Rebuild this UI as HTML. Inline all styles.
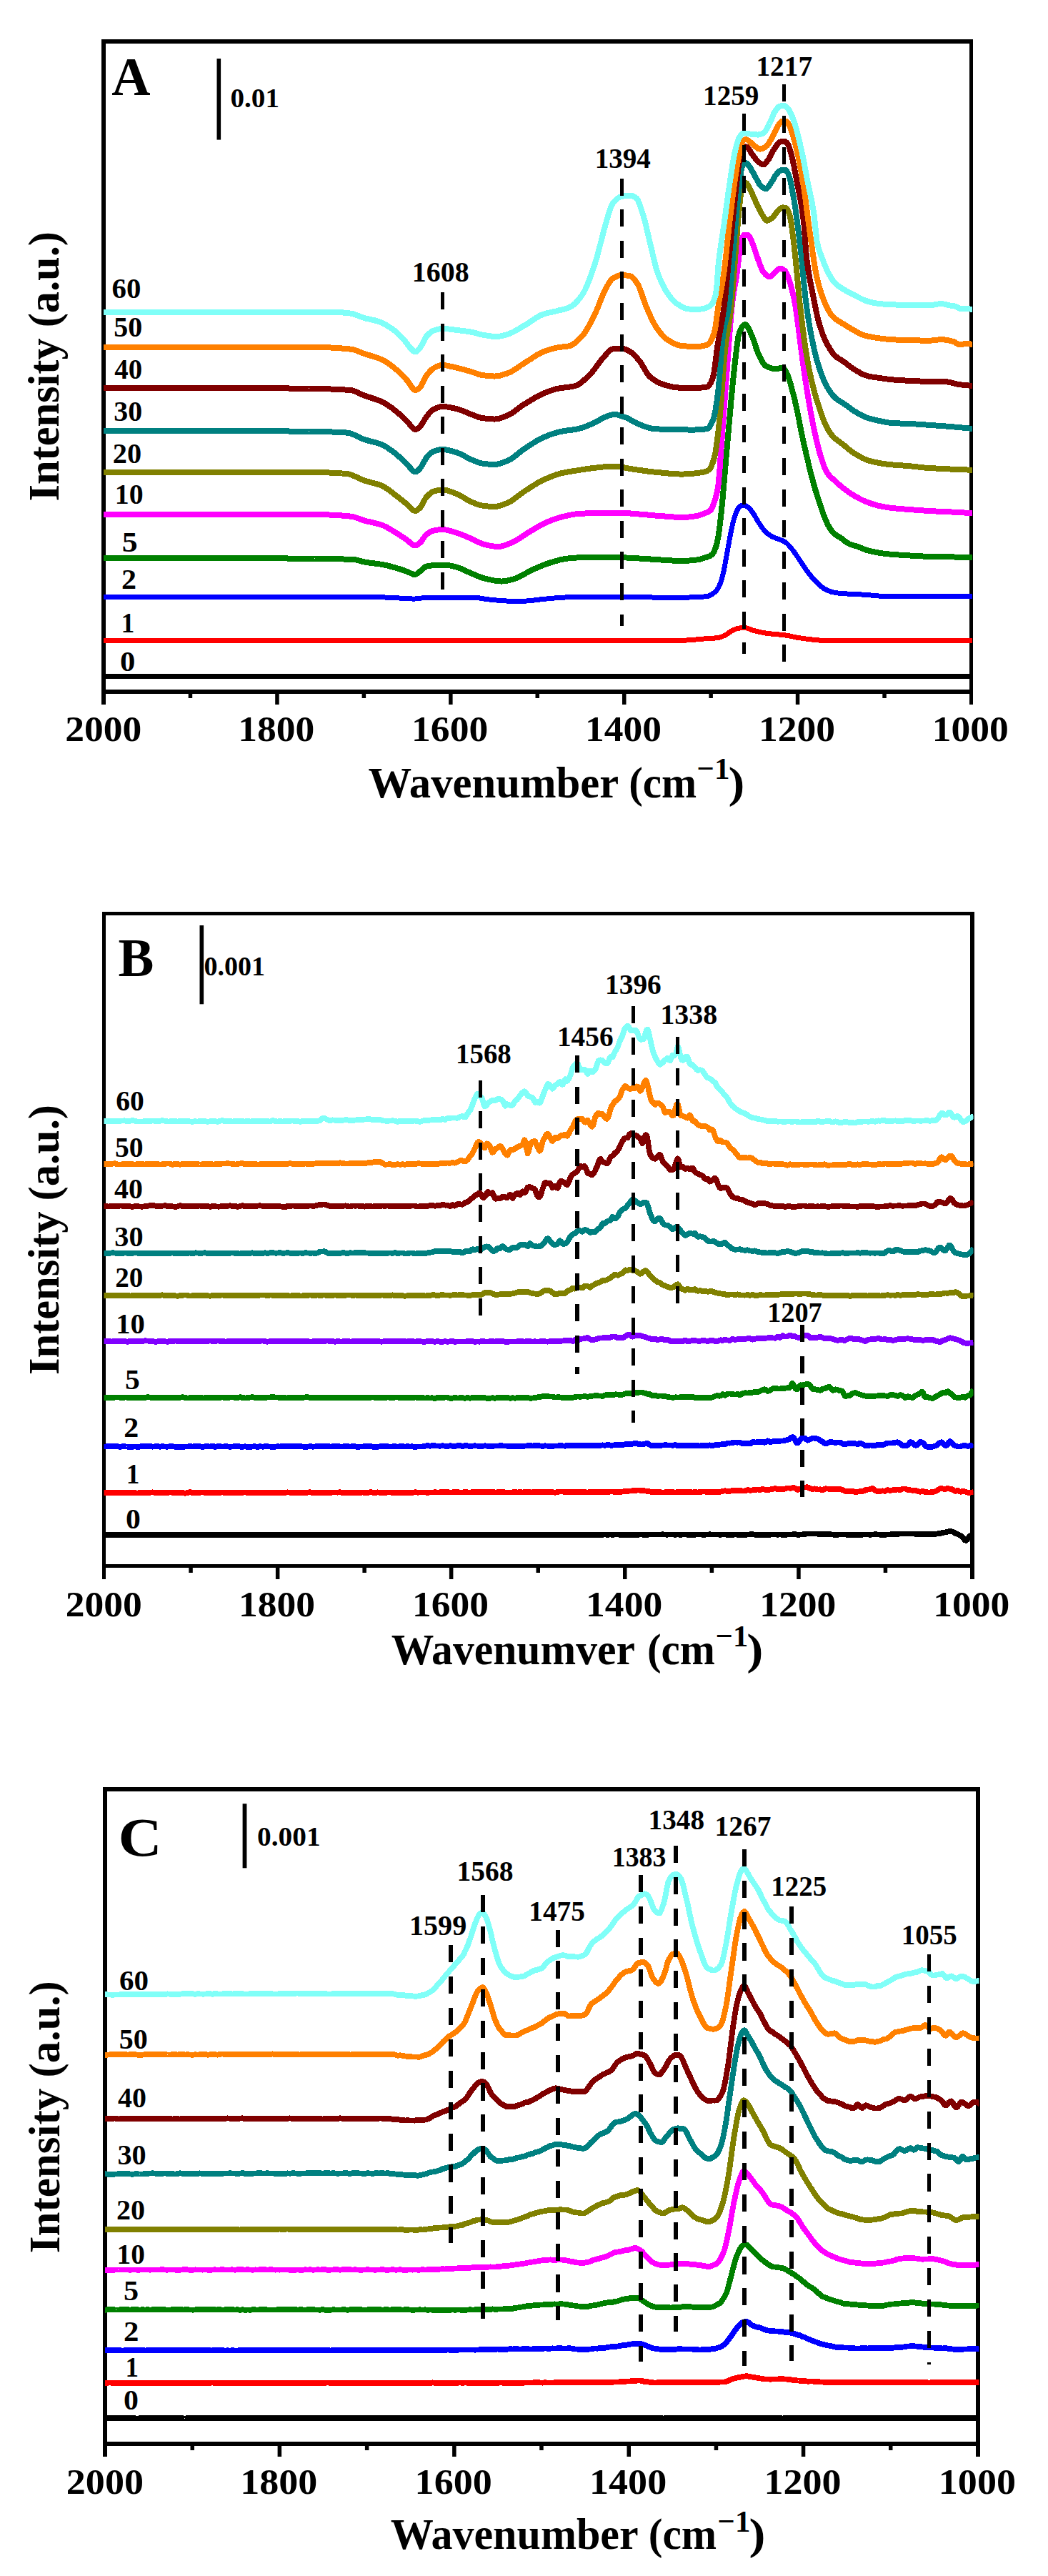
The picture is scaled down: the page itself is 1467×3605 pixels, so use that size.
<!DOCTYPE html>
<html><head><meta charset="utf-8"><title>Spectra</title><style>html,body{margin:0;padding:0;background:#fff}svg{display:block}svg text{font-family:"Liberation Serif",serif;font-weight:bold}</style></head><body>
<svg width="1467" height="3605" viewBox="0 0 1467 3605" fill="#000">
<rect width="1467" height="3605" fill="#fff"/>
<clipPath id="clipA"><rect x="145.0" y="61" width="1216.0" height="910"/></clipPath>
<path d="M142 55H1362V971H142Z M148 61V965H1357V61Z" fill="#000" fill-rule="evenodd"/>
<rect x="142" y="971" width="6" height="15"/>
<text x="91.3" y="1037.2" font-size="51" textLength="107.1" lengthAdjust="spacingAndGlyphs">2000</text>
<rect x="263.7" y="971" width="5.5" height="6"/>
<rect x="385.2" y="971" width="5.5" height="15"/>
<text x="333.2" y="1037.2" font-size="51" textLength="107.1" lengthAdjust="spacingAndGlyphs">1800</text>
<rect x="506.6" y="971" width="5.5" height="6"/>
<rect x="628.1" y="971" width="5.5" height="15"/>
<text x="576.1" y="1037.2" font-size="51" textLength="107.1" lengthAdjust="spacingAndGlyphs">1600</text>
<rect x="749.5" y="971" width="5.5" height="6"/>
<rect x="871.0" y="971" width="5.5" height="15"/>
<text x="819.0" y="1037.2" font-size="51" textLength="107.1" lengthAdjust="spacingAndGlyphs">1400</text>
<rect x="992.4" y="971" width="5.5" height="6"/>
<rect x="1113.8" y="971" width="5.5" height="15"/>
<text x="1061.9" y="1037.2" font-size="51" textLength="107.1" lengthAdjust="spacingAndGlyphs">1200</text>
<rect x="1235.3" y="971" width="5.5" height="6"/>
<rect x="1357" y="971" width="5" height="15"/>
<text x="1304.8" y="1037.2" font-size="51" textLength="107.1" lengthAdjust="spacingAndGlyphs">1000</text>
<g clip-path="url(#clipA)" fill="none" shape-rendering="crispEdges" stroke-linejoin="round" stroke-width="8">
<path d="M140.0 946.4L142.0 946.4L144.0 946.4L146.0 946.4L148.0 946.4L150.0 946.4L152.0 946.4L154.0 946.4L156.0 946.4L158.0 946.4L160.0 946.4L162.0 946.4L164.0 946.4L166.0 946.4L168.0 946.4L170.0 946.4L172.0 946.4L174.0 946.4L176.0 946.4L178.0 946.4L180.0 946.4L182.0 946.4L184.0 946.4L186.0 946.4L188.0 946.4L190.0 946.4L192.0 946.4L194.0 946.4L196.0 946.4L198.0 946.4L200.0 946.4L202.0 946.4L204.0 946.4L206.0 946.4L208.0 946.4L210.0 946.4L212.0 946.4L214.0 946.4L216.0 946.4L218.0 946.4L220.0 946.4L222.0 946.4L224.0 946.4L226.0 946.4L228.0 946.4L230.0 946.4L232.0 946.4L234.0 946.4L236.0 946.4L238.0 946.4L240.0 946.4L242.0 946.4L244.0 946.4L246.0 946.4L248.0 946.4L250.0 946.4L252.0 946.4L254.0 946.4L256.0 946.4L258.0 946.4L260.0 946.4L262.0 946.4L264.0 946.4L266.0 946.4L268.0 946.4L270.0 946.4L272.0 946.4L274.0 946.4L276.0 946.4L278.0 946.4L280.0 946.4L282.0 946.4L284.0 946.4L286.0 946.4L288.0 946.4L290.0 946.4L292.0 946.4L294.0 946.4L296.0 946.4L298.0 946.4L300.0 946.4L302.0 946.4L304.0 946.4L306.0 946.4L308.0 946.4L310.0 946.4L312.0 946.4L314.0 946.4L316.0 946.4L318.0 946.4L320.0 946.4L322.0 946.4L324.0 946.4L326.0 946.4L328.0 946.4L330.0 946.4L332.0 946.4L334.0 946.4L336.0 946.4L338.0 946.4L340.0 946.4L342.0 946.4L344.0 946.4L346.0 946.4L348.0 946.4L350.0 946.4L352.0 946.4L354.0 946.4L356.0 946.4L358.0 946.4L360.0 946.4L362.0 946.4L364.0 946.4L366.0 946.4L368.0 946.4L370.0 946.4L372.0 946.4L374.0 946.4L376.0 946.4L378.0 946.4L380.0 946.4L382.0 946.4L384.0 946.4L386.0 946.4L388.0 946.4L390.0 946.4L392.0 946.4L394.0 946.4L396.0 946.4L398.0 946.4L400.0 946.4L402.0 946.4L404.0 946.4L406.0 946.4L408.0 946.4L410.0 946.4L412.0 946.4L414.0 946.4L416.0 946.4L418.0 946.4L420.0 946.4L422.0 946.4L424.0 946.4L426.0 946.4L428.0 946.4L430.0 946.4L432.0 946.4L434.0 946.4L436.0 946.4L438.0 946.4L440.0 946.4L442.0 946.4L444.0 946.4L446.0 946.4L448.0 946.4L450.0 946.4L452.0 946.4L454.0 946.4L456.0 946.4L458.0 946.4L460.0 946.4L462.0 946.4L464.0 946.4L466.0 946.4L468.0 946.4L470.0 946.4L472.0 946.4L474.0 946.4L476.0 946.4L478.0 946.4L480.0 946.4L482.0 946.4L484.0 946.4L486.0 946.4L488.0 946.4L490.0 946.4L492.0 946.4L494.0 946.4L496.0 946.4L498.0 946.4L500.0 946.4L502.0 946.4L504.0 946.4L506.0 946.4L508.0 946.4L510.0 946.4L512.0 946.4L514.0 946.4L516.0 946.4L518.0 946.4L520.0 946.4L522.0 946.4L524.0 946.4L526.0 946.4L528.0 946.4L530.0 946.4L532.0 946.4L534.0 946.4L536.0 946.4L538.0 946.4L540.0 946.4L542.0 946.4L544.0 946.4L546.0 946.4L548.0 946.4L550.0 946.4L552.0 946.4L554.0 946.4L556.0 946.4L558.0 946.4L560.0 946.4L562.0 946.4L564.0 946.4L566.0 946.4L568.0 946.4L570.0 946.4L572.0 946.4L574.0 946.4L576.0 946.4L578.0 946.4L580.0 946.4L582.0 946.4L584.0 946.4L586.0 946.4L588.0 946.4L590.0 946.4L592.0 946.4L594.0 946.4L596.0 946.4L598.0 946.4L600.0 946.4L602.0 946.4L604.0 946.4L606.0 946.4L608.0 946.4L610.0 946.4L612.0 946.4L614.0 946.4L616.0 946.4L618.0 946.4L620.0 946.4L622.0 946.4L624.0 946.4L626.0 946.4L628.0 946.4L630.0 946.4L632.0 946.4L634.0 946.4L636.0 946.4L638.0 946.4L640.0 946.4L642.0 946.4L644.0 946.4L646.0 946.4L648.0 946.4L650.0 946.4L652.0 946.4L654.0 946.4L656.0 946.4L658.0 946.4L660.0 946.4L662.0 946.4L664.0 946.4L666.0 946.4L668.0 946.4L670.0 946.4L672.0 946.4L674.0 946.4L676.0 946.4L678.0 946.4L680.0 946.4L682.0 946.4L684.0 946.4L686.0 946.4L688.0 946.4L690.0 946.4L692.0 946.4L694.0 946.4L696.0 946.4L698.0 946.4L700.0 946.4L702.0 946.4L704.0 946.4L706.0 946.4L708.0 946.4L710.0 946.4L712.0 946.4L714.0 946.4L716.0 946.4L718.0 946.4L720.0 946.4L722.0 946.4L724.0 946.4L726.0 946.4L728.0 946.4L730.0 946.4L732.0 946.4L734.0 946.4L736.0 946.4L738.0 946.4L740.0 946.4L742.0 946.4L744.0 946.4L746.0 946.4L748.0 946.4L750.0 946.4L752.0 946.4L754.0 946.4L756.0 946.4L758.0 946.4L760.0 946.4L762.0 946.4L764.0 946.4L766.0 946.4L768.0 946.4L770.0 946.4L772.0 946.4L774.0 946.4L776.0 946.4L778.0 946.4L780.0 946.4L782.0 946.4L784.0 946.4L786.0 946.4L788.0 946.4L790.0 946.4L792.0 946.4L794.0 946.4L796.0 946.4L798.0 946.4L800.0 946.4L802.0 946.4L804.0 946.4L806.0 946.4L808.0 946.4L810.0 946.4L812.0 946.4L814.0 946.4L816.0 946.4L818.0 946.4L820.0 946.4L822.0 946.4L824.0 946.4L826.0 946.4L828.0 946.4L830.0 946.4L832.0 946.4L834.0 946.4L836.0 946.4L838.0 946.4L840.0 946.4L842.0 946.4L844.0 946.4L846.0 946.4L848.0 946.4L850.0 946.4L852.0 946.4L854.0 946.4L856.0 946.4L858.0 946.4L860.0 946.4L862.0 946.4L864.0 946.4L866.0 946.4L868.0 946.4L870.0 946.4L872.0 946.4L874.0 946.4L876.0 946.4L878.0 946.4L880.0 946.4L882.0 946.4L884.0 946.4L886.0 946.4L888.0 946.4L890.0 946.4L892.0 946.4L894.0 946.4L896.0 946.4L898.0 946.4L900.0 946.4L902.0 946.4L904.0 946.4L906.0 946.4L908.0 946.4L910.0 946.4L912.0 946.4L914.0 946.4L916.0 946.4L918.0 946.4L920.0 946.4L922.0 946.4L924.0 946.4L926.0 946.4L928.0 946.4L930.0 946.4L932.0 946.4L934.0 946.4L936.0 946.4L938.0 946.4L940.0 946.4L942.0 946.4L944.0 946.4L946.0 946.4L948.0 946.4L950.0 946.4L952.0 946.4L954.0 946.4L956.0 946.4L958.0 946.4L960.0 946.4L962.0 946.4L964.0 946.4L966.0 946.4L968.0 946.4L970.0 946.4L972.0 946.4L974.0 946.4L976.0 946.4L978.0 946.4L980.0 946.4L982.0 946.4L984.0 946.4L986.0 946.4L988.0 946.4L990.0 946.4L992.0 946.4L994.0 946.4L996.0 946.4L998.0 946.4L1000.0 946.4L1002.0 946.4L1004.0 946.4L1006.0 946.4L1008.0 946.4L1010.0 946.4L1012.0 946.4L1014.0 946.4L1016.0 946.4L1018.0 946.4L1020.0 946.4L1022.0 946.4L1024.0 946.4L1026.0 946.4L1028.0 946.4L1030.0 946.4L1032.0 946.4L1034.0 946.4L1036.0 946.4L1038.0 946.4L1040.0 946.4L1042.0 946.4L1044.0 946.4L1046.0 946.4L1048.0 946.4L1050.0 946.4L1052.0 946.4L1054.0 946.4L1056.0 946.4L1058.0 946.4L1060.0 946.4L1062.0 946.4L1064.0 946.4L1066.0 946.4L1068.0 946.4L1070.0 946.4L1072.0 946.4L1074.0 946.4L1076.0 946.4L1078.0 946.4L1080.0 946.4L1082.0 946.4L1084.0 946.4L1086.0 946.4L1088.0 946.4L1090.0 946.4L1092.0 946.4L1094.0 946.4L1096.0 946.4L1098.0 946.4L1100.0 946.4L1102.0 946.4L1104.0 946.4L1106.0 946.4L1108.0 946.4L1110.0 946.4L1112.0 946.4L1114.0 946.4L1116.0 946.4L1118.0 946.4L1120.0 946.4L1122.0 946.4L1124.0 946.4L1126.0 946.4L1128.0 946.4L1130.0 946.4L1132.0 946.4L1134.0 946.4L1136.0 946.4L1138.0 946.4L1140.0 946.4L1142.0 946.4L1144.0 946.4L1146.0 946.4L1148.0 946.4L1150.0 946.4L1152.0 946.4L1154.0 946.4L1156.0 946.4L1158.0 946.4L1160.0 946.4L1162.0 946.4L1164.0 946.4L1166.0 946.4L1168.0 946.4L1170.0 946.4L1172.0 946.4L1174.0 946.4L1176.0 946.4L1178.0 946.4L1180.0 946.4L1182.0 946.4L1184.0 946.4L1186.0 946.4L1188.0 946.4L1190.0 946.4L1192.0 946.4L1194.0 946.4L1196.0 946.4L1198.0 946.4L1200.0 946.4L1202.0 946.4L1204.0 946.4L1206.0 946.4L1208.0 946.4L1210.0 946.4L1212.0 946.4L1214.0 946.4L1216.0 946.4L1218.0 946.4L1220.0 946.4L1222.0 946.4L1224.0 946.4L1226.0 946.4L1228.0 946.4L1230.0 946.4L1232.0 946.4L1234.0 946.4L1236.0 946.4L1238.0 946.4L1240.0 946.4L1242.0 946.4L1244.0 946.4L1246.0 946.4L1248.0 946.4L1250.0 946.4L1252.0 946.4L1254.0 946.4L1256.0 946.4L1258.0 946.4L1260.0 946.4L1262.0 946.4L1264.0 946.4L1266.0 946.4L1268.0 946.4L1270.0 946.4L1272.0 946.4L1274.0 946.4L1276.0 946.4L1278.0 946.4L1280.0 946.4L1282.0 946.4L1284.0 946.4L1286.0 946.4L1288.0 946.4L1290.0 946.4L1292.0 946.4L1294.0 946.4L1296.0 946.4L1298.0 946.4L1300.0 946.4L1302.0 946.4L1304.0 946.4L1306.0 946.4L1308.0 946.4L1310.0 946.4L1312.0 946.4L1314.0 946.4L1316.0 946.4L1318.0 946.4L1320.0 946.4L1322.0 946.4L1324.0 946.4L1326.0 946.4L1328.0 946.4L1330.0 946.4L1332.0 946.4L1334.0 946.4L1336.0 946.4L1338.0 946.4L1340.0 946.4L1342.0 946.4L1344.0 946.4L1346.0 946.4L1348.0 946.4L1350.0 946.4L1352.0 946.4L1354.0 946.4L1356.0 946.4L1358.0 946.4L1360.0 946.4L1362.0 946.4" stroke="#000000" stroke-width="7"/>
<path d="M140.0 896.2L142.0 896.2L144.0 896.2L146.0 896.2L148.0 896.2L150.0 896.2L152.0 896.2L154.0 896.2L156.0 896.2L158.0 896.2L160.0 896.2L162.0 896.2L164.0 896.2L166.0 896.2L168.0 896.2L170.0 896.2L172.1 896.3L174.1 896.3L176.1 896.3L178.1 896.3L180.1 896.3L182.1 896.3L184.1 896.3L186.1 896.3L188.1 896.3L190.1 896.3L192.1 896.3L194.1 896.3L196.1 896.3L198.1 896.3L200.1 896.3L202.1 896.3L204.1 896.3L206.1 896.3L208.1 896.3L210.1 896.3L212.1 896.3L214.1 896.3L216.1 896.3L218.1 896.3L220.1 896.3L222.1 896.3L224.1 896.3L226.1 896.3L228.1 896.3L230.1 896.3L232.1 896.3L234.2 896.3L236.2 896.3L238.2 896.3L240.2 896.3L242.2 896.3L244.2 896.3L246.2 896.3L248.2 896.4L250.2 896.4L252.2 896.4L254.2 896.4L256.2 896.4L258.2 896.4L260.2 896.4L262.2 896.4L264.2 896.4L266.2 896.4L268.2 896.4L270.2 896.4L272.2 896.4L274.2 896.4L276.2 896.4L278.2 896.4L280.2 896.4L282.2 896.4L284.2 896.4L286.2 896.4L288.2 896.4L290.2 896.4L292.2 896.4L294.2 896.4L296.2 896.4L298.3 896.4L300.3 896.4L302.3 896.4L304.3 896.4L306.3 896.4L308.3 896.4L310.3 896.4L312.3 896.4L314.3 896.4L316.3 896.4L318.3 896.4L320.3 896.4L322.3 896.4L324.3 896.4L326.3 896.4L328.3 896.4L330.3 896.4L332.3 896.4L334.3 896.4L336.3 896.4L338.3 896.4L340.3 896.4L342.3 896.4L344.3 896.4L346.3 896.4L348.3 896.4L350.3 896.4L352.3 896.4L354.3 896.4L356.3 896.4L358.3 896.4L360.4 896.4L362.4 896.4L364.4 896.4L366.4 896.4L368.4 896.4L370.4 896.4L372.4 896.4L374.4 896.5L376.4 896.5L378.4 896.5L380.4 896.5L382.4 896.5L384.4 896.5L386.4 896.5L388.4 896.5L390.4 896.5L392.4 896.5L394.4 896.5L396.4 896.5L398.4 896.5L400.4 896.5L402.4 896.5L404.4 896.5L406.4 896.5L408.4 896.5L410.4 896.5L412.4 896.5L414.4 896.5L416.4 896.5L418.4 896.5L420.4 896.5L422.5 896.5L424.5 896.5L426.5 896.5L428.5 896.5L430.5 896.5L432.5 896.5L434.5 896.5L436.5 896.5L438.5 896.5L440.5 896.5L442.5 896.5L444.5 896.5L446.5 896.5L448.5 896.5L450.5 896.5L452.5 896.5L454.5 896.5L456.5 896.5L458.5 896.5L460.5 896.5L462.5 896.5L464.5 896.5L466.5 896.5L468.5 896.5L470.5 896.5L472.5 896.5L474.5 896.5L476.5 896.5L478.5 896.5L480.5 896.5L482.5 896.5L484.6 896.5L486.6 896.5L488.6 896.5L490.6 896.5L492.6 896.5L494.6 896.5L496.6 896.5L498.6 896.5L500.6 896.5L502.6 896.5L504.6 896.5L506.6 896.5L508.6 896.5L510.6 896.5L512.6 896.5L514.6 896.5L516.6 896.5L518.6 896.5L520.6 896.5L522.6 896.5L524.6 896.5L526.6 896.5L528.6 896.5L530.6 896.5L532.6 896.5L534.6 896.5L536.6 896.5L538.6 896.5L540.6 896.5L542.6 896.5L544.6 896.5L546.6 896.5L548.7 896.5L550.7 896.5L552.7 896.5L554.7 896.5L556.7 896.5L558.7 896.5L560.7 896.5L562.7 896.5L564.7 896.5L566.7 896.5L568.7 896.5L570.7 896.5L572.7 896.5L574.7 896.5L576.7 896.5L578.7 896.5L580.7 896.5L582.7 896.5L584.7 896.5L586.7 896.5L588.7 896.5L590.7 896.5L592.7 896.5L594.7 896.5L596.7 896.5L598.7 896.5L600.7 896.5L602.7 896.5L604.7 896.5L606.7 896.5L608.7 896.5L610.8 896.5L612.8 896.5L614.8 896.5L616.8 896.5L618.8 896.5L620.8 896.5L622.8 896.5L624.8 896.5L626.8 896.5L628.8 896.5L630.8 896.5L632.8 896.5L634.8 896.5L636.8 896.5L638.8 896.5L640.8 896.5L642.8 896.5L644.8 896.5L646.8 896.5L648.8 896.5L650.8 896.5L652.8 896.5L654.8 896.5L656.8 896.5L658.8 896.5L660.8 896.5L662.8 896.5L664.8 896.5L666.8 896.5L668.8 896.5L670.8 896.5L672.9 896.5L674.9 896.5L676.9 896.5L678.9 896.5L680.9 896.5L682.9 896.5L684.9 896.5L686.9 896.5L688.9 896.5L690.9 896.5L692.9 896.5L694.9 896.5L696.9 896.5L698.9 896.5L700.9 896.5L702.9 896.5L704.9 896.5L706.9 896.5L708.9 896.5L710.9 896.5L712.9 896.5L714.9 896.5L716.9 896.5L718.9 896.5L720.9 896.5L722.9 896.5L724.9 896.5L726.9 896.5L728.9 896.5L730.9 896.5L732.9 896.5L735.0 896.5L737.0 896.5L739.0 896.5L741.0 896.5L743.0 896.5L745.0 896.5L747.0 896.5L749.0 896.5L751.0 896.5L753.0 896.5L755.0 896.5L757.0 896.5L759.0 896.5L761.0 896.5L763.0 896.5L765.0 896.5L767.0 896.5L769.0 896.5L771.0 896.5L773.0 896.5L775.0 896.5L777.0 896.5L779.0 896.5L781.0 896.5L783.0 896.4L785.0 896.4L787.0 896.4L789.0 896.4L791.0 896.4L793.0 896.4L795.0 896.4L797.0 896.4L799.1 896.4L801.1 896.4L803.1 896.4L805.1 896.4L807.1 896.4L809.1 896.4L811.1 896.4L813.1 896.4L815.1 896.4L817.1 896.4L819.1 896.4L821.1 896.4L823.1 896.4L825.1 896.4L827.1 896.4L829.1 896.4L831.1 896.4L833.1 896.4L835.1 896.4L837.1 896.4L839.1 896.4L841.1 896.4L843.1 896.4L845.1 896.4L847.1 896.4L849.1 896.4L851.1 896.3L853.1 896.3L855.1 896.3L857.1 896.3L859.1 896.3L861.2 896.3L863.2 896.3L865.2 896.3L867.2 896.3L869.2 896.3L871.2 896.3L873.2 896.3L875.2 896.3L877.2 896.3L879.2 896.3L881.2 896.3L883.2 896.3L885.2 896.3L887.2 896.3L889.2 896.3L891.2 896.2L893.2 896.2L895.2 896.2L897.2 896.2L899.2 896.2L901.2 896.2L903.2 896.2L905.2 896.2L907.2 896.2L909.2 896.2L911.2 896.2L913.2 896.2L915.2 896.2L917.2 896.2L919.2 896.2L921.2 896.2L923.3 896.1L925.3 896.1L927.3 896.1L929.3 896.1L931.3 896.1L933.3 896.1L935.3 896.1L937.3 896.1L939.3 896.1L941.3 896.1L943.3 896.1L945.3 896.1L947.3 896.1L949.3 896.0L951.3 896.0L953.3 896.0L955.3 896.0L957.3 896.0L959.3 896.0L961.3 896.0L963.3 895.9L965.3 895.8L967.3 895.7L969.3 895.5L971.3 895.3L973.3 895.1L975.3 894.9L977.3 894.7L979.3 894.5L981.3 894.3L983.3 894.1L985.4 894.0L987.4 893.8L989.4 893.7L991.4 893.6L993.4 893.5L995.4 893.4L997.4 893.2L999.4 893.1L1001.4 892.9L1003.4 892.7L1005.4 892.4L1007.4 892.0L1009.4 891.4L1011.4 890.6L1013.4 889.7L1015.4 888.8L1017.4 887.6L1019.4 886.2L1021.4 884.7L1023.4 883.4L1025.4 882.3L1027.4 881.4L1029.4 880.5L1031.4 879.8L1033.4 879.3L1035.4 879.0L1037.4 878.8L1039.4 878.6L1041.4 878.5L1043.4 878.5L1045.4 878.9L1047.4 879.6L1049.5 880.4L1051.5 881.3L1053.5 882.0L1055.5 882.6L1057.5 883.1L1059.5 883.6L1061.5 884.0L1063.5 884.5L1065.5 884.9L1067.5 885.3L1069.5 885.6L1071.5 886.0L1073.5 886.3L1075.5 886.6L1077.5 886.8L1079.5 887.0L1081.5 887.2L1083.5 887.4L1085.5 887.6L1087.5 887.8L1089.5 887.9L1091.5 888.1L1093.5 888.3L1095.5 888.5L1097.5 888.7L1099.5 889.0L1101.5 889.2L1103.5 889.6L1105.5 890.0L1107.5 890.5L1109.5 890.9L1111.6 891.4L1113.6 891.8L1115.6 892.2L1117.6 892.5L1119.6 892.8L1121.6 893.1L1123.6 893.4L1125.6 893.7L1127.6 894.0L1129.6 894.2L1131.6 894.5L1133.6 894.7L1135.6 894.9L1137.6 895.1L1139.6 895.3L1141.6 895.6L1143.6 895.8L1145.6 895.9L1147.6 896.1L1149.6 896.2L1151.6 896.2L1153.6 896.2L1155.6 896.2L1157.6 896.2L1159.6 896.2L1161.6 896.2L1163.6 896.2L1165.6 896.2L1167.6 896.2L1169.6 896.2L1171.6 896.2L1173.7 896.2L1175.7 896.2L1177.7 896.2L1179.7 896.2L1181.7 896.2L1183.7 896.2L1185.7 896.2L1187.7 896.2L1189.7 896.2L1191.7 896.2L1193.7 896.2L1195.7 896.2L1197.7 896.2L1199.7 896.2L1201.7 896.2L1203.7 896.2L1205.7 896.2L1207.7 896.2L1209.7 896.2L1211.7 896.2L1213.7 896.2L1215.7 896.2L1217.7 896.2L1219.7 896.2L1221.7 896.2L1223.7 896.2L1225.7 896.2L1227.7 896.2L1229.7 896.2L1231.7 896.2L1233.7 896.2L1235.8 896.2L1237.8 896.2L1239.8 896.2L1241.8 896.2L1243.8 896.2L1245.8 896.2L1247.8 896.2L1249.8 896.2L1251.8 896.2L1253.8 896.2L1255.8 896.2L1257.8 896.2L1259.8 896.2L1261.8 896.2L1263.8 896.2L1265.8 896.2L1267.8 896.2L1269.8 896.2L1271.8 896.2L1273.8 896.2L1275.8 896.2L1277.8 896.2L1279.8 896.2L1281.8 896.2L1283.8 896.2L1285.8 896.2L1287.8 896.2L1289.8 896.2L1291.8 896.2L1293.8 896.2L1295.8 896.2L1297.9 896.2L1299.9 896.2L1301.9 896.2L1303.9 896.2L1305.9 896.2L1307.9 896.2L1309.9 896.2L1311.9 896.2L1313.9 896.2L1315.9 896.2L1317.9 896.2L1319.9 896.2L1321.9 896.2L1323.9 896.2L1325.9 896.2L1327.9 896.2L1329.9 896.2L1331.9 896.2L1333.9 896.2L1335.9 896.2L1337.9 896.2L1339.9 896.2L1341.9 896.2L1343.9 896.2L1345.9 896.2L1347.9 896.2L1349.9 896.2L1351.9 896.2L1353.9 896.2L1355.9 896.2L1357.9 896.2L1359.9 896.2L1362.0 896.2" stroke="#FF0000" stroke-width="7"/>
<path d="M140.0 835.5L142.0 835.5L144.0 835.5L146.0 835.5L148.0 835.5L150.0 835.5L152.0 835.4L154.0 835.4L156.0 835.4L158.0 835.4L160.0 835.4L162.0 835.4L164.0 835.4L166.0 835.4L168.0 835.4L170.0 835.4L172.1 835.4L174.1 835.4L176.1 835.4L178.1 835.4L180.1 835.3L182.1 835.3L184.1 835.3L186.1 835.3L188.1 835.3L190.1 835.3L192.1 835.3L194.1 835.3L196.1 835.3L198.1 835.3L200.1 835.3L202.1 835.3L204.1 835.3L206.1 835.3L208.1 835.3L210.1 835.3L212.1 835.2L214.1 835.2L216.1 835.2L218.1 835.2L220.1 835.2L222.1 835.2L224.1 835.2L226.1 835.2L228.1 835.2L230.1 835.2L232.1 835.2L234.2 835.2L236.2 835.2L238.2 835.2L240.2 835.2L242.2 835.2L244.2 835.2L246.2 835.2L248.2 835.2L250.2 835.2L252.2 835.2L254.2 835.1L256.2 835.1L258.2 835.1L260.2 835.1L262.2 835.1L264.2 835.1L266.2 835.1L268.2 835.1L270.2 835.1L272.2 835.1L274.2 835.1L276.2 835.1L278.2 835.1L280.2 835.1L282.2 835.1L284.2 835.1L286.2 835.1L288.2 835.1L290.2 835.1L292.2 835.1L294.2 835.1L296.2 835.1L298.3 835.1L300.3 835.1L302.3 835.1L304.3 835.1L306.3 835.1L308.3 835.1L310.3 835.1L312.3 835.1L314.3 835.1L316.3 835.1L318.3 835.1L320.3 835.1L322.3 835.0L324.3 835.0L326.3 835.0L328.3 835.0L330.3 835.0L332.3 835.0L334.3 835.0L336.3 835.0L338.3 835.0L340.3 835.0L342.3 835.0L344.3 835.0L346.3 835.0L348.3 835.0L350.3 835.0L352.3 835.0L354.3 835.0L356.3 835.0L358.3 835.0L360.4 835.0L362.4 835.0L364.4 835.0L366.4 835.0L368.4 835.0L370.4 835.0L372.4 835.0L374.4 835.0L376.4 835.0L378.4 835.0L380.4 835.0L382.4 835.0L384.4 835.0L386.4 835.0L388.4 835.0L390.4 835.0L392.4 835.0L394.4 835.0L396.4 835.0L398.4 835.0L400.4 835.0L402.4 835.0L404.4 835.0L406.4 835.0L408.4 835.0L410.4 835.0L412.4 835.0L414.4 835.0L416.4 835.0L418.4 835.0L420.4 835.0L422.5 835.0L424.5 835.0L426.5 835.0L428.5 835.0L430.5 835.0L432.5 835.0L434.5 835.0L436.5 835.0L438.5 835.0L440.5 835.0L442.5 835.0L444.5 835.0L446.5 835.0L448.5 835.0L450.5 835.0L452.5 835.0L454.5 835.0L456.5 835.0L458.5 835.0L460.5 835.0L462.5 835.0L464.5 835.0L466.5 835.0L468.5 835.0L470.5 835.0L472.5 835.0L474.5 835.0L476.5 835.0L478.5 835.0L480.5 835.0L482.5 835.0L484.6 835.0L486.6 835.0L488.6 835.0L490.6 835.0L492.6 835.1L494.6 835.1L496.6 835.1L498.6 835.1L500.6 835.2L502.6 835.2L504.6 835.2L506.6 835.2L508.6 835.3L510.6 835.3L512.6 835.4L514.6 835.4L516.6 835.4L518.6 835.5L520.6 835.5L522.6 835.6L524.6 835.6L526.6 835.7L528.6 835.7L530.6 835.8L532.6 835.8L534.6 835.9L536.6 835.9L538.6 836.0L540.6 836.0L542.6 836.1L544.6 836.2L546.6 836.3L548.7 836.4L550.7 836.5L552.7 836.6L554.7 836.8L556.7 836.9L558.7 837.0L560.7 837.2L562.7 837.3L564.7 837.4L566.7 837.6L568.7 837.7L570.7 837.8L572.7 837.9L574.7 837.9L576.7 838.0L578.7 838.0L580.7 838.0L582.7 837.9L584.7 837.7L586.7 837.5L588.7 837.2L590.7 836.9L592.7 836.6L594.7 836.3L596.7 836.1L598.7 836.0L600.7 836.0L602.7 836.0L604.7 836.0L606.7 836.0L608.7 836.0L610.8 836.0L612.8 836.0L614.8 836.0L616.8 836.0L618.8 836.0L620.8 836.0L622.8 836.0L624.8 836.0L626.8 836.0L628.8 836.0L630.8 836.0L632.8 836.0L634.8 836.0L636.8 836.0L638.8 836.0L640.8 836.0L642.8 836.0L644.8 836.0L646.8 836.0L648.8 836.0L650.8 836.0L652.8 836.0L654.8 836.0L656.8 836.0L658.8 836.0L660.8 836.0L662.8 836.1L664.8 836.2L666.8 836.4L668.8 836.7L670.8 836.9L672.9 837.3L674.9 837.6L676.9 837.9L678.9 838.2L680.9 838.5L682.9 838.8L684.9 839.0L686.9 839.2L688.9 839.4L690.9 839.6L692.9 839.8L694.9 840.0L696.9 840.2L698.9 840.4L700.9 840.6L702.9 840.7L704.9 840.9L706.9 840.9L708.9 841.0L710.9 841.0L712.9 841.0L714.9 841.0L716.9 841.0L718.9 841.0L720.9 841.0L722.9 841.0L724.9 841.0L726.9 841.0L728.9 841.0L730.9 841.0L732.9 841.0L735.0 841.0L737.0 841.0L739.0 840.9L741.0 840.7L743.0 840.6L745.0 840.3L747.0 840.1L749.0 839.8L751.0 839.6L753.0 839.3L755.0 839.1L757.0 838.8L759.0 838.6L761.0 838.4L763.0 838.2L765.0 838.0L767.0 837.8L769.0 837.6L771.0 837.4L773.0 837.3L775.0 837.1L777.0 836.9L779.0 836.7L781.0 836.6L783.0 836.4L785.0 836.3L787.0 836.1L789.0 836.0L791.0 836.0L793.0 835.9L795.0 835.8L797.0 835.7L799.1 835.6L801.1 835.5L803.1 835.5L805.1 835.4L807.1 835.3L809.1 835.3L811.1 835.2L813.1 835.2L815.1 835.1L817.1 835.1L819.1 835.0L821.1 835.0L823.1 835.0L825.1 835.0L827.1 835.0L829.1 835.0L831.1 835.0L833.1 835.0L835.1 835.0L837.1 835.0L839.1 835.0L841.1 835.0L843.1 835.0L845.1 835.0L847.1 835.0L849.1 835.0L851.1 835.0L853.1 835.0L855.1 835.0L857.1 835.0L859.1 835.0L861.2 835.0L863.2 835.0L865.2 835.0L867.2 835.0L869.2 835.0L871.2 835.0L873.2 835.0L875.2 835.0L877.2 835.1L879.2 835.1L881.2 835.1L883.2 835.2L885.2 835.2L887.2 835.3L889.2 835.3L891.2 835.4L893.2 835.4L895.2 835.5L897.2 835.6L899.2 835.6L901.2 835.7L903.2 835.7L905.2 835.8L907.2 835.8L909.2 835.9L911.2 835.9L913.2 836.0L915.2 836.0L917.2 836.0L919.2 836.0L921.2 836.0L923.3 836.0L925.3 836.0L927.3 836.0L929.3 836.0L931.3 836.0L933.3 836.0L935.3 836.0L937.3 836.0L939.3 836.0L941.3 836.0L943.3 836.0L945.3 836.0L947.3 836.0L949.3 836.0L951.3 836.0L953.3 836.0L955.3 836.0L957.3 836.0L959.3 836.0L961.3 836.0L963.3 836.0L965.3 836.0L967.3 835.9L969.3 835.9L971.3 835.8L973.3 835.7L975.3 835.6L977.3 835.5L979.3 835.4L981.3 835.3L983.3 835.1L985.4 835.0L987.4 834.8L989.4 834.6L991.4 834.3L993.4 833.5L995.4 832.4L997.4 831.1L999.4 829.7L1001.4 827.9L1003.4 825.6L1005.4 822.7L1007.4 818.7L1009.4 813.2L1011.4 806.4L1013.4 797.6L1015.4 786.8L1017.4 776.0L1019.4 764.8L1021.4 754.0L1023.4 743.5L1025.4 734.3L1027.4 726.5L1029.4 720.0L1031.4 715.2L1033.4 711.1L1035.4 708.7L1037.4 707.8L1039.4 707.2L1041.4 707.0L1043.4 707.6L1045.4 708.7L1047.4 710.1L1049.5 712.0L1051.5 714.5L1053.5 717.2L1055.5 720.2L1057.5 723.6L1059.5 727.1L1061.5 730.4L1063.5 733.6L1065.5 736.6L1067.5 739.4L1069.5 741.8L1071.5 744.1L1073.5 746.0L1075.5 747.6L1077.5 748.9L1079.5 750.1L1081.5 751.1L1083.5 752.1L1085.5 752.9L1087.5 753.6L1089.5 754.3L1091.5 755.0L1093.5 755.9L1095.5 756.7L1097.5 757.7L1099.5 758.9L1101.5 760.5L1103.5 762.5L1105.5 764.7L1107.5 767.1L1109.5 769.6L1111.6 772.4L1113.6 775.3L1115.6 778.2L1117.6 781.2L1119.6 784.2L1121.6 787.3L1123.6 790.3L1125.6 793.2L1127.6 796.1L1129.6 798.9L1131.6 801.6L1133.6 804.2L1135.6 806.7L1137.6 809.1L1139.6 811.4L1141.6 813.5L1143.6 815.5L1145.6 817.4L1147.6 819.2L1149.6 820.8L1151.6 822.4L1153.6 823.7L1155.6 824.8L1157.6 825.8L1159.6 826.7L1161.6 827.5L1163.6 828.2L1165.6 828.7L1167.6 829.1L1169.6 829.5L1171.6 829.8L1173.7 830.1L1175.7 830.3L1177.7 830.5L1179.7 830.7L1181.7 830.8L1183.7 830.9L1185.7 831.0L1187.7 831.1L1189.7 831.2L1191.7 831.2L1193.7 831.3L1195.7 831.4L1197.7 831.5L1199.7 831.6L1201.7 831.7L1203.7 831.8L1205.7 832.0L1207.7 832.1L1209.7 832.3L1211.7 832.4L1213.7 832.6L1215.7 832.7L1217.7 832.9L1219.7 833.1L1221.7 833.2L1223.7 833.4L1225.7 833.6L1227.7 833.8L1229.7 834.0L1231.7 834.1L1233.7 834.3L1235.8 834.4L1237.8 834.5L1239.8 834.6L1241.8 834.6L1243.8 834.6L1245.8 834.6L1247.8 834.6L1249.8 834.6L1251.8 834.6L1253.8 834.6L1255.8 834.6L1257.8 834.6L1259.8 834.6L1261.8 834.6L1263.8 834.6L1265.8 834.6L1267.8 834.6L1269.8 834.6L1271.8 834.6L1273.8 834.6L1275.8 834.6L1277.8 834.6L1279.8 834.6L1281.8 834.6L1283.8 834.6L1285.8 834.6L1287.8 834.6L1289.8 834.6L1291.8 834.6L1293.8 834.6L1295.8 834.6L1297.9 834.6L1299.9 834.6L1301.9 834.6L1303.9 834.6L1305.9 834.6L1307.9 834.6L1309.9 834.6L1311.9 834.6L1313.9 834.6L1315.9 834.6L1317.9 834.6L1319.9 834.6L1321.9 834.6L1323.9 834.6L1325.9 834.6L1327.9 834.6L1329.9 834.6L1331.9 834.6L1333.9 834.6L1335.9 834.6L1337.9 834.6L1339.9 834.6L1341.9 834.6L1343.9 834.6L1345.9 834.6L1347.9 834.6L1349.9 834.6L1351.9 834.6L1353.9 834.6L1355.9 834.6L1357.9 834.6L1359.9 834.6L1362.0 834.6" stroke="#0000FF" stroke-width="7"/>
<path d="M140.0 781.0L142.0 781.0L144.0 781.0L146.0 781.0L148.0 781.0L150.0 781.0L152.0 781.0L154.0 781.0L156.0 781.0L158.0 781.0L160.0 781.0L162.0 781.0L164.0 781.0L166.0 781.0L168.0 781.0L170.0 781.0L172.1 781.0L174.1 781.0L176.1 781.0L178.1 781.0L180.1 781.0L182.1 781.0L184.1 781.0L186.1 781.0L188.1 781.0L190.1 781.0L192.1 781.0L194.1 781.0L196.1 781.0L198.1 781.0L200.1 781.0L202.1 781.0L204.1 781.0L206.1 781.0L208.1 781.0L210.1 781.0L212.1 781.0L214.1 781.0L216.1 781.0L218.1 781.0L220.1 781.0L222.1 781.0L224.1 781.0L226.1 781.0L228.1 781.0L230.1 781.0L232.1 781.1L234.2 781.1L236.2 781.1L238.2 781.1L240.2 781.1L242.2 781.1L244.2 781.1L246.2 781.1L248.2 781.1L250.2 781.1L252.2 781.1L254.2 781.1L256.2 781.1L258.2 781.1L260.2 781.1L262.2 781.1L264.2 781.1L266.2 781.1L268.2 781.1L270.2 781.1L272.2 781.1L274.2 781.1L276.2 781.1L278.2 781.1L280.2 781.1L282.2 781.1L284.2 781.1L286.2 781.1L288.2 781.1L290.2 781.1L292.2 781.1L294.2 781.1L296.2 781.2L298.3 781.2L300.3 781.2L302.3 781.2L304.3 781.2L306.3 781.2L308.3 781.2L310.3 781.2L312.3 781.2L314.3 781.2L316.3 781.2L318.3 781.2L320.3 781.2L322.3 781.2L324.3 781.2L326.3 781.2L328.3 781.2L330.3 781.2L332.3 781.2L334.3 781.2L336.3 781.2L338.3 781.2L340.3 781.3L342.3 781.3L344.3 781.3L346.3 781.3L348.3 781.3L350.3 781.3L352.3 781.3L354.3 781.3L356.3 781.3L358.3 781.3L360.4 781.3L362.4 781.3L364.4 781.3L366.4 781.3L368.4 781.3L370.4 781.3L372.4 781.3L374.4 781.4L376.4 781.4L378.4 781.4L380.4 781.4L382.4 781.4L384.4 781.4L386.4 781.4L388.4 781.4L390.4 781.4L392.4 781.4L394.4 781.4L396.4 781.4L398.4 781.4L400.4 781.4L402.4 781.5L404.4 781.5L406.4 781.5L408.4 781.5L410.4 781.5L412.4 781.5L414.4 781.5L416.4 781.5L418.4 781.5L420.4 781.5L422.5 781.5L424.5 781.5L426.5 781.6L428.5 781.6L430.5 781.6L432.5 781.6L434.5 781.6L436.5 781.6L438.5 781.6L440.5 781.7L442.5 781.7L444.5 781.7L446.5 781.7L448.5 781.8L450.5 781.8L452.5 781.8L454.5 781.9L456.5 781.9L458.5 781.9L460.5 782.0L462.5 782.0L464.5 782.0L466.5 782.1L468.5 782.1L470.5 782.2L472.5 782.2L474.5 782.3L476.5 782.3L478.5 782.4L480.5 782.5L482.5 782.5L484.6 782.6L486.6 782.7L488.6 782.7L490.6 782.8L492.6 782.9L494.6 783.0L496.6 783.1L498.6 783.5L500.6 784.0L502.6 784.5L504.6 785.1L506.6 785.7L508.6 786.2L510.6 786.6L512.6 786.9L514.6 787.2L516.6 787.5L518.6 787.8L520.6 788.0L522.6 788.3L524.6 788.5L526.6 788.7L528.6 789.0L530.6 789.3L532.6 789.6L534.6 789.9L536.6 790.3L538.6 790.7L540.6 791.2L542.6 791.6L544.6 792.1L546.6 792.7L548.7 793.2L550.7 793.8L552.7 794.3L554.7 794.9L556.7 795.5L558.7 796.1L560.7 796.8L562.7 797.4L564.7 798.1L566.7 798.8L568.7 799.5L570.7 800.3L572.7 801.1L574.7 802.1L576.7 803.0L578.7 803.7L580.7 804.0L582.7 803.5L584.7 802.2L586.7 800.6L588.7 799.1L590.7 797.3L592.7 795.5L594.7 793.8L596.7 792.7L598.7 792.2L600.7 791.9L602.7 791.6L604.7 791.3L606.7 791.1L608.7 791.0L610.8 791.0L612.8 791.0L614.8 791.0L616.8 791.0L618.8 791.0L620.8 791.0L622.8 791.0L624.8 791.0L626.8 791.1L628.8 791.3L630.8 791.6L632.8 792.1L634.8 792.6L636.8 793.1L638.8 793.7L640.8 794.2L642.8 794.9L644.8 795.6L646.8 796.5L648.8 797.4L650.8 798.3L652.8 799.3L654.8 800.2L656.8 801.1L658.8 802.0L660.8 802.8L662.8 803.7L664.8 804.5L666.8 805.4L668.8 806.2L670.8 807.0L672.9 807.8L674.9 808.5L676.9 809.2L678.9 809.7L680.9 810.2L682.9 810.6L684.9 811.1L686.9 811.5L688.9 811.9L690.9 812.3L692.9 812.7L694.9 812.9L696.9 813.2L698.9 813.4L700.9 813.5L702.9 813.5L704.9 813.4L706.9 813.2L708.9 812.9L710.9 812.4L712.9 812.0L714.9 811.4L716.9 810.9L718.9 810.3L720.9 809.7L722.9 809.0L724.9 808.2L726.9 807.3L728.9 806.2L730.9 805.1L732.9 804.0L735.0 802.9L737.0 801.7L739.0 800.6L741.0 799.5L743.0 798.5L745.0 797.5L747.0 796.6L749.0 795.7L751.0 794.8L753.0 794.0L755.0 793.1L757.0 792.3L759.0 791.4L761.0 790.6L763.0 789.9L765.0 789.1L767.0 788.5L769.0 787.8L771.0 787.2L773.0 786.6L775.0 786.0L777.0 785.4L779.0 784.8L781.0 784.3L783.0 783.7L785.0 783.2L787.0 782.8L789.0 782.4L791.0 782.0L793.0 781.7L795.0 781.5L797.0 781.3L799.1 781.1L801.1 780.9L803.1 780.8L805.1 780.6L807.1 780.5L809.1 780.4L811.1 780.2L813.1 780.1L815.1 780.1L817.1 780.0L819.1 780.0L821.1 780.0L823.1 780.0L825.1 780.0L827.1 780.0L829.1 780.0L831.1 780.0L833.1 780.0L835.1 780.0L837.1 780.0L839.1 780.0L841.1 780.0L843.1 780.0L845.1 780.0L847.1 780.0L849.1 780.0L851.1 780.0L853.1 780.0L855.1 780.0L857.1 780.0L859.1 780.0L861.2 780.0L863.2 780.0L865.2 780.1L867.2 780.1L869.2 780.2L871.2 780.2L873.2 780.3L875.2 780.4L877.2 780.5L879.2 780.6L881.2 780.7L883.2 780.8L885.2 780.9L887.2 781.1L889.2 781.2L891.2 781.3L893.2 781.4L895.2 781.5L897.2 781.6L899.2 781.7L901.2 781.9L903.2 782.0L905.2 782.1L907.2 782.3L909.2 782.4L911.2 782.6L913.2 782.7L915.2 782.9L917.2 783.0L919.2 783.1L921.2 783.3L923.3 783.4L925.3 783.5L927.3 783.6L929.3 783.8L931.3 783.9L933.3 784.0L935.3 784.2L937.3 784.3L939.3 784.4L941.3 784.5L943.3 784.7L945.3 784.8L947.3 784.8L949.3 784.9L951.3 785.0L953.3 785.0L955.3 785.0L957.3 785.0L959.3 784.9L961.3 784.8L963.3 784.7L965.3 784.5L967.3 784.3L969.3 784.1L971.3 783.9L973.3 783.7L975.3 783.5L977.3 783.1L979.3 782.7L981.3 782.2L983.3 781.6L985.4 781.0L987.4 780.3L989.4 779.7L991.4 779.0L993.4 778.2L995.4 777.1L997.4 775.5L999.4 772.2L1001.4 767.5L1003.4 761.1L1005.4 751.1L1007.4 737.3L1009.4 719.8L1011.4 699.7L1013.4 676.9L1015.4 653.4L1017.4 629.8L1019.4 606.7L1021.4 584.1L1023.4 561.5L1025.4 539.9L1027.4 520.7L1029.4 502.6L1031.4 485.1L1033.4 471.3L1035.4 464.0L1037.4 459.8L1039.4 456.5L1041.4 454.5L1043.4 454.1L1045.4 455.7L1047.4 458.9L1049.5 463.2L1051.5 467.7L1053.5 472.2L1055.5 477.7L1057.5 483.8L1059.5 489.9L1061.5 495.3L1063.5 499.4L1065.5 503.2L1067.5 506.8L1069.5 509.8L1071.5 511.9L1073.5 513.0L1075.5 513.8L1077.5 514.6L1079.5 515.2L1081.5 515.7L1083.5 515.9L1085.5 516.0L1087.5 515.9L1089.5 515.6L1091.5 515.4L1093.5 515.1L1095.5 515.0L1097.5 515.8L1099.5 518.8L1101.5 523.0L1103.5 527.4L1105.5 533.2L1107.5 540.2L1109.5 548.0L1111.6 556.2L1113.6 564.4L1115.6 573.5L1117.6 583.4L1119.6 593.6L1121.6 603.7L1123.6 613.5L1125.6 622.5L1127.6 631.3L1129.6 639.9L1131.6 648.4L1133.6 656.6L1135.6 664.5L1137.6 672.2L1139.6 679.4L1141.6 686.2L1143.6 692.5L1145.6 698.7L1147.6 705.0L1149.6 711.1L1151.6 716.9L1153.6 722.2L1155.6 727.2L1157.6 731.8L1159.6 735.7L1161.6 739.2L1163.6 742.3L1165.6 744.8L1167.6 746.7L1169.6 748.2L1171.6 749.6L1173.7 750.8L1175.7 752.0L1177.7 753.4L1179.7 754.8L1181.7 756.4L1183.7 758.0L1185.7 759.4L1187.7 760.6L1189.7 761.6L1191.7 762.3L1193.7 762.9L1195.7 763.5L1197.7 764.0L1199.7 764.6L1201.7 765.3L1203.7 766.1L1205.7 767.0L1207.7 767.8L1209.7 768.6L1211.7 769.4L1213.7 770.0L1215.7 770.5L1217.7 771.0L1219.7 771.5L1221.7 771.9L1223.7 772.4L1225.7 772.8L1227.7 773.1L1229.7 773.5L1231.7 773.9L1233.7 774.2L1235.8 774.5L1237.8 774.7L1239.8 775.0L1241.8 775.2L1243.8 775.4L1245.8 775.6L1247.8 775.8L1249.8 776.0L1251.8 776.1L1253.8 776.3L1255.8 776.4L1257.8 776.5L1259.8 776.7L1261.8 776.8L1263.8 776.9L1265.8 777.0L1267.8 777.1L1269.8 777.3L1271.8 777.4L1273.8 777.5L1275.8 777.6L1277.8 777.7L1279.8 777.8L1281.8 778.0L1283.8 778.1L1285.8 778.2L1287.8 778.3L1289.8 778.4L1291.8 778.5L1293.8 778.6L1295.8 778.7L1297.9 778.7L1299.9 778.8L1301.9 778.8L1303.9 778.9L1305.9 779.0L1307.9 779.0L1309.9 779.1L1311.9 779.1L1313.9 779.1L1315.9 779.2L1317.9 779.2L1319.9 779.2L1321.9 779.3L1323.9 779.3L1325.9 779.3L1327.9 779.4L1329.9 779.4L1331.9 779.4L1333.9 779.4L1335.9 779.5L1337.9 779.5L1339.9 779.5L1341.9 779.5L1343.9 779.5L1345.9 779.6L1347.9 779.6L1349.9 779.6L1351.9 779.6L1353.9 779.6L1355.9 779.6L1357.9 779.7L1359.9 779.7L1362.0 779.7" stroke="#008000"/>
<path d="M140.0 719.5L142.0 719.5L144.0 719.5L146.0 719.5L148.0 719.5L150.0 719.5L152.0 719.5L154.0 719.5L156.0 719.5L158.0 719.5L160.0 719.5L162.0 719.5L164.0 719.5L166.0 719.5L168.0 719.5L170.0 719.5L172.1 719.5L174.1 719.5L176.1 719.5L178.1 719.5L180.1 719.5L182.1 719.5L184.1 719.5L186.1 719.5L188.1 719.5L190.1 719.5L192.1 719.5L194.1 719.5L196.1 719.5L198.1 719.5L200.1 719.5L202.1 719.5L204.1 719.5L206.1 719.5L208.1 719.5L210.1 719.5L212.1 719.5L214.1 719.5L216.1 719.5L218.1 719.5L220.1 719.5L222.1 719.5L224.1 719.5L226.1 719.5L228.1 719.5L230.1 719.5L232.1 719.5L234.2 719.5L236.2 719.5L238.2 719.5L240.2 719.5L242.2 719.5L244.2 719.5L246.2 719.5L248.2 719.5L250.2 719.5L252.2 719.5L254.2 719.6L256.2 719.6L258.2 719.6L260.2 719.6L262.2 719.6L264.2 719.6L266.2 719.6L268.2 719.6L270.2 719.6L272.2 719.6L274.2 719.6L276.2 719.6L278.2 719.6L280.2 719.6L282.2 719.6L284.2 719.6L286.2 719.6L288.2 719.6L290.2 719.6L292.2 719.6L294.2 719.6L296.2 719.6L298.3 719.6L300.3 719.6L302.3 719.6L304.3 719.6L306.3 719.6L308.3 719.6L310.3 719.6L312.3 719.6L314.3 719.6L316.3 719.6L318.3 719.6L320.3 719.6L322.3 719.6L324.3 719.7L326.3 719.7L328.3 719.7L330.3 719.7L332.3 719.7L334.3 719.7L336.3 719.7L338.3 719.7L340.3 719.7L342.3 719.7L344.3 719.7L346.3 719.7L348.3 719.7L350.3 719.7L352.3 719.7L354.3 719.7L356.3 719.7L358.3 719.7L360.4 719.7L362.4 719.7L364.4 719.7L366.4 719.8L368.4 719.8L370.4 719.8L372.4 719.8L374.4 719.8L376.4 719.8L378.4 719.8L380.4 719.8L382.4 719.8L384.4 719.8L386.4 719.8L388.4 719.8L390.4 719.8L392.4 719.8L394.4 719.8L396.4 719.8L398.4 719.8L400.4 719.9L402.4 719.9L404.4 719.9L406.4 719.9L408.4 719.9L410.4 719.9L412.4 719.9L414.4 719.9L416.4 719.9L418.4 719.9L420.4 719.9L422.5 719.9L424.5 719.9L426.5 719.9L428.5 720.0L430.5 720.0L432.5 720.0L434.5 720.0L436.5 720.0L438.5 720.0L440.5 720.0L442.5 720.0L444.5 720.0L446.5 720.1L448.5 720.1L450.5 720.1L452.5 720.2L454.5 720.3L456.5 720.3L458.5 720.4L460.5 720.5L462.5 720.6L464.5 720.7L466.5 720.8L468.5 720.9L470.5 721.0L472.5 721.1L474.5 721.2L476.5 721.4L478.5 721.5L480.5 721.7L482.5 721.8L484.6 722.0L486.6 722.2L488.6 722.4L490.6 722.6L492.6 722.9L494.6 723.3L496.6 723.9L498.6 724.5L500.6 725.2L502.6 726.0L504.6 726.7L506.6 727.4L508.6 728.1L510.6 728.7L512.6 729.2L514.6 729.7L516.6 730.2L518.6 730.6L520.6 731.1L522.6 731.5L524.6 732.0L526.6 732.5L528.6 733.0L530.6 733.6L532.6 734.2L534.6 734.9L536.6 735.6L538.6 736.5L540.6 737.5L542.6 738.5L544.6 739.7L546.6 740.9L548.7 742.1L550.7 743.3L552.7 744.6L554.7 745.8L556.7 747.0L558.7 748.3L560.7 749.6L562.7 751.0L564.7 752.4L566.7 753.7L568.7 755.1L570.7 756.5L572.7 758.2L574.7 760.0L576.7 761.6L578.7 762.9L580.7 763.5L582.7 763.1L584.7 762.0L586.7 760.6L588.7 758.9L590.7 756.4L592.7 753.4L594.7 750.5L596.7 748.1L598.7 746.6L600.7 745.4L602.7 744.2L604.7 743.3L606.7 742.7L608.7 742.2L610.8 741.9L612.8 741.5L614.8 741.3L616.8 741.1L618.8 741.0L620.8 741.1L622.8 741.3L624.8 741.6L626.8 742.0L628.8 742.5L630.8 743.1L632.8 743.7L634.8 744.3L636.8 745.0L638.8 745.6L640.8 746.2L642.8 746.9L644.8 747.6L646.8 748.4L648.8 749.2L650.8 750.1L652.8 750.9L654.8 751.8L656.8 752.7L658.8 753.5L660.8 754.4L662.8 755.3L664.8 756.2L666.8 757.2L668.8 758.2L670.8 759.2L672.9 760.1L674.9 760.9L676.9 761.6L678.9 762.2L680.9 762.7L682.9 763.1L684.9 763.5L686.9 763.9L688.9 764.2L690.9 764.5L692.9 764.8L694.9 764.9L696.9 765.0L698.9 764.9L700.9 764.7L702.9 764.3L704.9 763.8L706.9 763.1L708.9 762.4L710.9 761.6L712.9 760.8L714.9 760.0L716.9 759.2L718.9 758.3L720.9 757.2L722.9 756.0L724.9 754.8L726.9 753.5L728.9 752.2L730.9 750.8L732.9 749.5L735.0 748.1L737.0 746.9L739.0 745.6L741.0 744.4L743.0 743.3L745.0 742.0L747.0 740.8L749.0 739.6L751.0 738.4L753.0 737.2L755.0 736.1L757.0 734.9L759.0 733.9L761.0 732.8L763.0 731.9L765.0 731.0L767.0 730.2L769.0 729.3L771.0 728.5L773.0 727.8L775.0 727.0L777.0 726.3L779.0 725.6L781.0 725.0L783.0 724.3L785.0 723.8L787.0 723.2L789.0 722.7L791.0 722.3L793.0 721.8L795.0 721.4L797.0 720.9L799.1 720.5L801.1 720.2L803.1 719.8L805.1 719.5L807.1 719.3L809.1 719.1L811.1 718.9L813.1 718.8L815.1 718.7L817.1 718.6L819.1 718.5L821.1 718.4L823.1 718.3L825.1 718.2L827.1 718.1L829.1 718.1L831.1 718.0L833.1 718.0L835.1 718.0L837.1 718.0L839.1 718.0L841.1 718.0L843.1 718.0L845.1 718.0L847.1 718.0L849.1 718.0L851.1 718.0L853.1 718.0L855.1 718.0L857.1 718.0L859.1 718.0L861.2 718.0L863.2 718.0L865.2 718.0L867.2 718.0L869.2 718.0L871.2 718.0L873.2 718.0L875.2 718.1L877.2 718.2L879.2 718.3L881.2 718.4L883.2 718.6L885.2 718.7L887.2 718.9L889.2 719.1L891.2 719.3L893.2 719.4L895.2 719.6L897.2 719.8L899.2 719.9L901.2 720.1L903.2 720.2L905.2 720.4L907.2 720.6L909.2 720.8L911.2 720.9L913.2 721.1L915.2 721.3L917.2 721.5L919.2 721.6L921.2 721.8L923.3 722.0L925.3 722.1L927.3 722.3L929.3 722.4L931.3 722.6L933.3 722.7L935.3 722.9L937.3 723.1L939.3 723.2L941.3 723.4L943.3 723.5L945.3 723.7L947.3 723.8L949.3 723.9L951.3 723.9L953.3 724.0L955.3 724.0L957.3 724.0L959.3 723.9L961.3 723.7L963.3 723.6L965.3 723.4L967.3 723.1L969.3 722.9L971.3 722.6L973.3 722.3L975.3 721.9L977.3 721.5L979.3 720.9L981.3 720.2L983.3 719.5L985.4 718.7L987.4 717.8L989.4 717.1L991.4 716.2L993.4 715.1L995.4 713.1L997.4 709.1L999.4 704.0L1001.4 697.5L1003.4 689.8L1005.4 679.7L1007.4 657.8L1009.4 628.4L1011.4 601.6L1013.4 574.7L1015.4 547.8L1017.4 521.3L1019.4 494.0L1021.4 466.1L1023.4 440.9L1025.4 421.6L1027.4 407.7L1029.4 396.1L1031.4 383.8L1033.4 367.5L1035.4 349.3L1037.4 338.6L1039.4 332.3L1041.4 329.0L1043.4 328.8L1045.4 328.8L1047.4 329.0L1049.5 331.8L1051.5 336.2L1053.5 340.7L1055.5 346.4L1057.5 352.5L1059.5 358.4L1061.5 363.8L1063.5 369.4L1065.5 374.6L1067.5 378.9L1069.5 381.6L1071.5 383.9L1073.5 385.8L1075.5 387.0L1077.5 387.2L1079.5 386.2L1081.5 384.4L1083.5 382.3L1085.5 380.5L1087.5 378.6L1089.5 376.7L1091.5 375.6L1093.5 375.8L1095.5 376.7L1097.5 378.0L1099.5 379.8L1101.5 383.6L1103.5 388.7L1105.5 394.5L1107.5 401.1L1109.5 409.0L1111.6 418.2L1113.6 429.5L1115.6 443.3L1117.6 458.6L1119.6 474.7L1121.6 490.5L1123.6 505.2L1125.6 519.2L1127.6 532.9L1129.6 545.9L1131.6 558.2L1133.6 569.8L1135.6 581.0L1137.6 591.5L1139.6 601.2L1141.6 610.3L1143.6 618.9L1145.6 627.0L1147.6 634.3L1149.6 640.8L1151.6 647.1L1153.6 652.8L1155.6 657.7L1157.6 661.3L1159.6 664.0L1161.6 666.3L1163.6 668.3L1165.6 670.1L1167.6 671.9L1169.6 673.8L1171.6 675.6L1173.7 677.5L1175.7 679.2L1177.7 680.9L1179.7 682.5L1181.7 684.1L1183.7 685.6L1185.7 687.1L1187.7 688.5L1189.7 689.9L1191.7 691.2L1193.7 692.5L1195.7 693.6L1197.7 694.8L1199.7 695.9L1201.7 697.0L1203.7 698.1L1205.7 699.1L1207.7 700.1L1209.7 701.0L1211.7 701.8L1213.7 702.6L1215.7 703.4L1217.7 704.1L1219.7 704.8L1221.7 705.4L1223.7 706.0L1225.7 706.6L1227.7 707.2L1229.7 707.7L1231.7 708.1L1233.7 708.5L1235.8 708.9L1237.8 709.3L1239.8 709.6L1241.8 710.0L1243.8 710.3L1245.8 710.6L1247.8 710.8L1249.8 711.1L1251.8 711.3L1253.8 711.5L1255.8 711.7L1257.8 711.9L1259.8 712.0L1261.8 712.2L1263.8 712.3L1265.8 712.5L1267.8 712.7L1269.8 712.8L1271.8 713.0L1273.8 713.1L1275.8 713.3L1277.8 713.4L1279.8 713.6L1281.8 713.7L1283.8 713.9L1285.8 714.0L1287.8 714.2L1289.8 714.3L1291.8 714.4L1293.8 714.6L1295.8 714.7L1297.9 714.8L1299.9 714.9L1301.9 715.1L1303.9 715.2L1305.9 715.3L1307.9 715.4L1309.9 715.5L1311.9 715.6L1313.9 715.7L1315.9 715.8L1317.9 715.9L1319.9 716.0L1321.9 716.0L1323.9 716.1L1325.9 716.2L1327.9 716.3L1329.9 716.4L1331.9 716.5L1333.9 716.6L1335.9 716.8L1337.9 716.9L1339.9 717.0L1341.9 717.1L1343.9 717.2L1345.9 717.3L1347.9 717.4L1349.9 717.5L1351.9 717.6L1353.9 717.7L1355.9 717.8L1357.9 717.9L1359.9 718.0L1362.0 718.1" stroke="#FF00FF"/>
<path d="M140.0 660.5L142.0 660.5L144.0 660.5L146.0 660.5L148.0 660.5L150.0 660.5L152.0 660.5L154.0 660.5L156.0 660.5L158.0 660.5L160.0 660.5L162.0 660.5L164.0 660.5L166.0 660.5L168.0 660.5L170.0 660.5L172.1 660.5L174.1 660.5L176.1 660.5L178.1 660.5L180.1 660.5L182.1 660.5L184.1 660.5L186.1 660.5L188.1 660.5L190.1 660.5L192.1 660.5L194.1 660.5L196.1 660.5L198.1 660.5L200.1 660.5L202.1 660.5L204.1 660.5L206.1 660.5L208.1 660.5L210.1 660.5L212.1 660.5L214.1 660.5L216.1 660.5L218.1 660.5L220.1 660.5L222.1 660.5L224.1 660.5L226.1 660.5L228.1 660.5L230.1 660.5L232.1 660.5L234.2 660.5L236.2 660.5L238.2 660.5L240.2 660.5L242.2 660.5L244.2 660.5L246.2 660.5L248.2 660.5L250.2 660.5L252.2 660.5L254.2 660.6L256.2 660.6L258.2 660.6L260.2 660.6L262.2 660.6L264.2 660.6L266.2 660.6L268.2 660.6L270.2 660.6L272.2 660.6L274.2 660.6L276.2 660.6L278.2 660.6L280.2 660.6L282.2 660.6L284.2 660.6L286.2 660.6L288.2 660.6L290.2 660.6L292.2 660.6L294.2 660.6L296.2 660.6L298.3 660.6L300.3 660.6L302.3 660.6L304.3 660.6L306.3 660.6L308.3 660.6L310.3 660.6L312.3 660.6L314.3 660.6L316.3 660.6L318.3 660.6L320.3 660.6L322.3 660.6L324.3 660.7L326.3 660.7L328.3 660.7L330.3 660.7L332.3 660.7L334.3 660.7L336.3 660.7L338.3 660.7L340.3 660.7L342.3 660.7L344.3 660.7L346.3 660.7L348.3 660.7L350.3 660.7L352.3 660.7L354.3 660.7L356.3 660.7L358.3 660.7L360.4 660.7L362.4 660.7L364.4 660.7L366.4 660.7L368.4 660.8L370.4 660.8L372.4 660.8L374.4 660.8L376.4 660.8L378.4 660.8L380.4 660.8L382.4 660.8L384.4 660.8L386.4 660.8L388.4 660.8L390.4 660.8L392.4 660.8L394.4 660.8L396.4 660.8L398.4 660.8L400.4 660.9L402.4 660.9L404.4 660.9L406.4 660.9L408.4 660.9L410.4 660.9L412.4 660.9L414.4 660.9L416.4 660.9L418.4 660.9L420.4 660.9L422.5 660.9L424.5 660.9L426.5 660.9L428.5 661.0L430.5 661.0L432.5 661.0L434.5 661.0L436.5 661.0L438.5 661.0L440.5 661.0L442.5 661.0L444.5 661.0L446.5 661.1L448.5 661.1L450.5 661.1L452.5 661.2L454.5 661.2L456.5 661.3L458.5 661.4L460.5 661.5L462.5 661.5L464.5 661.6L466.5 661.7L468.5 661.8L470.5 662.0L472.5 662.1L474.5 662.2L476.5 662.3L478.5 662.5L480.5 662.6L482.5 662.8L484.6 663.0L486.6 663.2L488.6 663.6L490.6 664.2L492.6 664.9L494.6 665.7L496.6 666.5L498.6 667.5L500.6 668.4L502.6 669.4L504.6 670.3L506.6 671.2L508.6 672.0L510.6 672.7L512.6 673.3L514.6 673.9L516.6 674.4L518.6 675.0L520.6 675.5L522.6 676.0L524.6 676.5L526.6 677.1L528.6 677.7L530.6 678.3L532.6 679.0L534.6 679.8L536.6 680.8L538.6 681.9L540.6 683.1L542.6 684.5L544.6 685.9L546.6 687.5L548.7 689.0L550.7 690.6L552.7 692.2L554.7 693.7L556.7 695.3L558.7 696.8L560.7 698.4L562.7 700.0L564.7 701.7L566.7 703.3L568.7 704.9L570.7 706.6L572.7 708.6L574.7 710.8L576.7 712.8L578.7 714.3L580.7 715.0L582.7 714.6L584.7 713.4L586.7 711.7L588.7 709.7L590.7 706.5L592.7 702.8L594.7 699.0L596.7 695.9L598.7 693.8L600.7 691.8L602.7 690.1L604.7 688.7L606.7 687.8L608.7 687.2L610.8 686.6L612.8 686.2L614.8 685.8L616.8 685.6L618.8 685.5L620.8 685.6L622.8 685.8L624.8 686.2L626.8 686.7L628.8 687.3L630.8 688.0L632.8 688.7L634.8 689.5L636.8 690.3L638.8 691.0L640.8 691.8L642.8 692.7L644.8 693.8L646.8 694.9L648.8 696.2L650.8 697.4L652.8 698.7L654.8 699.9L656.8 701.0L658.8 702.0L660.8 702.8L662.8 703.7L664.8 704.5L666.8 705.3L668.8 706.0L670.8 706.6L672.9 707.1L674.9 707.5L676.9 707.8L678.9 708.0L680.9 708.3L682.9 708.5L684.9 708.7L686.9 708.8L688.9 708.9L690.9 709.0L692.9 709.0L694.9 708.9L696.9 708.5L698.9 708.1L700.9 707.5L702.9 706.8L704.9 706.0L706.9 705.2L708.9 704.4L710.9 703.6L712.9 702.7L714.9 701.5L716.9 700.3L718.9 698.9L720.9 697.4L722.9 695.9L724.9 694.4L726.9 692.8L728.9 691.3L730.9 689.8L732.9 688.4L735.0 687.0L737.0 685.7L739.0 684.4L741.0 683.1L743.0 681.9L745.0 680.6L747.0 679.3L749.0 678.1L751.0 676.8L753.0 675.7L755.0 674.5L757.0 673.5L759.0 672.5L761.0 671.5L763.0 670.6L765.0 669.7L767.0 668.8L769.0 668.0L771.0 667.2L773.0 666.4L775.0 665.6L777.0 664.9L779.0 664.2L781.0 663.6L783.0 663.0L785.0 662.5L787.0 662.0L789.0 661.6L791.0 661.2L793.0 660.8L795.0 660.4L797.0 660.1L799.1 659.7L801.1 659.4L803.1 659.1L805.1 658.8L807.1 658.5L809.1 658.1L811.1 657.8L813.1 657.5L815.1 657.2L817.1 656.9L819.1 656.6L821.1 656.3L823.1 656.0L825.1 655.7L827.1 655.4L829.1 655.2L831.1 654.9L833.1 654.7L835.1 654.5L837.1 654.3L839.1 654.1L841.1 653.8L843.1 653.6L845.1 653.4L847.1 653.2L849.1 653.0L851.1 652.9L853.1 652.7L855.1 652.6L857.1 652.5L859.1 652.5L861.2 652.5L863.2 652.6L865.2 652.8L867.2 653.1L869.2 653.4L871.2 653.8L873.2 654.2L875.2 654.6L877.2 655.0L879.2 655.5L881.2 655.9L883.2 656.2L885.2 656.5L887.2 656.8L889.2 657.1L891.2 657.4L893.2 657.7L895.2 658.0L897.2 658.2L899.2 658.5L901.2 658.8L903.2 659.1L905.2 659.3L907.2 659.6L909.2 659.8L911.2 660.1L913.2 660.3L915.2 660.5L917.2 660.7L919.2 660.9L921.2 661.1L923.3 661.3L925.3 661.5L927.3 661.7L929.3 661.9L931.3 662.1L933.3 662.3L935.3 662.5L937.3 662.6L939.3 662.8L941.3 662.9L943.3 663.1L945.3 663.2L947.3 663.3L949.3 663.4L951.3 663.5L953.3 663.5L955.3 663.5L957.3 663.5L959.3 663.4L961.3 663.3L963.3 663.2L965.3 663.1L967.3 662.9L969.3 662.8L971.3 662.6L973.3 662.3L975.3 662.1L977.3 661.9L979.3 661.6L981.3 661.3L983.3 660.9L985.4 660.5L987.4 659.9L989.4 659.1L991.4 658.1L993.4 656.8L995.4 653.5L997.4 648.5L999.4 642.2L1001.4 633.8L1003.4 620.7L1005.4 604.3L1007.4 586.1L1009.4 563.4L1011.4 535.3L1013.4 507.7L1015.4 486.5L1017.4 471.6L1019.4 459.2L1021.4 446.6L1023.4 431.2L1025.4 409.9L1027.4 384.0L1029.4 357.3L1031.4 331.8L1033.4 306.0L1035.4 285.4L1037.4 268.9L1039.4 258.9L1041.4 256.4L1043.4 255.4L1045.4 256.7L1047.4 260.0L1049.5 263.5L1051.5 267.7L1053.5 272.4L1055.5 277.1L1057.5 281.5L1059.5 285.8L1061.5 290.1L1063.5 294.3L1065.5 298.0L1067.5 301.3L1069.5 304.6L1071.5 307.5L1073.5 308.8L1075.5 308.4L1077.5 307.4L1079.5 306.0L1081.5 304.4L1083.5 302.0L1085.5 299.3L1087.5 296.6L1089.5 294.6L1091.5 292.6L1093.5 291.0L1095.5 290.4L1097.5 290.6L1099.5 290.9L1101.5 292.0L1103.5 295.6L1105.5 301.0L1107.5 311.3L1109.5 326.8L1111.6 343.9L1113.6 362.1L1115.6 383.1L1117.6 404.6L1119.6 424.6L1121.6 442.0L1123.6 458.6L1125.6 474.0L1127.6 488.0L1129.6 500.3L1131.6 511.4L1133.6 521.5L1135.6 530.7L1137.6 539.1L1139.6 546.9L1141.6 554.1L1143.6 560.8L1145.6 567.1L1147.6 573.1L1149.6 578.9L1151.6 584.5L1153.6 589.7L1155.6 594.4L1157.6 598.4L1159.6 602.0L1161.6 605.2L1163.6 608.0L1165.6 610.4L1167.6 612.4L1169.6 614.2L1171.6 615.8L1173.7 617.3L1175.7 618.7L1177.7 620.2L1179.7 621.7L1181.7 623.3L1183.7 625.0L1185.7 626.7L1187.7 628.4L1189.7 630.1L1191.7 631.6L1193.7 633.0L1195.7 634.3L1197.7 635.5L1199.7 636.7L1201.7 637.9L1203.7 639.0L1205.7 640.1L1207.7 641.2L1209.7 642.1L1211.7 643.0L1213.7 643.8L1215.7 644.5L1217.7 645.1L1219.7 645.6L1221.7 646.1L1223.7 646.6L1225.7 647.0L1227.7 647.4L1229.7 647.8L1231.7 648.2L1233.7 648.5L1235.8 648.9L1237.8 649.2L1239.8 649.4L1241.8 649.7L1243.8 649.9L1245.8 650.1L1247.8 650.3L1249.8 650.5L1251.8 650.7L1253.8 650.8L1255.8 651.0L1257.8 651.1L1259.8 651.2L1261.8 651.4L1263.8 651.5L1265.8 651.7L1267.8 651.8L1269.8 652.0L1271.8 652.1L1273.8 652.3L1275.8 652.5L1277.8 652.7L1279.8 652.9L1281.8 653.2L1283.8 653.4L1285.8 653.6L1287.8 653.8L1289.8 654.1L1291.8 654.3L1293.8 654.5L1295.8 654.6L1297.9 654.8L1299.9 655.0L1301.9 655.1L1303.9 655.2L1305.9 655.3L1307.9 655.4L1309.9 655.5L1311.9 655.6L1313.9 655.7L1315.9 655.8L1317.9 655.9L1319.9 656.0L1321.9 656.1L1323.9 656.2L1325.9 656.3L1327.9 656.4L1329.9 656.5L1331.9 656.6L1333.9 656.7L1335.9 656.7L1337.9 656.8L1339.9 656.9L1341.9 657.0L1343.9 657.1L1345.9 657.2L1347.9 657.3L1349.9 657.4L1351.9 657.4L1353.9 657.5L1355.9 657.6L1357.9 657.7L1359.9 657.8L1362.0 657.9" stroke="#808000"/>
<path d="M140.0 603.0L142.0 603.0L144.0 603.0L146.0 603.0L148.0 603.0L150.0 603.0L152.0 603.0L154.0 603.0L156.0 603.0L158.0 603.0L160.0 603.0L162.0 603.0L164.0 603.0L166.0 603.0L168.0 603.0L170.0 603.0L172.1 603.0L174.1 603.0L176.1 603.0L178.1 603.0L180.1 603.0L182.1 603.0L184.1 603.0L186.1 603.0L188.1 603.0L190.1 603.0L192.1 603.0L194.1 603.0L196.1 603.0L198.1 603.0L200.1 603.0L202.1 603.0L204.1 603.0L206.1 603.0L208.1 603.0L210.1 603.0L212.1 603.0L214.1 603.0L216.1 603.0L218.1 603.0L220.1 603.0L222.1 603.0L224.1 603.0L226.1 603.0L228.1 603.0L230.1 603.0L232.1 603.0L234.2 603.0L236.2 603.1L238.2 603.1L240.2 603.1L242.2 603.1L244.2 603.1L246.2 603.1L248.2 603.1L250.2 603.1L252.2 603.1L254.2 603.1L256.2 603.1L258.2 603.1L260.2 603.1L262.2 603.1L264.2 603.1L266.2 603.1L268.2 603.1L270.2 603.1L272.2 603.1L274.2 603.1L276.2 603.1L278.2 603.1L280.2 603.1L282.2 603.1L284.2 603.1L286.2 603.1L288.2 603.1L290.2 603.1L292.2 603.1L294.2 603.1L296.2 603.1L298.3 603.1L300.3 603.2L302.3 603.2L304.3 603.2L306.3 603.2L308.3 603.2L310.3 603.2L312.3 603.2L314.3 603.2L316.3 603.2L318.3 603.2L320.3 603.2L322.3 603.2L324.3 603.2L326.3 603.2L328.3 603.2L330.3 603.2L332.3 603.2L334.3 603.2L336.3 603.2L338.3 603.2L340.3 603.2L342.3 603.3L344.3 603.3L346.3 603.3L348.3 603.3L350.3 603.3L352.3 603.3L354.3 603.3L356.3 603.3L358.3 603.3L360.4 603.3L362.4 603.3L364.4 603.3L366.4 603.3L368.4 603.3L370.4 603.3L372.4 603.3L374.4 603.3L376.4 603.4L378.4 603.4L380.4 603.4L382.4 603.4L384.4 603.4L386.4 603.4L388.4 603.4L390.4 603.4L392.4 603.4L394.4 603.4L396.4 603.4L398.4 603.4L400.4 603.4L402.4 603.4L404.4 603.5L406.4 603.5L408.4 603.5L410.4 603.5L412.4 603.5L414.4 603.5L416.4 603.5L418.4 603.5L420.4 603.5L422.5 603.5L424.5 603.6L426.5 603.6L428.5 603.6L430.5 603.6L432.5 603.7L434.5 603.7L436.5 603.7L438.5 603.7L440.5 603.8L442.5 603.8L444.5 603.9L446.5 603.9L448.5 604.0L450.5 604.0L452.5 604.1L454.5 604.1L456.5 604.2L458.5 604.3L460.5 604.3L462.5 604.4L464.5 604.5L466.5 604.6L468.5 604.6L470.5 604.7L472.5 604.8L474.5 604.9L476.5 605.0L478.5 605.1L480.5 605.2L482.5 605.4L484.6 605.5L486.6 605.7L488.6 606.0L490.6 606.6L492.6 607.3L494.6 608.1L496.6 609.0L498.6 609.9L500.6 610.9L502.6 611.9L504.6 612.8L506.6 613.7L508.6 614.5L510.6 615.2L512.6 615.8L514.6 616.4L516.6 617.0L518.6 617.5L520.6 618.0L522.6 618.5L524.6 619.0L526.6 619.6L528.6 620.2L530.6 620.8L532.6 621.6L534.6 622.3L536.6 623.2L538.6 624.3L540.6 625.4L542.6 626.7L544.6 628.1L546.6 629.5L548.7 631.0L550.7 632.6L552.7 634.1L554.7 635.7L556.7 637.4L558.7 639.1L560.7 641.0L562.7 642.9L564.7 644.9L566.7 646.8L568.7 648.8L570.7 650.7L572.7 652.9L574.7 655.3L576.7 657.6L578.7 659.4L580.7 660.4L582.7 660.2L584.7 658.8L586.7 656.8L588.7 654.6L590.7 651.4L592.7 647.7L594.7 644.1L596.7 640.9L598.7 638.6L600.7 636.5L602.7 634.6L604.7 633.0L606.7 631.8L608.7 631.1L610.8 630.4L612.8 629.9L614.8 629.4L616.8 629.1L618.8 629.0L620.8 629.0L622.8 629.2L624.8 629.5L626.8 629.9L628.8 630.3L630.8 630.8L632.8 631.3L634.8 631.9L636.8 632.5L638.8 633.1L640.8 633.8L642.8 634.5L644.8 635.4L646.8 636.4L648.8 637.5L650.8 638.6L652.8 639.7L654.8 640.8L656.8 641.8L658.8 642.8L660.8 643.6L662.8 644.4L664.8 645.3L666.8 646.1L668.8 646.9L670.8 647.5L672.9 648.1L674.9 648.5L676.9 648.8L678.9 649.0L680.9 649.3L682.9 649.5L684.9 649.7L686.9 649.8L688.9 649.9L690.9 650.0L692.9 650.0L694.9 649.9L696.9 649.5L698.9 649.1L700.9 648.5L702.9 647.8L704.9 647.0L706.9 646.2L708.9 645.4L710.9 644.6L712.9 643.6L714.9 642.5L716.9 641.2L718.9 639.8L720.9 638.3L722.9 636.7L724.9 635.1L726.9 633.5L728.9 631.9L730.9 630.4L732.9 628.9L735.0 627.5L737.0 626.2L739.0 624.9L741.0 623.6L743.0 622.3L745.0 621.0L747.0 619.7L749.0 618.4L751.0 617.2L753.0 616.0L755.0 614.9L757.0 613.9L759.0 613.0L761.0 612.1L763.0 611.2L765.0 610.4L767.0 609.6L769.0 608.8L771.0 608.1L773.0 607.4L775.0 606.7L777.0 606.1L779.0 605.5L781.0 605.0L783.0 604.5L785.0 604.0L787.0 603.6L789.0 603.2L791.0 602.9L793.0 602.6L795.0 602.3L797.0 602.1L799.1 601.8L801.1 601.6L803.1 601.3L805.1 601.0L807.1 600.6L809.1 600.2L811.1 599.7L813.1 599.2L815.1 598.6L817.1 597.9L819.1 597.1L821.1 596.3L823.1 595.5L825.1 594.6L827.1 593.8L829.1 592.9L831.1 592.0L833.1 591.0L835.1 590.0L837.1 588.9L839.1 587.7L841.1 586.6L843.1 585.5L845.1 584.5L847.1 583.6L849.1 582.8L851.1 582.1L853.1 581.4L855.1 580.8L857.1 580.3L859.1 580.0L861.2 580.0L863.2 580.3L865.2 580.7L867.2 581.3L869.2 581.9L871.2 582.6L873.2 583.4L875.2 584.1L877.2 584.8L879.2 585.8L881.2 586.8L883.2 587.9L885.2 589.0L887.2 590.2L889.2 591.3L891.2 592.3L893.2 593.3L895.2 594.1L897.2 594.8L899.2 595.6L901.2 596.4L903.2 597.1L905.2 597.8L907.2 598.5L909.2 599.0L911.2 599.5L913.2 599.8L915.2 600.0L917.2 600.2L919.2 600.3L921.2 600.4L923.3 600.5L925.3 600.6L927.3 600.6L929.3 600.7L931.3 600.8L933.3 600.8L935.3 600.9L937.3 600.9L939.3 601.0L941.3 601.0L943.3 601.1L945.3 601.1L947.3 601.2L949.3 601.2L951.3 601.3L953.3 601.3L955.3 601.3L957.3 601.4L959.3 601.4L961.3 601.4L963.3 601.5L965.3 601.5L967.3 601.5L969.3 601.5L971.3 601.5L973.3 601.5L975.3 601.4L977.3 601.3L979.3 601.2L981.3 601.1L983.3 600.9L985.4 600.7L987.4 600.4L989.4 600.1L991.4 599.4L993.4 597.2L995.4 593.7L997.4 589.2L999.4 583.9L1001.4 574.9L1003.4 562.0L1005.4 546.9L1007.4 524.6L1009.4 497.9L1011.4 474.2L1013.4 459.8L1015.4 451.1L1017.4 443.9L1019.4 434.9L1021.4 419.5L1023.4 394.5L1025.4 366.1L1027.4 340.9L1029.4 317.5L1031.4 295.1L1033.4 275.0L1035.4 255.7L1037.4 239.2L1039.4 231.1L1041.4 227.1L1043.4 227.4L1045.4 228.9L1047.4 230.8L1049.5 233.5L1051.5 236.9L1053.5 240.5L1055.5 244.0L1057.5 247.6L1059.5 251.4L1061.5 255.2L1063.5 258.3L1065.5 260.5L1067.5 262.2L1069.5 263.6L1071.5 264.3L1073.5 263.7L1075.5 261.5L1077.5 258.6L1079.5 255.8L1081.5 252.5L1083.5 248.9L1085.5 245.6L1087.5 243.1L1089.5 240.8L1091.5 239.0L1093.5 238.0L1095.5 237.8L1097.5 237.7L1099.5 237.9L1101.5 240.0L1103.5 243.4L1105.5 249.0L1107.5 258.2L1109.5 269.1L1111.6 280.5L1113.6 293.6L1115.6 308.1L1117.6 323.8L1119.6 340.1L1121.6 357.6L1123.6 377.8L1125.6 398.6L1127.6 417.5L1129.6 432.8L1131.6 446.3L1133.6 458.4L1135.6 469.4L1137.6 479.3L1139.6 488.4L1141.6 496.8L1143.6 504.5L1145.6 511.2L1147.6 517.3L1149.6 523.0L1151.6 528.3L1153.6 533.1L1155.6 537.4L1157.6 541.1L1159.6 544.5L1161.6 547.6L1163.6 550.4L1165.6 553.0L1167.6 555.2L1169.6 557.1L1171.6 558.7L1173.7 560.2L1175.7 561.5L1177.7 562.8L1179.7 564.0L1181.7 565.3L1183.7 566.7L1185.7 568.1L1187.7 569.6L1189.7 571.1L1191.7 572.5L1193.7 573.9L1195.7 575.3L1197.7 576.5L1199.7 577.6L1201.7 578.8L1203.7 579.9L1205.7 581.0L1207.7 582.0L1209.7 583.0L1211.7 583.8L1213.7 584.6L1215.7 585.2L1217.7 585.9L1219.7 586.4L1221.7 586.9L1223.7 587.4L1225.7 587.9L1227.7 588.3L1229.7 588.8L1231.7 589.2L1233.7 589.6L1235.8 590.0L1237.8 590.4L1239.8 590.8L1241.8 591.1L1243.8 591.5L1245.8 591.7L1247.8 591.9L1249.8 592.1L1251.8 592.2L1253.8 592.3L1255.8 592.3L1257.8 592.4L1259.8 592.5L1261.8 592.5L1263.8 592.6L1265.8 592.6L1267.8 592.7L1269.8 592.8L1271.8 592.9L1273.8 593.0L1275.8 593.1L1277.8 593.2L1279.8 593.3L1281.8 593.5L1283.8 593.6L1285.8 593.8L1287.8 593.9L1289.8 594.1L1291.8 594.2L1293.8 594.4L1295.8 594.5L1297.9 594.7L1299.9 594.8L1301.9 595.0L1303.9 595.1L1305.9 595.2L1307.9 595.4L1309.9 595.5L1311.9 595.6L1313.9 595.8L1315.9 595.9L1317.9 596.1L1319.9 596.2L1321.9 596.3L1323.9 596.5L1325.9 596.6L1327.9 596.8L1329.9 597.0L1331.9 597.1L1333.9 597.3L1335.9 597.5L1337.9 597.6L1339.9 597.8L1341.9 598.0L1343.9 598.2L1345.9 598.4L1347.9 598.6L1349.9 598.8L1351.9 599.0L1353.9 599.2L1355.9 599.4L1357.9 599.6L1359.9 599.8L1362.0 600.0" stroke="#008080"/>
<path d="M140.0 543.0L142.0 543.0L144.0 543.0L146.0 543.0L148.0 543.0L150.0 543.0L152.0 543.0L154.0 543.0L156.0 543.0L158.0 543.0L160.0 543.0L162.0 543.0L164.0 543.0L166.0 543.0L168.0 543.0L170.0 543.0L172.1 543.0L174.1 543.0L176.1 543.0L178.1 543.0L180.1 543.0L182.1 543.0L184.1 543.0L186.1 543.0L188.1 543.0L190.1 543.0L192.1 543.0L194.1 543.0L196.1 543.0L198.1 543.0L200.1 543.0L202.1 543.0L204.1 543.0L206.1 543.0L208.1 543.0L210.1 543.0L212.1 543.0L214.1 543.0L216.1 543.0L218.1 543.0L220.1 543.0L222.1 543.0L224.1 543.0L226.1 543.0L228.1 543.0L230.1 543.0L232.1 543.0L234.2 543.0L236.2 543.0L238.2 543.1L240.2 543.1L242.2 543.1L244.2 543.1L246.2 543.1L248.2 543.1L250.2 543.1L252.2 543.1L254.2 543.1L256.2 543.1L258.2 543.1L260.2 543.1L262.2 543.1L264.2 543.1L266.2 543.1L268.2 543.1L270.2 543.1L272.2 543.1L274.2 543.1L276.2 543.1L278.2 543.1L280.2 543.1L282.2 543.1L284.2 543.1L286.2 543.1L288.2 543.1L290.2 543.1L292.2 543.1L294.2 543.1L296.2 543.1L298.3 543.1L300.3 543.1L302.3 543.2L304.3 543.2L306.3 543.2L308.3 543.2L310.3 543.2L312.3 543.2L314.3 543.2L316.3 543.2L318.3 543.2L320.3 543.2L322.3 543.2L324.3 543.2L326.3 543.2L328.3 543.2L330.3 543.2L332.3 543.2L334.3 543.2L336.3 543.2L338.3 543.2L340.3 543.2L342.3 543.3L344.3 543.3L346.3 543.3L348.3 543.3L350.3 543.3L352.3 543.3L354.3 543.3L356.3 543.3L358.3 543.3L360.4 543.3L362.4 543.3L364.4 543.3L366.4 543.3L368.4 543.3L370.4 543.3L372.4 543.3L374.4 543.3L376.4 543.4L378.4 543.4L380.4 543.4L382.4 543.4L384.4 543.4L386.4 543.4L388.4 543.4L390.4 543.4L392.4 543.4L394.4 543.4L396.4 543.4L398.4 543.4L400.4 543.4L402.4 543.4L404.4 543.5L406.4 543.5L408.4 543.5L410.4 543.5L412.4 543.5L414.4 543.5L416.4 543.5L418.4 543.5L420.4 543.5L422.5 543.5L424.5 543.6L426.5 543.6L428.5 543.6L430.5 543.6L432.5 543.7L434.5 543.7L436.5 543.7L438.5 543.8L440.5 543.8L442.5 543.8L444.5 543.9L446.5 543.9L448.5 544.0L450.5 544.0L452.5 544.1L454.5 544.2L456.5 544.2L458.5 544.3L460.5 544.4L462.5 544.5L464.5 544.5L466.5 544.6L468.5 544.7L470.5 544.8L472.5 544.9L474.5 545.0L476.5 545.1L478.5 545.2L480.5 545.4L482.5 545.5L484.6 545.6L486.6 545.8L488.6 545.9L490.6 546.1L492.6 546.4L494.6 546.9L496.6 547.6L498.6 548.4L500.6 549.3L502.6 550.2L504.6 551.2L506.6 552.1L508.6 553.0L510.6 553.7L512.6 554.4L514.6 555.1L516.6 555.8L518.6 556.4L520.6 557.0L522.6 557.7L524.6 558.4L526.6 559.1L528.6 559.8L530.6 560.6L532.6 561.4L534.6 562.3L536.6 563.3L538.6 564.4L540.6 565.6L542.6 566.9L544.6 568.2L546.6 569.6L548.7 571.1L550.7 572.6L552.7 574.2L554.7 575.7L556.7 577.4L558.7 579.1L560.7 581.0L562.7 582.9L564.7 584.8L566.7 586.8L568.7 588.7L570.7 590.7L572.7 593.0L574.7 595.6L576.7 598.0L578.7 599.8L580.7 600.9L582.7 600.8L584.7 599.7L586.7 598.1L588.7 596.3L590.7 593.5L592.7 590.1L594.7 586.6L596.7 583.5L598.7 581.0L600.7 578.6L602.7 576.3L604.7 574.3L606.7 572.9L608.7 572.0L610.8 571.1L612.8 570.4L614.8 569.8L616.8 569.3L618.8 569.0L620.8 569.0L622.8 569.1L624.8 569.3L626.8 569.6L628.8 569.9L630.8 570.3L632.8 570.8L634.8 571.2L636.8 571.7L638.8 572.2L640.8 572.7L642.8 573.3L644.8 573.9L646.8 574.7L648.8 575.5L650.8 576.3L652.8 577.1L654.8 578.0L656.8 578.8L658.8 579.6L660.8 580.3L662.8 581.1L664.8 581.9L666.8 582.6L668.8 583.4L670.8 584.1L672.9 584.6L674.9 585.0L676.9 585.3L678.9 585.5L680.9 585.8L682.9 586.0L684.9 586.2L686.9 586.3L688.9 586.4L690.9 586.5L692.9 586.5L694.9 586.4L696.9 586.0L698.9 585.6L700.9 585.0L702.9 584.3L704.9 583.5L706.9 582.7L708.9 581.9L710.9 581.1L712.9 580.2L714.9 579.1L716.9 577.8L718.9 576.5L720.9 575.1L722.9 573.6L724.9 572.1L726.9 570.6L728.9 569.1L730.9 567.7L732.9 566.3L735.0 565.0L737.0 563.8L739.0 562.6L741.0 561.4L743.0 560.1L745.0 558.9L747.0 557.8L749.0 556.6L751.0 555.5L753.0 554.4L755.0 553.3L757.0 552.4L759.0 551.4L761.0 550.6L763.0 549.7L765.0 548.9L767.0 548.1L769.0 547.4L771.0 546.6L773.0 545.9L775.0 545.3L777.0 544.7L779.0 544.2L781.0 543.8L783.0 543.4L785.0 543.1L787.0 542.8L789.0 542.6L791.0 542.3L793.0 542.1L795.0 541.8L797.0 541.6L799.1 541.3L801.1 540.9L803.1 540.5L805.1 540.0L807.1 539.3L809.1 538.3L811.1 537.1L813.1 535.7L815.1 534.1L817.1 532.4L819.1 530.6L821.1 528.7L823.1 526.8L825.1 524.9L827.1 522.9L829.1 520.5L831.1 518.0L833.1 515.4L835.1 512.6L837.1 509.9L839.1 507.1L841.1 504.5L843.1 502.1L845.1 499.9L847.1 497.6L849.1 495.3L851.1 493.0L853.1 491.0L855.1 489.4L857.1 488.6L859.1 488.3L861.2 488.0L863.2 487.8L865.2 487.7L867.2 487.6L869.2 487.5L871.2 487.6L873.2 488.0L875.2 488.6L877.2 489.5L879.2 490.6L881.2 491.7L883.2 492.9L885.2 494.4L887.2 496.2L889.2 498.3L891.2 500.5L893.2 502.9L895.2 505.3L897.2 508.0L899.2 511.2L901.2 514.7L903.2 518.2L905.2 521.5L907.2 524.5L909.2 526.8L911.2 528.5L913.2 530.0L915.2 531.4L917.2 532.7L919.2 533.9L921.2 535.0L923.3 536.0L925.3 536.8L927.3 537.6L929.3 538.3L931.3 538.9L933.3 539.4L935.3 540.0L937.3 540.5L939.3 541.0L941.3 541.4L943.3 541.8L945.3 542.1L947.3 542.3L949.3 542.5L951.3 542.6L953.3 542.6L955.3 542.7L957.3 542.8L959.3 542.8L961.3 542.9L963.3 542.9L965.3 543.0L967.3 543.0L969.3 543.0L971.3 543.0L973.3 543.0L975.3 542.9L977.3 542.8L979.3 542.7L981.3 542.6L983.3 542.4L985.4 542.2L987.4 541.9L989.4 541.6L991.4 540.9L993.4 538.5L995.4 534.9L997.4 530.3L999.4 521.8L1001.4 507.5L1003.4 491.5L1005.4 477.6L1007.4 466.3L1009.4 455.6L1011.4 444.3L1013.4 431.0L1015.4 413.8L1017.4 393.3L1019.4 372.0L1021.4 351.7L1023.4 331.2L1025.4 310.8L1027.4 291.0L1029.4 272.3L1031.4 253.3L1033.4 235.8L1035.4 222.5L1037.4 211.3L1039.4 205.3L1041.4 205.3L1043.4 205.3L1045.4 205.6L1047.4 207.5L1049.5 210.5L1051.5 213.8L1053.5 216.8L1055.5 219.4L1057.5 222.1L1059.5 224.6L1061.5 226.6L1063.5 228.0L1065.5 229.3L1067.5 230.2L1069.5 230.1L1071.5 228.6L1073.5 226.1L1075.5 223.4L1077.5 220.2L1079.5 216.2L1081.5 212.3L1083.5 208.8L1085.5 205.8L1087.5 202.9L1089.5 200.4L1091.5 198.8L1093.5 198.1L1095.5 197.7L1097.5 197.6L1099.5 198.4L1101.5 199.8L1103.5 202.7L1105.5 208.5L1107.5 215.4L1109.5 223.6L1111.6 233.3L1113.6 243.8L1115.6 254.6L1117.6 264.7L1119.6 274.8L1121.6 285.9L1123.6 299.0L1125.6 315.4L1127.6 344.2L1129.6 365.2L1131.6 379.1L1133.6 390.5L1135.6 400.6L1137.6 410.8L1139.6 421.1L1141.6 431.1L1143.6 440.4L1145.6 448.7L1147.6 455.8L1149.6 462.0L1151.6 467.6L1153.6 472.6L1155.6 477.1L1157.6 481.1L1159.6 484.7L1161.6 488.2L1163.6 491.3L1165.6 494.1L1167.6 496.4L1169.6 498.4L1171.6 500.1L1173.7 501.5L1175.7 502.8L1177.7 504.1L1179.7 505.3L1181.7 506.6L1183.7 508.0L1185.7 509.6L1187.7 511.2L1189.7 512.7L1191.7 514.3L1193.7 515.6L1195.7 516.9L1197.7 518.1L1199.7 519.3L1201.7 520.5L1203.7 521.6L1205.7 522.7L1207.7 523.7L1209.7 524.6L1211.7 525.3L1213.7 526.0L1215.7 526.5L1217.7 526.9L1219.7 527.3L1221.7 527.6L1223.7 527.9L1225.7 528.2L1227.7 528.5L1229.7 528.7L1231.7 529.0L1233.7 529.3L1235.8 529.6L1237.8 529.9L1239.8 530.2L1241.8 530.5L1243.8 530.8L1245.8 531.0L1247.8 531.2L1249.8 531.4L1251.8 531.6L1253.8 531.7L1255.8 531.9L1257.8 532.0L1259.8 532.1L1261.8 532.2L1263.8 532.3L1265.8 532.4L1267.8 532.6L1269.8 532.7L1271.8 532.8L1273.8 532.9L1275.8 533.0L1277.8 533.0L1279.8 533.1L1281.8 533.2L1283.8 533.3L1285.8 533.4L1287.8 533.5L1289.8 533.6L1291.8 533.7L1293.8 533.7L1295.8 533.8L1297.9 533.8L1299.9 533.9L1301.9 533.9L1303.9 533.9L1305.9 534.0L1307.9 534.0L1309.9 534.0L1311.9 534.0L1313.9 534.0L1315.9 534.1L1317.9 534.1L1319.9 534.1L1321.9 534.2L1323.9 534.2L1325.9 534.4L1327.9 534.7L1329.9 535.1L1331.9 535.6L1333.9 536.1L1335.9 536.6L1337.9 537.1L1339.9 537.6L1341.9 538.0L1343.9 538.3L1345.9 538.5L1347.9 538.7L1349.9 539.0L1351.9 539.2L1353.9 539.4L1355.9 539.5L1357.9 539.7L1359.9 539.8L1362.0 539.9" stroke="#800000"/>
<path d="M140.0 486.0L142.0 486.0L144.0 486.0L146.0 486.0L148.0 486.0L150.0 486.0L152.0 486.0L154.0 486.0L156.0 486.0L158.0 486.0L160.0 486.0L162.0 486.0L164.0 486.0L166.0 486.0L168.0 486.0L170.0 486.0L172.1 486.0L174.1 486.0L176.1 486.0L178.1 486.0L180.1 486.0L182.1 486.0L184.1 486.0L186.1 486.0L188.1 486.0L190.1 486.0L192.1 486.0L194.1 486.0L196.1 486.0L198.1 486.0L200.1 486.0L202.1 486.0L204.1 486.0L206.1 486.0L208.1 486.0L210.1 486.0L212.1 486.0L214.1 486.0L216.1 486.0L218.1 486.0L220.1 486.0L222.1 486.0L224.1 486.0L226.1 486.0L228.1 486.0L230.1 486.0L232.1 486.0L234.2 486.0L236.2 486.0L238.2 486.0L240.2 486.0L242.2 486.0L244.2 486.0L246.2 486.0L248.2 486.0L250.2 486.0L252.2 486.0L254.2 486.0L256.2 486.0L258.2 486.0L260.2 486.0L262.2 486.0L264.2 486.0L266.2 486.0L268.2 486.0L270.2 486.0L272.2 486.0L274.2 486.0L276.2 486.0L278.2 486.0L280.2 486.0L282.2 486.0L284.2 486.0L286.2 486.0L288.2 486.0L290.2 486.0L292.2 486.0L294.2 486.0L296.2 486.0L298.3 486.0L300.3 486.0L302.3 486.0L304.3 486.0L306.3 486.0L308.3 486.0L310.3 486.0L312.3 486.0L314.3 486.0L316.3 486.0L318.3 486.0L320.3 486.0L322.3 486.0L324.3 486.0L326.3 486.0L328.3 486.0L330.3 486.0L332.3 486.0L334.3 486.0L336.3 486.0L338.3 486.0L340.3 486.0L342.3 486.0L344.3 486.0L346.3 486.0L348.3 486.0L350.3 486.0L352.3 486.0L354.3 486.0L356.3 486.0L358.3 486.0L360.4 486.0L362.4 486.0L364.4 486.0L366.4 486.0L368.4 486.0L370.4 486.0L372.4 486.0L374.4 486.0L376.4 486.0L378.4 486.0L380.4 486.0L382.4 486.0L384.4 486.0L386.4 486.0L388.4 486.0L390.4 486.0L392.4 486.0L394.4 486.0L396.4 486.0L398.4 486.0L400.4 486.0L402.4 486.0L404.4 486.0L406.4 486.0L408.4 486.0L410.4 486.0L412.4 486.0L414.4 486.0L416.4 486.0L418.4 486.0L420.4 486.0L422.5 486.0L424.5 486.0L426.5 486.0L428.5 486.0L430.5 486.0L432.5 486.0L434.5 486.0L436.5 486.0L438.5 486.0L440.5 486.0L442.5 486.0L444.5 486.0L446.5 486.0L448.5 486.1L450.5 486.1L452.5 486.2L454.5 486.2L456.5 486.3L458.5 486.4L460.5 486.4L462.5 486.5L464.5 486.6L466.5 486.7L468.5 486.8L470.5 487.0L472.5 487.1L474.5 487.2L476.5 487.4L478.5 487.5L480.5 487.7L482.5 487.8L484.6 488.0L486.6 488.2L488.6 488.4L490.6 488.6L492.6 488.9L494.6 489.4L496.6 489.9L498.6 490.6L500.6 491.4L502.6 492.2L504.6 493.0L506.6 493.8L508.6 494.5L510.6 495.2L512.6 495.8L514.6 496.5L516.6 497.1L518.6 497.7L520.6 498.3L522.6 498.9L524.6 499.5L526.6 500.2L528.6 500.9L530.6 501.6L532.6 502.5L534.6 503.3L536.6 504.3L538.6 505.4L540.6 506.6L542.6 507.9L544.6 509.3L546.6 510.8L548.7 512.3L550.7 513.9L552.7 515.6L554.7 517.2L556.7 518.9L558.7 520.8L560.7 522.7L562.7 524.7L564.7 526.8L566.7 528.9L568.7 531.1L570.7 533.3L572.7 536.1L574.7 539.2L576.7 542.2L578.7 544.5L580.7 545.9L582.7 545.8L584.7 544.7L586.7 543.2L588.7 541.2L590.7 537.9L592.7 533.8L594.7 529.7L596.7 526.1L598.7 523.4L600.7 521.0L602.7 518.8L604.7 516.9L606.7 515.4L608.7 514.4L610.8 513.3L612.8 512.4L614.8 511.7L616.8 511.2L618.8 511.0L620.8 511.1L622.8 511.2L624.8 511.5L626.8 511.8L628.8 512.3L630.8 512.7L632.8 513.2L634.8 513.7L636.8 514.2L638.8 514.7L640.8 515.2L642.8 515.6L644.8 516.1L646.8 516.6L648.8 517.1L650.8 517.7L652.8 518.2L654.8 518.8L656.8 519.3L658.8 519.9L660.8 520.5L662.8 521.2L664.8 521.9L666.8 522.7L668.8 523.4L670.8 524.1L672.9 524.6L674.9 525.0L676.9 525.3L678.9 525.5L680.9 525.7L682.9 526.0L684.9 526.2L686.9 526.3L688.9 526.4L690.9 526.5L692.9 526.5L694.9 526.4L696.9 526.1L698.9 525.8L700.9 525.3L702.9 524.7L704.9 524.1L706.9 523.5L708.9 522.9L710.9 522.2L712.9 521.4L714.9 520.4L716.9 519.4L718.9 518.2L720.9 516.9L722.9 515.6L724.9 514.2L726.9 512.8L728.9 511.4L730.9 510.1L732.9 508.8L735.0 507.5L737.0 506.3L739.0 505.0L741.0 503.7L743.0 502.4L745.0 501.0L747.0 499.7L749.0 498.4L751.0 497.2L753.0 496.0L755.0 494.9L757.0 493.8L759.0 492.9L761.0 492.1L763.0 491.4L765.0 490.6L767.0 489.9L769.0 489.3L771.0 488.7L773.0 488.1L775.0 487.6L777.0 487.1L779.0 486.7L781.0 486.3L783.0 486.0L785.0 485.8L787.0 485.5L789.0 485.3L791.0 485.1L793.0 484.8L795.0 484.5L797.0 484.1L799.1 483.5L801.1 482.6L803.1 481.3L805.1 479.8L807.1 478.1L809.1 476.2L811.1 474.2L813.1 472.1L815.1 469.9L817.1 467.5L819.1 464.7L821.1 461.5L823.1 458.1L825.1 454.5L827.1 450.7L829.1 446.8L831.1 442.8L833.1 438.8L835.1 434.3L837.1 429.5L839.1 424.4L841.1 419.3L843.1 414.4L845.1 409.8L847.1 405.7L849.1 402.0L851.1 398.4L853.1 395.0L855.1 392.2L857.1 390.2L859.1 389.0L861.2 387.8L863.2 386.8L865.2 385.9L867.2 385.3L869.2 385.0L871.2 385.0L873.2 385.1L875.2 385.3L877.2 385.5L879.2 385.8L881.2 386.2L883.2 386.7L885.2 388.0L887.2 390.0L889.2 392.6L891.2 395.5L893.2 398.7L895.2 402.9L897.2 408.1L899.2 414.0L901.2 419.9L903.2 425.6L905.2 430.5L907.2 435.1L909.2 439.6L911.2 444.0L913.2 448.2L915.2 452.1L917.2 455.7L919.2 458.9L921.2 461.7L923.3 464.4L925.3 466.9L927.3 469.2L929.3 471.4L931.3 473.2L933.3 474.8L935.3 476.2L937.3 477.3L939.3 478.4L941.3 479.5L943.3 480.5L945.3 481.4L947.3 482.2L949.3 482.9L951.3 483.4L953.3 483.8L955.3 484.0L957.3 484.2L959.3 484.4L961.3 484.5L963.3 484.6L965.3 484.7L967.3 484.8L969.3 484.9L971.3 485.0L973.3 485.0L975.3 485.0L977.3 484.9L979.3 484.8L981.3 484.5L983.3 484.2L985.4 483.8L987.4 483.3L989.4 482.7L991.4 481.8L993.4 479.6L995.4 476.4L997.4 472.1L999.4 466.8L1001.4 458.4L1003.4 443.4L1005.4 428.7L1007.4 417.0L1009.4 406.0L1011.4 394.5L1013.4 381.5L1015.4 365.3L1017.4 346.4L1019.4 327.5L1021.4 310.2L1023.4 293.3L1025.4 277.0L1027.4 261.7L1029.4 247.8L1031.4 234.7L1033.4 222.8L1035.4 212.7L1037.4 203.0L1039.4 197.0L1041.4 195.9L1043.4 195.3L1045.4 195.4L1047.4 196.5L1049.5 198.2L1051.5 200.1L1053.5 201.8L1055.5 203.4L1057.5 205.1L1059.5 206.8L1061.5 208.1L1063.5 208.6L1065.5 208.4L1067.5 207.7L1069.5 206.7L1071.5 205.5L1073.5 204.0L1075.5 201.4L1077.5 198.3L1079.5 194.9L1081.5 191.4L1083.5 187.2L1085.5 182.7L1087.5 178.7L1089.5 175.6L1091.5 172.7L1093.5 170.4L1095.5 169.5L1097.5 169.5L1099.5 169.5L1101.5 170.1L1103.5 173.2L1105.5 177.2L1107.5 182.1L1109.5 188.2L1111.6 195.3L1113.6 202.9L1115.6 211.1L1117.6 220.3L1119.6 230.4L1121.6 241.2L1123.6 252.7L1125.6 265.4L1127.6 279.8L1129.6 295.1L1131.6 310.5L1133.6 325.1L1135.6 339.1L1137.6 353.5L1139.6 367.2L1141.6 379.3L1143.6 388.7L1145.6 396.8L1147.6 404.0L1149.6 410.5L1151.6 416.2L1153.6 421.3L1155.6 425.9L1157.6 430.1L1159.6 434.0L1161.6 437.5L1163.6 440.5L1165.6 442.9L1167.6 444.8L1169.6 446.5L1171.6 447.9L1173.7 449.2L1175.7 450.4L1177.7 451.6L1179.7 452.8L1181.7 454.1L1183.7 455.4L1185.7 456.6L1187.7 457.9L1189.7 459.0L1191.7 460.2L1193.7 461.3L1195.7 462.4L1197.7 463.6L1199.7 464.7L1201.7 465.8L1203.7 466.8L1205.7 467.8L1207.7 468.6L1209.7 469.2L1211.7 469.7L1213.7 470.3L1215.7 470.7L1217.7 471.2L1219.7 471.6L1221.7 471.9L1223.7 472.3L1225.7 472.6L1227.7 472.9L1229.7 473.2L1231.7 473.5L1233.7 473.7L1235.8 474.0L1237.8 474.2L1239.8 474.5L1241.8 474.7L1243.8 474.8L1245.8 475.0L1247.8 475.1L1249.8 475.3L1251.8 475.4L1253.8 475.5L1255.8 475.5L1257.8 475.6L1259.8 475.7L1261.8 475.8L1263.8 475.8L1265.8 475.9L1267.8 476.0L1269.8 476.0L1271.8 476.1L1273.8 476.1L1275.8 476.2L1277.8 476.2L1279.8 476.3L1281.8 476.3L1283.8 476.4L1285.8 476.4L1287.8 476.5L1289.8 476.5L1291.8 476.6L1293.8 476.6L1295.8 476.6L1297.9 476.6L1299.9 476.6L1301.9 476.6L1303.9 476.5L1305.9 476.3L1307.9 476.1L1309.9 475.8L1311.9 475.6L1313.9 475.4L1315.9 475.2L1317.9 475.2L1319.9 475.3L1321.9 475.4L1323.9 475.7L1325.9 476.0L1327.9 476.4L1329.9 476.9L1331.9 477.3L1333.9 477.8L1335.9 478.5L1337.9 479.7L1339.9 481.1L1341.9 482.1L1343.9 482.3L1345.9 482.1L1347.9 481.6L1349.9 481.1L1351.9 480.9L1353.9 481.0L1355.9 481.1L1357.9 481.4L1359.9 481.8L1362.0 482.4" stroke="#FF8000"/>
<path d="M140.0 436.5L142.0 436.5L144.0 436.5L146.0 436.5L148.0 436.5L150.0 436.5L152.0 436.5L154.0 436.5L156.0 436.5L158.0 436.5L160.0 436.5L162.0 436.5L164.0 436.5L166.0 436.5L168.0 436.5L170.0 436.5L172.1 436.5L174.1 436.5L176.1 436.5L178.1 436.5L180.1 436.5L182.1 436.5L184.1 436.5L186.1 436.5L188.1 436.5L190.1 436.5L192.1 436.5L194.1 436.5L196.1 436.5L198.1 436.5L200.1 436.5L202.1 436.5L204.1 436.5L206.1 436.5L208.1 436.5L210.1 436.5L212.1 436.5L214.1 436.5L216.1 436.5L218.1 436.5L220.1 436.5L222.1 436.5L224.1 436.5L226.1 436.5L228.1 436.5L230.1 436.5L232.1 436.5L234.2 436.5L236.2 436.5L238.2 436.5L240.2 436.5L242.2 436.5L244.2 436.5L246.2 436.5L248.2 436.5L250.2 436.5L252.2 436.5L254.2 436.5L256.2 436.5L258.2 436.5L260.2 436.5L262.2 436.5L264.2 436.5L266.2 436.5L268.2 436.5L270.2 436.5L272.2 436.5L274.2 436.5L276.2 436.5L278.2 436.5L280.2 436.5L282.2 436.5L284.2 436.5L286.2 436.5L288.2 436.5L290.2 436.5L292.2 436.5L294.2 436.5L296.2 436.5L298.3 436.5L300.3 436.5L302.3 436.5L304.3 436.5L306.3 436.5L308.3 436.5L310.3 436.5L312.3 436.5L314.3 436.5L316.3 436.5L318.3 436.5L320.3 436.5L322.3 436.5L324.3 436.5L326.3 436.5L328.3 436.5L330.3 436.5L332.3 436.5L334.3 436.5L336.3 436.5L338.3 436.5L340.3 436.5L342.3 436.5L344.3 436.5L346.3 436.5L348.3 436.5L350.3 436.5L352.3 436.5L354.3 436.5L356.3 436.5L358.3 436.5L360.4 436.5L362.4 436.5L364.4 436.5L366.4 436.5L368.4 436.5L370.4 436.5L372.4 436.5L374.4 436.5L376.4 436.5L378.4 436.5L380.4 436.5L382.4 436.5L384.4 436.5L386.4 436.5L388.4 436.5L390.4 436.5L392.4 436.5L394.4 436.5L396.4 436.5L398.4 436.5L400.4 436.5L402.4 436.5L404.4 436.5L406.4 436.5L408.4 436.5L410.4 436.5L412.4 436.5L414.4 436.5L416.4 436.5L418.4 436.5L420.4 436.5L422.5 436.5L424.5 436.5L426.5 436.5L428.5 436.5L430.5 436.5L432.5 436.5L434.5 436.5L436.5 436.5L438.5 436.5L440.5 436.5L442.5 436.5L444.5 436.5L446.5 436.5L448.5 436.5L450.5 436.5L452.5 436.5L454.5 436.5L456.5 436.5L458.5 436.5L460.5 436.5L462.5 436.5L464.5 436.6L466.5 436.6L468.5 436.7L470.5 436.8L472.5 436.9L474.5 437.0L476.5 437.2L478.5 437.3L480.5 437.5L482.5 437.7L484.6 437.9L486.6 438.1L488.6 438.3L490.6 438.6L492.6 438.9L494.6 439.4L496.6 440.1L498.6 440.8L500.6 441.6L502.6 442.4L504.6 443.1L506.6 443.9L508.6 444.6L510.6 445.2L512.6 445.7L514.6 446.2L516.6 446.6L518.6 447.0L520.6 447.5L522.6 447.9L524.6 448.4L526.6 449.0L528.6 449.5L530.6 450.2L532.6 451.0L534.6 451.9L536.6 452.8L538.6 453.9L540.6 455.0L542.6 456.2L544.6 457.4L546.6 458.7L548.7 460.1L550.7 461.5L552.7 463.0L554.7 464.7L556.7 466.5L558.7 468.4L560.7 470.4L562.7 472.5L564.7 474.7L566.7 477.0L568.7 479.6L570.7 482.4L572.7 485.0L574.7 487.2L576.7 489.2L578.7 491.2L580.7 492.4L582.7 492.2L584.7 490.6L586.7 488.4L588.7 485.9L590.7 482.3L592.7 478.2L594.7 474.2L596.7 470.9L598.7 468.7L600.7 466.8L602.7 465.2L604.7 463.8L606.7 462.8L608.7 462.1L610.8 461.4L612.8 460.9L614.8 460.4L616.8 460.1L618.8 460.0L620.8 460.0L622.8 460.1L624.8 460.2L626.8 460.4L628.8 460.6L630.8 460.9L632.8 461.1L634.8 461.4L636.8 461.6L638.8 461.9L640.8 462.1L642.8 462.3L644.8 462.6L646.8 462.8L648.8 463.1L650.8 463.3L652.8 463.6L654.8 463.9L656.8 464.2L658.8 464.5L660.8 464.9L662.8 465.3L664.8 465.8L666.8 466.4L668.8 466.9L670.8 467.5L672.9 468.0L674.9 468.5L676.9 468.9L678.9 469.2L680.9 469.5L682.9 469.8L684.9 470.1L686.9 470.4L688.9 470.7L690.9 470.8L692.9 471.0L694.9 471.0L696.9 470.9L698.9 470.7L700.9 470.4L702.9 469.9L704.9 469.4L706.9 468.9L708.9 468.3L710.9 467.7L712.9 467.0L714.9 466.2L716.9 465.3L718.9 464.3L720.9 463.3L722.9 462.1L724.9 461.0L726.9 459.8L728.9 458.5L730.9 457.3L732.9 456.2L735.0 455.0L737.0 453.9L739.0 452.6L741.0 451.3L743.0 449.9L745.0 448.6L747.0 447.2L749.0 445.9L751.0 444.6L753.0 443.4L755.0 442.2L757.0 441.2L759.0 440.4L761.0 439.7L763.0 439.0L765.0 438.5L767.0 438.0L769.0 437.5L771.0 437.1L773.0 436.6L775.0 436.2L777.0 435.7L779.0 435.3L781.0 434.7L783.0 434.2L785.0 433.8L787.0 433.3L789.0 432.8L791.0 432.3L793.0 431.7L795.0 431.0L797.0 430.2L799.1 429.2L801.1 427.9L803.1 426.4L805.1 424.6L807.1 422.5L809.1 420.2L811.1 417.8L813.1 415.2L815.1 412.4L817.1 409.2L819.1 405.4L821.1 401.0L823.1 396.2L825.1 391.1L827.1 385.6L829.1 379.9L831.1 374.1L833.1 368.2L835.1 361.6L837.1 354.3L839.1 346.6L841.1 338.7L843.1 330.9L845.1 323.3L847.1 316.2L849.1 309.4L851.1 302.2L853.1 295.4L855.1 289.6L857.1 285.5L859.1 283.0L861.2 280.7L863.2 278.8L865.2 277.2L867.2 276.0L869.2 275.2L871.2 274.8L873.2 274.4L875.2 274.1L877.2 273.8L879.2 273.6L881.2 273.5L883.2 273.5L885.2 274.0L887.2 274.9L889.2 276.2L891.2 277.7L893.2 280.6L895.2 285.4L897.2 291.3L899.2 297.6L901.2 304.0L903.2 311.5L905.2 319.8L907.2 328.4L909.2 336.9L911.2 345.1L913.2 353.7L915.2 362.4L917.2 370.6L919.2 377.7L921.2 383.5L923.3 388.8L925.3 393.6L927.3 398.0L929.3 402.0L931.3 405.5L933.3 408.7L935.3 411.6L937.3 414.4L939.3 417.1L941.3 419.4L943.3 421.6L945.3 423.4L947.3 424.9L949.3 426.1L951.3 427.4L953.3 428.6L955.3 429.7L957.3 430.6L959.3 431.4L961.3 432.0L963.3 432.4L965.3 432.5L967.3 432.5L969.3 432.5L971.3 432.5L973.3 432.5L975.3 432.5L977.3 432.5L979.3 432.5L981.3 432.5L983.3 432.2L985.4 431.8L987.4 431.2L989.4 430.4L991.4 429.6L993.4 428.5L995.4 426.8L997.4 424.0L999.4 419.8L1001.4 414.1L1003.4 401.2L1005.4 371.8L1007.4 354.7L1009.4 340.7L1011.4 328.0L1013.4 314.7L1015.4 300.1L1017.4 285.2L1019.4 270.6L1021.4 256.7L1023.4 243.5L1025.4 230.4L1027.4 218.9L1029.4 210.0L1031.4 202.1L1033.4 195.7L1035.4 191.6L1037.4 188.7L1039.4 186.7L1041.4 186.2L1043.4 186.4L1045.4 186.7L1047.4 187.1L1049.5 187.4L1051.5 187.7L1053.5 188.0L1055.5 188.2L1057.5 188.4L1059.5 188.5L1061.5 188.5L1063.5 188.1L1065.5 187.5L1067.5 186.7L1069.5 185.7L1071.5 183.3L1073.5 180.0L1075.5 176.3L1077.5 172.5L1079.5 168.0L1081.5 163.0L1083.5 158.3L1085.5 154.9L1087.5 152.2L1089.5 150.0L1091.5 148.6L1093.5 148.2L1095.5 147.9L1097.5 147.8L1099.5 148.7L1101.5 150.4L1103.5 152.4L1105.5 155.5L1107.5 159.8L1109.5 164.7L1111.6 170.1L1113.6 176.5L1115.6 183.8L1117.6 191.7L1119.6 200.1L1121.6 208.7L1123.6 218.2L1125.6 228.3L1127.6 238.8L1129.6 249.3L1131.6 259.4L1133.6 268.7L1135.6 278.0L1137.6 288.4L1139.6 300.9L1141.6 320.2L1143.6 337.9L1145.6 346.5L1147.6 352.8L1149.6 358.0L1151.6 363.2L1153.6 368.5L1155.6 373.5L1157.6 378.1L1159.6 382.1L1161.6 385.7L1163.6 389.1L1165.6 392.1L1167.6 394.7L1169.6 396.8L1171.6 398.6L1173.7 400.2L1175.7 401.6L1177.7 402.9L1179.7 404.2L1181.7 405.4L1183.7 406.6L1185.7 407.7L1187.7 408.8L1189.7 409.8L1191.7 410.8L1193.7 411.8L1195.7 412.8L1197.7 413.9L1199.7 415.0L1201.7 416.1L1203.7 417.1L1205.7 418.1L1207.7 419.1L1209.7 420.0L1211.7 420.8L1213.7 421.4L1215.7 422.0L1217.7 422.5L1219.7 423.0L1221.7 423.5L1223.7 423.9L1225.7 424.3L1227.7 424.6L1229.7 424.9L1231.7 425.1L1233.7 425.3L1235.8 425.5L1237.8 425.6L1239.8 425.8L1241.8 425.9L1243.8 426.0L1245.8 426.1L1247.8 426.2L1249.8 426.3L1251.8 426.4L1253.8 426.5L1255.8 426.6L1257.8 426.7L1259.8 426.8L1261.8 426.9L1263.8 427.0L1265.8 427.1L1267.8 427.2L1269.8 427.3L1271.8 427.3L1273.8 427.4L1275.8 427.4L1277.8 427.4L1279.8 427.4L1281.8 427.4L1283.8 427.4L1285.8 427.4L1287.8 427.4L1289.8 427.4L1291.8 427.4L1293.8 427.4L1295.8 427.4L1297.9 427.4L1299.9 427.4L1301.9 427.4L1303.9 427.2L1305.9 426.9L1307.9 426.5L1309.9 426.1L1311.9 425.7L1313.9 425.4L1315.9 425.2L1317.9 425.1L1319.9 425.3L1321.9 425.7L1323.9 426.1L1325.9 426.7L1327.9 427.2L1329.9 427.5L1331.9 427.8L1333.9 428.1L1335.9 428.4L1337.9 428.9L1339.9 430.0L1341.9 431.2L1343.9 431.8L1345.9 432.0L1347.9 432.1L1349.9 432.2L1351.9 432.3L1353.9 432.3L1355.9 432.4L1357.9 432.5L1359.9 432.5L1362.0 432.6" stroke="#80FFF8"/>
</g>
<line x1="619.5" y1="409.0" x2="619.5" y2="825.0" stroke="#000" shape-rendering="crispEdges" stroke-width="5.4" stroke-dasharray="24 19.55"/>
<line x1="870.2" y1="249.8" x2="870.2" y2="876.3" stroke="#000" shape-rendering="crispEdges" stroke-width="5.4" stroke-dasharray="24 19.55"/>
<line x1="1041.3" y1="159.0" x2="1041.3" y2="914.8" stroke="#000" shape-rendering="crispEdges" stroke-width="5.4" stroke-dasharray="24 19.55"/>
<line x1="1097.5" y1="118.4" x2="1097.5" y2="925.7" stroke="#000" shape-rendering="crispEdges" stroke-width="5.4" stroke-dasharray="24 19.55"/>
<text x="156.2" y="132.6" font-size="76" textLength="54.3" lengthAdjust="spacingAndGlyphs">A</text>
<line x1="306.3" y1="82" x2="306.3" y2="195.6" stroke="#000" stroke-width="5.6"/>
<text x="322.5" y="150.0" font-size="38" textLength="68.5" lengthAdjust="spacingAndGlyphs">0.01</text>
<text x="576.8" y="393.7" font-size="39.5" textLength="79.8" lengthAdjust="spacingAndGlyphs">1608</text>
<text x="832.7" y="235.3" font-size="39.5" textLength="78.2" lengthAdjust="spacingAndGlyphs">1394</text>
<text x="984.1" y="147.2" font-size="39.5" textLength="78.3" lengthAdjust="spacingAndGlyphs">1259</text>
<text x="1058.4" y="106.2" font-size="39.5" textLength="78.7" lengthAdjust="spacingAndGlyphs">1217</text>
<text x="156.5" y="416.7" font-size="39.5" textLength="40.8" lengthAdjust="spacingAndGlyphs">60</text>
<text x="159.2" y="471.0" font-size="39.5" textLength="40.0" lengthAdjust="spacingAndGlyphs">50</text>
<text x="160.3" y="529.5" font-size="39.5" textLength="38.8" lengthAdjust="spacingAndGlyphs">40</text>
<text x="159.3" y="588.5" font-size="39.5" textLength="39.9" lengthAdjust="spacingAndGlyphs">30</text>
<text x="157.8" y="647.5" font-size="39.5" textLength="40.3" lengthAdjust="spacingAndGlyphs">20</text>
<text x="160.8" y="705.3" font-size="39.5" textLength="39.8" lengthAdjust="spacingAndGlyphs">10</text>
<text x="170.7" y="771.5" font-size="39.5" textLength="21.9" lengthAdjust="spacingAndGlyphs">5</text>
<text x="170.0" y="824.0" font-size="39.5" textLength="21.0" lengthAdjust="spacingAndGlyphs">2</text>
<text x="169.5" y="885.0" font-size="39.5" textLength="18.8" lengthAdjust="spacingAndGlyphs">1</text>
<text x="167.9" y="938.8" font-size="39.5" textLength="21.3" lengthAdjust="spacingAndGlyphs">0</text>
<text x="515.4" y="1115.6" font-size="61" textLength="350.9" lengthAdjust="spacingAndGlyphs">Wavenumber</text>
<text x="880.2" y="1115.6" font-size="61" textLength="94.9" lengthAdjust="spacingAndGlyphs">(cm</text>
<text x="975.6" y="1090.3" font-size="43" textLength="46.0" lengthAdjust="spacingAndGlyphs">−1</text>
<text x="1019.6" y="1115.6" font-size="61" textLength="22.8" lengthAdjust="spacingAndGlyphs">)</text>
<text transform="translate(81.6 701.5) rotate(-90)" font-size="61" textLength="377.4" lengthAdjust="spacingAndGlyphs">Intensity (a.u.)</text>
<clipPath id="clipB"><rect x="145.5" y="1281" width="1217.0" height="913"/></clipPath>
<path d="M143 1276H1364V2194H143Z M148 1281V2189H1358V1281Z" fill="#000" fill-rule="evenodd"/>
<rect x="143" y="2194" width="5" height="16"/>
<text x="91.8" y="2262.0" font-size="51" textLength="107.1" lengthAdjust="spacingAndGlyphs">2000</text>
<rect x="264.3" y="2194" width="5.5" height="7"/>
<rect x="385.9" y="2194" width="5.5" height="16"/>
<text x="333.9" y="2262.0" font-size="51" textLength="107.1" lengthAdjust="spacingAndGlyphs">1800</text>
<rect x="507.4" y="2194" width="5.5" height="7"/>
<rect x="628.9" y="2194" width="5.5" height="16"/>
<text x="577.0" y="2262.0" font-size="51" textLength="107.1" lengthAdjust="spacingAndGlyphs">1600</text>
<rect x="750.5" y="2194" width="5.5" height="7"/>
<rect x="872.0" y="2194" width="5.5" height="16"/>
<text x="820.1" y="2262.0" font-size="51" textLength="107.1" lengthAdjust="spacingAndGlyphs">1400</text>
<rect x="993.6" y="2194" width="5.5" height="7"/>
<rect x="1115.2" y="2194" width="5.5" height="16"/>
<text x="1063.2" y="2262.0" font-size="51" textLength="107.1" lengthAdjust="spacingAndGlyphs">1200</text>
<rect x="1236.7" y="2194" width="5.5" height="7"/>
<rect x="1358" y="2194" width="6" height="16"/>
<text x="1306.3" y="2262.0" font-size="51" textLength="107.1" lengthAdjust="spacingAndGlyphs">1000</text>
<g clip-path="url(#clipB)" fill="none" shape-rendering="crispEdges" stroke-linejoin="round" stroke-width="7.8">
<path d="M140.0 2147.9L141.5 2147.9L143.0 2147.9L144.5 2148.0L146.0 2148.0L147.5 2148.1L149.0 2148.0L150.5 2148.0L152.0 2147.9L153.5 2147.8L155.0 2147.9L156.5 2148.0L158.0 2148.2L159.5 2148.2L161.0 2148.3L162.5 2148.2L164.0 2148.1L165.5 2148.0L167.0 2147.9L168.5 2147.9L170.0 2147.8L171.5 2147.8L173.0 2147.8L174.5 2147.8L176.0 2147.9L177.5 2148.0L179.0 2148.1L180.5 2148.1L182.0 2148.0L183.5 2148.0L185.0 2147.9L186.5 2147.9L188.0 2147.8L189.5 2147.8L191.0 2147.8L192.5 2147.8L194.0 2147.9L195.5 2148.0L197.0 2148.1L198.5 2148.0L200.0 2148.0L201.5 2147.9L203.0 2147.9L204.5 2148.0L206.0 2148.1L207.5 2148.1L209.0 2148.1L210.5 2148.1L212.0 2148.2L213.5 2148.3L215.0 2148.2L216.5 2148.1L218.0 2148.0L219.5 2147.9L221.0 2147.9L222.5 2148.1L224.0 2148.3L225.5 2148.2L227.0 2148.1L228.5 2148.0L230.0 2147.9L231.5 2148.0L233.0 2148.1L234.5 2148.3L236.0 2148.1L237.5 2148.0L239.0 2148.0L240.5 2148.2L242.0 2148.2L243.5 2148.1L245.0 2148.0L246.5 2147.9L248.0 2147.8L249.5 2147.9L251.0 2148.0L252.5 2148.1L254.0 2148.1L255.5 2148.1L257.0 2148.0L258.5 2147.8L260.0 2147.9L261.5 2148.1L263.0 2148.1L264.5 2148.0L266.0 2148.0L267.5 2147.9L269.0 2147.8L270.5 2147.8L272.0 2147.8L273.5 2147.9L275.0 2148.0L276.5 2148.0L278.0 2148.1L279.5 2148.1L281.0 2148.2L282.5 2148.3L284.0 2148.3L285.5 2148.1L287.0 2148.0L288.5 2148.1L290.0 2148.3L291.5 2148.2L293.0 2148.0L294.5 2147.9L296.0 2148.0L297.5 2148.0L299.0 2148.0L300.5 2148.0L302.0 2148.1L303.5 2148.1L305.0 2148.1L306.5 2147.9L308.0 2147.7L309.5 2147.8L311.0 2147.9L312.5 2147.9L314.0 2148.0L315.5 2148.0L317.0 2147.9L318.5 2147.9L320.0 2148.0L321.5 2148.1L323.0 2148.1L324.5 2148.0L326.0 2148.0L327.5 2148.0L329.1 2148.0L330.6 2148.0L332.1 2148.1L333.6 2148.0L335.1 2148.0L336.6 2147.9L338.1 2147.9L339.6 2148.0L341.1 2147.9L342.6 2147.9L344.1 2147.9L345.6 2147.9L347.1 2148.0L348.6 2148.1L350.1 2148.3L351.6 2148.2L353.1 2148.1L354.6 2148.0L356.1 2148.0L357.6 2147.9L359.1 2148.0L360.6 2148.0L362.1 2148.1L363.6 2148.2L365.1 2148.1L366.6 2147.9L368.1 2147.9L369.6 2148.0L371.1 2148.2L372.6 2148.2L374.1 2148.2L375.6 2148.1L377.1 2147.9L378.6 2147.8L380.1 2148.0L381.6 2148.2L383.1 2148.1L384.6 2148.1L386.1 2148.0L387.6 2148.0L389.1 2148.0L390.6 2148.0L392.1 2147.9L393.6 2147.8L395.1 2147.7L396.6 2147.8L398.1 2148.0L399.6 2148.1L401.1 2147.9L402.6 2147.8L404.1 2148.0L405.6 2148.1L407.1 2148.1L408.6 2148.1L410.1 2148.1L411.6 2147.9L413.1 2147.8L414.6 2148.0L416.1 2148.2L417.6 2148.2L419.1 2148.2L420.6 2148.1L422.1 2147.8L423.6 2147.6L425.1 2147.9L426.6 2148.2L428.1 2148.2L429.6 2148.0L431.1 2148.0L432.6 2148.1L434.1 2148.3L435.6 2148.1L437.1 2147.9L438.6 2147.9L440.1 2148.1L441.6 2148.1L443.1 2148.0L444.6 2147.8L446.1 2147.8L447.6 2147.8L449.1 2147.9L450.6 2148.1L452.1 2148.2L453.6 2148.0L455.1 2147.9L456.6 2147.9L458.1 2147.9L459.6 2148.0L461.1 2148.1L462.6 2148.1L464.1 2148.0L465.6 2147.9L467.1 2147.9L468.6 2147.8L470.1 2147.8L471.6 2148.0L473.1 2148.1L474.6 2148.0L476.1 2147.9L477.6 2148.0L479.1 2148.1L480.6 2148.2L482.1 2148.2L483.6 2148.2L485.1 2148.2L486.6 2148.2L488.1 2148.0L489.6 2147.8L491.1 2147.8L492.6 2147.9L494.1 2148.0L495.6 2148.0L497.1 2148.0L498.6 2148.1L500.1 2148.1L501.6 2148.1L503.1 2148.1L504.6 2148.1L506.1 2147.9L507.6 2147.8L509.1 2147.8L510.6 2147.8L512.1 2147.9L513.6 2148.0L515.1 2148.0L516.6 2147.9L518.1 2147.9L519.6 2147.9L521.1 2147.9L522.6 2148.0L524.1 2148.0L525.6 2148.0L527.1 2148.0L528.6 2148.0L530.1 2147.8L531.6 2147.7L533.1 2147.8L534.6 2147.8L536.1 2147.9L537.6 2148.0L539.1 2148.2L540.6 2148.2L542.1 2148.1L543.6 2148.1L545.1 2148.0L546.6 2148.0L548.1 2148.0L549.6 2148.0L551.1 2147.9L552.6 2147.8L554.1 2147.8L555.6 2147.8L557.1 2148.0L558.6 2148.2L560.1 2148.4L561.6 2148.3L563.1 2148.2L564.6 2148.1L566.1 2148.1L567.6 2148.0L569.1 2148.0L570.6 2147.9L572.1 2147.8L573.6 2147.8L575.1 2147.9L576.6 2148.0L578.1 2148.1L579.6 2147.9L581.1 2147.8L582.6 2147.8L584.1 2147.9L585.6 2147.9L587.1 2147.9L588.6 2147.9L590.1 2148.0L591.6 2148.1L593.1 2148.1L594.6 2148.0L596.1 2148.1L597.6 2148.1L599.1 2148.1L600.6 2148.0L602.1 2148.0L603.6 2148.0L605.1 2148.0L606.6 2148.0L608.1 2148.0L609.6 2148.0L611.1 2147.9L612.6 2147.8L614.1 2147.8L615.6 2147.9L617.1 2147.9L618.6 2147.9L620.1 2147.9L621.6 2148.0L623.1 2148.1L624.6 2148.1L626.1 2148.1L627.6 2148.0L629.1 2147.9L630.6 2147.8L632.1 2147.9L633.6 2147.9L635.1 2147.9L636.6 2147.9L638.1 2147.9L639.6 2147.8L641.1 2147.8L642.6 2148.0L644.1 2148.1L645.6 2148.2L647.1 2148.2L648.6 2148.1L650.1 2148.0L651.6 2148.0L653.1 2148.1L654.6 2148.1L656.1 2148.1L657.6 2148.0L659.1 2147.9L660.6 2147.8L662.1 2147.8L663.6 2147.8L665.1 2147.9L666.6 2147.9L668.1 2147.8L669.6 2147.9L671.1 2148.1L672.6 2148.1L674.1 2148.1L675.6 2148.1L677.1 2148.1L678.6 2148.2L680.1 2148.3L681.6 2148.3L683.1 2148.3L684.6 2148.1L686.1 2148.0L687.6 2148.1L689.1 2148.2L690.6 2148.2L692.1 2148.1L693.6 2148.0L695.1 2147.9L696.6 2147.9L698.1 2147.9L699.6 2148.0L701.1 2148.1L702.6 2148.1L704.1 2148.1L705.7 2148.1L707.2 2148.1L708.7 2147.9L710.2 2147.8L711.7 2147.8L713.2 2147.9L714.7 2148.0L716.2 2147.9L717.7 2147.8L719.2 2147.7L720.7 2147.6L722.2 2147.6L723.7 2147.7L725.2 2147.7L726.7 2147.7L728.2 2147.7L729.7 2147.8L731.2 2147.9L732.7 2147.8L734.2 2147.7L735.7 2147.7L737.2 2147.8L738.7 2147.9L740.2 2147.9L741.7 2147.9L743.2 2147.9L744.7 2147.9L746.2 2147.9L747.7 2147.9L749.2 2147.8L750.7 2147.9L752.2 2148.0L753.7 2147.9L755.2 2147.9L756.7 2147.8L758.2 2147.7L759.7 2147.7L761.2 2147.7L762.7 2147.8L764.2 2147.8L765.7 2147.9L767.2 2147.9L768.7 2147.9L770.2 2147.8L771.7 2147.8L773.2 2147.8L774.7 2147.8L776.2 2147.8L777.7 2147.8L779.2 2147.9L780.7 2147.9L782.2 2147.8L783.7 2147.8L785.2 2147.7L786.7 2147.6L788.2 2147.6L789.7 2147.7L791.2 2147.8L792.7 2147.9L794.2 2148.0L795.7 2147.8L797.2 2147.7L798.7 2147.6L800.2 2147.6L801.7 2147.6L803.2 2147.8L804.7 2148.0L806.2 2147.9L807.7 2147.8L809.2 2147.7L810.7 2147.6L812.2 2147.6L813.7 2147.7L815.2 2147.7L816.7 2147.7L818.2 2147.8L819.7 2147.7L821.2 2147.6L822.7 2147.6L824.2 2147.6L825.7 2147.6L827.2 2147.7L828.7 2147.8L830.2 2147.8L831.7 2147.8L833.2 2147.7L834.7 2147.7L836.2 2147.7L837.7 2147.7L839.2 2147.6L840.7 2147.6L842.2 2147.7L843.7 2147.7L845.2 2147.6L846.7 2147.5L848.2 2147.6L849.7 2147.7L851.2 2147.7L852.7 2147.6L854.2 2147.5L855.7 2147.7L857.2 2148.0L858.7 2147.8L860.2 2147.6L861.7 2147.5L863.2 2147.5L864.7 2147.5L866.2 2147.6L867.7 2147.6L869.2 2147.7L870.7 2147.7L872.2 2147.8L873.7 2147.8L875.2 2147.8L876.7 2147.7L878.2 2147.6L879.7 2147.6L881.2 2147.6L882.7 2147.7L884.2 2147.7L885.7 2147.7L887.2 2147.6L888.7 2147.6L890.2 2147.6L891.7 2147.6L893.2 2147.6L894.7 2147.6L896.2 2147.5L897.7 2147.5L899.2 2147.6L900.7 2147.7L902.2 2147.8L903.7 2147.8L905.2 2147.8L906.7 2147.7L908.2 2147.6L909.7 2147.5L911.2 2147.4L912.7 2147.5L914.2 2147.5L915.7 2147.5L917.2 2147.5L918.7 2147.5L920.2 2147.6L921.7 2147.5L923.2 2147.5L924.7 2147.4L926.2 2147.4L927.7 2147.3L929.2 2147.4L930.7 2147.5L932.2 2147.6L933.7 2147.6L935.2 2147.6L936.7 2147.5L938.2 2147.4L939.7 2147.5L941.2 2147.5L942.7 2147.6L944.2 2147.7L945.7 2147.7L947.2 2147.6L948.7 2147.5L950.2 2147.6L951.7 2147.6L953.2 2147.6L954.7 2147.6L956.2 2147.5L957.7 2147.5L959.2 2147.5L960.7 2147.6L962.2 2147.7L963.7 2147.6L965.2 2147.6L966.7 2147.6L968.2 2147.6L969.7 2147.6L971.2 2147.6L972.7 2147.7L974.2 2147.6L975.7 2147.5L977.2 2147.5L978.7 2147.5L980.2 2147.5L981.7 2147.6L983.2 2147.7L984.7 2147.7L986.2 2147.6L987.7 2147.6L989.2 2147.5L990.7 2147.5L992.2 2147.4L993.7 2147.3L995.2 2147.4L996.7 2147.5L998.2 2147.6L999.7 2147.5L1001.2 2147.5L1002.7 2147.5L1004.2 2147.5L1005.7 2147.6L1007.2 2147.7L1008.7 2147.7L1010.2 2147.6L1011.7 2147.5L1013.2 2147.5L1014.7 2147.5L1016.2 2147.6L1017.7 2147.6L1019.2 2147.7L1020.7 2147.7L1022.2 2147.7L1023.7 2147.7L1025.2 2147.7L1026.7 2147.6L1028.2 2147.6L1029.7 2147.5L1031.2 2147.6L1032.7 2147.6L1034.2 2147.7L1035.7 2147.9L1037.2 2147.8L1038.7 2147.7L1040.2 2147.7L1041.7 2147.7L1043.2 2147.7L1044.7 2147.7L1046.2 2147.6L1047.7 2147.5L1049.2 2147.4L1050.7 2147.3L1052.2 2147.2L1053.7 2147.2L1055.2 2147.5L1056.7 2147.7L1058.2 2147.8L1059.7 2147.7L1061.2 2147.6L1062.7 2147.6L1064.2 2147.6L1065.7 2147.6L1067.2 2147.6L1068.7 2147.6L1070.2 2147.6L1071.7 2147.6L1073.2 2147.6L1074.7 2147.6L1076.2 2147.6L1077.7 2147.6L1079.2 2147.6L1080.7 2147.5L1082.2 2147.5L1083.8 2147.5L1085.3 2147.5L1086.8 2147.6L1088.3 2147.6L1089.8 2147.6L1091.3 2147.5L1092.8 2147.6L1094.3 2147.6L1095.8 2147.7L1097.3 2147.7L1098.8 2147.8L1100.3 2147.7L1101.8 2147.6L1103.3 2147.5L1104.8 2147.5L1106.3 2147.4L1107.8 2147.4L1109.3 2147.4L1110.8 2147.3L1112.3 2147.3L1113.8 2147.3L1115.3 2147.6L1116.8 2147.7L1118.3 2147.7L1119.8 2147.6L1121.3 2147.5L1122.8 2147.4L1124.3 2147.3L1125.8 2147.0L1127.3 2146.8L1128.8 2146.6L1130.3 2146.5L1131.8 2146.4L1133.3 2146.5L1134.8 2146.5L1136.3 2146.5L1137.8 2146.5L1139.3 2146.5L1140.8 2146.4L1142.3 2146.5L1143.8 2146.6L1145.3 2146.7L1146.8 2146.7L1148.3 2146.7L1149.8 2146.8L1151.3 2146.9L1152.8 2147.0L1154.3 2147.1L1155.8 2147.2L1157.3 2147.1L1158.8 2147.1L1160.3 2147.1L1161.8 2147.2L1163.3 2147.4L1164.8 2147.5L1166.3 2147.6L1167.8 2147.7L1169.3 2147.7L1170.8 2147.7L1172.3 2147.6L1173.8 2147.6L1175.3 2147.5L1176.8 2147.5L1178.3 2147.5L1179.8 2147.5L1181.3 2147.4L1182.8 2147.4L1184.3 2147.5L1185.8 2147.8L1187.3 2147.8L1188.8 2147.7L1190.3 2147.7L1191.8 2147.7L1193.3 2147.7L1194.8 2147.7L1196.3 2147.6L1197.8 2147.6L1199.3 2147.6L1200.8 2147.7L1202.3 2147.6L1203.8 2147.6L1205.3 2147.6L1206.8 2147.6L1208.3 2147.6L1209.8 2147.5L1211.3 2147.5L1212.8 2147.5L1214.3 2147.5L1215.8 2147.6L1217.3 2147.7L1218.8 2147.7L1220.3 2147.6L1221.8 2147.5L1223.3 2147.4L1224.8 2147.3L1226.3 2147.3L1227.8 2147.4L1229.3 2147.5L1230.8 2147.6L1232.3 2147.7L1233.8 2147.6L1235.3 2147.6L1236.8 2147.6L1238.3 2147.6L1239.8 2147.6L1241.3 2147.6L1242.8 2147.5L1244.3 2147.5L1245.8 2147.4L1247.3 2147.3L1248.8 2147.2L1250.3 2147.1L1251.8 2146.9L1253.3 2146.8L1254.8 2146.8L1256.3 2146.9L1257.8 2146.7L1259.3 2146.5L1260.8 2146.5L1262.3 2146.5L1263.8 2146.6L1265.3 2146.5L1266.8 2146.4L1268.3 2146.4L1269.8 2146.5L1271.3 2146.5L1272.8 2146.5L1274.3 2146.5L1275.8 2146.5L1277.3 2146.5L1278.8 2146.5L1280.3 2146.6L1281.8 2146.6L1283.3 2146.7L1284.8 2146.8L1286.3 2146.8L1287.8 2146.8L1289.3 2146.9L1290.8 2147.0L1292.3 2147.1L1293.8 2147.0L1295.3 2147.0L1296.8 2147.1L1298.3 2147.2L1299.8 2147.1L1301.3 2146.9L1302.8 2146.9L1304.3 2147.0L1305.8 2147.0L1307.3 2147.0L1308.8 2146.9L1310.3 2146.7L1311.8 2146.4L1313.3 2146.2L1314.8 2146.1L1316.3 2145.9L1317.8 2145.5L1319.3 2145.0L1320.8 2144.8L1322.3 2144.6L1323.8 2144.3L1325.3 2143.9L1326.8 2143.6L1328.3 2143.3L1329.8 2143.2L1331.3 2143.1L1332.8 2143.4L1334.3 2144.0L1335.8 2144.8L1337.3 2145.6L1338.8 2146.3L1340.3 2147.0L1341.8 2147.7L1343.3 2148.5L1344.8 2149.3L1346.3 2150.3L1347.8 2151.8L1349.3 2153.7L1350.8 2155.4L1352.3 2156.0L1353.8 2154.8L1355.3 2152.5L1356.8 2150.3L1358.3 2149.3L1359.8 2148.8L1361.3 2148.4L1362.8 2148.2" stroke="#000000"/>
<path d="M140.0 2088.9L141.5 2089.0L143.0 2089.1L144.5 2089.0L146.0 2088.8L147.5 2088.7L149.0 2088.7L150.5 2088.6L152.0 2088.8L153.5 2089.0L155.0 2089.0L156.5 2089.0L158.0 2088.9L159.5 2088.8L161.0 2088.8L162.5 2088.9L164.0 2089.0L165.5 2089.0L167.0 2089.0L168.5 2088.9L170.0 2089.0L171.5 2089.0L173.0 2088.8L174.5 2088.6L176.0 2088.6L177.5 2088.8L179.0 2089.0L180.5 2089.0L182.0 2089.0L183.5 2088.8L185.0 2088.7L186.5 2088.8L188.0 2089.1L189.5 2089.3L191.0 2089.4L192.5 2089.5L194.0 2089.3L195.5 2089.1L197.0 2089.0L198.5 2088.9L200.0 2088.8L201.5 2088.8L203.0 2088.8L204.5 2089.0L206.0 2089.3L207.5 2089.2L209.0 2088.9L210.5 2088.7L212.0 2088.5L213.5 2088.4L215.0 2088.6L216.5 2088.8L218.0 2088.9L219.5 2088.9L221.0 2088.9L222.5 2088.8L224.0 2088.7L225.5 2088.8L227.0 2088.8L228.5 2088.9L230.0 2089.0L231.5 2089.0L233.0 2089.0L234.5 2089.0L236.0 2088.7L237.5 2088.4L239.0 2088.4L240.5 2088.6L242.0 2088.7L243.5 2088.8L245.0 2088.9L246.5 2088.9L248.0 2088.8L249.5 2088.8L251.0 2088.7L252.5 2088.7L254.0 2088.9L255.5 2089.0L257.0 2089.3L258.5 2089.7L260.0 2089.6L261.5 2089.2L263.0 2088.9L264.5 2088.5L266.0 2088.1L267.5 2088.5L269.0 2088.9L270.5 2088.9L272.0 2088.7L273.5 2088.7L275.0 2088.8L276.5 2088.9L278.0 2088.8L279.5 2088.7L281.0 2088.6L282.5 2088.5L284.0 2088.5L285.5 2088.7L287.0 2088.9L288.5 2089.0L290.0 2089.0L291.5 2089.0L293.0 2088.9L294.5 2088.9L296.0 2089.1L297.5 2089.3L299.0 2089.1L300.5 2088.8L302.0 2088.8L303.5 2088.9L305.0 2089.0L306.5 2088.9L308.0 2088.9L309.5 2088.7L311.0 2088.5L312.5 2088.6L314.0 2088.9L315.5 2089.0L317.0 2088.9L318.5 2088.8L320.0 2089.0L321.5 2089.3L323.0 2089.2L324.5 2089.1L326.0 2089.1L327.5 2089.1L329.1 2089.2L330.6 2089.0L332.1 2088.8L333.6 2088.9L335.1 2089.2L336.6 2089.3L338.1 2089.0L339.6 2088.7L341.1 2088.6L342.6 2088.5L344.1 2088.6L345.6 2088.7L347.1 2088.8L348.6 2089.0L350.1 2089.1L351.6 2089.2L353.1 2089.3L354.6 2089.2L356.1 2088.9L357.6 2088.8L359.1 2088.8L360.6 2088.7L362.1 2088.7L363.6 2088.7L365.1 2088.7L366.6 2088.7L368.1 2088.8L369.6 2089.0L371.1 2089.3L372.6 2089.2L374.1 2089.1L375.6 2089.0L377.1 2088.9L378.6 2088.9L380.1 2088.9L381.6 2088.9L383.1 2088.9L384.6 2088.9L386.1 2088.9L387.6 2088.9L389.1 2088.8L390.6 2088.7L392.1 2088.6L393.6 2088.9L395.1 2089.1L396.6 2089.0L398.1 2088.8L399.6 2088.7L401.1 2088.5L402.6 2088.4L404.1 2088.5L405.6 2088.7L407.1 2088.7L408.6 2088.7L410.1 2088.8L411.6 2088.9L413.1 2089.1L414.6 2089.2L416.1 2089.3L417.6 2089.2L419.1 2089.1L420.6 2089.0L422.1 2089.0L423.6 2089.0L425.1 2089.0L426.6 2089.0L428.1 2088.9L429.6 2088.7L431.1 2088.5L432.6 2088.4L434.1 2088.2L435.6 2088.6L437.1 2088.9L438.6 2089.0L440.1 2088.9L441.6 2089.0L443.1 2089.1L444.6 2089.2L446.1 2088.9L447.6 2088.7L449.1 2088.6L450.6 2088.6L452.1 2088.7L453.6 2089.0L455.1 2089.1L456.6 2088.9L458.1 2088.7L459.6 2088.8L461.1 2089.0L462.6 2089.0L464.1 2088.8L465.6 2088.5L467.1 2088.5L468.6 2088.5L470.1 2088.5L471.6 2088.6L473.1 2088.6L474.6 2088.4L476.1 2088.3L477.6 2088.6L479.1 2088.9L480.6 2088.8L482.1 2088.7L483.6 2088.6L485.1 2088.8L486.6 2088.9L488.1 2088.8L489.6 2088.8L491.1 2089.0L492.6 2089.2L494.1 2089.2L495.6 2088.9L497.1 2088.7L498.6 2088.7L500.1 2088.6L501.6 2088.7L503.1 2088.9L504.6 2088.9L506.1 2088.7L507.6 2088.5L509.1 2088.7L510.6 2088.9L512.1 2089.1L513.6 2089.2L515.1 2089.1L516.6 2088.6L518.1 2088.1L519.6 2088.3L521.1 2088.5L522.6 2088.8L524.1 2089.2L525.6 2089.2L527.1 2088.8L528.6 2088.4L530.1 2088.6L531.6 2088.8L533.1 2088.8L534.6 2088.6L536.1 2088.6L537.6 2089.0L539.1 2089.3L540.6 2088.9L542.1 2088.6L543.6 2088.5L545.1 2088.5L546.6 2088.6L548.1 2088.7L549.6 2088.8L551.1 2088.9L552.6 2089.1L554.1 2089.2L555.6 2089.3L557.1 2089.3L558.6 2089.1L560.1 2088.9L561.6 2089.1L563.1 2089.3L564.6 2089.2L566.1 2088.9L567.6 2088.8L569.1 2088.9L570.6 2088.9L572.1 2089.0L573.6 2089.0L575.1 2089.0L576.6 2088.9L578.1 2088.8L579.6 2088.5L581.1 2088.3L582.6 2088.4L584.1 2088.6L585.6 2088.6L587.1 2088.5L588.6 2088.4L590.1 2088.4L591.6 2088.4L593.1 2088.5L594.6 2088.5L596.1 2088.6L597.6 2088.7L599.1 2088.7L600.6 2088.6L602.1 2088.4L603.6 2088.5L605.1 2088.6L606.6 2088.5L608.1 2088.3L609.6 2088.2L611.1 2088.4L612.6 2088.5L614.1 2088.4L615.6 2088.4L617.1 2088.3L618.6 2088.1L620.1 2088.1L621.6 2088.1L623.1 2088.2L624.6 2088.2L626.1 2088.3L627.6 2088.3L629.1 2088.4L630.6 2088.4L632.1 2088.4L633.6 2088.4L635.1 2088.3L636.6 2088.2L638.1 2088.2L639.6 2088.2L641.1 2088.3L642.6 2088.4L644.1 2088.5L645.6 2088.5L647.1 2088.5L648.6 2088.4L650.1 2088.3L651.6 2088.2L653.1 2088.3L654.6 2088.4L656.1 2088.4L657.6 2088.4L659.1 2088.4L660.6 2088.3L662.1 2088.2L663.6 2088.0L665.1 2087.9L666.6 2087.9L668.1 2087.9L669.6 2087.9L671.1 2087.9L672.6 2087.9L674.1 2088.2L675.6 2088.4L677.1 2088.2L678.6 2088.1L680.1 2088.2L681.6 2088.2L683.1 2088.2L684.6 2088.0L686.1 2087.8L687.6 2087.7L689.1 2087.6L690.6 2087.9L692.1 2088.4L693.6 2088.6L695.1 2088.4L696.6 2088.3L698.1 2088.3L699.6 2088.4L701.1 2088.3L702.6 2088.0L704.1 2088.0L705.7 2088.2L707.2 2088.5L708.7 2088.4L710.2 2088.4L711.7 2088.5L713.2 2088.5L714.7 2088.5L716.2 2088.4L717.7 2088.4L719.2 2088.2L720.7 2088.1L722.2 2088.2L723.7 2088.4L725.2 2088.4L726.7 2088.2L728.2 2088.0L729.7 2088.3L731.2 2088.6L732.7 2088.4L734.2 2088.0L735.7 2087.8L737.2 2087.9L738.7 2088.0L740.2 2088.2L741.7 2088.3L743.2 2088.4L744.7 2088.4L746.2 2088.3L747.7 2088.0L749.2 2087.8L750.7 2087.9L752.2 2088.0L753.7 2088.1L755.2 2088.1L756.7 2088.1L758.2 2088.1L759.7 2088.1L761.2 2088.0L762.7 2088.0L764.2 2088.1L765.7 2088.2L767.2 2088.2L768.7 2088.0L770.2 2087.8L771.7 2088.0L773.2 2088.2L774.7 2088.4L776.2 2088.6L777.7 2088.6L779.2 2088.3L780.7 2088.0L782.2 2087.7L783.7 2087.4L785.2 2087.4L786.7 2087.5L788.2 2087.6L789.7 2087.8L791.2 2088.0L792.7 2088.1L794.2 2088.3L795.7 2088.1L797.2 2087.9L798.7 2087.8L800.2 2087.8L801.7 2087.8L803.2 2088.0L804.7 2088.1L806.2 2088.1L807.7 2088.0L809.2 2088.0L810.7 2088.0L812.2 2088.0L813.7 2087.9L815.2 2087.8L816.7 2087.9L818.2 2088.0L819.7 2088.2L821.2 2088.4L822.7 2088.6L824.2 2088.2L825.7 2087.8L827.2 2087.9L828.7 2088.0L830.2 2088.1L831.7 2088.0L833.2 2087.9L834.7 2087.9L836.2 2087.9L837.7 2087.8L839.2 2087.7L840.7 2087.7L842.2 2087.8L843.7 2087.8L845.2 2087.8L846.7 2087.8L848.2 2087.9L849.7 2088.1L851.2 2088.1L852.7 2087.8L854.2 2087.6L855.7 2087.5L857.2 2087.5L858.7 2087.7L860.2 2088.0L861.7 2088.0L863.2 2087.8L864.7 2087.6L866.2 2087.7L867.7 2087.8L869.2 2087.7L870.7 2087.6L872.2 2087.4L873.7 2087.2L875.2 2087.1L876.7 2086.9L878.2 2086.8L879.7 2086.7L881.2 2086.5L882.7 2086.4L884.2 2086.4L885.7 2086.3L887.2 2086.3L888.7 2086.3L890.2 2086.0L891.7 2085.6L893.2 2085.5L894.7 2085.6L896.2 2085.7L897.7 2086.0L899.2 2086.3L900.7 2086.3L902.2 2086.3L903.7 2086.5L905.2 2086.8L906.7 2087.1L908.2 2087.2L909.7 2087.4L911.2 2087.7L912.7 2088.0L914.2 2088.1L915.7 2088.1L917.2 2088.0L918.7 2088.1L920.2 2088.3L921.7 2088.2L923.2 2088.1L924.7 2088.2L926.2 2088.4L927.7 2088.6L929.2 2088.5L930.7 2088.4L932.2 2088.3L933.7 2088.3L935.2 2088.2L936.7 2088.1L938.2 2088.1L939.7 2088.1L941.2 2088.0L942.7 2088.2L944.2 2088.5L945.7 2088.5L947.2 2088.2L948.7 2088.1L950.2 2088.2L951.7 2088.4L953.2 2088.1L954.7 2087.7L956.2 2087.6L957.7 2087.9L959.2 2088.1L960.7 2088.2L962.2 2088.4L963.7 2088.2L965.2 2088.0L966.7 2088.0L968.2 2088.4L969.7 2088.6L971.2 2088.1L972.7 2087.6L974.2 2087.9L975.7 2088.5L977.2 2088.6L978.7 2088.2L980.2 2087.9L981.7 2087.7L983.2 2087.6L984.7 2087.5L986.2 2087.5L987.7 2087.7L989.2 2088.1L990.7 2088.4L992.2 2088.1L993.7 2087.9L995.2 2087.8L996.7 2087.8L998.2 2087.8L999.7 2088.0L1001.2 2088.2L1002.7 2087.9L1004.2 2087.6L1005.7 2087.7L1007.2 2087.8L1008.7 2087.6L1010.2 2087.2L1011.7 2086.7L1013.2 2086.5L1014.7 2086.3L1016.2 2086.5L1017.7 2086.8L1019.2 2086.9L1020.7 2086.9L1022.2 2086.8L1023.7 2086.4L1025.2 2086.1L1026.7 2086.0L1028.2 2086.1L1029.7 2086.2L1031.2 2086.2L1032.7 2086.2L1034.2 2086.1L1035.7 2086.0L1037.2 2086.2L1038.7 2086.4L1040.2 2086.5L1041.7 2086.5L1043.2 2086.3L1044.7 2085.7L1046.2 2085.2L1047.7 2085.3L1049.2 2085.6L1050.7 2085.7L1052.2 2085.5L1053.7 2085.4L1055.2 2085.3L1056.7 2085.3L1058.2 2084.9L1059.7 2084.4L1061.2 2084.4L1062.7 2084.8L1064.2 2085.0L1065.7 2084.5L1067.2 2084.0L1068.7 2084.2L1070.2 2084.6L1071.7 2084.8L1073.2 2084.8L1074.7 2084.8L1076.2 2084.7L1077.7 2084.6L1079.2 2084.3L1080.7 2083.9L1082.2 2083.6L1083.8 2083.3L1085.3 2083.2L1086.8 2083.7L1088.3 2084.2L1089.8 2084.2L1091.3 2084.0L1092.8 2084.1L1094.3 2084.3L1095.8 2084.4L1097.3 2084.0L1098.8 2083.5L1100.3 2083.1L1101.8 2082.6L1103.3 2082.5L1104.8 2082.6L1106.3 2082.8L1107.8 2082.4L1109.3 2082.2L1110.8 2082.1L1112.3 2082.4L1113.8 2083.3L1115.3 2084.3L1116.8 2084.9L1118.3 2084.5L1119.8 2083.7L1121.3 2083.0L1122.8 2082.3L1124.3 2081.7L1125.8 2081.4L1127.3 2081.5L1128.8 2081.3L1130.3 2081.4L1131.8 2082.0L1133.3 2082.7L1134.8 2083.3L1136.3 2083.8L1137.8 2084.1L1139.3 2083.7L1140.8 2083.4L1142.3 2083.8L1143.8 2084.4L1145.3 2084.6L1146.8 2084.4L1148.3 2084.3L1149.8 2084.9L1151.3 2085.4L1152.8 2084.7L1154.3 2083.7L1155.8 2083.3L1157.3 2083.5L1158.8 2083.6L1160.3 2083.6L1161.8 2083.6L1163.3 2083.6L1164.8 2083.7L1166.3 2083.8L1167.8 2084.0L1169.3 2084.2L1170.8 2084.3L1172.3 2084.4L1173.8 2084.3L1175.3 2084.1L1176.8 2084.3L1178.3 2084.8L1179.8 2085.3L1181.3 2086.0L1182.8 2086.7L1184.3 2087.0L1185.8 2087.2L1187.3 2087.2L1188.8 2087.1L1190.3 2086.9L1191.8 2086.8L1193.3 2086.7L1194.8 2087.2L1196.3 2087.7L1197.8 2087.9L1199.3 2087.7L1200.8 2087.6L1202.3 2087.4L1203.8 2087.2L1205.3 2087.1L1206.8 2087.0L1208.3 2086.6L1209.8 2086.0L1211.3 2085.3L1212.8 2085.0L1214.3 2084.6L1215.8 2084.4L1217.3 2084.3L1218.8 2083.8L1220.3 2083.1L1221.8 2083.1L1223.3 2084.3L1224.8 2085.7L1226.3 2086.6L1227.8 2087.0L1229.3 2086.9L1230.8 2086.9L1232.3 2086.7L1233.8 2086.6L1235.3 2086.4L1236.8 2086.6L1238.3 2086.8L1239.8 2086.5L1241.3 2085.7L1242.8 2085.1L1244.3 2085.5L1245.8 2085.9L1247.3 2085.7L1248.8 2085.4L1250.3 2085.2L1251.8 2085.1L1253.3 2085.0L1254.8 2084.7L1256.3 2084.5L1257.8 2084.7L1259.3 2084.9L1260.8 2084.7L1262.3 2084.1L1263.8 2083.6L1265.3 2083.5L1266.8 2083.5L1268.3 2084.0L1269.8 2084.7L1271.3 2085.1L1272.8 2085.3L1274.3 2085.4L1275.8 2085.5L1277.3 2085.7L1278.8 2085.6L1280.3 2085.5L1281.8 2085.8L1283.3 2086.4L1284.8 2087.0L1286.3 2087.3L1287.8 2087.7L1289.3 2087.5L1290.8 2087.2L1292.3 2087.2L1293.8 2087.6L1295.3 2087.9L1296.8 2088.2L1298.3 2088.4L1299.8 2088.5L1301.3 2088.5L1302.8 2088.4L1304.3 2088.1L1305.8 2087.8L1307.3 2087.7L1308.8 2087.4L1310.3 2086.6L1311.8 2085.8L1313.3 2084.8L1314.8 2083.8L1316.3 2083.2L1317.8 2083.3L1319.3 2083.4L1320.8 2083.7L1322.3 2084.2L1323.8 2083.9L1325.3 2083.2L1326.8 2082.7L1328.3 2083.3L1329.8 2083.8L1331.3 2084.0L1332.8 2084.3L1334.3 2085.0L1335.8 2086.1L1337.3 2086.8L1338.8 2086.3L1340.3 2085.7L1341.8 2086.5L1343.3 2087.5L1344.8 2087.7L1346.3 2087.2L1347.8 2086.9L1349.3 2087.2L1350.8 2087.5L1352.3 2087.9L1353.8 2088.4L1355.3 2088.7L1356.8 2088.7L1358.3 2088.7L1359.8 2088.5L1361.3 2088.4L1362.8 2088.2" stroke="#FF0000"/>
<path d="M140.0 2024.3L141.5 2024.3L143.0 2024.3L144.5 2024.4L146.0 2024.5L147.5 2024.5L149.0 2024.2L150.5 2024.0L152.0 2023.8L153.5 2023.7L155.0 2023.8L156.5 2024.2L158.0 2024.3L159.5 2024.1L161.0 2023.9L162.5 2024.0L164.0 2024.2L165.5 2024.4L167.0 2024.7L168.5 2024.8L170.0 2024.4L171.5 2024.1L173.0 2024.2L174.5 2024.3L176.0 2024.5L177.5 2024.6L179.0 2024.6L180.5 2024.6L182.0 2024.6L183.5 2024.6L185.0 2024.6L186.5 2024.6L188.0 2024.5L189.5 2024.5L191.0 2024.8L192.5 2025.0L194.0 2024.8L195.5 2024.6L197.0 2024.3L198.5 2024.0L200.0 2023.9L201.5 2024.2L203.0 2024.4L204.5 2024.2L206.0 2024.0L207.5 2023.9L209.0 2023.9L210.5 2024.0L212.0 2024.4L213.5 2024.7L215.0 2024.5L216.5 2024.4L218.0 2024.1L219.5 2023.8L221.0 2023.8L222.5 2024.3L224.0 2024.7L225.5 2024.4L227.0 2024.0L228.5 2024.1L230.0 2024.4L231.5 2024.6L233.0 2024.6L234.5 2024.6L236.0 2024.4L237.5 2024.3L239.0 2024.2L240.5 2024.2L242.0 2024.3L243.5 2024.5L245.0 2024.7L246.5 2024.7L248.0 2024.7L249.5 2024.8L251.0 2025.0L252.5 2025.0L254.0 2024.8L255.5 2024.6L257.0 2024.6L258.5 2024.6L260.0 2024.5L261.5 2024.5L263.0 2024.4L264.5 2024.2L266.0 2024.0L267.5 2024.2L269.0 2024.4L270.5 2024.4L272.0 2024.3L273.5 2024.3L275.0 2024.3L276.5 2024.3L278.0 2024.2L279.5 2024.1L281.0 2024.4L282.5 2024.8L284.0 2024.9L285.5 2024.6L287.0 2024.3L288.5 2024.2L290.0 2024.1L291.5 2024.2L293.0 2024.4L294.5 2024.4L296.0 2023.9L297.5 2023.5L299.0 2024.1L300.5 2024.8L302.0 2024.7L303.5 2024.4L305.0 2024.2L306.5 2024.2L308.0 2024.1L309.5 2024.4L311.0 2024.6L312.5 2024.5L314.0 2024.2L315.5 2024.1L317.0 2024.2L318.5 2024.3L320.0 2024.6L321.5 2024.9L323.0 2024.8L324.5 2024.5L326.0 2024.4L327.5 2024.3L329.1 2024.3L330.6 2024.0L332.1 2023.8L333.6 2024.0L335.1 2024.4L336.6 2024.7L338.1 2024.8L339.6 2024.9L341.1 2024.6L342.6 2024.3L344.1 2024.5L345.6 2024.9L347.1 2025.1L348.6 2024.9L350.1 2024.8L351.6 2024.7L353.1 2024.5L354.6 2024.4L356.1 2024.3L357.6 2024.4L359.1 2024.8L360.6 2025.2L362.1 2024.6L363.6 2024.1L365.1 2024.2L366.6 2024.6L368.1 2024.7L369.6 2024.3L371.1 2023.9L372.6 2024.1L374.1 2024.2L375.6 2024.4L377.1 2024.5L378.6 2024.7L380.1 2024.9L381.6 2025.2L383.1 2025.0L384.6 2024.9L386.1 2024.6L387.6 2024.4L389.1 2024.3L390.6 2024.4L392.1 2024.5L393.6 2024.2L395.1 2023.9L396.6 2023.9L398.1 2024.0L399.6 2024.1L401.1 2024.2L402.6 2024.3L404.1 2024.2L405.6 2024.1L407.1 2024.1L408.6 2024.3L410.1 2024.3L411.6 2024.2L413.1 2024.1L414.6 2024.3L416.1 2024.4L417.6 2024.2L419.1 2023.9L420.6 2023.9L422.1 2024.2L423.6 2024.6L425.1 2024.7L426.6 2024.8L428.1 2024.8L429.6 2024.7L431.1 2024.6L432.6 2024.3L434.1 2024.1L435.6 2024.3L437.1 2024.6L438.6 2024.6L440.1 2024.5L441.6 2024.4L443.1 2024.0L444.6 2023.8L446.1 2024.1L447.6 2024.4L449.1 2024.3L450.6 2024.1L452.1 2023.9L453.6 2024.0L455.1 2024.0L456.6 2023.8L458.1 2023.7L459.6 2023.9L461.1 2024.3L462.6 2024.5L464.1 2024.4L465.6 2024.3L467.1 2024.3L468.6 2024.2L470.1 2024.2L471.6 2024.1L473.1 2024.1L474.6 2024.3L476.1 2024.5L477.6 2024.5L479.1 2024.6L480.6 2024.4L482.1 2024.1L483.6 2023.9L485.1 2024.0L486.6 2024.0L488.1 2024.3L489.6 2024.6L491.1 2024.4L492.6 2024.1L494.1 2023.9L495.6 2024.1L497.1 2024.2L498.6 2024.7L500.1 2025.1L501.6 2025.0L503.1 2024.7L504.6 2024.5L506.1 2024.5L507.6 2024.5L509.1 2024.3L510.6 2024.2L512.1 2024.2L513.6 2024.3L515.1 2024.3L516.6 2024.0L518.1 2023.9L519.6 2024.2L521.1 2024.6L522.6 2024.6L524.1 2024.6L525.6 2024.6L527.1 2024.7L528.6 2024.7L530.1 2024.5L531.6 2024.4L533.1 2024.3L534.6 2024.3L536.1 2024.3L537.6 2024.3L539.1 2024.3L540.6 2024.3L542.1 2024.3L543.6 2024.4L545.1 2024.5L546.6 2024.5L548.1 2024.5L549.6 2024.4L551.1 2024.2L552.6 2024.0L554.1 2024.2L555.6 2024.5L557.1 2024.6L558.6 2024.4L560.1 2024.3L561.6 2024.1L563.1 2024.0L564.6 2024.2L566.1 2024.4L567.6 2024.5L569.1 2024.2L570.6 2023.9L572.1 2024.2L573.6 2024.5L575.1 2024.4L576.6 2024.3L578.1 2024.4L579.6 2024.8L581.1 2025.1L582.6 2024.8L584.1 2024.5L585.6 2024.4L587.1 2024.4L588.6 2024.4L590.1 2024.4L591.6 2024.4L593.1 2024.1L594.6 2023.8L596.1 2023.5L597.6 2023.1L599.1 2023.1L600.6 2023.5L602.1 2023.8L603.6 2023.3L605.1 2022.7L606.6 2022.8L608.1 2023.2L609.6 2023.4L611.1 2023.4L612.6 2023.4L614.1 2023.6L615.6 2023.8L617.1 2023.6L618.6 2023.3L620.1 2023.2L621.6 2023.5L623.1 2023.7L624.6 2023.9L626.1 2024.2L627.6 2023.9L629.1 2023.4L630.6 2023.2L632.1 2023.6L633.6 2023.9L635.1 2024.0L636.6 2024.1L638.1 2023.8L639.6 2023.4L641.1 2023.0L642.6 2022.8L644.1 2022.7L645.6 2023.4L647.1 2024.1L648.6 2023.8L650.1 2023.2L651.6 2022.9L653.1 2023.1L654.6 2023.4L656.1 2023.9L657.6 2024.4L659.1 2024.2L660.6 2023.8L662.1 2023.5L663.6 2023.4L665.1 2023.3L666.6 2023.5L668.1 2023.6L669.6 2023.7L671.1 2023.7L672.6 2023.7L674.1 2023.7L675.6 2023.7L677.1 2023.5L678.6 2023.3L680.1 2023.4L681.6 2023.6L683.1 2023.8L684.6 2024.0L686.1 2024.1L687.6 2024.0L689.1 2023.9L690.6 2023.7L692.1 2023.5L693.6 2023.4L695.1 2023.5L696.6 2023.5L698.1 2023.4L699.6 2023.3L701.1 2023.3L702.6 2023.3L704.1 2023.4L705.7 2023.5L707.2 2023.5L708.7 2023.6L710.2 2023.7L711.7 2023.6L713.2 2023.6L714.7 2023.6L716.2 2023.7L717.7 2023.8L719.2 2023.8L720.7 2023.7L722.2 2023.8L723.7 2023.9L725.2 2023.9L726.7 2023.8L728.2 2023.7L729.7 2023.9L731.2 2024.1L732.7 2023.9L734.2 2023.7L735.7 2023.5L737.2 2023.4L738.7 2023.3L740.2 2023.3L741.7 2023.2L743.2 2023.3L744.7 2023.4L746.2 2023.4L747.7 2023.2L749.2 2023.1L750.7 2023.1L752.2 2023.1L753.7 2023.2L755.2 2023.3L756.7 2023.5L758.2 2023.9L759.7 2024.1L761.2 2023.7L762.7 2023.3L764.2 2023.4L765.7 2023.6L767.2 2023.7L768.7 2023.6L770.2 2023.6L771.7 2023.8L773.2 2023.9L774.7 2023.8L776.2 2023.6L777.7 2023.5L779.2 2023.5L780.7 2023.5L782.2 2023.3L783.7 2023.1L785.2 2023.2L786.7 2023.3L788.2 2023.5L789.7 2023.6L791.2 2023.7L792.7 2023.1L794.2 2022.5L795.7 2022.7L797.2 2023.2L798.7 2023.4L800.2 2023.2L801.7 2023.1L803.2 2023.0L804.7 2022.8L806.2 2023.0L807.7 2023.3L809.2 2023.4L810.7 2023.1L812.2 2022.9L813.7 2022.9L815.2 2022.9L816.7 2022.9L818.2 2022.8L819.7 2022.8L821.2 2023.0L822.7 2023.1L824.2 2023.0L825.7 2022.9L827.2 2022.8L828.7 2022.8L830.2 2022.8L831.7 2022.8L833.2 2022.9L834.7 2022.8L836.2 2022.8L837.7 2022.9L839.2 2022.9L840.7 2022.8L842.2 2022.6L843.7 2022.4L845.2 2022.6L846.7 2022.9L848.2 2022.5L849.7 2021.9L851.2 2021.8L852.7 2022.2L854.2 2022.6L855.7 2022.7L857.2 2022.7L858.7 2022.5L860.2 2022.2L861.7 2022.1L863.2 2022.2L864.7 2022.3L866.2 2022.1L867.7 2022.0L869.2 2022.1L870.7 2022.3L872.2 2022.1L873.7 2021.6L875.2 2021.2L876.7 2021.1L878.2 2021.0L879.7 2021.1L881.2 2021.4L882.7 2021.3L884.2 2020.9L885.7 2020.5L887.2 2020.2L888.7 2020.0L890.2 2020.1L891.7 2020.3L893.2 2020.7L894.7 2020.9L896.2 2021.2L897.7 2021.5L899.2 2021.4L900.7 2021.0L902.2 2020.6L903.7 2020.3L905.2 2020.1L906.7 2020.3L908.2 2021.2L909.7 2022.2L911.2 2022.7L912.7 2022.9L914.2 2022.9L915.7 2023.2L917.2 2023.4L918.7 2023.1L920.2 2022.9L921.7 2022.9L923.2 2022.9L924.7 2022.8L926.2 2022.7L927.7 2022.5L929.2 2022.4L930.7 2022.3L932.2 2022.3L933.7 2022.4L935.2 2022.4L936.7 2022.5L938.2 2022.5L939.7 2022.6L941.2 2022.8L942.7 2022.6L944.2 2022.3L945.7 2022.3L947.2 2022.7L948.7 2023.0L950.2 2022.8L951.7 2022.6L953.2 2022.7L954.7 2023.0L956.2 2023.0L957.7 2022.8L959.2 2022.7L960.7 2022.9L962.2 2023.0L963.7 2022.9L965.2 2022.8L966.7 2022.8L968.2 2022.9L969.7 2023.0L971.2 2022.8L972.7 2022.6L974.2 2022.8L975.7 2023.1L977.2 2023.3L978.7 2023.4L980.2 2023.4L981.7 2023.2L983.2 2023.1L984.7 2023.0L986.2 2022.9L987.7 2022.9L989.2 2023.2L990.7 2023.3L992.2 2022.8L993.7 2022.4L995.2 2022.7L996.7 2023.2L998.2 2023.2L999.7 2022.6L1001.2 2022.1L1002.7 2021.9L1004.2 2021.8L1005.7 2021.8L1007.2 2021.7L1008.7 2021.5L1010.2 2021.2L1011.7 2021.0L1013.2 2021.2L1014.7 2021.4L1016.2 2020.8L1017.7 2019.9L1019.2 2019.5L1020.7 2019.6L1022.2 2019.6L1023.7 2019.3L1025.2 2019.0L1026.7 2018.8L1028.2 2018.6L1029.7 2018.5L1031.2 2018.6L1032.7 2018.6L1034.2 2018.4L1035.7 2018.4L1037.2 2019.3L1038.7 2020.2L1040.2 2020.6L1041.7 2020.2L1043.2 2019.8L1044.7 2019.7L1046.2 2019.6L1047.7 2020.0L1049.2 2020.5L1050.7 2020.1L1052.2 2018.9L1053.7 2018.0L1055.2 2018.2L1056.7 2018.5L1058.2 2018.4L1059.7 2018.2L1061.2 2018.1L1062.7 2017.9L1064.2 2017.8L1065.7 2017.9L1067.2 2018.0L1068.7 2018.3L1070.2 2018.8L1071.7 2018.4L1073.2 2017.2L1074.7 2016.4L1076.2 2017.2L1077.7 2018.1L1079.2 2017.9L1080.7 2017.6L1082.2 2017.3L1083.8 2017.0L1085.3 2016.8L1086.8 2016.9L1088.3 2017.1L1089.8 2016.9L1091.3 2016.7L1092.8 2016.6L1094.3 2016.5L1095.8 2016.4L1097.3 2016.2L1098.8 2015.9L1100.3 2015.5L1101.8 2015.1L1103.3 2014.7L1104.8 2014.2L1106.3 2012.9L1107.8 2011.6L1109.3 2011.0L1110.8 2011.4L1112.3 2013.8L1113.8 2017.1L1115.3 2019.4L1116.8 2019.4L1118.3 2017.4L1119.8 2015.1L1121.3 2013.3L1122.8 2012.4L1124.3 2012.4L1125.8 2012.6L1127.3 2013.2L1128.8 2014.5L1130.3 2015.7L1131.8 2015.4L1133.3 2014.7L1134.8 2013.9L1136.3 2013.1L1137.8 2012.5L1139.3 2012.6L1140.8 2012.8L1142.3 2013.1L1143.8 2013.5L1145.3 2014.0L1146.8 2014.8L1148.3 2015.9L1149.8 2016.8L1151.3 2017.7L1152.8 2018.9L1154.3 2019.9L1155.8 2020.2L1157.3 2019.9L1158.8 2019.4L1160.3 2018.6L1161.8 2017.7L1163.3 2017.8L1164.8 2018.2L1166.3 2018.5L1167.8 2018.7L1169.3 2019.0L1170.8 2018.7L1172.3 2018.4L1173.8 2018.4L1175.3 2018.5L1176.8 2019.0L1178.3 2020.0L1179.8 2020.8L1181.3 2021.2L1182.8 2021.5L1184.3 2021.1L1185.8 2020.6L1187.3 2020.3L1188.8 2020.4L1190.3 2020.3L1191.8 2020.1L1193.3 2019.9L1194.8 2019.9L1196.3 2020.0L1197.8 2020.4L1199.3 2020.9L1200.8 2021.1L1202.3 2020.4L1203.8 2019.6L1205.3 2019.9L1206.8 2020.6L1208.3 2021.4L1209.8 2022.3L1211.3 2023.1L1212.8 2023.1L1214.3 2023.1L1215.8 2023.0L1217.3 2022.6L1218.8 2022.5L1220.3 2022.8L1221.8 2023.0L1223.3 2023.1L1224.8 2023.2L1226.3 2022.6L1227.8 2021.8L1229.3 2021.7L1230.8 2022.1L1232.3 2022.3L1233.8 2022.3L1235.3 2022.2L1236.8 2021.6L1238.3 2021.0L1239.8 2020.4L1241.3 2019.8L1242.8 2019.4L1244.3 2019.4L1245.8 2019.4L1247.3 2019.5L1248.8 2019.5L1250.3 2019.3L1251.8 2018.9L1253.3 2018.6L1254.8 2018.4L1256.3 2018.3L1257.8 2019.0L1259.3 2019.9L1260.8 2021.0L1262.3 2022.1L1263.8 2022.9L1265.3 2023.0L1266.8 2022.7L1268.3 2022.9L1269.8 2022.9L1271.3 2021.7L1272.8 2019.7L1274.3 2018.2L1275.8 2018.3L1277.3 2019.6L1278.8 2021.1L1280.3 2022.3L1281.8 2022.8L1283.3 2022.5L1284.8 2021.6L1286.3 2019.8L1287.8 2018.1L1289.3 2017.9L1290.8 2018.5L1292.3 2019.5L1293.8 2021.2L1295.3 2023.1L1296.8 2024.4L1298.3 2025.0L1299.8 2025.2L1301.3 2025.3L1302.8 2025.2L1304.3 2024.9L1305.8 2024.5L1307.3 2024.1L1308.8 2023.6L1310.3 2023.1L1311.8 2022.2L1313.3 2020.9L1314.8 2019.6L1316.3 2018.7L1317.8 2018.2L1319.3 2019.1L1320.8 2020.9L1322.3 2022.4L1323.8 2023.2L1325.3 2022.6L1326.8 2020.8L1328.3 2018.1L1329.8 2017.0L1331.3 2018.2L1332.8 2020.1L1334.3 2021.7L1335.8 2022.7L1337.3 2023.3L1338.8 2023.8L1340.3 2024.3L1341.8 2024.5L1343.3 2024.5L1344.8 2024.3L1346.3 2023.8L1347.8 2023.3L1349.3 2023.1L1350.8 2022.8L1352.3 2023.3L1353.8 2023.8L1355.3 2023.8L1356.8 2023.4L1358.3 2023.0L1359.8 2022.8L1361.3 2022.6L1362.8 2021.4" stroke="#0000FF"/>
<path d="M140.0 1955.6L141.5 1955.9L143.0 1956.2L144.5 1956.2L146.0 1956.1L147.5 1956.0L149.0 1956.1L150.5 1956.1L152.0 1956.0L153.5 1956.0L155.0 1956.0L156.5 1956.2L158.0 1956.2L159.5 1955.8L161.0 1955.4L162.5 1955.4L164.0 1955.5L165.5 1955.5L167.0 1955.6L168.5 1955.8L170.0 1956.1L171.5 1956.4L173.0 1956.0L174.5 1955.6L176.0 1955.5L177.5 1955.6L179.0 1955.7L180.5 1955.8L182.0 1956.0L183.5 1955.8L185.0 1955.6L186.5 1955.7L188.0 1955.9L189.5 1956.1L191.0 1956.1L192.5 1956.2L194.0 1956.2L195.5 1956.2L197.0 1956.0L198.5 1955.8L200.0 1955.7L201.5 1955.9L203.0 1956.1L204.5 1955.7L206.0 1955.2L207.5 1955.3L209.0 1955.5L210.5 1955.7L212.0 1955.7L213.5 1955.7L215.0 1955.9L216.5 1956.1L218.0 1956.0L219.5 1955.8L221.0 1955.7L222.5 1955.8L224.0 1956.0L225.5 1956.2L227.0 1956.3L228.5 1956.2L230.0 1955.9L231.5 1955.8L233.0 1956.0L234.5 1956.2L236.0 1956.2L237.5 1956.2L239.0 1956.3L240.5 1956.4L242.0 1956.3L243.5 1956.1L245.0 1955.9L246.5 1956.1L248.0 1956.4L249.5 1956.3L251.0 1956.0L252.5 1955.7L254.0 1955.5L255.5 1955.2L257.0 1955.5L258.5 1955.9L260.0 1956.2L261.5 1956.4L263.0 1956.5L264.5 1956.4L266.0 1956.3L267.5 1956.1L269.0 1956.0L270.5 1956.1L272.0 1956.3L273.5 1956.3L275.0 1956.0L276.5 1955.6L278.0 1955.7L279.5 1955.7L281.0 1955.9L282.5 1956.3L284.0 1956.4L285.5 1956.4L287.0 1956.3L288.5 1956.0L290.0 1955.7L291.5 1955.8L293.0 1956.0L294.5 1956.1L296.0 1955.9L297.5 1955.7L299.0 1956.1L300.5 1956.5L302.0 1956.4L303.5 1956.0L305.0 1955.9L306.5 1956.0L308.0 1956.0L309.5 1955.7L311.0 1955.5L312.5 1955.6L314.0 1955.8L315.5 1956.0L317.0 1956.0L318.5 1955.9L320.0 1955.8L321.5 1955.6L323.0 1955.5L324.5 1955.5L326.0 1955.5L327.5 1955.7L329.1 1955.9L330.6 1956.1L332.1 1956.3L333.6 1956.0L335.1 1955.4L336.6 1955.2L338.1 1955.7L339.6 1956.2L341.1 1956.3L342.6 1956.4L344.1 1956.4L345.6 1956.2L347.1 1956.1L348.6 1955.9L350.1 1955.6L351.6 1955.4L353.1 1955.2L354.6 1955.4L356.1 1955.8L357.6 1956.0L359.1 1956.2L360.6 1956.3L362.1 1956.0L363.6 1955.8L365.1 1955.8L366.6 1955.8L368.1 1955.9L369.6 1956.0L371.1 1956.0L372.6 1955.8L374.1 1955.6L375.6 1955.5L377.1 1955.4L378.6 1955.4L380.1 1955.3L381.6 1955.3L383.1 1955.3L384.6 1955.4L386.1 1955.4L387.6 1955.5L389.1 1955.6L390.6 1955.8L392.1 1956.0L393.6 1956.0L395.1 1956.0L396.6 1956.0L398.1 1956.1L399.6 1956.2L401.1 1956.4L402.6 1956.5L404.1 1956.1L405.6 1955.7L407.1 1955.8L408.6 1956.0L410.1 1956.2L411.6 1956.0L413.1 1955.9L414.6 1955.9L416.1 1956.0L417.6 1956.1L419.1 1956.4L420.6 1956.4L422.1 1956.2L423.6 1956.0L425.1 1955.7L426.6 1955.5L428.1 1955.3L429.6 1955.1L431.1 1955.2L432.6 1955.7L434.1 1956.2L435.6 1956.2L437.1 1956.3L438.6 1956.2L440.1 1956.1L441.6 1956.0L443.1 1956.0L444.6 1956.0L446.1 1955.9L447.6 1955.8L449.1 1955.8L450.6 1955.9L452.1 1955.9L453.6 1956.0L455.1 1956.0L456.6 1956.1L458.1 1956.1L459.6 1956.2L461.1 1956.2L462.6 1956.3L464.1 1956.2L465.6 1956.1L467.1 1956.0L468.6 1956.0L470.1 1955.9L471.6 1955.8L473.1 1955.7L474.6 1955.8L476.1 1955.8L477.6 1956.0L479.1 1956.2L480.6 1956.3L482.1 1956.2L483.6 1956.1L485.1 1956.0L486.6 1955.8L488.1 1955.7L489.6 1955.6L491.1 1955.8L492.6 1956.0L494.1 1956.1L495.6 1956.0L497.1 1955.9L498.6 1955.8L500.1 1955.7L501.6 1955.8L503.1 1956.1L504.6 1956.2L506.1 1956.1L507.6 1956.0L509.1 1955.9L510.6 1955.7L512.1 1955.8L513.6 1955.9L515.1 1955.9L516.6 1955.9L518.1 1955.8L519.6 1955.6L521.1 1955.4L522.6 1955.5L524.1 1955.8L525.6 1955.9L527.1 1955.8L528.6 1955.8L530.1 1955.9L531.6 1956.0L533.1 1955.9L534.6 1955.9L536.1 1955.8L537.6 1955.9L539.1 1956.0L540.6 1955.7L542.1 1955.5L543.6 1955.5L545.1 1955.7L546.6 1955.7L548.1 1955.6L549.6 1955.6L551.1 1955.6L552.6 1955.6L554.1 1955.5L555.6 1955.5L557.1 1955.6L558.6 1956.0L560.1 1956.3L561.6 1956.2L563.1 1956.2L564.6 1956.1L566.1 1956.0L567.6 1956.0L569.1 1956.1L570.6 1956.1L572.1 1956.1L573.6 1956.0L575.1 1956.2L576.6 1956.3L578.1 1956.3L579.6 1955.8L581.1 1955.5L582.6 1955.7L584.1 1956.0L585.6 1956.1L587.1 1956.0L588.6 1956.0L590.1 1956.1L591.6 1956.1L593.1 1956.3L594.6 1956.5L596.1 1956.4L597.6 1956.2L599.1 1956.2L600.6 1956.4L602.1 1956.6L603.6 1956.4L605.1 1956.2L606.6 1956.5L608.1 1956.9L609.6 1956.9L611.1 1956.3L612.6 1955.8L614.1 1955.9L615.6 1955.9L617.1 1956.1L618.6 1956.3L620.1 1956.2L621.6 1955.8L623.1 1955.4L624.6 1955.5L626.1 1955.5L627.6 1956.0L629.1 1956.6L630.6 1957.0L632.1 1956.8L633.6 1956.7L635.1 1956.3L636.6 1956.0L638.1 1956.1L639.6 1956.4L641.1 1956.5L642.6 1956.3L644.1 1956.2L645.6 1956.2L647.1 1956.2L648.6 1956.4L650.1 1956.7L651.6 1956.6L653.1 1956.3L654.6 1956.0L656.1 1956.3L657.6 1956.7L659.1 1956.5L660.6 1956.2L662.1 1956.1L663.6 1956.1L665.1 1956.2L666.6 1956.1L668.1 1956.0L669.6 1956.1L671.1 1956.3L672.6 1956.3L674.1 1956.1L675.6 1955.9L677.1 1956.1L678.6 1956.2L680.1 1956.5L681.6 1956.9L683.1 1957.0L684.6 1956.9L686.1 1956.8L687.6 1956.5L689.1 1956.3L690.6 1956.4L692.1 1956.7L693.6 1956.7L695.1 1956.3L696.6 1956.0L698.1 1956.1L699.6 1956.1L701.1 1956.2L702.6 1956.2L704.1 1956.1L705.7 1956.0L707.2 1955.9L708.7 1955.9L710.2 1955.9L711.7 1956.2L713.2 1956.6L714.7 1956.7L716.2 1956.4L717.7 1956.2L719.2 1956.4L720.7 1956.7L722.2 1956.5L723.7 1956.1L725.2 1955.9L726.7 1955.8L728.2 1955.7L729.7 1955.8L731.2 1955.9L732.7 1956.0L734.2 1956.0L735.7 1956.0L737.2 1955.8L738.7 1955.7L740.2 1956.3L741.7 1956.8L743.2 1956.8L744.7 1956.6L746.2 1956.4L747.7 1956.2L749.2 1956.0L750.7 1955.7L752.2 1955.4L753.7 1955.3L755.2 1955.0L756.7 1954.7L758.2 1954.4L759.7 1954.1L761.2 1953.8L762.7 1953.6L764.2 1953.7L765.7 1953.9L767.2 1954.2L768.7 1954.4L770.2 1954.5L771.7 1954.5L773.2 1954.6L774.7 1955.0L776.2 1955.5L777.7 1955.6L779.2 1955.4L780.7 1955.2L782.2 1955.3L783.7 1955.4L785.2 1955.6L786.7 1955.7L788.2 1955.8L789.7 1955.8L791.2 1955.9L792.7 1956.0L794.2 1956.0L795.7 1955.9L797.2 1955.8L798.7 1955.7L800.2 1955.8L801.7 1955.7L803.2 1955.5L804.7 1955.2L806.2 1954.9L807.7 1954.6L809.2 1954.5L810.7 1954.7L812.2 1954.8L813.7 1954.6L815.2 1954.5L816.7 1954.4L818.2 1954.3L819.7 1954.3L821.2 1954.6L822.7 1954.8L824.2 1954.5L825.7 1954.2L827.2 1954.0L828.7 1953.8L830.2 1953.6L831.7 1953.4L833.2 1953.3L834.7 1953.3L836.2 1953.3L837.7 1953.4L839.2 1953.4L840.7 1953.5L842.2 1953.7L843.7 1953.8L845.2 1953.2L846.7 1952.6L848.2 1952.2L849.7 1952.1L851.2 1951.9L852.7 1951.9L854.2 1951.9L855.7 1952.2L857.2 1952.5L858.7 1952.1L860.2 1951.5L861.7 1951.3L863.2 1951.4L864.7 1951.6L866.2 1951.8L867.7 1952.0L869.2 1952.0L870.7 1951.8L872.2 1951.4L873.7 1950.9L875.2 1950.4L876.7 1950.1L878.2 1949.8L879.7 1949.9L881.2 1950.0L882.7 1949.9L884.2 1949.5L885.7 1949.2L887.2 1949.3L888.7 1949.6L890.2 1949.3L891.7 1949.0L893.2 1948.7L894.7 1948.6L896.2 1948.5L897.7 1948.5L899.2 1948.6L900.7 1949.0L902.2 1949.6L903.7 1950.0L905.2 1950.4L906.7 1950.8L908.2 1951.1L909.7 1951.3L911.2 1952.1L912.7 1952.9L914.2 1953.1L915.7 1952.9L917.2 1952.8L918.7 1953.3L920.2 1953.8L921.7 1953.7L923.2 1953.5L924.7 1953.5L926.2 1953.6L927.7 1953.8L929.2 1953.9L930.7 1954.1L932.2 1954.4L933.7 1954.7L935.2 1955.0L936.7 1955.2L938.2 1955.4L939.7 1955.6L941.2 1955.8L942.7 1955.7L944.2 1955.5L945.7 1955.3L947.2 1955.4L948.7 1955.4L950.2 1955.4L951.7 1955.4L953.2 1955.3L954.7 1955.1L956.2 1955.0L957.7 1955.0L959.2 1955.1L960.7 1955.3L962.2 1955.5L963.7 1955.2L965.2 1954.8L966.7 1954.7L968.2 1954.8L969.7 1955.0L971.2 1955.5L972.7 1955.9L974.2 1956.1L975.7 1956.1L977.2 1956.1L978.7 1956.0L980.2 1955.8L981.7 1956.0L983.2 1956.1L984.7 1956.0L986.2 1955.8L987.7 1955.8L989.2 1956.0L990.7 1956.1L992.2 1955.9L993.7 1955.6L995.2 1955.7L996.7 1955.7L998.2 1955.2L999.7 1954.3L1001.2 1953.6L1002.7 1953.4L1004.2 1953.2L1005.7 1953.4L1007.2 1953.8L1008.7 1953.4L1010.2 1952.1L1011.7 1951.2L1013.2 1952.0L1014.7 1952.8L1016.2 1952.1L1017.7 1951.0L1019.2 1950.5L1020.7 1950.5L1022.2 1950.5L1023.7 1950.8L1025.2 1951.1L1026.7 1951.3L1028.2 1951.5L1029.7 1951.5L1031.2 1951.1L1032.7 1950.9L1034.2 1951.6L1035.7 1952.3L1037.2 1951.7L1038.7 1950.7L1040.2 1950.0L1041.7 1949.6L1043.2 1949.3L1044.7 1949.4L1046.2 1949.5L1047.7 1949.4L1049.2 1949.3L1050.7 1949.1L1052.2 1948.8L1053.7 1948.5L1055.2 1948.1L1056.7 1947.8L1058.2 1948.1L1059.7 1948.5L1061.2 1948.3L1062.7 1947.5L1064.2 1946.7L1065.7 1946.0L1067.2 1945.3L1068.7 1944.7L1070.2 1944.2L1071.7 1944.6L1073.2 1945.9L1074.7 1946.9L1076.2 1946.4L1077.7 1945.9L1079.2 1944.9L1080.7 1943.8L1082.2 1943.2L1083.8 1943.0L1085.3 1943.0L1086.8 1943.2L1088.3 1943.4L1089.8 1943.5L1091.3 1943.5L1092.8 1943.4L1094.3 1943.1L1095.8 1942.8L1097.3 1942.8L1098.8 1942.7L1100.3 1942.6L1101.8 1942.3L1103.3 1942.4L1104.8 1942.6L1106.3 1941.0L1107.8 1937.7L1109.3 1935.9L1110.8 1937.9L1112.3 1941.2L1113.8 1943.8L1115.3 1944.4L1116.8 1943.2L1118.3 1941.2L1119.8 1939.1L1121.3 1938.3L1122.8 1938.5L1124.3 1938.3L1125.8 1937.8L1127.3 1937.4L1128.8 1937.1L1130.3 1936.8L1131.8 1937.0L1133.3 1938.1L1134.8 1940.0L1136.3 1942.4L1137.8 1944.1L1139.3 1944.3L1140.8 1944.3L1142.3 1944.5L1143.8 1944.8L1145.3 1945.1L1146.8 1945.6L1148.3 1945.8L1149.8 1945.0L1151.3 1943.8L1152.8 1943.6L1154.3 1943.3L1155.8 1942.6L1157.3 1941.7L1158.8 1941.2L1160.3 1940.8L1161.8 1941.3L1163.3 1943.1L1164.8 1944.9L1166.3 1945.7L1167.8 1945.0L1169.3 1944.4L1170.8 1944.6L1172.3 1944.8L1173.8 1945.5L1175.3 1946.3L1176.8 1946.3L1178.3 1946.5L1179.8 1948.1L1181.3 1951.2L1182.8 1953.8L1184.3 1954.2L1185.8 1953.5L1187.3 1953.1L1188.8 1953.0L1190.3 1952.6L1191.8 1951.3L1193.3 1950.0L1194.8 1949.5L1196.3 1949.2L1197.8 1949.3L1199.3 1949.8L1200.8 1950.5L1202.3 1950.9L1203.8 1951.4L1205.3 1952.0L1206.8 1952.5L1208.3 1953.0L1209.8 1953.3L1211.3 1953.6L1212.8 1953.6L1214.3 1953.7L1215.8 1953.7L1217.3 1953.7L1218.8 1953.9L1220.3 1954.2L1221.8 1954.4L1223.3 1954.1L1224.8 1953.7L1226.3 1953.6L1227.8 1953.4L1229.3 1953.2L1230.8 1952.8L1232.3 1952.6L1233.8 1952.6L1235.3 1952.7L1236.8 1953.0L1238.3 1953.3L1239.8 1953.6L1241.3 1953.8L1242.8 1953.8L1244.3 1953.0L1245.8 1952.2L1247.3 1952.2L1248.8 1952.3L1250.3 1952.3L1251.8 1952.4L1253.3 1952.6L1254.8 1953.3L1256.3 1954.0L1257.8 1953.3L1259.3 1952.4L1260.8 1952.2L1262.3 1952.7L1263.8 1953.4L1265.3 1954.6L1266.8 1956.0L1268.3 1955.4L1269.8 1954.4L1271.3 1954.3L1272.8 1955.0L1274.3 1955.4L1275.8 1955.8L1277.3 1955.9L1278.8 1955.0L1280.3 1953.8L1281.8 1952.9L1283.3 1952.1L1284.8 1951.4L1286.3 1950.9L1287.8 1949.9L1289.3 1948.4L1290.8 1947.5L1292.3 1949.4L1293.8 1953.9L1295.3 1955.5L1296.8 1955.4L1298.3 1955.2L1299.8 1955.6L1301.3 1956.2L1302.8 1956.5L1304.3 1956.8L1305.8 1956.8L1307.3 1956.0L1308.8 1955.1L1310.3 1954.3L1311.8 1953.5L1313.3 1952.6L1314.8 1951.7L1316.3 1950.9L1317.8 1950.0L1319.3 1949.1L1320.8 1949.2L1322.3 1949.5L1323.8 1949.1L1325.3 1947.9L1326.8 1947.3L1328.3 1948.5L1329.8 1949.9L1331.3 1950.6L1332.8 1951.8L1334.3 1953.5L1335.8 1955.0L1337.3 1955.4L1338.8 1955.6L1340.3 1955.9L1341.8 1955.9L1343.3 1955.9L1344.8 1955.6L1346.3 1955.2L1347.8 1954.9L1349.3 1955.3L1350.8 1955.7L1352.3 1955.0L1353.8 1953.8L1355.3 1953.2L1356.8 1952.9L1358.3 1952.0L1359.8 1949.4L1361.3 1946.8L1362.8 1945.2" stroke="#008000"/>
<path d="M140.0 1877.3L141.5 1877.2L143.0 1877.1L144.5 1876.9L146.0 1876.8L147.5 1876.8L149.0 1876.9L150.5 1877.0L152.0 1877.1L153.5 1877.1L155.0 1877.3L156.5 1877.5L158.0 1877.4L159.5 1877.0L161.0 1876.5L162.5 1876.9L164.0 1877.2L165.5 1877.3L167.0 1877.2L168.5 1877.2L170.0 1877.2L171.5 1877.2L173.0 1877.1L174.5 1876.9L176.0 1877.2L177.5 1877.6L179.0 1877.7L180.5 1877.2L182.0 1876.7L183.5 1876.9L185.0 1877.0L186.5 1877.1L188.0 1877.2L189.5 1877.2L191.0 1877.0L192.5 1876.8L194.0 1876.8L195.5 1876.7L197.0 1876.9L198.5 1877.1L200.0 1877.1L201.5 1876.7L203.0 1876.3L204.5 1876.4L206.0 1876.5L207.5 1876.7L209.0 1876.9L210.5 1877.1L212.0 1877.0L213.5 1877.0L215.0 1877.3L216.5 1877.7L218.0 1877.7L219.5 1877.6L221.0 1877.4L222.5 1877.0L224.0 1876.6L225.5 1876.9L227.0 1877.1L228.5 1877.2L230.0 1877.3L231.5 1877.4L233.0 1877.6L234.5 1877.8L236.0 1877.4L237.5 1877.0L239.0 1877.0L240.5 1877.1L242.0 1877.1L243.5 1876.8L245.0 1876.4L246.5 1876.7L248.0 1876.9L249.5 1877.1L251.0 1877.2L252.5 1877.3L254.0 1877.3L255.5 1877.3L257.0 1877.2L258.5 1877.1L260.0 1877.0L261.5 1876.9L263.0 1876.8L264.5 1876.8L266.0 1876.7L267.5 1876.8L269.0 1876.8L270.5 1876.9L272.0 1877.0L273.5 1877.0L275.0 1877.0L276.5 1877.0L278.0 1877.0L279.5 1877.0L281.0 1877.1L282.5 1877.3L284.0 1877.3L285.5 1877.0L287.0 1876.7L288.5 1876.8L290.0 1877.0L291.5 1876.8L293.0 1876.6L294.5 1876.5L296.0 1876.8L297.5 1877.2L299.0 1877.2L300.5 1877.3L302.0 1877.1L303.5 1876.7L305.0 1876.5L306.5 1876.6L308.0 1876.7L309.5 1876.7L311.0 1876.8L312.5 1877.0L314.0 1877.3L315.5 1877.5L317.0 1877.4L318.5 1877.3L320.0 1877.3L321.5 1877.4L323.0 1877.2L324.5 1876.9L326.0 1876.7L327.5 1876.8L329.1 1876.8L330.6 1877.0L332.1 1877.1L333.6 1877.1L335.1 1876.9L336.6 1876.8L338.1 1876.7L339.6 1876.6L341.1 1876.8L342.6 1877.1L344.1 1877.1L345.6 1877.1L347.1 1877.0L348.6 1877.0L350.1 1877.0L351.6 1877.1L353.1 1877.2L354.6 1877.3L356.1 1877.3L357.6 1877.2L359.1 1877.1L360.6 1876.9L362.1 1876.8L363.6 1876.8L365.1 1876.7L366.6 1876.5L368.1 1876.5L369.6 1876.8L371.1 1877.1L372.6 1877.4L374.1 1877.7L375.6 1877.5L377.1 1877.2L378.6 1877.0L380.1 1877.1L381.6 1877.2L383.1 1876.9L384.6 1876.6L386.1 1876.6L387.6 1876.7L389.1 1876.8L390.6 1876.9L392.1 1877.0L393.6 1877.1L395.1 1877.3L396.6 1877.2L398.1 1877.1L399.6 1877.0L401.1 1877.1L402.6 1877.2L404.1 1877.3L405.6 1877.4L407.1 1877.2L408.6 1877.1L410.1 1877.0L411.6 1876.9L413.1 1876.9L414.6 1876.9L416.1 1876.9L417.6 1876.9L419.1 1877.0L420.6 1877.0L422.1 1877.1L423.6 1877.2L425.1 1877.1L426.6 1876.9L428.1 1877.0L429.6 1877.2L431.1 1877.3L432.6 1877.4L434.1 1877.5L435.6 1877.4L437.1 1877.4L438.6 1877.2L440.1 1877.0L441.6 1876.9L443.1 1877.1L444.6 1877.4L446.1 1877.0L447.6 1876.6L449.1 1876.7L450.6 1877.1L452.1 1877.3L453.6 1877.2L455.1 1877.0L456.6 1876.7L458.1 1876.4L459.6 1876.6L461.1 1876.8L462.6 1877.0L464.1 1876.9L465.6 1876.8L467.1 1877.3L468.6 1877.7L470.1 1877.5L471.6 1877.1L473.1 1877.0L474.6 1877.2L476.1 1877.4L477.6 1877.4L479.1 1877.4L480.6 1877.2L482.1 1877.1L483.6 1876.9L485.1 1876.8L486.6 1876.7L488.1 1877.1L489.6 1877.4L491.1 1877.4L492.6 1877.4L494.1 1877.2L495.6 1876.7L497.1 1876.4L498.6 1876.8L500.1 1877.3L501.6 1877.3L503.1 1877.3L504.6 1877.2L506.1 1877.0L507.6 1876.8L509.1 1876.8L510.6 1876.8L512.1 1876.9L513.6 1877.1L515.1 1877.2L516.6 1877.2L518.1 1877.1L519.6 1877.1L521.1 1877.1L522.6 1877.1L524.1 1877.1L525.6 1877.1L527.1 1876.9L528.6 1876.7L530.1 1877.1L531.6 1877.5L533.1 1877.6L534.6 1877.6L536.1 1877.5L537.6 1877.2L539.1 1876.9L540.6 1877.0L542.1 1877.0L543.6 1877.1L545.1 1877.3L546.6 1877.3L548.1 1877.1L549.6 1876.9L551.1 1876.8L552.6 1876.7L554.1 1876.9L555.6 1877.0L557.1 1877.1L558.6 1877.0L560.1 1876.9L561.6 1877.0L563.1 1877.2L564.6 1877.2L566.1 1877.3L567.6 1877.3L569.1 1877.4L570.6 1877.4L572.1 1877.1L573.6 1876.8L575.1 1876.9L576.6 1877.1L578.1 1877.3L579.6 1877.4L581.1 1877.5L582.6 1877.3L584.1 1877.1L585.6 1877.1L587.1 1877.1L588.6 1877.2L590.1 1877.5L591.6 1877.7L593.1 1877.8L594.6 1877.9L596.1 1877.5L597.6 1876.9L599.1 1876.8L600.6 1877.1L602.1 1877.2L603.6 1877.2L605.1 1877.2L606.6 1877.4L608.1 1877.7L609.6 1877.7L611.1 1877.2L612.6 1876.8L614.1 1877.2L615.6 1877.6L617.1 1877.8L618.6 1877.9L620.1 1877.8L621.6 1877.4L623.1 1877.1L624.6 1877.4L626.1 1877.7L627.6 1877.6L629.1 1877.4L630.6 1877.2L632.1 1877.1L633.6 1877.1L635.1 1877.4L636.6 1877.8L638.1 1877.7L639.6 1877.5L641.1 1877.4L642.6 1877.4L644.1 1877.4L645.6 1877.4L647.1 1877.4L648.6 1877.4L650.1 1877.5L651.6 1877.5L653.1 1877.3L654.6 1877.2L656.1 1877.2L657.6 1877.2L659.1 1877.2L660.6 1877.1L662.1 1877.3L663.6 1877.6L665.1 1877.8L666.6 1877.6L668.1 1877.4L669.6 1877.5L671.1 1877.7L672.6 1877.5L674.1 1877.0L675.6 1876.5L677.1 1877.0L678.6 1877.5L680.1 1877.5L681.6 1877.5L683.1 1877.5L684.6 1877.4L686.1 1877.3L687.6 1877.2L689.1 1877.0L690.6 1877.2L692.1 1877.4L693.6 1877.4L695.1 1877.0L696.6 1876.7L698.1 1876.8L699.6 1876.9L701.1 1877.0L702.6 1877.1L704.1 1877.2L705.7 1877.5L707.2 1877.7L708.7 1877.6L710.2 1877.6L711.7 1877.6L713.2 1877.6L714.7 1877.5L716.2 1877.5L717.7 1877.4L719.2 1877.4L720.7 1877.5L722.2 1877.5L723.7 1877.4L725.2 1877.3L726.7 1877.0L728.2 1876.7L729.7 1877.0L731.2 1877.3L732.7 1877.4L734.2 1877.4L735.7 1877.4L737.2 1877.3L738.7 1877.3L740.2 1877.2L741.7 1877.2L743.2 1877.3L744.7 1877.5L746.2 1877.5L747.7 1877.4L749.2 1877.3L750.7 1877.5L752.2 1877.6L753.7 1877.5L755.2 1877.4L756.7 1877.3L758.2 1877.2L759.7 1877.1L761.2 1877.2L762.7 1877.2L764.2 1877.4L765.7 1877.6L767.2 1877.6L768.7 1877.3L770.2 1877.1L771.7 1877.2L773.2 1877.3L774.7 1877.1L776.2 1876.8L777.7 1876.7L779.2 1876.7L780.7 1876.8L782.2 1876.7L783.7 1876.6L785.2 1876.6L786.7 1876.6L788.2 1876.5L789.7 1876.2L791.2 1876.0L792.7 1876.1L794.2 1876.3L795.7 1876.1L797.2 1875.8L798.7 1875.9L800.2 1876.6L801.7 1877.1L803.2 1876.2L804.7 1875.2L806.2 1875.4L807.7 1875.8L809.2 1875.7L810.7 1874.9L812.2 1874.1L813.7 1873.8L815.2 1873.6L816.7 1873.3L818.2 1873.1L819.7 1872.8L821.2 1872.3L822.7 1872.3L824.2 1873.1L825.7 1874.2L827.2 1874.8L828.7 1874.9L830.2 1874.8L831.7 1874.7L833.2 1874.5L834.7 1874.1L836.2 1873.7L837.7 1873.2L839.2 1872.7L840.7 1872.4L842.2 1872.4L843.7 1872.4L845.2 1872.1L846.7 1871.7L848.2 1871.7L849.7 1871.7L851.2 1871.8L852.7 1871.8L854.2 1871.7L855.7 1871.1L857.2 1870.4L858.7 1870.4L860.2 1870.4L861.7 1870.8L863.2 1871.7L864.7 1872.3L866.2 1871.9L867.7 1871.5L869.2 1871.7L870.7 1872.0L872.2 1872.0L873.7 1871.3L875.2 1870.3L876.7 1869.1L878.2 1868.1L879.7 1867.7L881.2 1868.0L882.7 1868.9L884.2 1870.0L885.7 1870.7L887.2 1870.2L888.7 1869.6L890.2 1869.2L891.7 1868.9L893.2 1868.8L894.7 1868.9L896.2 1869.0L897.7 1869.5L899.2 1870.1L900.7 1870.4L902.2 1870.7L903.7 1871.2L905.2 1871.9L906.7 1872.5L908.2 1872.8L909.7 1873.1L911.2 1873.6L912.7 1874.2L914.2 1874.3L915.7 1873.9L917.2 1873.6L918.7 1874.4L920.2 1875.1L921.7 1874.9L923.2 1874.5L924.7 1874.2L926.2 1874.1L927.7 1874.2L929.2 1874.7L930.7 1875.2L932.2 1875.0L933.7 1874.7L935.2 1875.0L936.7 1875.9L938.2 1876.7L939.7 1876.7L941.2 1876.8L942.7 1876.7L944.2 1876.6L945.7 1876.7L947.2 1876.8L948.7 1877.0L950.2 1877.1L951.7 1877.3L953.2 1877.3L954.7 1877.3L956.2 1876.9L957.7 1876.2L959.2 1875.7L960.7 1876.4L962.2 1877.1L963.7 1877.0L965.2 1876.8L966.7 1876.5L968.2 1876.2L969.7 1875.9L971.2 1876.0L972.7 1876.1L974.2 1876.3L975.7 1876.6L977.2 1876.8L978.7 1876.9L980.2 1876.8L981.7 1876.4L983.2 1875.9L984.7 1876.0L986.2 1876.2L987.7 1876.5L989.2 1876.9L990.7 1877.1L992.2 1876.5L993.7 1876.0L995.2 1875.9L996.7 1875.9L998.2 1876.1L999.7 1876.6L1001.2 1877.2L1002.7 1877.2L1004.2 1877.2L1005.7 1876.5L1007.2 1875.6L1008.7 1875.3L1010.2 1875.8L1011.7 1876.0L1013.2 1875.4L1014.7 1874.8L1016.2 1875.0L1017.7 1875.4L1019.2 1875.6L1020.7 1875.7L1022.2 1875.7L1023.7 1874.8L1025.2 1873.9L1026.7 1874.2L1028.2 1874.7L1029.7 1874.8L1031.2 1874.4L1032.7 1874.2L1034.2 1874.2L1035.7 1874.2L1037.2 1874.1L1038.7 1874.1L1040.2 1874.0L1041.7 1874.0L1043.2 1873.9L1044.7 1873.6L1046.2 1873.3L1047.7 1873.2L1049.2 1873.1L1050.7 1873.4L1052.2 1874.2L1053.7 1874.7L1055.2 1874.2L1056.7 1873.7L1058.2 1873.5L1059.7 1873.2L1061.2 1873.2L1062.7 1873.3L1064.2 1873.3L1065.7 1873.3L1067.2 1873.3L1068.7 1873.2L1070.2 1873.0L1071.7 1872.8L1073.2 1872.5L1074.7 1872.3L1076.2 1872.3L1077.7 1872.3L1079.2 1872.3L1080.7 1872.3L1082.2 1872.4L1083.8 1872.6L1085.3 1872.7L1086.8 1871.8L1088.3 1870.9L1089.8 1871.2L1091.3 1871.8L1092.8 1871.4L1094.3 1870.1L1095.8 1869.1L1097.3 1869.8L1098.8 1870.5L1100.3 1870.5L1101.8 1870.3L1103.3 1869.8L1104.8 1869.0L1106.3 1868.5L1107.8 1869.3L1109.3 1870.2L1110.8 1870.1L1112.3 1870.1L1113.8 1870.5L1115.3 1871.3L1116.8 1871.8L1118.3 1872.2L1119.8 1872.2L1121.3 1871.4L1122.8 1870.4L1124.3 1869.8L1125.8 1869.5L1127.3 1869.3L1128.8 1868.9L1130.3 1868.7L1131.8 1870.0L1133.3 1871.6L1134.8 1872.3L1136.3 1872.0L1137.8 1871.7L1139.3 1872.1L1140.8 1872.4L1142.3 1872.1L1143.8 1871.8L1145.3 1871.4L1146.8 1870.9L1148.3 1870.7L1149.8 1871.3L1151.3 1872.0L1152.8 1872.6L1154.3 1873.2L1155.8 1873.4L1157.3 1873.2L1158.8 1873.0L1160.3 1873.1L1161.8 1873.2L1163.3 1873.4L1164.8 1873.6L1166.3 1874.0L1167.8 1874.6L1169.3 1875.1L1170.8 1875.4L1172.3 1875.7L1173.8 1875.6L1175.3 1875.3L1176.8 1875.2L1178.3 1875.3L1179.8 1875.3L1181.3 1875.7L1182.8 1876.0L1184.3 1875.2L1185.8 1874.3L1187.3 1873.5L1188.8 1872.9L1190.3 1872.5L1191.8 1873.0L1193.3 1873.6L1194.8 1874.0L1196.3 1874.3L1197.8 1874.2L1199.3 1873.8L1200.8 1873.5L1202.3 1874.1L1203.8 1874.7L1205.3 1875.1L1206.8 1875.5L1208.3 1876.0L1209.8 1876.7L1211.3 1877.1L1212.8 1876.2L1214.3 1875.2L1215.8 1874.8L1217.3 1874.5L1218.8 1874.3L1220.3 1874.0L1221.8 1873.9L1223.3 1874.0L1224.8 1874.1L1226.3 1873.7L1227.8 1873.2L1229.3 1873.0L1230.8 1873.3L1232.3 1873.7L1233.8 1874.1L1235.3 1874.6L1236.8 1874.4L1238.3 1874.0L1239.8 1874.2L1241.3 1875.0L1242.8 1875.6L1244.3 1875.1L1245.8 1874.7L1247.3 1875.1L1248.8 1875.7L1250.3 1875.8L1251.8 1875.6L1253.3 1875.3L1254.8 1874.9L1256.3 1874.5L1257.8 1874.2L1259.3 1873.9L1260.8 1873.7L1262.3 1873.6L1263.8 1873.6L1265.3 1873.7L1266.8 1873.8L1268.3 1873.6L1269.8 1873.3L1271.3 1873.3L1272.8 1873.5L1274.3 1873.8L1275.8 1874.0L1277.3 1874.3L1278.8 1874.7L1280.3 1875.0L1281.8 1875.1L1283.3 1874.9L1284.8 1874.8L1286.3 1874.9L1287.8 1875.1L1289.3 1875.4L1290.8 1875.8L1292.3 1875.8L1293.8 1875.5L1295.3 1875.3L1296.8 1875.1L1298.3 1874.9L1299.8 1875.0L1301.3 1875.2L1302.8 1875.2L1304.3 1875.0L1305.8 1875.0L1307.3 1875.6L1308.8 1876.3L1310.3 1876.7L1311.8 1877.0L1313.3 1877.4L1314.8 1878.0L1316.3 1878.2L1317.8 1877.3L1319.3 1876.2L1320.8 1875.7L1322.3 1875.2L1323.8 1874.6L1325.3 1874.1L1326.8 1873.6L1328.3 1872.8L1329.8 1872.3L1331.3 1872.5L1332.8 1873.0L1334.3 1873.4L1335.8 1873.7L1337.3 1874.1L1338.8 1874.5L1340.3 1874.9L1341.8 1875.4L1343.3 1876.0L1344.8 1876.8L1346.3 1877.7L1347.8 1878.6L1349.3 1879.1L1350.8 1879.4L1352.3 1879.7L1353.8 1879.9L1355.3 1879.9L1356.8 1879.6L1358.3 1879.4L1359.8 1879.3L1361.3 1879.1L1362.8 1878.7" stroke="#8000FF"/>
<path d="M140.0 1813.7L141.5 1813.5L143.0 1813.3L144.5 1813.2L146.0 1813.2L147.5 1813.2L149.0 1813.2L150.5 1813.1L152.0 1813.1L153.5 1813.1L155.0 1813.1L156.5 1813.1L158.0 1813.1L159.5 1813.1L161.0 1813.1L162.5 1813.0L164.0 1812.9L165.5 1812.9L167.0 1813.0L168.5 1813.1L170.0 1813.0L171.5 1812.9L173.0 1812.9L174.5 1812.9L176.0 1812.9L177.5 1812.8L179.0 1812.9L180.5 1813.2L182.0 1813.6L183.5 1813.3L185.0 1813.1L186.5 1813.0L188.0 1813.0L189.5 1813.1L191.0 1813.1L192.5 1813.1L194.0 1813.1L195.5 1813.1L197.0 1813.0L198.5 1812.9L200.0 1812.8L201.5 1812.8L203.0 1812.8L204.5 1812.9L206.0 1813.0L207.5 1813.1L209.0 1813.1L210.5 1813.1L212.0 1812.9L213.5 1812.8L215.0 1812.8L216.5 1812.9L218.0 1812.9L219.5 1812.9L221.0 1812.9L222.5 1812.9L224.0 1812.9L225.5 1812.6L227.0 1812.3L228.5 1812.5L230.0 1812.9L231.5 1813.2L233.0 1813.2L234.5 1813.2L236.0 1813.0L237.5 1812.8L239.0 1812.8L240.5 1812.9L242.0 1813.0L243.5 1813.1L245.0 1813.2L246.5 1813.5L248.0 1813.8L249.5 1813.7L251.0 1813.3L252.5 1813.1L254.0 1813.0L255.5 1812.9L257.0 1812.6L258.5 1812.4L260.0 1812.4L261.5 1812.6L263.0 1812.9L264.5 1813.3L266.0 1813.6L267.5 1813.5L269.0 1813.3L270.5 1813.1L272.0 1813.0L273.5 1812.9L275.0 1812.9L276.5 1813.0L278.0 1813.0L279.5 1813.0L281.0 1813.1L282.5 1813.2L284.0 1813.2L285.5 1813.0L287.0 1812.8L288.5 1813.0L290.0 1813.2L291.5 1813.4L293.0 1813.6L294.5 1813.6L296.0 1813.3L297.5 1813.0L299.0 1812.9L300.5 1812.7L302.0 1812.8L303.5 1812.9L305.0 1813.0L306.5 1812.9L308.0 1812.9L309.5 1812.7L311.0 1812.4L312.5 1812.6L314.0 1813.0L315.5 1813.3L317.0 1813.1L318.5 1812.9L320.0 1812.9L321.5 1813.0L323.0 1812.9L324.5 1812.7L326.0 1812.8L327.5 1813.1L329.1 1813.4L330.6 1813.0L332.1 1812.6L333.6 1812.6L335.1 1812.7L336.6 1812.7L338.1 1812.7L339.6 1812.7L341.1 1812.8L342.6 1813.0L344.1 1812.9L345.6 1812.7L347.1 1812.6L348.6 1812.8L350.1 1813.0L351.6 1813.1L353.1 1813.3L354.6 1813.2L356.1 1813.0L357.6 1812.9L359.1 1813.0L360.6 1813.1L362.1 1812.9L363.6 1812.6L365.1 1812.5L366.6 1812.5L368.1 1812.5L369.6 1812.5L371.1 1812.4L372.6 1812.8L374.1 1813.1L375.6 1813.0L377.1 1812.6L378.6 1812.5L380.1 1812.6L381.6 1812.8L383.1 1813.0L384.6 1813.2L386.1 1813.2L387.6 1813.1L389.1 1813.1L390.6 1813.1L392.1 1813.2L393.6 1813.0L395.1 1812.8L396.6 1812.8L398.1 1812.8L399.6 1812.8L401.1 1812.8L402.6 1812.9L404.1 1813.2L405.6 1813.5L407.1 1813.5L408.6 1813.2L410.1 1813.2L411.6 1813.3L413.1 1813.4L414.6 1813.2L416.1 1813.0L417.6 1813.1L419.1 1813.4L420.6 1813.5L422.1 1813.5L423.6 1813.5L425.1 1813.1L426.6 1812.8L428.1 1812.8L429.6 1813.1L431.1 1813.1L432.6 1812.7L434.1 1812.4L435.6 1812.7L437.1 1813.1L438.6 1813.2L440.1 1813.2L441.6 1813.1L443.1 1812.8L444.6 1812.5L446.1 1812.7L447.6 1812.9L449.1 1812.8L450.6 1812.7L452.1 1812.5L453.6 1812.5L455.1 1812.5L456.6 1812.9L458.1 1813.3L459.6 1813.3L461.1 1813.2L462.6 1813.1L464.1 1813.0L465.6 1812.8L467.1 1812.7L468.6 1812.5L470.1 1812.6L471.6 1812.7L473.1 1812.8L474.6 1813.1L476.1 1813.3L477.6 1813.0L479.1 1812.6L480.6 1812.6L482.1 1812.6L483.6 1812.7L485.1 1812.6L486.6 1812.5L488.1 1812.5L489.6 1812.4L491.1 1812.6L492.6 1812.9L494.1 1813.0L495.6 1812.7L497.1 1812.5L498.6 1812.7L500.1 1813.0L501.6 1813.1L503.1 1813.1L504.6 1813.1L506.1 1813.2L507.6 1813.2L509.1 1813.1L510.6 1813.0L512.1 1812.9L513.6 1812.7L515.1 1812.7L516.6 1812.8L518.1 1812.9L519.6 1812.9L521.1 1812.9L522.6 1813.1L524.1 1813.4L525.6 1813.5L527.1 1813.1L528.6 1812.8L530.1 1812.8L531.6 1812.9L533.1 1812.7L534.6 1812.5L536.1 1812.5L537.6 1812.8L539.1 1813.2L540.6 1813.2L542.1 1813.1L543.6 1813.1L545.1 1813.1L546.6 1813.0L548.1 1812.7L549.6 1812.4L551.1 1812.8L552.6 1813.2L554.1 1813.3L555.6 1813.2L557.1 1813.1L558.6 1812.8L560.1 1812.5L561.6 1812.8L563.1 1813.1L564.6 1813.4L566.1 1813.7L567.6 1813.7L569.1 1813.4L570.6 1813.1L572.1 1813.0L573.6 1812.9L575.1 1813.0L576.6 1813.2L578.1 1813.2L579.6 1813.1L581.1 1812.9L582.6 1813.0L584.1 1813.2L585.6 1813.3L587.1 1813.4L588.6 1813.3L590.1 1812.9L591.6 1812.6L593.1 1813.0L594.6 1813.4L596.1 1813.4L597.6 1813.3L599.1 1812.9L600.6 1812.9L602.1 1813.0L603.6 1812.6L605.1 1812.2L606.6 1812.1L608.1 1812.3L609.6 1812.5L611.1 1812.9L612.6 1813.2L614.1 1812.9L615.6 1812.5L617.1 1812.3L618.6 1812.2L620.1 1812.3L621.6 1812.4L623.1 1812.6L624.6 1812.5L626.1 1812.5L627.6 1812.6L629.1 1812.7L630.6 1812.7L632.1 1812.6L633.6 1812.4L635.1 1812.3L636.6 1812.2L638.1 1812.2L639.6 1812.4L641.1 1812.4L642.6 1812.3L644.1 1812.2L645.6 1812.2L647.1 1812.3L648.6 1812.3L650.1 1812.4L651.6 1812.5L653.1 1812.6L654.6 1812.7L656.1 1812.8L657.6 1812.9L659.1 1812.7L660.6 1812.4L662.1 1812.2L663.6 1812.2L665.1 1812.2L666.6 1812.2L668.1 1812.3L669.6 1812.4L671.1 1812.2L672.6 1812.0L674.1 1811.6L675.6 1811.1L677.1 1810.1L678.6 1809.2L680.1 1808.8L681.6 1808.6L683.1 1808.7L684.6 1808.9L686.1 1809.1L687.6 1809.7L689.1 1810.4L690.6 1810.9L692.1 1811.5L693.6 1811.8L695.1 1811.8L696.6 1811.8L698.1 1811.6L699.6 1811.4L701.1 1811.2L702.6 1811.1L704.1 1811.0L705.7 1810.8L707.2 1810.7L708.7 1811.1L710.2 1811.4L711.7 1811.2L713.2 1810.9L714.7 1810.7L716.2 1810.6L717.7 1810.4L719.2 1810.0L720.7 1809.5L722.2 1809.1L723.7 1808.6L725.2 1808.3L726.7 1808.0L728.2 1807.7L729.7 1807.7L731.2 1807.7L732.7 1807.7L734.2 1807.6L735.7 1807.7L737.2 1807.7L738.7 1807.9L740.2 1808.5L741.7 1809.2L743.2 1809.6L744.7 1810.0L746.2 1810.2L747.7 1810.4L749.2 1810.5L750.7 1810.8L752.2 1811.1L753.7 1811.0L755.2 1810.4L756.7 1809.6L758.2 1808.6L759.7 1807.5L761.2 1806.8L762.7 1806.1L764.2 1805.8L765.7 1805.9L767.2 1806.1L768.7 1806.2L770.2 1806.6L771.7 1807.7L773.2 1808.9L774.7 1810.0L776.2 1811.0L777.7 1811.4L779.2 1811.1L780.7 1810.7L782.2 1810.3L783.7 1809.8L785.2 1809.8L786.7 1809.7L788.2 1809.8L789.7 1809.9L791.2 1809.8L792.7 1808.3L794.2 1806.6L795.7 1806.0L797.2 1805.7L798.7 1804.9L800.2 1803.5L801.7 1802.5L803.2 1803.1L804.7 1803.7L806.2 1803.3L807.7 1802.5L809.2 1802.0L810.7 1801.6L812.2 1801.5L813.7 1801.9L815.2 1802.4L816.7 1801.4L818.2 1800.0L819.7 1799.4L821.2 1799.6L822.7 1800.0L824.2 1800.9L825.7 1801.8L827.2 1801.1L828.7 1799.7L830.2 1798.5L831.7 1797.8L833.2 1797.0L834.7 1796.1L836.2 1795.4L837.7 1795.0L839.2 1794.6L840.7 1793.9L842.2 1792.8L843.7 1791.9L845.2 1791.9L846.7 1791.8L848.2 1791.4L849.7 1790.9L851.2 1790.2L852.7 1789.4L854.2 1788.6L855.7 1787.4L857.2 1786.3L858.7 1785.1L860.2 1784.0L861.7 1783.7L863.2 1784.3L864.7 1784.8L866.2 1784.1L867.7 1783.4L869.2 1782.8L870.7 1782.1L872.2 1780.9L873.7 1779.0L875.2 1777.3L876.7 1777.6L878.2 1778.0L879.7 1777.4L881.2 1776.8L882.7 1776.9L884.2 1777.5L885.7 1778.2L887.2 1778.1L888.7 1778.1L890.2 1778.7L891.7 1779.6L893.2 1780.7L894.7 1782.0L896.2 1782.8L897.7 1782.1L899.2 1780.6L900.7 1779.5L902.2 1778.5L903.7 1778.1L905.2 1778.9L906.7 1780.8L908.2 1782.7L909.7 1784.7L911.2 1786.4L912.7 1787.9L914.2 1789.3L915.7 1790.6L917.2 1791.8L918.7 1793.0L920.2 1794.1L921.7 1794.5L923.2 1794.8L924.7 1795.6L926.2 1797.0L927.7 1798.3L929.2 1798.8L930.7 1799.2L932.2 1799.8L933.7 1800.5L935.2 1801.2L936.7 1801.8L938.2 1802.3L939.7 1802.1L941.2 1801.7L942.7 1801.3L944.2 1800.2L945.7 1798.9L947.2 1797.8L948.7 1797.3L950.2 1798.6L951.7 1801.5L953.2 1803.5L954.7 1804.1L956.2 1804.2L957.7 1805.1L959.2 1805.8L960.7 1804.8L962.2 1803.8L963.7 1804.3L965.2 1805.0L966.7 1805.3L968.2 1805.1L969.7 1805.0L971.2 1804.6L972.7 1804.2L974.2 1805.2L975.7 1806.4L977.2 1806.8L978.7 1806.3L980.2 1806.1L981.7 1806.7L983.2 1807.3L984.7 1807.0L986.2 1806.6L987.7 1806.7L989.2 1807.3L990.7 1807.7L992.2 1807.4L993.7 1807.2L995.2 1807.0L996.7 1807.0L998.2 1807.7L999.7 1808.4L1001.2 1808.9L1002.7 1809.3L1004.2 1809.6L1005.7 1809.9L1007.2 1810.2L1008.7 1810.4L1010.2 1810.6L1011.7 1810.8L1013.2 1811.1L1014.7 1811.3L1016.2 1811.7L1017.7 1812.1L1019.2 1812.1L1020.7 1811.7L1022.2 1811.4L1023.7 1811.4L1025.2 1811.4L1026.7 1811.7L1028.2 1812.0L1029.7 1812.0L1031.2 1811.6L1032.7 1811.4L1034.2 1811.8L1035.7 1812.3L1037.2 1812.4L1038.7 1812.5L1040.2 1812.5L1041.7 1812.6L1043.2 1812.6L1044.7 1812.3L1046.2 1812.0L1047.7 1812.3L1049.2 1812.7L1050.7 1812.6L1052.2 1812.2L1053.7 1811.9L1055.2 1812.4L1056.7 1812.8L1058.2 1812.9L1059.7 1813.0L1061.2 1812.8L1062.7 1812.3L1064.2 1812.0L1065.7 1812.2L1067.2 1812.5L1068.7 1812.5L1070.2 1812.5L1071.7 1812.4L1073.2 1812.2L1074.7 1812.0L1076.2 1811.8L1077.7 1811.7L1079.2 1811.7L1080.7 1811.9L1082.2 1811.9L1083.8 1811.8L1085.3 1811.7L1086.8 1811.8L1088.3 1811.9L1089.8 1811.7L1091.3 1811.5L1092.8 1811.3L1094.3 1811.2L1095.8 1811.1L1097.3 1811.1L1098.8 1811.1L1100.3 1811.2L1101.8 1811.4L1103.3 1811.2L1104.8 1810.8L1106.3 1810.5L1107.8 1810.8L1109.3 1811.1L1110.8 1810.8L1112.3 1810.5L1113.8 1810.4L1115.3 1810.5L1116.8 1810.7L1118.3 1810.8L1119.8 1810.9L1121.3 1810.8L1122.8 1810.5L1124.3 1810.4L1125.8 1810.4L1127.3 1810.5L1128.8 1810.6L1130.3 1810.7L1131.8 1810.9L1133.3 1811.1L1134.8 1811.4L1136.3 1811.8L1137.8 1812.2L1139.3 1812.3L1140.8 1812.4L1142.3 1812.4L1143.8 1812.5L1145.3 1812.3L1146.8 1812.0L1148.3 1811.8L1149.8 1812.2L1151.3 1812.6L1152.8 1812.7L1154.3 1812.7L1155.8 1812.8L1157.3 1812.9L1158.8 1812.9L1160.3 1813.0L1161.8 1813.0L1163.3 1812.9L1164.8 1812.8L1166.3 1812.8L1167.8 1812.9L1169.3 1813.0L1170.8 1813.0L1172.3 1813.0L1173.8 1813.1L1175.3 1813.2L1176.8 1813.3L1178.3 1813.1L1179.8 1813.0L1181.3 1812.9L1182.8 1812.8L1184.3 1812.8L1185.8 1812.8L1187.3 1813.1L1188.8 1813.7L1190.3 1814.0L1191.8 1813.4L1193.3 1812.8L1194.8 1812.8L1196.3 1812.9L1197.8 1813.0L1199.3 1813.1L1200.8 1813.1L1202.3 1813.0L1203.8 1812.9L1205.3 1812.9L1206.8 1812.9L1208.3 1812.9L1209.8 1812.9L1211.3 1813.0L1212.8 1813.3L1214.3 1813.5L1215.8 1813.4L1217.3 1813.1L1218.8 1812.9L1220.3 1812.8L1221.8 1812.7L1223.3 1812.9L1224.8 1813.2L1226.3 1813.0L1227.8 1812.8L1229.3 1812.9L1230.8 1813.2L1232.3 1813.5L1233.8 1813.3L1235.3 1813.1L1236.8 1812.9L1238.3 1812.8L1239.8 1812.6L1241.3 1812.4L1242.8 1812.2L1244.3 1812.5L1245.8 1812.7L1247.3 1812.7L1248.8 1812.5L1250.3 1812.5L1251.8 1812.7L1253.3 1812.8L1254.8 1812.4L1256.3 1812.0L1257.8 1812.3L1259.3 1812.7L1260.8 1812.8L1262.3 1812.5L1263.8 1812.2L1265.3 1812.1L1266.8 1811.9L1268.3 1812.0L1269.8 1812.1L1271.3 1812.2L1272.8 1812.2L1274.3 1812.2L1275.8 1812.2L1277.3 1812.3L1278.8 1812.2L1280.3 1812.0L1281.8 1811.8L1283.3 1811.4L1284.8 1811.2L1286.3 1811.3L1287.8 1811.5L1289.3 1811.6L1290.8 1811.7L1292.3 1811.7L1293.8 1811.7L1295.3 1811.7L1296.8 1811.7L1298.3 1811.8L1299.8 1811.5L1301.3 1811.3L1302.8 1811.2L1304.3 1811.3L1305.8 1811.3L1307.3 1811.4L1308.8 1811.4L1310.3 1811.4L1311.8 1811.3L1313.3 1811.3L1314.8 1811.1L1316.3 1810.9L1317.8 1810.7L1319.3 1810.4L1320.8 1810.0L1322.3 1809.6L1323.8 1809.5L1325.3 1809.8L1326.8 1809.8L1328.3 1809.4L1329.8 1809.1L1331.3 1809.2L1332.8 1809.4L1334.3 1809.2L1335.8 1808.6L1337.3 1808.2L1338.8 1808.4L1340.3 1809.2L1341.8 1810.3L1343.3 1811.6L1344.8 1812.9L1346.3 1813.8L1347.8 1814.0L1349.3 1813.8L1350.8 1813.6L1352.3 1813.6L1353.8 1813.6L1355.3 1813.5L1356.8 1813.3L1358.3 1813.2L1359.8 1813.2L1361.3 1813.2L1362.8 1813.5" stroke="#808000"/>
<path d="M140.0 1754.2L141.5 1754.2L143.0 1754.3L144.5 1754.1L146.0 1753.8L147.5 1753.7L149.0 1753.8L150.5 1753.9L152.0 1753.9L153.5 1753.8L155.0 1753.6L156.5 1753.3L158.0 1753.2L159.5 1753.4L161.0 1753.6L162.5 1753.6L164.0 1753.6L165.5 1753.8L167.0 1754.0L168.5 1754.1L170.0 1754.0L171.5 1754.0L173.0 1753.7L174.5 1753.4L176.0 1753.4L177.5 1753.6L179.0 1753.7L180.5 1753.7L182.0 1753.6L183.5 1753.7L185.0 1753.8L186.5 1753.7L188.0 1753.5L189.5 1753.4L191.0 1753.5L192.5 1753.6L194.0 1753.7L195.5 1753.8L197.0 1753.9L198.5 1753.9L200.0 1754.0L201.5 1754.0L203.0 1754.0L204.5 1753.8L206.0 1753.7L207.5 1753.7L209.0 1753.8L210.5 1753.9L212.0 1753.8L213.5 1753.8L215.0 1754.0L216.5 1754.3L218.0 1754.2L219.5 1753.9L221.0 1753.8L222.5 1753.9L224.0 1754.0L225.5 1754.1L227.0 1754.2L228.5 1754.1L230.0 1753.9L231.5 1753.8L233.0 1753.9L234.5 1754.0L236.0 1753.9L237.5 1753.9L239.0 1753.7L240.5 1753.5L242.0 1753.4L243.5 1753.9L245.0 1754.3L246.5 1754.0L248.0 1753.7L249.5 1753.6L251.0 1753.6L252.5 1753.6L254.0 1753.6L255.5 1753.6L257.0 1753.6L258.5 1753.6L260.0 1753.6L261.5 1753.8L263.0 1753.8L264.5 1753.6L266.0 1753.5L267.5 1753.9L269.0 1754.3L270.5 1754.1L272.0 1753.6L273.5 1753.3L275.0 1753.4L276.5 1753.5L278.0 1753.7L279.5 1754.0L281.0 1754.0L282.5 1753.8L284.0 1753.6L285.5 1753.4L287.0 1753.2L288.5 1753.6L290.0 1754.0L291.5 1754.0L293.0 1753.7L294.5 1753.6L296.0 1753.8L297.5 1754.0L299.0 1754.1L300.5 1754.2L302.0 1754.1L303.5 1753.8L305.0 1753.7L306.5 1753.9L308.0 1754.1L309.5 1754.0L311.0 1753.9L312.5 1753.8L314.0 1753.7L315.5 1753.7L317.0 1753.8L318.5 1753.9L320.0 1753.9L321.5 1753.8L323.0 1753.6L324.5 1753.4L326.0 1753.4L327.5 1753.6L329.1 1753.8L330.6 1753.9L332.1 1754.0L333.6 1754.2L335.1 1754.4L336.6 1754.4L338.1 1754.0L339.6 1753.6L341.1 1753.6L342.6 1753.7L344.1 1753.7L345.6 1753.7L347.1 1753.7L348.6 1753.8L350.1 1753.9L351.6 1753.6L353.1 1753.3L354.6 1753.5L356.1 1754.0L357.6 1754.2L359.1 1754.2L360.6 1754.2L362.1 1754.0L363.6 1753.9L365.1 1753.9L366.6 1754.0L368.1 1754.0L369.6 1753.6L371.1 1753.3L372.6 1753.7L374.1 1754.1L375.6 1753.9L377.1 1753.4L378.6 1753.1L380.1 1753.1L381.6 1753.1L383.1 1753.4L384.6 1753.6L386.1 1753.7L387.6 1753.6L389.1 1753.5L390.6 1753.2L392.1 1752.9L393.6 1753.4L395.1 1753.9L396.6 1753.9L398.1 1753.7L399.6 1753.5L401.1 1753.2L402.6 1752.9L404.1 1753.3L405.6 1753.7L407.1 1753.7L408.6 1753.6L410.1 1753.6L411.6 1753.6L413.1 1753.7L414.6 1753.7L416.1 1753.8L417.6 1753.7L419.1 1753.5L420.6 1753.5L422.1 1753.8L423.6 1754.1L425.1 1753.7L426.6 1753.3L428.1 1753.3L429.6 1753.4L431.1 1753.5L432.6 1753.7L434.1 1753.8L435.6 1753.7L437.1 1753.5L438.6 1753.6L440.1 1753.8L441.6 1753.9L443.1 1753.8L444.6 1753.5L446.1 1752.5L447.6 1751.5L449.1 1751.4L450.6 1751.5L452.1 1751.5L453.6 1751.2L455.1 1751.4L456.6 1752.4L458.1 1753.4L459.6 1753.9L461.1 1754.0L462.6 1754.0L464.1 1753.8L465.6 1753.6L467.1 1753.7L468.6 1753.8L470.1 1753.8L471.6 1753.7L473.1 1753.7L474.6 1753.9L476.1 1754.1L477.6 1753.6L479.1 1753.2L480.6 1753.1L482.1 1753.3L483.6 1753.5L485.1 1753.9L486.6 1754.2L488.1 1753.8L489.6 1753.4L491.1 1753.3L492.6 1753.5L494.1 1753.5L495.6 1753.4L497.1 1753.2L498.6 1753.2L500.1 1753.1L501.6 1753.1L503.1 1753.2L504.6 1753.3L506.1 1753.2L507.6 1753.1L509.1 1753.2L510.6 1753.3L512.1 1753.4L513.6 1753.4L515.1 1753.6L516.6 1753.9L518.1 1754.2L519.6 1754.0L521.1 1753.8L522.6 1753.8L524.1 1753.7L525.6 1753.7L527.1 1753.8L528.6 1753.9L530.1 1753.9L531.6 1753.9L533.1 1753.9L534.6 1753.9L536.1 1753.8L537.6 1753.7L539.1 1753.6L540.6 1753.7L542.1 1753.7L543.6 1753.6L545.1 1753.4L546.6 1753.4L548.1 1753.7L549.6 1753.9L551.1 1753.5L552.6 1753.1L554.1 1753.4L555.6 1754.0L557.1 1754.2L558.6 1753.8L560.1 1753.5L561.6 1753.5L563.1 1753.4L564.6 1753.7L566.1 1754.2L567.6 1754.5L569.1 1754.4L570.6 1754.3L572.1 1754.0L573.6 1753.6L575.1 1753.4L576.6 1753.4L578.1 1753.6L579.6 1754.1L581.1 1754.5L582.6 1754.4L584.1 1754.2L585.6 1753.9L587.1 1753.7L588.6 1753.6L590.1 1754.1L591.6 1754.4L593.1 1754.2L594.6 1754.0L596.1 1753.9L597.6 1753.7L599.1 1753.3L600.6 1753.0L602.1 1752.7L603.6 1752.5L605.1 1752.2L606.6 1751.8L608.1 1751.3L609.6 1751.0L611.1 1751.2L612.6 1751.3L614.1 1751.2L615.6 1751.0L617.1 1751.1L618.6 1751.2L620.1 1751.3L621.6 1751.3L623.1 1751.4L624.6 1751.2L626.1 1751.0L627.6 1750.9L629.1 1750.8L630.6 1751.0L632.1 1751.5L633.6 1751.9L635.1 1751.8L636.6 1751.7L638.1 1751.9L639.6 1752.2L641.1 1752.2L642.6 1752.0L644.1 1751.9L645.6 1752.7L647.1 1753.5L648.6 1752.9L650.1 1751.6L651.6 1750.9L653.1 1751.0L654.6 1751.1L656.1 1751.1L657.6 1751.2L659.1 1750.2L660.6 1748.8L662.1 1748.2L663.6 1748.8L665.1 1749.3L666.6 1748.5L668.1 1747.6L669.6 1748.1L671.1 1749.2L672.6 1749.3L674.1 1748.0L675.6 1746.7L677.1 1745.9L678.6 1745.2L680.1 1744.8L681.6 1744.4L683.1 1744.6L684.6 1745.5L686.1 1746.8L687.6 1748.5L689.1 1750.1L690.6 1750.8L692.1 1750.8L693.6 1750.0L695.1 1748.4L696.6 1746.8L698.1 1747.0L699.6 1747.5L701.1 1746.0L702.6 1744.4L704.1 1744.2L705.7 1745.6L707.2 1747.0L708.7 1748.0L710.2 1748.6L711.7 1748.9L713.2 1748.9L714.7 1748.3L716.2 1747.0L717.7 1745.8L719.2 1745.9L720.7 1745.9L722.2 1746.0L723.7 1745.9L725.2 1745.2L726.7 1743.6L728.2 1742.1L729.7 1741.8L731.2 1741.6L732.7 1741.6L734.2 1741.7L735.7 1742.2L737.2 1743.3L738.7 1744.1L740.2 1742.1L741.7 1740.1L743.2 1740.9L744.7 1742.6L746.2 1743.5L747.7 1743.7L749.2 1743.8L750.7 1744.2L752.2 1744.6L753.7 1744.4L755.2 1744.0L756.7 1743.8L758.2 1742.9L759.7 1741.3L761.2 1739.8L762.7 1738.3L764.2 1735.7L765.7 1733.5L767.2 1733.3L768.7 1735.0L770.2 1737.1L771.7 1739.0L773.2 1740.6L774.7 1741.7L776.2 1742.0L777.7 1741.7L779.2 1741.5L780.7 1740.7L782.2 1738.4L783.7 1736.4L785.2 1737.4L786.7 1739.6L788.2 1740.9L789.7 1740.7L791.2 1740.4L792.7 1739.4L794.2 1737.6L795.7 1735.3L797.2 1732.5L798.7 1730.1L800.2 1728.4L801.7 1727.3L803.2 1726.6L804.7 1726.1L806.2 1724.9L807.7 1723.5L809.2 1722.6L810.7 1722.4L812.2 1722.3L813.7 1723.0L815.2 1723.7L816.7 1722.7L818.2 1721.3L819.7 1721.0L821.2 1721.6L822.7 1722.4L824.2 1723.6L825.7 1724.7L827.2 1724.7L828.7 1724.0L830.2 1723.6L831.7 1724.1L833.2 1724.0L834.7 1722.2L836.2 1720.4L837.7 1719.5L839.2 1719.2L840.7 1717.7L842.2 1714.6L843.7 1711.9L845.2 1712.0L846.7 1712.1L848.2 1710.9L849.7 1709.3L851.2 1708.5L852.7 1708.6L854.2 1708.3L855.7 1705.6L857.2 1703.0L858.7 1703.6L860.2 1705.2L861.7 1705.4L863.2 1704.2L864.7 1702.6L866.2 1699.4L867.7 1696.1L869.2 1694.4L870.7 1693.1L872.2 1692.1L873.7 1691.6L875.2 1691.0L876.7 1689.2L878.2 1687.2L879.7 1685.1L881.2 1683.4L882.7 1681.8L884.2 1679.8L885.7 1678.3L887.2 1679.3L888.7 1680.4L890.2 1681.2L891.7 1682.3L893.2 1683.6L894.7 1684.7L896.2 1685.5L897.7 1684.9L899.2 1683.4L900.7 1683.0L902.2 1682.9L903.7 1682.7L905.2 1683.4L906.7 1687.0L908.2 1691.9L909.7 1697.1L911.2 1701.0L912.7 1704.6L914.2 1707.8L915.7 1709.1L917.2 1709.1L918.7 1707.4L920.2 1705.8L921.7 1704.9L923.2 1704.7L924.7 1706.0L926.2 1708.7L927.7 1711.4L929.2 1713.0L930.7 1714.3L932.2 1714.6L933.7 1714.5L935.2 1715.0L936.7 1716.2L938.2 1717.3L939.7 1718.9L941.2 1720.1L942.7 1719.8L944.2 1718.3L945.7 1717.4L947.2 1717.9L948.7 1718.7L950.2 1718.6L951.7 1720.8L953.2 1722.7L954.7 1724.3L956.2 1726.2L957.7 1728.0L959.2 1728.9L960.7 1728.2L962.2 1727.4L963.7 1726.6L965.2 1726.0L966.7 1725.8L968.2 1726.2L969.7 1726.8L971.2 1726.2L972.7 1725.9L974.2 1727.6L975.7 1729.8L977.2 1730.8L978.7 1730.5L980.2 1730.2L981.7 1730.6L983.2 1731.0L984.7 1731.5L986.2 1732.2L987.7 1733.3L989.2 1735.0L990.7 1736.5L992.2 1737.0L993.7 1737.4L995.2 1737.5L996.7 1737.3L998.2 1736.6L999.7 1737.0L1001.2 1738.4L1002.7 1739.1L1004.2 1740.0L1005.7 1740.9L1007.2 1741.4L1008.7 1741.4L1010.2 1741.0L1011.7 1740.2L1013.2 1739.3L1014.7 1738.9L1016.2 1739.8L1017.7 1741.4L1019.2 1742.9L1020.7 1744.2L1022.2 1745.5L1023.7 1746.8L1025.2 1747.6L1026.7 1748.1L1028.2 1748.6L1029.7 1748.7L1031.2 1748.6L1032.7 1748.4L1034.2 1748.4L1035.7 1748.3L1037.2 1748.7L1038.7 1749.2L1040.2 1749.5L1041.7 1749.7L1043.2 1749.8L1044.7 1749.5L1046.2 1749.3L1047.7 1749.7L1049.2 1750.3L1050.7 1750.6L1052.2 1750.8L1053.7 1751.0L1055.2 1750.7L1056.7 1750.4L1058.2 1750.9L1059.7 1751.5L1061.2 1752.0L1062.7 1752.2L1064.2 1752.4L1065.7 1752.6L1067.2 1752.9L1068.7 1753.0L1070.2 1753.1L1071.7 1753.2L1073.2 1753.4L1074.7 1753.5L1076.2 1753.2L1077.7 1752.9L1079.2 1753.0L1080.7 1753.3L1082.2 1753.4L1083.8 1753.3L1085.3 1753.4L1086.8 1753.7L1088.3 1754.0L1089.8 1753.7L1091.3 1753.2L1092.8 1752.6L1094.3 1752.0L1095.8 1751.6L1097.3 1751.7L1098.8 1751.9L1100.3 1751.5L1101.8 1751.0L1103.3 1750.9L1104.8 1751.4L1106.3 1752.0L1107.8 1752.3L1109.3 1752.7L1110.8 1753.3L1112.3 1753.7L1113.8 1753.9L1115.3 1753.7L1116.8 1753.3L1118.3 1752.9L1119.8 1752.4L1121.3 1751.7L1122.8 1751.1L1124.3 1750.7L1125.8 1750.8L1127.3 1750.9L1128.8 1750.9L1130.3 1751.0L1131.8 1751.3L1133.3 1751.7L1134.8 1751.9L1136.3 1752.1L1137.8 1752.3L1139.3 1752.7L1140.8 1753.0L1142.3 1753.0L1143.8 1753.0L1145.3 1753.1L1146.8 1753.4L1148.3 1753.6L1149.8 1753.4L1151.3 1753.3L1152.8 1753.5L1154.3 1753.7L1155.8 1754.0L1157.3 1754.3L1158.8 1754.5L1160.3 1754.5L1161.8 1754.4L1163.3 1754.2L1164.8 1753.9L1166.3 1753.8L1167.8 1754.0L1169.3 1754.2L1170.8 1754.2L1172.3 1754.3L1173.8 1754.1L1175.3 1753.9L1176.8 1753.6L1178.3 1753.4L1179.8 1753.3L1181.3 1753.6L1182.8 1753.8L1184.3 1753.8L1185.8 1753.7L1187.3 1753.6L1188.8 1753.6L1190.3 1753.5L1191.8 1753.5L1193.3 1753.5L1194.8 1753.5L1196.3 1753.5L1197.8 1753.4L1199.3 1753.2L1200.8 1753.1L1202.3 1753.4L1203.8 1753.8L1205.3 1753.6L1206.8 1753.2L1208.3 1752.9L1209.8 1752.8L1211.3 1752.8L1212.8 1753.0L1214.3 1753.3L1215.8 1753.5L1217.3 1753.6L1218.8 1753.6L1220.3 1753.5L1221.8 1753.5L1223.3 1753.6L1224.8 1753.7L1226.3 1753.6L1227.8 1753.5L1229.3 1753.5L1230.8 1753.7L1232.3 1753.9L1233.8 1754.0L1235.3 1754.0L1236.8 1754.0L1238.3 1753.4L1239.8 1752.3L1241.3 1751.1L1242.8 1750.4L1244.3 1750.1L1245.8 1750.2L1247.3 1750.7L1248.8 1751.2L1250.3 1751.4L1251.8 1750.8L1253.3 1749.2L1254.8 1748.4L1256.3 1748.6L1257.8 1749.1L1259.3 1749.6L1260.8 1750.3L1262.3 1751.0L1263.8 1751.5L1265.3 1751.7L1266.8 1751.6L1268.3 1751.6L1269.8 1751.7L1271.3 1751.7L1272.8 1751.7L1274.3 1751.8L1275.8 1751.8L1277.3 1751.9L1278.8 1751.8L1280.3 1751.6L1281.8 1751.7L1283.3 1752.1L1284.8 1752.2L1286.3 1751.5L1287.8 1750.6L1289.3 1750.4L1290.8 1750.2L1292.3 1749.9L1293.8 1749.4L1295.3 1749.2L1296.8 1749.5L1298.3 1750.0L1299.8 1750.1L1301.3 1750.3L1302.8 1750.9L1304.3 1751.9L1305.8 1752.6L1307.3 1752.9L1308.8 1752.8L1310.3 1751.4L1311.8 1749.3L1313.3 1747.2L1314.8 1745.7L1316.3 1745.5L1317.8 1746.5L1319.3 1748.1L1320.8 1749.6L1322.3 1750.5L1323.8 1749.9L1325.3 1747.8L1326.8 1745.1L1328.3 1742.9L1329.8 1742.5L1331.3 1744.2L1332.8 1747.0L1334.3 1749.9L1335.8 1752.2L1337.3 1753.2L1338.8 1753.7L1340.3 1754.2L1341.8 1754.5L1343.3 1754.8L1344.8 1755.2L1346.3 1755.5L1347.8 1755.7L1349.3 1756.0L1350.8 1756.2L1352.3 1756.2L1353.8 1755.9L1355.3 1755.2L1356.8 1754.2L1358.3 1752.8L1359.8 1751.0L1361.3 1749.0L1362.8 1747.5" stroke="#008080"/>
<path d="M140.0 1688.4L141.5 1688.2L143.0 1687.9L144.5 1687.7L146.0 1687.6L147.5 1687.6L149.0 1688.0L150.5 1688.4L152.0 1688.4L153.5 1688.3L155.0 1688.3L156.5 1688.3L158.0 1688.3L159.5 1688.3L161.0 1688.4L162.5 1688.2L164.0 1688.1L165.5 1687.9L167.0 1687.7L168.5 1687.5L170.0 1687.6L171.5 1687.7L173.0 1687.8L174.5 1688.0L176.0 1688.0L177.5 1688.0L179.0 1688.0L180.5 1688.1L182.0 1688.3L183.5 1688.6L185.0 1688.8L186.5 1688.7L188.0 1688.3L189.5 1688.0L191.0 1688.1L192.5 1688.1L194.0 1688.3L195.5 1688.5L197.0 1688.6L198.5 1688.7L200.0 1688.6L201.5 1688.3L203.0 1688.0L204.5 1687.9L206.0 1687.8L207.5 1687.6L209.0 1687.3L210.5 1687.1L212.0 1687.0L213.5 1686.9L215.0 1687.1L216.5 1687.3L218.0 1687.7L219.5 1688.2L221.0 1688.4L222.5 1688.3L224.0 1688.1L225.5 1687.9L227.0 1687.7L228.5 1687.5L230.0 1687.2L231.5 1687.2L233.0 1687.7L234.5 1688.3L236.0 1687.9L237.5 1687.5L239.0 1687.7L240.5 1688.2L242.0 1688.5L243.5 1688.7L245.0 1688.9L246.5 1688.7L248.0 1688.6L249.5 1688.1L251.0 1687.4L252.5 1687.1L254.0 1687.6L255.5 1688.1L257.0 1688.2L258.5 1688.3L260.0 1688.3L261.5 1688.3L263.0 1688.1L264.5 1687.9L266.0 1687.8L267.5 1688.0L269.0 1688.3L270.5 1688.3L272.0 1688.1L273.5 1688.1L275.0 1688.1L276.5 1688.1L278.0 1687.8L279.5 1687.5L281.0 1687.8L282.5 1688.3L284.0 1688.4L285.5 1688.1L287.0 1687.8L288.5 1687.8L290.0 1687.9L291.5 1688.2L293.0 1688.6L294.5 1688.8L296.0 1688.4L297.5 1688.0L299.0 1688.0L300.5 1688.0L302.0 1688.2L303.5 1688.5L305.0 1688.6L306.5 1688.6L308.0 1688.5L309.5 1688.2L311.0 1687.9L312.5 1687.8L314.0 1687.8L315.5 1687.8L317.0 1687.8L318.5 1687.9L320.0 1687.6L321.5 1687.3L323.0 1687.5L324.5 1687.8L326.0 1688.0L327.5 1687.8L329.1 1687.6L330.6 1688.2L332.1 1688.8L333.6 1688.7L335.1 1688.3L336.6 1687.9L338.1 1687.5L339.6 1687.1L341.1 1687.7L342.6 1688.2L344.1 1688.3L345.6 1688.1L347.1 1688.0L348.6 1688.1L350.1 1688.1L351.6 1688.1L353.1 1688.1L354.6 1688.0L356.1 1687.8L357.6 1687.7L359.1 1687.7L360.6 1687.6L362.1 1687.4L363.6 1687.2L365.1 1687.4L366.6 1687.7L368.1 1687.8L369.6 1687.8L371.1 1687.8L372.6 1687.7L374.1 1687.6L375.6 1687.7L377.1 1687.8L378.6 1687.9L380.1 1687.9L381.6 1687.9L383.1 1688.0L384.6 1688.1L386.1 1688.2L387.6 1688.3L389.1 1688.4L390.6 1688.3L392.1 1688.3L393.6 1688.5L395.1 1688.8L396.6 1689.0L398.1 1689.2L399.6 1689.1L401.1 1688.4L402.6 1687.7L404.1 1688.0L405.6 1688.3L407.1 1688.1L408.6 1687.6L410.1 1687.5L411.6 1687.7L413.1 1687.9L414.6 1688.0L416.1 1688.1L417.6 1688.2L419.1 1688.3L420.6 1688.3L422.1 1688.1L423.6 1688.0L425.1 1687.9L426.6 1687.8L428.1 1687.8L429.6 1687.7L431.1 1687.7L432.6 1687.6L434.1 1687.5L435.6 1687.6L437.1 1687.7L438.6 1687.7L440.1 1687.7L441.6 1687.5L443.1 1687.1L444.6 1686.6L446.1 1686.2L447.6 1685.8L449.1 1685.7L450.6 1685.7L452.1 1685.6L453.6 1685.5L455.1 1685.8L456.6 1686.2L458.1 1686.6L459.6 1687.2L461.1 1687.8L462.6 1688.0L464.1 1687.8L465.6 1687.7L467.1 1687.7L468.6 1687.8L470.1 1688.1L471.6 1688.3L473.1 1688.4L474.6 1688.2L476.1 1687.9L477.6 1688.0L479.1 1688.0L480.6 1687.8L482.1 1687.5L483.6 1687.4L485.1 1687.7L486.6 1687.9L488.1 1688.3L489.6 1688.6L491.1 1688.4L492.6 1687.8L494.1 1687.5L495.6 1687.6L497.1 1687.7L498.6 1687.6L500.1 1687.5L501.6 1687.7L503.1 1687.9L504.6 1688.0L506.1 1688.1L507.6 1688.1L509.1 1688.4L510.6 1688.7L512.1 1688.4L513.6 1687.8L515.1 1687.6L516.6 1687.8L518.1 1688.0L519.6 1688.2L521.1 1688.5L522.6 1688.3L524.1 1687.9L525.6 1687.7L527.1 1687.7L528.6 1687.7L530.1 1687.8L531.6 1687.9L533.1 1687.8L534.6 1687.6L536.1 1687.5L537.6 1687.8L539.1 1688.0L540.6 1687.7L542.1 1687.4L543.6 1687.6L545.1 1688.1L546.6 1688.2L548.1 1687.9L549.6 1687.6L551.1 1687.9L552.6 1688.1L554.1 1688.2L555.6 1688.3L557.1 1688.2L558.6 1687.9L560.1 1687.7L561.6 1687.8L563.1 1687.9L564.6 1688.0L566.1 1688.1L567.6 1688.1L569.1 1687.9L570.6 1687.8L572.1 1687.8L573.6 1687.8L575.1 1687.7L576.6 1687.5L578.1 1687.5L579.6 1687.5L581.1 1687.6L582.6 1688.1L584.1 1688.5L585.6 1688.5L587.1 1688.3L588.6 1688.2L590.1 1688.3L591.6 1688.4L593.1 1688.3L594.6 1688.3L596.1 1688.1L597.6 1687.9L599.1 1687.8L600.6 1687.5L602.1 1687.1L603.6 1687.1L605.1 1687.1L606.6 1687.3L608.1 1687.6L609.6 1687.6L611.1 1687.2L612.6 1686.8L614.1 1686.9L615.6 1687.1L617.1 1686.7L618.6 1686.2L620.1 1686.0L621.6 1686.3L623.1 1686.6L624.6 1686.6L626.1 1686.5L627.6 1687.1L629.1 1687.8L630.6 1687.9L632.1 1686.9L633.6 1686.0L635.1 1686.8L636.6 1687.6L638.1 1686.8L639.6 1685.5L641.1 1684.7L642.6 1684.9L644.1 1685.2L645.6 1685.5L647.1 1685.8L648.6 1684.9L650.1 1683.5L651.6 1682.5L653.1 1682.3L654.6 1682.0L656.1 1680.6L657.6 1679.0L659.1 1677.9L660.6 1676.9L662.1 1675.8L663.6 1674.5L665.1 1673.0L666.6 1672.1L668.1 1671.5L669.6 1670.3L671.1 1669.4L672.6 1670.4L674.1 1673.1L675.6 1675.7L677.1 1676.0L678.6 1674.9L680.1 1672.7L681.6 1669.8L683.1 1668.1L684.6 1669.1L686.1 1670.6L687.6 1669.8L689.1 1669.1L690.6 1671.9L692.1 1675.7L693.6 1677.8L695.1 1677.5L696.6 1676.9L698.1 1677.3L699.6 1677.6L701.1 1676.5L702.6 1675.0L704.1 1674.4L705.7 1674.9L707.2 1675.5L708.7 1675.9L710.2 1676.2L711.7 1674.5L713.2 1672.1L714.7 1672.0L716.2 1674.7L717.7 1676.9L719.2 1674.4L720.7 1671.8L722.2 1670.7L723.7 1669.9L725.2 1670.0L726.7 1671.4L728.2 1672.3L729.7 1669.9L731.2 1667.4L732.7 1667.8L734.2 1669.1L735.7 1668.3L737.2 1664.7L738.7 1661.5L740.2 1661.2L741.7 1661.0L743.2 1661.6L744.7 1662.7L746.2 1663.3L747.7 1663.8L749.2 1665.5L750.7 1669.6L752.2 1673.4L753.7 1675.3L755.2 1675.3L756.7 1672.9L758.2 1668.3L759.7 1663.2L761.2 1659.2L762.7 1655.5L764.2 1654.7L765.7 1655.7L767.2 1656.4L768.7 1655.7L770.2 1655.7L771.7 1658.9L773.2 1662.0L774.7 1661.6L776.2 1659.8L777.7 1659.9L779.2 1662.1L780.7 1662.7L782.2 1658.3L783.7 1653.9L785.2 1652.7L786.7 1653.3L788.2 1654.2L789.7 1654.7L791.2 1655.5L792.7 1657.8L794.2 1658.3L795.7 1655.4L797.2 1651.2L798.7 1647.4L800.2 1645.0L801.7 1643.7L803.2 1642.5L804.7 1641.6L806.2 1640.4L807.7 1639.2L809.2 1637.2L810.7 1634.1L812.2 1631.5L813.7 1632.4L815.2 1633.5L816.7 1632.8L818.2 1632.0L819.7 1633.6L821.2 1637.8L822.7 1641.9L824.2 1642.4L825.7 1642.8L827.2 1643.7L828.7 1644.2L830.2 1643.4L831.7 1641.0L833.2 1637.9L834.7 1634.7L836.2 1631.6L837.7 1627.1L839.2 1623.0L840.7 1622.0L842.2 1623.9L843.7 1625.8L845.2 1626.4L846.7 1627.0L848.2 1627.7L849.7 1628.3L851.2 1627.4L852.7 1623.9L854.2 1620.0L855.7 1618.4L857.2 1617.8L858.7 1616.2L860.2 1614.3L861.7 1612.8L863.2 1611.5L864.7 1610.0L866.2 1607.5L867.7 1604.4L869.2 1601.2L870.7 1598.1L872.2 1595.4L873.7 1593.6L875.2 1592.6L876.7 1592.5L878.2 1592.5L879.7 1590.0L881.2 1587.3L882.7 1586.3L884.2 1587.0L885.7 1587.8L887.2 1588.3L888.7 1588.9L890.2 1589.1L891.7 1589.7L893.2 1590.9L894.7 1592.1L896.2 1593.4L897.7 1597.3L899.2 1600.0L900.7 1596.6L902.2 1591.7L903.7 1588.3L905.2 1588.7L906.7 1595.5L908.2 1607.1L909.7 1614.4L911.2 1617.6L912.7 1619.6L914.2 1621.0L915.7 1621.6L917.2 1621.7L918.7 1620.5L920.2 1619.4L921.7 1617.4L923.2 1615.7L924.7 1616.8L926.2 1621.1L927.7 1625.3L929.2 1627.0L930.7 1628.7L932.2 1630.0L933.7 1631.4L935.2 1633.3L936.7 1635.5L938.2 1637.4L939.7 1637.5L941.2 1637.0L942.7 1636.1L944.2 1633.1L945.7 1628.7L947.2 1624.1L948.7 1621.5L950.2 1624.5L951.7 1630.8L953.2 1633.5L954.7 1633.2L956.2 1632.8L957.7 1634.6L959.2 1635.9L960.7 1635.2L962.2 1634.4L963.7 1635.2L965.2 1636.5L966.7 1636.4L968.2 1635.0L969.7 1634.6L971.2 1637.4L972.7 1640.2L974.2 1641.3L975.7 1642.0L977.2 1642.7L978.7 1643.5L980.2 1644.2L981.7 1644.7L983.2 1645.3L984.7 1647.2L986.2 1649.3L987.7 1650.2L989.2 1649.7L990.7 1649.7L992.2 1651.7L993.7 1653.6L995.2 1653.0L996.7 1651.8L998.2 1650.6L999.7 1649.2L1001.2 1648.8L1002.7 1651.2L1004.2 1655.2L1005.7 1659.0L1007.2 1661.9L1008.7 1663.0L1010.2 1662.8L1011.7 1662.2L1013.2 1661.7L1014.7 1661.7L1016.2 1661.8L1017.7 1662.6L1019.2 1664.8L1020.7 1667.9L1022.2 1670.9L1023.7 1673.1L1025.2 1674.7L1026.7 1675.6L1028.2 1676.3L1029.7 1676.7L1031.2 1676.9L1032.7 1677.1L1034.2 1677.8L1035.7 1678.4L1037.2 1678.6L1038.7 1678.9L1040.2 1679.4L1041.7 1680.2L1043.2 1681.1L1044.7 1681.8L1046.2 1682.5L1047.7 1683.0L1049.2 1683.4L1050.7 1683.9L1052.2 1684.4L1053.7 1684.9L1055.2 1685.6L1056.7 1686.2L1058.2 1685.6L1059.7 1684.8L1061.2 1684.3L1062.7 1684.1L1064.2 1684.0L1065.7 1684.0L1067.2 1684.1L1068.7 1684.1L1070.2 1684.1L1071.7 1684.4L1073.2 1684.7L1074.7 1685.2L1076.2 1685.9L1077.7 1686.7L1079.2 1687.0L1080.7 1687.2L1082.2 1687.5L1083.8 1688.0L1085.3 1688.2L1086.8 1688.0L1088.3 1687.7L1089.8 1687.8L1091.3 1688.1L1092.8 1688.1L1094.3 1687.9L1095.8 1687.9L1097.3 1688.4L1098.8 1688.9L1100.3 1688.7L1101.8 1688.3L1103.3 1688.1L1104.8 1688.2L1106.3 1688.4L1107.8 1688.6L1109.3 1688.9L1110.8 1688.9L1112.3 1688.9L1113.8 1688.8L1115.3 1688.5L1116.8 1688.3L1118.3 1688.1L1119.8 1688.0L1121.3 1687.8L1122.8 1687.6L1124.3 1687.5L1125.8 1687.6L1127.3 1687.8L1128.8 1688.1L1130.3 1688.5L1131.8 1688.3L1133.3 1688.0L1134.8 1688.0L1136.3 1688.0L1137.8 1688.1L1139.3 1688.4L1140.8 1688.6L1142.3 1688.5L1143.8 1688.3L1145.3 1688.3L1146.8 1688.5L1148.3 1688.5L1149.8 1688.2L1151.3 1687.8L1152.8 1688.0L1154.3 1688.2L1155.8 1688.4L1157.3 1688.6L1158.8 1688.7L1160.3 1688.7L1161.8 1688.6L1163.3 1688.4L1164.8 1688.2L1166.3 1688.0L1167.8 1687.8L1169.3 1687.7L1170.8 1688.1L1172.3 1688.5L1173.8 1688.2L1175.3 1687.7L1176.8 1687.5L1178.3 1687.5L1179.8 1687.6L1181.3 1688.0L1182.8 1688.5L1184.3 1688.3L1185.8 1688.1L1187.3 1688.1L1188.8 1688.3L1190.3 1688.5L1191.8 1688.5L1193.3 1688.5L1194.8 1688.5L1196.3 1688.5L1197.8 1688.6L1199.3 1688.7L1200.8 1688.7L1202.3 1688.4L1203.8 1688.1L1205.3 1688.0L1206.8 1688.0L1208.3 1687.9L1209.8 1687.7L1211.3 1687.6L1212.8 1687.9L1214.3 1688.2L1215.8 1688.2L1217.3 1688.3L1218.8 1688.2L1220.3 1688.1L1221.8 1688.0L1223.3 1688.3L1224.8 1688.5L1226.3 1688.7L1227.8 1688.9L1229.3 1688.9L1230.8 1688.7L1232.3 1688.6L1233.8 1688.5L1235.3 1688.5L1236.8 1688.4L1238.3 1688.3L1239.8 1688.1L1241.3 1687.9L1242.8 1687.7L1244.3 1687.4L1245.8 1687.1L1247.3 1687.4L1248.8 1687.7L1250.3 1687.8L1251.8 1687.6L1253.3 1687.5L1254.8 1687.5L1256.3 1687.4L1257.8 1687.3L1259.3 1687.3L1260.8 1687.4L1262.3 1687.6L1263.8 1687.8L1265.3 1687.6L1266.8 1687.4L1268.3 1687.4L1269.8 1687.4L1271.3 1687.3L1272.8 1687.2L1274.3 1687.0L1275.8 1686.8L1277.3 1686.6L1278.8 1686.9L1280.3 1687.3L1281.8 1687.1L1283.3 1686.5L1284.8 1685.9L1286.3 1685.6L1287.8 1685.3L1289.3 1684.9L1290.8 1684.6L1292.3 1684.5L1293.8 1684.5L1295.3 1684.8L1296.8 1685.6L1298.3 1686.5L1299.8 1687.2L1301.3 1687.7L1302.8 1688.1L1304.3 1688.2L1305.8 1687.9L1307.3 1687.2L1308.8 1686.1L1310.3 1684.4L1311.8 1682.6L1313.3 1681.7L1314.8 1681.8L1316.3 1682.2L1317.8 1682.4L1319.3 1682.9L1320.8 1683.8L1322.3 1684.5L1323.8 1684.6L1325.3 1683.2L1326.8 1680.8L1328.3 1678.5L1329.8 1677.1L1331.3 1677.2L1332.8 1678.8L1334.3 1681.3L1335.8 1683.5L1337.3 1684.7L1338.8 1685.4L1340.3 1686.2L1341.8 1686.6L1343.3 1686.8L1344.8 1687.1L1346.3 1687.3L1347.8 1687.4L1349.3 1687.4L1350.8 1687.2L1352.3 1686.8L1353.8 1686.2L1355.3 1685.6L1356.8 1684.9L1358.3 1684.0L1359.8 1683.3L1361.3 1682.5L1362.8 1680.9" stroke="#800000"/>
<path d="M140.0 1628.5L141.5 1628.7L143.0 1628.8L144.5 1628.9L146.0 1628.9L147.5 1628.9L149.0 1628.8L150.5 1628.7L152.0 1628.7L153.5 1628.7L155.0 1628.7L156.5 1628.7L158.0 1628.6L159.5 1628.4L161.0 1628.2L162.5 1628.8L164.0 1629.4L165.5 1629.6L167.0 1629.5L168.5 1629.5L170.0 1629.4L171.5 1629.3L173.0 1629.3L174.5 1629.3L176.0 1629.1L177.5 1628.9L179.0 1628.8L180.5 1628.8L182.0 1628.9L183.5 1629.1L185.0 1629.3L186.5 1629.4L188.0 1629.5L189.5 1629.5L191.0 1629.3L192.5 1629.1L194.0 1629.1L195.5 1629.1L197.0 1629.0L198.5 1628.9L200.0 1628.9L201.5 1629.3L203.0 1629.6L204.5 1629.2L206.0 1628.7L207.5 1628.7L209.0 1628.8L210.5 1628.9L212.0 1628.9L213.5 1629.0L215.0 1628.9L216.5 1628.8L218.0 1628.7L219.5 1628.7L221.0 1628.9L222.5 1629.3L224.0 1629.6L225.5 1629.5L227.0 1629.3L228.5 1629.2L230.0 1629.0L231.5 1628.9L233.0 1628.6L234.5 1628.4L236.0 1628.5L237.5 1628.7L239.0 1629.1L240.5 1629.6L242.0 1629.8L243.5 1629.2L245.0 1628.6L246.5 1628.7L248.0 1628.9L249.5 1629.2L251.0 1629.6L252.5 1629.7L254.0 1629.2L255.5 1628.7L257.0 1629.0L258.5 1629.4L260.0 1629.3L261.5 1628.9L263.0 1628.7L264.5 1629.0L266.0 1629.3L267.5 1629.1L269.0 1628.9L270.5 1628.8L272.0 1628.8L273.5 1628.8L275.0 1628.9L276.5 1629.0L278.0 1629.3L279.5 1629.5L281.0 1629.5L282.5 1629.4L284.0 1629.3L285.5 1629.2L287.0 1629.1L288.5 1629.1L290.0 1629.2L291.5 1629.2L293.0 1629.1L294.5 1629.1L296.0 1629.2L297.5 1629.4L299.0 1629.4L300.5 1629.4L302.0 1629.3L303.5 1629.2L305.0 1629.1L306.5 1629.2L308.0 1629.2L309.5 1628.9L311.0 1628.6L312.5 1628.5L314.0 1628.6L315.5 1628.5L317.0 1628.3L318.5 1628.0L320.0 1628.3L321.5 1628.5L323.0 1628.6L324.5 1628.7L326.0 1628.9L327.5 1629.2L329.1 1629.6L330.6 1629.3L332.1 1629.0L333.6 1628.8L335.1 1628.5L336.6 1628.3L338.1 1628.1L339.6 1628.0L341.1 1628.6L342.6 1629.3L344.1 1629.3L345.6 1629.1L347.1 1629.0L348.6 1629.1L350.1 1629.2L351.6 1629.1L353.1 1629.1L354.6 1629.1L356.1 1629.1L357.6 1629.1L359.1 1629.3L360.6 1629.5L362.1 1629.4L363.6 1629.4L365.1 1629.2L366.6 1628.8L368.1 1628.6L369.6 1628.7L371.1 1628.8L372.6 1628.7L374.1 1628.6L375.6 1628.7L377.1 1629.0L378.6 1629.1L380.1 1629.0L381.6 1628.9L383.1 1629.0L384.6 1629.0L386.1 1629.0L387.6 1629.0L389.1 1629.0L390.6 1629.1L392.1 1629.2L393.6 1629.1L395.1 1629.0L396.6 1629.0L398.1 1629.1L399.6 1629.1L401.1 1628.9L402.6 1628.8L404.1 1628.5L405.6 1628.1L407.1 1628.3L408.6 1628.7L410.1 1629.0L411.6 1629.1L413.1 1629.1L414.6 1629.0L416.1 1628.9L417.6 1628.9L419.1 1628.9L420.6 1629.1L422.1 1629.3L423.6 1629.5L425.1 1629.0L426.6 1628.5L428.1 1628.6L429.6 1628.9L431.1 1629.1L432.6 1629.0L434.1 1628.9L435.6 1628.8L437.1 1628.8L438.6 1628.7L440.1 1628.6L441.6 1628.4L443.1 1628.3L444.6 1628.1L446.1 1627.9L447.6 1627.6L449.1 1627.7L450.6 1628.1L452.1 1628.1L453.6 1627.8L455.1 1627.5L456.6 1627.8L458.1 1628.1L459.6 1628.0L461.1 1627.7L462.6 1627.6L464.1 1627.7L465.6 1627.8L467.1 1627.9L468.6 1628.0L470.1 1628.2L471.6 1628.3L473.1 1628.2L474.6 1627.7L476.1 1627.2L477.6 1627.5L479.1 1627.9L480.6 1628.1L482.1 1628.4L483.6 1628.5L485.1 1628.5L486.6 1628.6L488.1 1628.4L489.6 1628.2L491.1 1628.1L492.6 1627.9L494.1 1627.9L495.6 1628.2L497.1 1628.4L498.6 1628.1L500.1 1627.7L501.6 1627.7L503.1 1627.9L504.6 1627.9L506.1 1627.9L507.6 1627.8L509.1 1628.0L510.6 1628.1L512.1 1627.9L513.6 1627.5L515.1 1627.2L516.6 1627.1L518.1 1627.1L519.6 1626.9L521.1 1626.7L522.6 1626.4L524.1 1626.2L525.6 1626.1L527.1 1626.3L528.6 1626.5L530.1 1626.1L531.6 1625.9L533.1 1626.5L534.6 1627.3L536.1 1628.2L537.6 1629.1L539.1 1629.7L540.6 1629.6L542.1 1629.5L543.6 1629.3L545.1 1629.1L546.6 1629.2L548.1 1629.6L549.6 1630.1L551.1 1630.1L552.6 1630.2L554.1 1629.8L555.6 1629.3L557.1 1629.2L558.6 1629.5L560.1 1629.8L561.6 1629.6L563.1 1629.3L564.6 1629.4L566.1 1629.7L567.6 1629.7L569.1 1629.2L570.6 1628.7L572.1 1629.0L573.6 1629.3L575.1 1629.2L576.6 1629.0L578.1 1629.0L579.6 1629.3L581.1 1629.5L582.6 1628.9L584.1 1628.4L585.6 1628.3L587.1 1628.3L588.6 1628.5L590.1 1628.7L591.6 1628.9L593.1 1629.1L594.6 1629.2L596.1 1629.2L597.6 1629.2L599.1 1629.2L600.6 1629.2L602.1 1629.2L603.6 1629.1L605.1 1629.0L606.6 1628.9L608.1 1628.9L609.6 1628.9L611.1 1629.1L612.6 1629.2L614.1 1628.8L615.6 1628.4L617.1 1628.0L618.6 1627.7L620.1 1627.6L621.6 1627.7L623.1 1627.9L624.6 1627.7L626.1 1627.5L627.6 1627.6L629.1 1627.8L630.6 1627.7L632.1 1627.2L633.6 1626.8L635.1 1627.2L636.6 1627.7L638.1 1627.2L639.6 1626.4L641.1 1625.7L642.6 1625.0L644.1 1624.3L645.6 1624.3L647.1 1624.3L648.6 1624.8L650.1 1625.4L651.6 1625.4L653.1 1624.3L654.6 1623.0L656.1 1621.0L657.6 1618.6L659.1 1617.0L660.6 1615.3L662.1 1612.6L663.6 1609.2L665.1 1606.3L666.6 1602.8L668.1 1599.4L669.6 1598.0L671.1 1598.2L672.6 1599.6L674.1 1601.7L675.6 1603.9L677.1 1605.7L678.6 1606.4L680.1 1603.4L681.6 1600.4L683.1 1600.8L684.6 1602.2L686.1 1604.5L687.6 1608.8L689.1 1612.8L690.6 1612.5L692.1 1609.8L693.6 1607.7L695.1 1607.1L696.6 1606.3L698.1 1604.9L699.6 1603.8L701.1 1604.4L702.6 1606.1L704.1 1608.6L705.7 1611.5L707.2 1614.4L708.7 1615.8L710.2 1616.6L711.7 1614.3L713.2 1610.9L714.7 1609.0L716.2 1609.3L717.7 1609.3L719.2 1608.5L720.7 1607.6L722.2 1606.8L723.7 1605.7L725.2 1604.7L726.7 1604.2L728.2 1603.6L729.7 1602.8L731.2 1602.4L732.7 1598.9L734.2 1595.3L735.7 1598.2L737.2 1607.2L738.7 1614.4L740.2 1610.9L741.7 1604.2L743.2 1599.8L744.7 1597.9L746.2 1597.6L747.7 1596.9L749.2 1597.3L750.7 1601.1L752.2 1604.6L753.7 1608.2L755.2 1610.7L756.7 1609.2L758.2 1603.5L759.7 1597.3L761.2 1594.4L762.7 1591.9L764.2 1588.8L765.7 1586.7L767.2 1586.9L768.7 1589.2L770.2 1592.2L771.7 1595.1L773.2 1596.8L774.7 1595.4L776.2 1592.8L777.7 1591.6L779.2 1592.3L780.7 1592.9L782.2 1591.5L783.7 1589.9L785.2 1589.2L786.7 1589.2L788.2 1588.9L789.7 1587.9L791.2 1587.5L792.7 1589.5L794.2 1589.8L795.7 1587.7L797.2 1584.4L798.7 1581.3L800.2 1579.2L801.7 1577.6L803.2 1573.7L804.7 1569.9L806.2 1567.9L807.7 1566.4L809.2 1565.6L810.7 1565.7L812.2 1565.9L813.7 1565.7L815.2 1566.1L816.7 1567.9L818.2 1570.2L819.7 1570.7L821.2 1568.8L822.7 1567.7L824.2 1570.4L825.7 1573.2L827.2 1575.4L828.7 1576.6L830.2 1574.8L831.7 1569.3L833.2 1563.2L834.7 1560.6L836.2 1558.5L837.7 1557.6L839.2 1558.6L840.7 1559.3L842.2 1559.0L843.7 1559.2L845.2 1561.4L846.7 1564.2L848.2 1565.6L849.7 1565.8L851.2 1563.9L852.7 1559.1L854.2 1553.3L855.7 1548.7L857.2 1546.6L858.7 1544.3L860.2 1541.9L861.7 1540.5L863.2 1539.9L864.7 1538.5L866.2 1536.8L867.7 1534.7L869.2 1530.3L870.7 1526.3L872.2 1523.7L873.7 1521.5L875.2 1519.9L876.7 1520.8L878.2 1522.2L879.7 1523.0L881.2 1523.7L882.7 1524.0L884.2 1523.3L885.7 1522.6L887.2 1522.8L888.7 1522.9L890.2 1521.8L891.7 1520.4L893.2 1521.2L894.7 1524.3L896.2 1526.8L897.7 1524.9L899.2 1521.7L900.7 1517.7L902.2 1513.8L903.7 1511.8L905.2 1513.6L906.7 1519.5L908.2 1526.3L909.7 1532.5L911.2 1538.9L912.7 1542.2L914.2 1542.4L915.7 1544.4L917.2 1545.8L918.7 1544.6L920.2 1543.5L921.7 1543.8L923.2 1544.7L924.7 1545.8L926.2 1546.9L927.7 1548.6L929.2 1552.8L930.7 1557.0L932.2 1556.8L933.7 1555.8L935.2 1555.5L936.7 1555.7L938.2 1556.2L939.7 1559.2L941.2 1561.5L942.7 1560.9L944.2 1556.5L945.7 1550.6L947.2 1545.7L948.7 1545.2L950.2 1550.8L951.7 1558.0L953.2 1561.3L954.7 1561.3L956.2 1561.7L957.7 1562.7L959.2 1563.5L960.7 1564.0L962.2 1564.6L963.7 1562.6L965.2 1560.5L966.7 1561.5L968.2 1565.4L969.7 1568.8L971.2 1569.1L972.7 1569.0L974.2 1570.7L975.7 1572.7L977.2 1574.1L978.7 1574.9L980.2 1575.6L981.7 1575.6L983.2 1575.6L984.7 1575.6L986.2 1575.6L987.7 1576.0L989.2 1576.8L990.7 1577.7L992.2 1579.6L993.7 1581.5L995.2 1581.1L996.7 1580.4L998.2 1582.2L999.7 1586.6L1001.2 1591.2L1002.7 1594.2L1004.2 1596.9L1005.7 1597.2L1007.2 1596.0L1008.7 1596.1L1010.2 1597.4L1011.7 1598.5L1013.2 1598.4L1014.7 1598.5L1016.2 1598.9L1017.7 1599.9L1019.2 1601.6L1020.7 1603.9L1022.2 1606.1L1023.7 1607.5L1025.2 1608.6L1026.7 1609.9L1028.2 1611.4L1029.7 1613.3L1031.2 1615.3L1032.7 1617.2L1034.2 1618.9L1035.7 1620.2L1037.2 1620.3L1038.7 1620.0L1040.2 1619.8L1041.7 1619.9L1043.2 1620.0L1044.7 1620.3L1046.2 1620.6L1047.7 1620.3L1049.2 1619.9L1050.7 1620.0L1052.2 1620.7L1053.7 1621.5L1055.2 1622.7L1056.7 1623.9L1058.2 1625.1L1059.7 1626.2L1061.2 1626.7L1062.7 1626.5L1064.2 1626.4L1065.7 1627.4L1067.2 1628.4L1068.7 1628.1L1070.2 1627.4L1071.7 1627.4L1073.2 1628.0L1074.7 1628.6L1076.2 1629.0L1077.7 1629.3L1079.2 1629.0L1080.7 1628.4L1082.2 1628.4L1083.8 1628.8L1085.3 1629.1L1086.8 1629.0L1088.3 1628.9L1089.8 1629.0L1091.3 1629.3L1092.8 1629.4L1094.3 1629.3L1095.8 1629.2L1097.3 1629.5L1098.8 1629.7L1100.3 1630.2L1101.8 1630.8L1103.3 1630.6L1104.8 1629.9L1106.3 1629.3L1107.8 1629.7L1109.3 1630.0L1110.8 1629.9L1112.3 1629.8L1113.8 1629.8L1115.3 1630.0L1116.8 1630.1L1118.3 1629.8L1119.8 1629.4L1121.3 1629.4L1122.8 1629.5L1124.3 1629.6L1125.8 1629.7L1127.3 1629.8L1128.8 1629.8L1130.3 1629.8L1131.8 1629.7L1133.3 1629.6L1134.8 1629.5L1136.3 1629.5L1137.8 1629.6L1139.3 1629.7L1140.8 1629.8L1142.3 1630.1L1143.8 1630.4L1145.3 1630.4L1146.8 1630.1L1148.3 1629.9L1149.8 1630.0L1151.3 1630.1L1152.8 1629.7L1154.3 1629.3L1155.8 1629.5L1157.3 1630.4L1158.8 1631.0L1160.3 1630.8L1161.8 1630.5L1163.3 1630.5L1164.8 1630.4L1166.3 1630.2L1167.8 1629.9L1169.3 1629.6L1170.8 1629.8L1172.3 1630.0L1173.8 1630.1L1175.3 1630.3L1176.8 1630.2L1178.3 1629.9L1179.8 1629.7L1181.3 1629.9L1182.8 1630.0L1184.3 1629.8L1185.8 1629.5L1187.3 1629.3L1188.8 1629.1L1190.3 1629.1L1191.8 1629.6L1193.3 1630.2L1194.8 1630.3L1196.3 1630.4L1197.8 1630.2L1199.3 1629.7L1200.8 1629.4L1202.3 1629.7L1203.8 1629.9L1205.3 1629.7L1206.8 1629.3L1208.3 1629.1L1209.8 1629.1L1211.3 1629.1L1212.8 1629.2L1214.3 1629.3L1215.8 1629.4L1217.3 1629.5L1218.8 1629.6L1220.3 1629.6L1221.8 1629.7L1223.3 1629.9L1224.8 1630.1L1226.3 1629.8L1227.8 1629.5L1229.3 1629.3L1230.8 1629.2L1232.3 1629.2L1233.8 1629.4L1235.3 1629.5L1236.8 1629.1L1238.3 1628.6L1239.8 1628.5L1241.3 1628.7L1242.8 1629.0L1244.3 1629.2L1245.8 1629.4L1247.3 1629.2L1248.8 1629.1L1250.3 1629.0L1251.8 1629.2L1253.3 1629.2L1254.8 1629.0L1256.3 1628.7L1257.8 1628.8L1259.3 1629.0L1260.8 1628.9L1262.3 1628.7L1263.8 1628.4L1265.3 1628.3L1266.8 1628.3L1268.3 1628.1L1269.8 1627.9L1271.3 1627.7L1272.8 1627.6L1274.3 1627.4L1275.8 1627.5L1277.3 1627.6L1278.8 1628.1L1280.3 1628.7L1281.8 1628.7L1283.3 1628.2L1284.8 1627.8L1286.3 1627.8L1287.8 1627.9L1289.3 1628.1L1290.8 1628.4L1292.3 1628.5L1293.8 1628.4L1295.3 1628.3L1296.8 1628.6L1298.3 1628.8L1299.8 1628.8L1301.3 1628.8L1302.8 1628.9L1304.3 1629.2L1305.8 1629.3L1307.3 1628.7L1308.8 1628.0L1310.3 1627.7L1311.8 1627.5L1313.3 1626.2L1314.8 1623.3L1316.3 1620.6L1317.8 1619.3L1319.3 1619.9L1320.8 1621.4L1322.3 1622.8L1323.8 1623.1L1325.3 1621.9L1326.8 1620.0L1328.3 1618.3L1329.8 1617.4L1331.3 1617.4L1332.8 1618.9L1334.3 1621.4L1335.8 1624.1L1337.3 1625.7L1338.8 1626.8L1340.3 1627.7L1341.8 1628.2L1343.3 1628.4L1344.8 1628.7L1346.3 1629.0L1347.8 1629.2L1349.3 1629.1L1350.8 1628.9L1352.3 1629.3L1353.8 1629.6L1355.3 1629.5L1356.8 1629.0L1358.3 1628.6L1359.8 1628.7L1361.3 1628.7L1362.8 1628.2" stroke="#FF8000"/>
<path d="M140.0 1568.9L141.5 1569.3L143.0 1569.6L144.5 1569.6L146.0 1569.3L147.5 1569.1L149.0 1569.2L150.5 1569.2L152.0 1569.1L153.5 1569.0L155.0 1568.8L156.5 1568.7L158.0 1568.7L159.5 1568.7L161.0 1568.7L162.5 1568.8L164.0 1568.8L165.5 1568.8L167.0 1568.8L168.5 1568.8L170.0 1568.6L171.5 1568.5L173.0 1568.4L174.5 1568.3L176.0 1568.6L177.5 1569.1L179.0 1569.4L180.5 1569.1L182.0 1568.7L183.5 1568.3L185.0 1567.9L186.5 1568.0L188.0 1568.5L189.5 1569.0L191.0 1569.3L192.5 1569.6L194.0 1569.5L195.5 1569.4L197.0 1569.5L198.5 1569.5L200.0 1569.4L201.5 1569.1L203.0 1568.7L204.5 1568.7L206.0 1568.7L207.5 1568.8L209.0 1569.1L210.5 1569.1L212.0 1568.8L213.5 1568.5L215.0 1568.6L216.5 1568.7L218.0 1568.8L219.5 1568.8L221.0 1568.8L222.5 1568.7L224.0 1568.7L225.5 1568.4L227.0 1568.2L228.5 1568.3L230.0 1568.6L231.5 1568.9L233.0 1569.1L234.5 1569.4L236.0 1569.4L237.5 1569.4L239.0 1569.3L240.5 1569.2L242.0 1569.0L243.5 1568.9L245.0 1568.7L246.5 1569.1L248.0 1569.4L249.5 1569.4L251.0 1569.1L252.5 1569.0L254.0 1569.0L255.5 1569.0L257.0 1569.2L258.5 1569.3L260.0 1569.3L261.5 1569.2L263.0 1569.2L264.5 1569.3L266.0 1569.4L267.5 1569.7L269.0 1569.9L270.5 1569.7L272.0 1569.3L273.5 1569.2L275.0 1569.4L276.5 1569.6L278.0 1569.3L279.5 1569.0L281.0 1569.0L282.5 1569.1L284.0 1569.2L285.5 1569.0L287.0 1568.9L288.5 1569.3L290.0 1569.8L291.5 1569.7L293.0 1569.5L294.5 1569.2L296.0 1569.0L297.5 1568.7L299.0 1568.8L300.5 1568.9L302.0 1569.3L303.5 1569.7L305.0 1569.7L306.5 1569.2L308.0 1568.7L309.5 1568.3L311.0 1568.0L312.5 1568.4L314.0 1569.0L315.5 1569.4L317.0 1569.0L318.5 1568.7L320.0 1568.7L321.5 1568.8L323.0 1569.0L324.5 1569.4L326.0 1569.5L327.5 1569.3L329.1 1569.2L330.6 1569.0L332.1 1568.8L333.6 1569.0L335.1 1569.3L336.6 1569.4L338.1 1569.3L339.6 1569.1L341.1 1569.3L342.6 1569.5L344.1 1569.2L345.6 1568.8L347.1 1568.7L348.6 1569.1L350.1 1569.5L351.6 1569.4L353.1 1569.3L354.6 1569.1L356.1 1568.7L357.6 1568.6L359.1 1568.7L360.6 1568.8L362.1 1568.8L363.6 1568.9L365.1 1569.0L366.6 1569.2L368.1 1569.2L369.6 1569.3L371.1 1569.3L372.6 1569.0L374.1 1568.7L375.6 1569.0L377.1 1569.5L378.6 1569.5L380.1 1568.7L381.6 1567.9L383.1 1568.5L384.6 1569.0L386.1 1569.3L387.6 1569.4L389.1 1569.4L390.6 1569.3L392.1 1569.2L393.6 1569.3L395.1 1569.4L396.6 1569.4L398.1 1569.3L399.6 1569.1L401.1 1569.0L402.6 1568.9L404.1 1568.9L405.6 1569.0L407.1 1568.8L408.6 1568.5L410.1 1568.5L411.6 1568.9L413.1 1569.3L414.6 1569.0L416.1 1568.6L417.6 1569.0L419.1 1569.6L420.6 1569.8L422.1 1569.2L423.6 1568.6L425.1 1568.6L426.6 1568.7L428.1 1568.8L429.6 1568.9L431.1 1568.9L432.6 1568.9L434.1 1569.0L435.6 1569.0L437.1 1569.0L438.6 1568.8L440.1 1568.7L441.6 1568.6L443.1 1568.7L444.6 1568.7L446.1 1568.5L447.6 1568.4L449.1 1567.3L450.6 1565.8L452.1 1564.7L453.6 1564.7L455.1 1565.3L456.6 1566.1L458.1 1566.9L459.6 1567.5L461.1 1567.9L462.6 1568.0L464.1 1567.7L465.6 1567.4L467.1 1567.5L468.6 1567.7L470.1 1567.7L471.6 1567.8L473.1 1567.8L474.6 1567.7L476.1 1567.7L477.6 1567.8L479.1 1567.8L480.6 1567.7L482.1 1567.4L483.6 1567.3L485.1 1567.3L486.6 1567.4L488.1 1567.7L489.6 1568.1L491.1 1568.0L492.6 1567.7L494.1 1567.6L495.6 1567.6L497.1 1567.6L498.6 1567.3L500.1 1567.0L501.6 1566.8L503.1 1566.6L504.6 1566.6L506.1 1566.7L507.6 1566.8L509.1 1566.7L510.6 1566.5L512.1 1566.4L513.6 1566.3L515.1 1566.2L516.6 1566.2L518.1 1566.3L519.6 1566.7L521.1 1567.1L522.6 1567.0L524.1 1566.7L525.6 1566.6L527.1 1566.8L528.6 1567.0L530.1 1566.8L531.6 1566.8L533.1 1567.2L534.6 1567.8L536.1 1568.3L537.6 1568.5L539.1 1568.6L540.6 1568.7L542.1 1568.8L543.6 1568.7L545.1 1568.6L546.6 1568.5L548.1 1568.4L549.6 1568.3L551.1 1568.4L552.6 1568.5L554.1 1569.0L555.6 1569.6L557.1 1569.8L558.6 1569.2L560.1 1568.7L561.6 1568.9L563.1 1569.0L564.6 1569.1L566.1 1569.2L567.6 1569.3L569.1 1569.2L570.6 1569.2L572.1 1568.9L573.6 1568.6L575.1 1568.6L576.6 1568.7L578.1 1568.7L579.6 1568.6L581.1 1568.5L582.6 1568.8L584.1 1569.0L585.6 1569.3L587.1 1569.7L588.6 1569.7L590.1 1569.1L591.6 1568.6L593.1 1568.3L594.6 1568.0L596.1 1568.1L597.6 1568.3L599.1 1568.2L600.6 1567.9L602.1 1567.6L603.6 1567.4L605.1 1567.2L606.6 1567.1L608.1 1567.0L609.6 1567.0L611.1 1567.0L612.6 1567.1L614.1 1567.2L615.6 1567.3L617.1 1566.9L618.6 1566.2L620.1 1566.1L621.6 1566.6L623.1 1567.0L624.6 1566.1L626.1 1565.1L627.6 1564.9L629.1 1565.0L630.6 1564.9L632.1 1564.6L633.6 1564.4L635.1 1564.4L636.6 1564.4L638.1 1564.6L639.6 1564.8L641.1 1564.6L642.6 1563.7L644.1 1562.8L645.6 1562.4L647.1 1561.9L648.6 1562.6L650.1 1563.6L651.6 1563.2L653.1 1560.7L654.6 1557.9L656.1 1556.4L657.6 1554.6L659.1 1551.8L660.6 1548.1L662.1 1544.0L663.6 1539.9L665.1 1536.5L666.6 1533.6L668.1 1530.8L669.6 1531.2L671.1 1533.2L672.6 1534.2L674.1 1535.7L675.6 1539.7L677.1 1545.7L678.6 1548.5L680.1 1547.8L681.6 1546.0L683.1 1544.3L684.6 1542.8L686.1 1541.5L687.6 1540.4L689.1 1539.7L690.6 1539.8L692.1 1540.2L693.6 1540.0L695.1 1538.9L696.6 1538.0L698.1 1538.0L699.6 1538.2L701.1 1538.5L702.6 1539.2L704.1 1541.2L705.7 1544.6L707.2 1547.6L708.7 1546.7L710.2 1545.3L711.7 1545.9L713.2 1546.6L714.7 1546.9L716.2 1546.9L717.7 1546.4L719.2 1543.9L720.7 1541.4L722.2 1540.1L723.7 1538.9L725.2 1537.2L726.7 1535.0L728.2 1532.9L729.7 1530.8L731.2 1529.3L732.7 1527.9L734.2 1527.3L735.7 1528.3L737.2 1530.8L738.7 1533.4L740.2 1534.1L741.7 1534.5L743.2 1535.3L744.7 1535.9L746.2 1537.5L747.7 1540.4L749.2 1542.9L750.7 1542.5L752.2 1541.9L753.7 1542.7L755.2 1543.6L756.7 1542.1L758.2 1538.2L759.7 1533.6L761.2 1529.7L762.7 1526.3L764.2 1522.6L765.7 1519.0L767.2 1517.0L768.7 1517.9L770.2 1519.9L771.7 1521.8L773.2 1523.7L774.7 1522.8L776.2 1520.4L777.7 1518.5L779.2 1517.7L780.7 1516.7L782.2 1515.2L783.7 1513.7L785.2 1515.4L786.7 1517.7L788.2 1517.4L789.7 1513.6L791.2 1510.4L792.7 1511.6L794.2 1512.7L795.7 1510.6L797.2 1507.5L798.7 1503.8L800.2 1499.0L801.7 1493.8L803.2 1491.5L804.7 1490.0L806.2 1488.4L807.7 1487.7L809.2 1489.4L810.7 1493.5L812.2 1497.1L813.7 1497.4L815.2 1497.3L816.7 1497.1L818.2 1496.8L819.7 1498.0L821.2 1500.8L822.7 1503.0L824.2 1500.8L825.7 1498.5L827.2 1499.0L828.7 1500.0L830.2 1499.9L831.7 1498.7L833.2 1497.2L834.7 1493.3L836.2 1488.4L837.7 1484.6L839.2 1483.5L840.7 1483.4L842.2 1483.7L843.7 1484.3L845.2 1486.0L846.7 1487.6L848.2 1488.5L849.7 1488.5L851.2 1486.5L852.7 1482.7L854.2 1479.2L855.7 1479.3L857.2 1479.6L858.7 1476.8L860.2 1473.0L861.7 1470.1L863.2 1468.1L864.7 1465.3L866.2 1461.0L867.7 1456.7L869.2 1453.8L870.7 1450.8L872.2 1446.5L873.7 1441.8L875.2 1438.8L876.7 1436.9L878.2 1435.5L879.7 1436.5L881.2 1439.3L882.7 1441.8L884.2 1442.6L885.7 1442.0L887.2 1441.8L888.7 1441.5L890.2 1441.7L891.7 1444.0L893.2 1448.1L894.7 1452.2L896.2 1454.6L897.7 1454.7L899.2 1454.4L900.7 1454.5L902.2 1451.5L903.7 1446.0L905.2 1441.1L906.7 1440.5L908.2 1445.8L909.7 1452.8L911.2 1459.2L912.7 1466.0L914.2 1471.9L915.7 1476.1L917.2 1479.2L918.7 1482.3L920.2 1485.0L921.7 1487.8L923.2 1489.7L924.7 1489.7L926.2 1488.3L927.7 1486.8L929.2 1485.3L930.7 1483.7L932.2 1482.4L933.7 1481.1L935.2 1481.4L936.7 1483.3L938.2 1484.4L939.7 1480.7L941.2 1476.9L942.7 1476.8L944.2 1477.2L945.7 1475.8L947.2 1470.4L948.7 1464.3L950.2 1467.4L951.7 1474.6L953.2 1480.8L954.7 1483.5L956.2 1483.7L957.7 1481.3L959.2 1479.2L960.7 1478.7L962.2 1478.8L963.7 1482.8L965.2 1487.5L966.7 1489.9L968.2 1490.0L969.7 1490.2L971.2 1491.8L972.7 1493.4L974.2 1495.3L975.7 1497.3L977.2 1498.0L978.7 1497.5L980.2 1497.2L981.7 1497.7L983.2 1498.2L984.7 1500.4L986.2 1502.9L987.7 1505.1L989.2 1506.9L990.7 1508.5L992.2 1508.9L993.7 1509.4L995.2 1510.6L996.7 1512.0L998.2 1513.1L999.7 1514.1L1001.2 1515.5L1002.7 1518.4L1004.2 1521.2L1005.7 1522.7L1007.2 1524.1L1008.7 1525.6L1010.2 1527.2L1011.7 1528.9L1013.2 1531.0L1014.7 1533.0L1016.2 1534.6L1017.7 1536.1L1019.2 1538.4L1020.7 1541.3L1022.2 1544.0L1023.7 1546.0L1025.2 1547.7L1026.7 1549.0L1028.2 1550.2L1029.7 1551.3L1031.2 1552.4L1032.7 1553.4L1034.2 1554.4L1035.7 1555.4L1037.2 1556.1L1038.7 1556.7L1040.2 1557.3L1041.7 1557.9L1043.2 1558.6L1044.7 1559.4L1046.2 1560.2L1047.7 1561.3L1049.2 1562.4L1050.7 1563.2L1052.2 1563.8L1053.7 1564.2L1055.2 1564.4L1056.7 1564.6L1058.2 1565.1L1059.7 1565.7L1061.2 1566.1L1062.7 1566.3L1064.2 1566.4L1065.7 1566.7L1067.2 1566.9L1068.7 1567.4L1070.2 1567.8L1071.7 1568.2L1073.2 1568.7L1074.7 1569.1L1076.2 1568.9L1077.7 1568.7L1079.2 1568.8L1080.7 1569.0L1082.2 1569.0L1083.8 1568.8L1085.3 1568.8L1086.8 1569.2L1088.3 1569.6L1089.8 1569.6L1091.3 1569.5L1092.8 1569.5L1094.3 1569.6L1095.8 1569.8L1097.3 1569.8L1098.8 1569.9L1100.3 1569.7L1101.8 1569.5L1103.3 1569.4L1104.8 1569.5L1106.3 1569.6L1107.8 1569.7L1109.3 1569.8L1110.8 1569.6L1112.3 1569.4L1113.8 1569.5L1115.3 1569.8L1116.8 1570.1L1118.3 1570.3L1119.8 1570.5L1121.3 1570.4L1122.8 1570.2L1124.3 1570.1L1125.8 1570.3L1127.3 1570.4L1128.8 1570.3L1130.3 1570.2L1131.8 1570.0L1133.3 1569.7L1134.8 1569.7L1136.3 1570.0L1137.8 1570.3L1139.3 1570.3L1140.8 1570.4L1142.3 1569.8L1143.8 1569.1L1145.3 1568.9L1146.8 1569.3L1148.3 1569.7L1149.8 1569.9L1151.3 1570.1L1152.8 1569.8L1154.3 1569.5L1155.8 1569.3L1157.3 1569.3L1158.8 1569.3L1160.3 1569.3L1161.8 1569.2L1163.3 1569.8L1164.8 1570.5L1166.3 1570.5L1167.8 1569.9L1169.3 1569.4L1170.8 1569.8L1172.3 1570.2L1173.8 1570.6L1175.3 1570.9L1176.8 1570.9L1178.3 1570.8L1179.8 1570.5L1181.3 1570.1L1182.8 1569.7L1184.3 1570.0L1185.8 1570.3L1187.3 1570.5L1188.8 1570.8L1190.3 1571.0L1191.8 1570.9L1193.3 1570.8L1194.8 1571.1L1196.3 1571.5L1197.8 1571.3L1199.3 1570.7L1200.8 1570.1L1202.3 1570.0L1203.8 1569.9L1205.3 1569.8L1206.8 1569.7L1208.3 1569.6L1209.8 1569.5L1211.3 1569.4L1212.8 1569.5L1214.3 1569.6L1215.8 1569.6L1217.3 1569.6L1218.8 1569.4L1220.3 1569.1L1221.8 1568.9L1223.3 1569.3L1224.8 1569.7L1226.3 1569.2L1227.8 1568.6L1229.3 1568.4L1230.8 1568.7L1232.3 1568.8L1233.8 1568.3L1235.3 1567.9L1236.8 1568.0L1238.3 1568.2L1239.8 1568.6L1241.3 1569.2L1242.8 1569.5L1244.3 1569.3L1245.8 1569.0L1247.3 1568.9L1248.8 1568.8L1250.3 1568.7L1251.8 1568.5L1253.3 1568.4L1254.8 1568.8L1256.3 1569.2L1257.8 1569.1L1259.3 1568.8L1260.8 1568.8L1262.3 1569.0L1263.8 1569.0L1265.3 1568.5L1266.8 1568.0L1268.3 1568.0L1269.8 1568.2L1271.3 1568.2L1272.8 1568.2L1274.3 1568.2L1275.8 1568.5L1277.3 1568.7L1278.8 1568.7L1280.3 1568.7L1281.8 1568.6L1283.3 1568.4L1284.8 1568.4L1286.3 1568.5L1287.8 1568.7L1289.3 1568.7L1290.8 1568.6L1292.3 1568.5L1293.8 1568.4L1295.3 1568.3L1296.8 1568.3L1298.3 1568.2L1299.8 1568.5L1301.3 1568.8L1302.8 1568.6L1304.3 1568.0L1305.8 1567.5L1307.3 1567.8L1308.8 1568.0L1310.3 1567.4L1311.8 1566.5L1313.3 1564.9L1314.8 1562.2L1316.3 1559.4L1317.8 1557.8L1319.3 1557.7L1320.8 1558.9L1322.3 1560.1L1323.8 1560.6L1325.3 1559.7L1326.8 1558.2L1328.3 1556.8L1329.8 1556.5L1331.3 1558.4L1332.8 1561.1L1334.3 1563.3L1335.8 1563.7L1337.3 1563.3L1338.8 1562.5L1340.3 1562.0L1341.8 1562.7L1343.3 1564.6L1344.8 1566.9L1346.3 1568.9L1347.8 1570.1L1349.3 1570.1L1350.8 1569.6L1352.3 1568.3L1353.8 1566.9L1355.3 1565.8L1356.8 1565.2L1358.3 1564.5L1359.8 1563.5L1361.3 1562.6L1362.8 1561.9" stroke="#80FFF8"/>
</g>
<line x1="672.5" y1="1511.8" x2="672.5" y2="1841.0" stroke="#000" shape-rendering="crispEdges" stroke-width="5.4" stroke-dasharray="24 19.55"/>
<line x1="808.0" y1="1477.0" x2="808.0" y2="1923.1" stroke="#000" shape-rendering="crispEdges" stroke-width="5.4" stroke-dasharray="24 19.55"/>
<line x1="886.2" y1="1408.1" x2="886.2" y2="1991.0" stroke="#000" shape-rendering="crispEdges" stroke-width="5.4" stroke-dasharray="24 19.55"/>
<line x1="948.6" y1="1451.3" x2="948.6" y2="1824.0" stroke="#000" shape-rendering="crispEdges" stroke-width="5.4" stroke-dasharray="24 19.55"/>
<line x1="1123.1" y1="1854.4" x2="1123.1" y2="2095.0" stroke="#000" shape-rendering="crispEdges" stroke-width="5.4" stroke-dasharray="24 19.55"/>
<text x="165.5" y="1365.6" font-size="76" textLength="49.9" lengthAdjust="spacingAndGlyphs">B</text>
<line x1="282.3" y1="1295" x2="282.3" y2="1405.3" stroke="#000" stroke-width="5.6"/>
<text x="285.4" y="1365.4" font-size="38" textLength="85.6" lengthAdjust="spacingAndGlyphs">0.001</text>
<text x="638.1" y="1488.3" font-size="39.5" textLength="77.7" lengthAdjust="spacingAndGlyphs">1568</text>
<text x="779.9" y="1464.0" font-size="39.5" textLength="78.7" lengthAdjust="spacingAndGlyphs">1456</text>
<text x="847.1" y="1391.2" font-size="39.5" textLength="78.7" lengthAdjust="spacingAndGlyphs">1396</text>
<text x="924.4" y="1432.6" font-size="39.5" textLength="79.7" lengthAdjust="spacingAndGlyphs">1338</text>
<text x="1074.2" y="1849.6" font-size="39.5" textLength="76.5" lengthAdjust="spacingAndGlyphs">1207</text>
<text x="162.2" y="1553.5" font-size="39.5" textLength="39.5" lengthAdjust="spacingAndGlyphs">60</text>
<text x="160.9" y="1618.8" font-size="39.5" textLength="39.6" lengthAdjust="spacingAndGlyphs">50</text>
<text x="160.1" y="1676.7" font-size="39.5" textLength="39.8" lengthAdjust="spacingAndGlyphs">40</text>
<text x="160.3" y="1743.8" font-size="39.5" textLength="40.2" lengthAdjust="spacingAndGlyphs">30</text>
<text x="161.3" y="1800.8" font-size="39.5" textLength="39.1" lengthAdjust="spacingAndGlyphs">20</text>
<text x="162.3" y="1865.6" font-size="39.5" textLength="40.6" lengthAdjust="spacingAndGlyphs">10</text>
<text x="175.0" y="1943.7" font-size="39.5" textLength="20.8" lengthAdjust="spacingAndGlyphs">5</text>
<text x="173.3" y="2010.9" font-size="39.5" textLength="21.0" lengthAdjust="spacingAndGlyphs">2</text>
<text x="176.7" y="2076.1" font-size="39.5" textLength="18.6" lengthAdjust="spacingAndGlyphs">1</text>
<text x="176.1" y="2139.4" font-size="39.5" textLength="20.8" lengthAdjust="spacingAndGlyphs">0</text>
<text x="547.8" y="2329.4" font-size="61" textLength="341.1" lengthAdjust="spacingAndGlyphs">Wavenumver</text>
<text x="905.9" y="2329.4" font-size="61" textLength="94.9" lengthAdjust="spacingAndGlyphs">(cm</text>
<text x="1001.8" y="2304.1" font-size="43" textLength="45.6" lengthAdjust="spacingAndGlyphs">−1</text>
<text x="1045.3" y="2329.4" font-size="61" textLength="23.1" lengthAdjust="spacingAndGlyphs">)</text>
<text transform="translate(82.2 1924.1) rotate(-90)" font-size="61" textLength="378.1" lengthAdjust="spacingAndGlyphs">Intensity (a.u.)</text>
<clipPath id="clipC"><rect x="147.0" y="2507" width="1223.5" height="916"/></clipPath>
<path d="M144 2501H1372V3423H144Z M150 2507V3417H1366V2507Z" fill="#000" fill-rule="evenodd"/>
<rect x="144" y="3423" width="6" height="15"/>
<text x="92.8" y="3489.8" font-size="51.5" textLength="108.2" lengthAdjust="spacingAndGlyphs">2000</text>
<rect x="266.5" y="3423" width="5.5" height="6"/>
<rect x="388.6" y="3423" width="5.5" height="15"/>
<text x="336.2" y="3489.8" font-size="51.5" textLength="108.1" lengthAdjust="spacingAndGlyphs">1800</text>
<rect x="510.9" y="3423" width="5.5" height="6"/>
<rect x="633.1" y="3423" width="5.5" height="15"/>
<text x="580.6" y="3489.8" font-size="51.5" textLength="108.2" lengthAdjust="spacingAndGlyphs">1600</text>
<rect x="755.2" y="3423" width="5.5" height="6"/>
<rect x="877.5" y="3423" width="5.5" height="15"/>
<text x="825.0" y="3489.8" font-size="51.5" textLength="108.2" lengthAdjust="spacingAndGlyphs">1400</text>
<rect x="999.7" y="3423" width="5.5" height="6"/>
<rect x="1121.8" y="3423" width="5.5" height="15"/>
<text x="1069.4" y="3489.8" font-size="51.5" textLength="108.2" lengthAdjust="spacingAndGlyphs">1200</text>
<rect x="1244.0" y="3423" width="5.5" height="6"/>
<rect x="1366" y="3423" width="6" height="15"/>
<text x="1313.8" y="3489.8" font-size="51.5" textLength="108.2" lengthAdjust="spacingAndGlyphs">1000</text>
<g clip-path="url(#clipC)" fill="none" shape-rendering="crispEdges" stroke-linejoin="round" stroke-width="7.8">
<path d="M140.0 3384.2L141.5 3384.3L143.0 3384.3L144.5 3384.3L146.0 3384.2L147.5 3384.2L149.0 3384.2L150.5 3384.1L152.0 3384.2L153.5 3384.3L155.0 3384.3L156.5 3384.3L158.0 3384.2L159.5 3384.2L161.0 3384.2L162.5 3384.2L164.0 3384.3L165.5 3384.3L167.0 3384.3L168.5 3384.2L170.0 3384.3L171.5 3384.3L173.0 3384.2L174.5 3384.1L176.0 3384.1L177.5 3384.2L179.0 3384.3L180.5 3384.3L182.0 3384.3L183.5 3384.2L185.0 3384.2L186.5 3384.2L188.0 3384.3L189.5 3384.4L191.0 3384.4L192.5 3384.4L194.0 3384.4L195.5 3384.3L197.0 3384.3L198.5 3384.2L200.0 3384.2L201.5 3384.2L203.0 3384.2L204.5 3384.3L206.0 3384.4L207.5 3384.3L209.0 3384.2L210.5 3384.2L212.0 3384.1L213.5 3384.1L215.0 3384.1L216.5 3384.2L218.0 3384.2L219.5 3384.2L221.0 3384.2L222.5 3384.2L224.0 3384.2L225.5 3384.2L227.0 3384.2L228.5 3384.2L230.0 3384.3L231.5 3384.3L233.0 3384.3L234.5 3384.3L236.0 3384.2L237.5 3384.1L239.0 3384.1L240.5 3384.1L242.0 3384.2L243.5 3384.2L245.0 3384.2L246.5 3384.2L248.0 3384.2L249.5 3384.2L251.0 3384.2L252.5 3384.2L254.0 3384.2L255.5 3384.3L257.0 3384.4L258.5 3384.5L260.0 3384.5L261.5 3384.3L263.0 3384.2L264.6 3384.1L266.1 3384.0L267.6 3384.1L269.1 3384.2L270.6 3384.2L272.1 3384.2L273.6 3384.2L275.1 3384.2L276.6 3384.2L278.1 3384.2L279.6 3384.2L281.1 3384.1L282.6 3384.1L284.1 3384.1L285.6 3384.2L287.1 3384.2L288.6 3384.3L290.1 3384.3L291.6 3384.3L293.1 3384.2L294.6 3384.2L296.1 3384.3L297.6 3384.4L299.1 3384.3L300.6 3384.2L302.1 3384.2L303.6 3384.2L305.1 3384.3L306.6 3384.2L308.1 3384.2L309.6 3384.2L311.1 3384.1L312.6 3384.1L314.1 3384.2L315.6 3384.3L317.1 3384.2L318.6 3384.2L320.1 3384.3L321.6 3384.4L323.1 3384.3L324.6 3384.3L326.1 3384.3L327.6 3384.3L329.1 3384.3L330.6 3384.3L332.1 3384.2L333.6 3384.2L335.1 3384.3L336.6 3384.4L338.1 3384.3L339.6 3384.2L341.1 3384.1L342.6 3384.1L344.1 3384.1L345.6 3384.2L347.1 3384.2L348.6 3384.3L350.1 3384.3L351.6 3384.3L353.1 3384.4L354.6 3384.3L356.1 3384.2L357.6 3384.2L359.1 3384.2L360.6 3384.2L362.1 3384.2L363.6 3384.2L365.1 3384.2L366.6 3384.2L368.1 3384.2L369.6 3384.3L371.1 3384.4L372.6 3384.3L374.1 3384.3L375.6 3384.3L377.1 3384.2L378.6 3384.2L380.1 3384.2L381.6 3384.2L383.1 3384.2L384.6 3384.2L386.1 3384.2L387.6 3384.2L389.1 3384.2L390.6 3384.2L392.1 3384.1L393.6 3384.2L395.1 3384.3L396.6 3384.3L398.1 3384.2L399.6 3384.2L401.1 3384.1L402.6 3384.1L404.1 3384.1L405.6 3384.2L407.1 3384.2L408.6 3384.2L410.1 3384.2L411.6 3384.2L413.1 3384.3L414.6 3384.3L416.1 3384.4L417.6 3384.3L419.1 3384.3L420.6 3384.3L422.1 3384.3L423.6 3384.3L425.1 3384.3L426.6 3384.3L428.1 3384.2L429.6 3384.2L431.1 3384.1L432.6 3384.1L434.1 3384.0L435.6 3384.1L437.1 3384.2L438.6 3384.3L440.1 3384.2L441.6 3384.3L443.1 3384.3L444.6 3384.3L446.1 3384.2L447.6 3384.2L449.1 3384.1L450.6 3384.1L452.1 3384.2L453.6 3384.3L455.1 3384.3L456.6 3384.2L458.1 3384.2L459.6 3384.2L461.1 3384.3L462.6 3384.3L464.1 3384.2L465.6 3384.1L467.1 3384.1L468.6 3384.1L470.1 3384.1L471.6 3384.1L473.1 3384.1L474.6 3384.1L476.1 3384.0L477.6 3384.1L479.1 3384.2L480.6 3384.2L482.1 3384.2L483.6 3384.1L485.1 3384.2L486.6 3384.2L488.1 3384.2L489.6 3384.2L491.1 3384.3L492.6 3384.3L494.1 3384.3L495.6 3384.2L497.1 3384.2L498.6 3384.2L500.1 3384.1L501.6 3384.2L503.1 3384.2L504.6 3384.2L506.1 3384.2L507.6 3384.1L509.1 3384.2L510.7 3384.2L512.2 3384.3L513.7 3384.3L515.2 3384.3L516.7 3384.1L518.2 3384.0L519.7 3384.0L521.2 3384.1L522.7 3384.2L524.2 3384.3L525.7 3384.3L527.2 3384.2L528.7 3384.1L530.2 3384.1L531.7 3384.2L533.2 3384.2L534.7 3384.1L536.2 3384.1L537.7 3384.3L539.2 3384.4L540.7 3384.2L542.2 3384.1L543.7 3384.1L545.2 3384.1L546.7 3384.1L548.2 3384.2L549.7 3384.2L551.2 3384.2L552.7 3384.3L554.2 3384.3L555.7 3384.4L557.2 3384.3L558.7 3384.3L560.2 3384.2L561.7 3384.3L563.2 3384.4L564.7 3384.3L566.2 3384.2L567.7 3384.2L569.2 3384.2L570.7 3384.2L572.2 3384.3L573.7 3384.3L575.2 3384.3L576.7 3384.2L578.2 3384.2L579.7 3384.1L581.2 3384.0L582.7 3384.1L584.2 3384.1L585.7 3384.1L587.2 3384.1L588.7 3384.1L590.2 3384.1L591.7 3384.1L593.2 3384.1L594.7 3384.1L596.2 3384.2L597.7 3384.3L599.2 3384.3L600.7 3384.3L602.2 3384.2L603.7 3384.3L605.2 3384.3L606.7 3384.2L608.2 3384.2L609.7 3384.2L611.2 3384.2L612.7 3384.3L614.2 3384.2L615.7 3384.2L617.2 3384.2L618.7 3384.1L620.2 3384.1L621.7 3384.1L623.2 3384.2L624.7 3384.2L626.2 3384.2L627.7 3384.2L629.2 3384.2L630.7 3384.2L632.2 3384.2L633.7 3384.2L635.2 3384.2L636.7 3384.2L638.2 3384.2L639.7 3384.2L641.2 3384.2L642.7 3384.2L644.2 3384.3L645.7 3384.3L647.2 3384.3L648.7 3384.2L650.2 3384.2L651.7 3384.2L653.2 3384.2L654.7 3384.3L656.2 3384.3L657.7 3384.3L659.2 3384.2L660.7 3384.2L662.2 3384.2L663.7 3384.1L665.2 3384.1L666.7 3384.1L668.2 3384.1L669.7 3384.1L671.2 3384.1L672.7 3384.1L674.2 3384.2L675.7 3384.2L677.2 3384.2L678.7 3384.2L680.2 3384.2L681.7 3384.2L683.2 3384.2L684.7 3384.1L686.2 3384.1L687.7 3384.0L689.2 3384.0L690.7 3384.1L692.2 3384.3L693.7 3384.3L695.2 3384.3L696.7 3384.2L698.2 3384.2L699.7 3384.3L701.2 3384.2L702.7 3384.1L704.2 3384.1L705.7 3384.2L707.2 3384.3L708.7 3384.3L710.2 3384.3L711.7 3384.3L713.2 3384.3L714.7 3384.3L716.2 3384.3L717.7 3384.3L719.2 3384.2L720.7 3384.2L722.2 3384.2L723.7 3384.3L725.2 3384.3L726.7 3384.2L728.2 3384.1L729.7 3384.2L731.2 3384.4L732.7 3384.3L734.2 3384.1L735.7 3384.1L737.2 3384.1L738.7 3384.1L740.2 3384.2L741.7 3384.3L743.2 3384.3L744.7 3384.3L746.2 3384.2L747.7 3384.1L749.2 3384.1L750.7 3384.1L752.2 3384.2L753.7 3384.2L755.2 3384.2L756.7 3384.2L758.3 3384.2L759.8 3384.2L761.3 3384.2L762.8 3384.1L764.3 3384.2L765.8 3384.2L767.3 3384.2L768.8 3384.1L770.3 3384.1L771.8 3384.2L773.3 3384.2L774.8 3384.3L776.3 3384.3L777.8 3384.3L779.3 3384.3L780.8 3384.2L782.3 3384.1L783.8 3384.0L785.3 3384.0L786.8 3384.0L788.3 3384.0L789.8 3384.1L791.3 3384.2L792.8 3384.2L794.3 3384.3L795.8 3384.2L797.3 3384.1L798.8 3384.1L800.3 3384.1L801.8 3384.1L803.3 3384.2L804.8 3384.2L806.3 3384.2L807.8 3384.2L809.3 3384.2L810.8 3384.2L812.3 3384.2L813.8 3384.2L815.3 3384.1L816.8 3384.2L818.3 3384.2L819.8 3384.3L821.3 3384.3L822.8 3384.4L824.3 3384.3L825.8 3384.1L827.3 3384.2L828.8 3384.2L830.3 3384.2L831.8 3384.2L833.3 3384.2L834.8 3384.2L836.3 3384.2L837.8 3384.1L839.3 3384.1L840.8 3384.1L842.3 3384.1L843.8 3384.2L845.3 3384.2L846.8 3384.2L848.3 3384.2L849.8 3384.3L851.3 3384.3L852.8 3384.2L854.3 3384.1L855.8 3384.1L857.3 3384.1L858.8 3384.2L860.3 3384.3L861.8 3384.3L863.3 3384.2L864.8 3384.2L866.3 3384.2L867.8 3384.3L869.3 3384.3L870.8 3384.2L872.3 3384.2L873.8 3384.2L875.3 3384.2L876.8 3384.2L878.3 3384.2L879.8 3384.2L881.3 3384.2L882.8 3384.2L884.3 3384.2L885.8 3384.2L887.3 3384.3L888.8 3384.3L890.3 3384.3L891.8 3384.2L893.3 3384.1L894.8 3384.1L896.3 3384.2L897.8 3384.2L899.3 3384.3L900.8 3384.3L902.3 3384.2L903.8 3384.2L905.3 3384.3L906.8 3384.4L908.3 3384.3L909.8 3384.3L911.3 3384.3L912.8 3384.3L914.3 3384.3L915.8 3384.2L917.3 3384.2L918.8 3384.2L920.3 3384.3L921.8 3384.3L923.3 3384.2L924.8 3384.3L926.3 3384.3L927.8 3384.4L929.3 3384.4L930.8 3384.3L932.3 3384.3L933.8 3384.3L935.3 3384.3L936.8 3384.2L938.3 3384.2L939.8 3384.2L941.3 3384.2L942.8 3384.3L944.3 3384.4L945.8 3384.3L947.3 3384.3L948.8 3384.2L950.3 3384.3L951.8 3384.3L953.3 3384.2L954.8 3384.1L956.3 3384.1L957.8 3384.2L959.3 3384.2L960.8 3384.3L962.3 3384.3L963.8 3384.3L965.3 3384.2L966.8 3384.2L968.3 3384.3L969.8 3384.4L971.3 3384.2L972.8 3384.0L974.3 3384.2L975.8 3384.3L977.3 3384.4L978.8 3384.2L980.3 3384.2L981.8 3384.1L983.3 3384.1L984.8 3384.1L986.3 3384.1L987.8 3384.1L989.3 3384.2L990.8 3384.3L992.3 3384.2L993.8 3384.2L995.3 3384.1L996.8 3384.1L998.3 3384.2L999.8 3384.2L1001.3 3384.2L1002.8 3384.2L1004.3 3384.1L1005.9 3384.2L1007.4 3384.2L1008.9 3384.2L1010.4 3384.1L1011.9 3384.0L1013.4 3384.0L1014.9 3384.0L1016.4 3384.0L1017.9 3384.1L1019.4 3384.1L1020.9 3384.2L1022.4 3384.1L1023.9 3384.1L1025.4 3384.0L1026.9 3384.1L1028.4 3384.1L1029.9 3384.1L1031.4 3384.1L1032.9 3384.1L1034.4 3384.1L1035.9 3384.1L1037.4 3384.2L1038.9 3384.2L1040.4 3384.3L1041.9 3384.3L1043.4 3384.2L1044.9 3384.2L1046.4 3384.1L1047.9 3384.1L1049.4 3384.2L1050.9 3384.2L1052.4 3384.2L1053.9 3384.2L1055.4 3384.2L1056.9 3384.2L1058.4 3384.1L1059.9 3384.1L1061.4 3384.1L1062.9 3384.2L1064.4 3384.2L1065.9 3384.2L1067.4 3384.1L1068.9 3384.2L1070.4 3384.2L1071.9 3384.3L1073.4 3384.3L1074.9 3384.3L1076.4 3384.3L1077.9 3384.3L1079.4 3384.2L1080.9 3384.2L1082.4 3384.1L1083.9 3384.1L1085.4 3384.1L1086.9 3384.2L1088.4 3384.3L1089.9 3384.3L1091.4 3384.3L1092.9 3384.3L1094.4 3384.4L1095.9 3384.4L1097.4 3384.3L1098.9 3384.3L1100.4 3384.3L1101.9 3384.2L1103.4 3384.3L1104.9 3384.3L1106.4 3384.4L1107.9 3384.3L1109.4 3384.3L1110.9 3384.3L1112.4 3384.2L1113.9 3384.2L1115.4 3384.2L1116.9 3384.3L1118.4 3384.2L1119.9 3384.1L1121.4 3384.2L1122.9 3384.2L1124.4 3384.2L1125.9 3384.3L1127.4 3384.3L1128.9 3384.2L1130.4 3384.2L1131.9 3384.2L1133.4 3384.2L1134.9 3384.2L1136.4 3384.3L1137.9 3384.3L1139.4 3384.2L1140.9 3384.1L1142.4 3384.2L1143.9 3384.2L1145.4 3384.2L1146.9 3384.2L1148.4 3384.2L1149.9 3384.3L1151.4 3384.3L1152.9 3384.2L1154.4 3384.0L1155.9 3384.0L1157.4 3384.0L1158.9 3384.1L1160.4 3384.1L1161.9 3384.1L1163.4 3384.1L1164.9 3384.1L1166.4 3384.1L1167.9 3384.2L1169.4 3384.2L1170.9 3384.2L1172.4 3384.2L1173.9 3384.2L1175.4 3384.1L1176.9 3384.1L1178.4 3384.1L1179.9 3384.2L1181.4 3384.2L1182.9 3384.3L1184.4 3384.3L1185.9 3384.2L1187.4 3384.2L1188.9 3384.2L1190.4 3384.1L1191.9 3384.1L1193.4 3384.1L1194.9 3384.2L1196.4 3384.3L1197.9 3384.3L1199.4 3384.3L1200.9 3384.3L1202.4 3384.3L1203.9 3384.3L1205.4 3384.3L1206.9 3384.3L1208.4 3384.2L1209.9 3384.1L1211.4 3384.1L1212.9 3384.1L1214.4 3384.1L1215.9 3384.2L1217.4 3384.3L1218.9 3384.2L1220.4 3384.1L1221.9 3384.1L1223.4 3384.1L1224.9 3384.2L1226.4 3384.2L1227.9 3384.2L1229.4 3384.2L1230.9 3384.1L1232.4 3384.1L1233.9 3384.1L1235.4 3384.1L1236.9 3384.2L1238.4 3384.3L1239.9 3384.2L1241.4 3384.1L1242.9 3384.1L1244.4 3384.2L1245.9 3384.3L1247.4 3384.3L1248.9 3384.2L1250.4 3384.2L1252.0 3384.2L1253.5 3384.2L1255.0 3384.2L1256.5 3384.2L1258.0 3384.3L1259.5 3384.3L1261.0 3384.3L1262.5 3384.2L1264.0 3384.1L1265.5 3384.1L1267.0 3384.1L1268.5 3384.1L1270.0 3384.2L1271.5 3384.3L1273.0 3384.3L1274.5 3384.3L1276.0 3384.2L1277.5 3384.2L1279.0 3384.2L1280.5 3384.1L1282.0 3384.2L1283.5 3384.2L1285.0 3384.3L1286.5 3384.3L1288.0 3384.4L1289.5 3384.3L1291.0 3384.2L1292.5 3384.2L1294.0 3384.2L1295.5 3384.2L1297.0 3384.2L1298.5 3384.3L1300.0 3384.2L1301.5 3384.2L1303.0 3384.2L1304.5 3384.1L1306.0 3384.1L1307.5 3384.2L1309.0 3384.2L1310.5 3384.2L1312.0 3384.2L1313.5 3384.2L1315.0 3384.1L1316.5 3384.0L1318.0 3384.1L1319.5 3384.1L1321.0 3384.2L1322.5 3384.3L1324.0 3384.2L1325.5 3384.1L1327.0 3384.1L1328.5 3384.2L1330.0 3384.3L1331.5 3384.2L1333.0 3384.2L1334.5 3384.2L1336.0 3384.3L1337.5 3384.3L1339.0 3384.2L1340.5 3384.0L1342.0 3384.1L1343.5 3384.3L1345.0 3384.3L1346.5 3384.2L1348.0 3384.1L1349.5 3384.1L1351.0 3384.1L1352.5 3384.2L1354.0 3384.3L1355.5 3384.3L1357.0 3384.3L1358.5 3384.3L1360.0 3384.2L1361.5 3384.2L1363.0 3384.2L1364.5 3384.1L1366.0 3384.1L1367.5 3384.1L1369.0 3384.2L1370.5 3384.2L1372.0 3384.2L1373.5 3384.2L1375.0 3384.1" stroke="#000000"/>
<path d="M140.0 3334.7L141.5 3334.8L143.0 3334.8L144.5 3334.8L146.0 3334.8L147.5 3334.8L149.0 3334.7L150.5 3334.6L152.0 3334.6L153.5 3334.5L155.0 3334.6L156.5 3334.7L158.0 3334.8L159.5 3334.7L161.0 3334.6L162.5 3334.7L164.0 3334.7L165.5 3334.8L167.0 3334.9L168.5 3334.9L170.0 3334.8L171.5 3334.7L173.0 3334.7L174.5 3334.8L176.0 3334.8L177.5 3334.9L179.0 3334.9L180.5 3334.9L182.0 3334.9L183.5 3334.9L185.0 3334.9L186.5 3334.9L188.0 3334.8L189.5 3334.9L191.1 3334.9L192.6 3335.0L194.1 3334.9L195.6 3334.9L197.1 3334.8L198.6 3334.6L200.1 3334.6L201.6 3334.7L203.1 3334.8L204.6 3334.7L206.1 3334.6L207.6 3334.6L209.1 3334.6L210.6 3334.7L212.1 3334.8L213.6 3334.9L215.1 3334.8L216.6 3334.8L218.1 3334.7L219.6 3334.6L221.1 3334.6L222.6 3334.8L224.1 3334.9L225.6 3334.8L227.1 3334.6L228.6 3334.7L230.1 3334.8L231.6 3334.9L233.1 3334.9L234.6 3334.9L236.1 3334.8L237.6 3334.8L239.1 3334.7L240.6 3334.7L242.1 3334.7L243.6 3334.8L245.1 3334.9L246.6 3334.9L248.1 3334.9L249.6 3335.0L251.1 3335.0L252.6 3335.0L254.1 3335.0L255.6 3334.9L257.1 3334.9L258.6 3334.9L260.1 3334.8L261.6 3334.8L263.1 3334.8L264.6 3334.7L266.1 3334.7L267.6 3334.7L269.1 3334.8L270.6 3334.8L272.1 3334.8L273.6 3334.7L275.1 3334.8L276.6 3334.8L278.1 3334.7L279.6 3334.7L281.1 3334.8L282.6 3335.0L284.1 3335.0L285.6 3334.9L287.1 3334.7L288.6 3334.7L290.1 3334.7L291.7 3334.7L293.2 3334.8L294.7 3334.8L296.2 3334.6L297.7 3334.5L299.2 3334.7L300.7 3335.0L302.2 3334.9L303.7 3334.8L305.2 3334.7L306.7 3334.7L308.2 3334.7L309.7 3334.8L311.2 3334.9L312.7 3334.8L314.2 3334.7L315.7 3334.7L317.2 3334.7L318.7 3334.8L320.2 3334.9L321.7 3335.0L323.2 3334.9L324.7 3334.8L326.2 3334.8L327.7 3334.8L329.2 3334.7L330.7 3334.6L332.2 3334.6L333.7 3334.7L335.2 3334.8L336.7 3334.9L338.2 3335.0L339.7 3335.0L341.2 3334.9L342.7 3334.7L344.2 3334.8L345.7 3335.0L347.2 3335.1L348.7 3335.0L350.2 3334.9L351.7 3334.9L353.2 3334.8L354.7 3334.8L356.2 3334.8L357.7 3334.8L359.2 3335.0L360.7 3335.1L362.2 3334.9L363.7 3334.7L365.2 3334.7L366.7 3334.9L368.2 3334.9L369.7 3334.8L371.2 3334.6L372.7 3334.7L374.2 3334.7L375.7 3334.8L377.2 3334.8L378.7 3334.9L380.2 3335.0L381.7 3335.1L383.2 3335.0L384.7 3335.0L386.2 3334.9L387.7 3334.8L389.2 3334.8L390.7 3334.8L392.3 3334.8L393.8 3334.7L395.3 3334.6L396.8 3334.6L398.3 3334.6L399.8 3334.7L401.3 3334.7L402.8 3334.8L404.3 3334.7L405.8 3334.7L407.3 3334.7L408.8 3334.8L410.3 3334.8L411.8 3334.7L413.3 3334.7L414.8 3334.8L416.3 3334.8L417.8 3334.7L419.3 3334.6L420.8 3334.6L422.3 3334.8L423.8 3334.9L425.3 3334.9L426.8 3334.9L428.3 3334.9L429.8 3334.9L431.3 3334.9L432.8 3334.8L434.3 3334.7L435.8 3334.8L437.3 3334.9L438.8 3334.9L440.3 3334.8L441.8 3334.8L443.3 3334.7L444.8 3334.6L446.3 3334.7L447.8 3334.8L449.3 3334.8L450.8 3334.7L452.3 3334.6L453.8 3334.6L455.3 3334.6L456.8 3334.6L458.3 3334.5L459.8 3334.6L461.3 3334.8L462.8 3334.8L464.3 3334.8L465.8 3334.8L467.3 3334.8L468.8 3334.7L470.3 3334.7L471.8 3334.7L473.3 3334.7L474.8 3334.8L476.3 3334.8L477.8 3334.9L479.3 3334.9L480.8 3334.8L482.3 3334.7L483.8 3334.6L485.3 3334.6L486.8 3334.7L488.3 3334.8L489.8 3334.9L491.3 3334.8L492.9 3334.7L494.4 3334.6L495.9 3334.7L497.4 3334.8L498.9 3334.9L500.4 3335.1L501.9 3335.0L503.4 3334.9L504.9 3334.8L506.4 3334.8L507.9 3334.8L509.4 3334.8L510.9 3334.7L512.4 3334.7L513.9 3334.8L515.4 3334.7L516.9 3334.6L518.4 3334.6L519.9 3334.8L521.4 3334.9L522.9 3334.9L524.4 3334.9L525.9 3334.9L527.4 3334.9L528.9 3334.9L530.4 3334.8L531.9 3334.8L533.4 3334.8L534.9 3334.8L536.4 3334.8L537.9 3334.8L539.4 3334.8L540.9 3334.8L542.4 3334.8L543.9 3334.8L545.4 3334.8L546.9 3334.8L548.4 3334.8L549.9 3334.8L551.4 3334.7L552.9 3334.6L554.4 3334.7L555.9 3334.9L557.4 3334.9L558.9 3334.8L560.4 3334.7L561.9 3334.7L563.4 3334.7L564.9 3334.7L566.4 3334.8L567.9 3334.8L569.4 3334.7L570.9 3334.6L572.4 3334.7L573.9 3334.8L575.4 3334.8L576.9 3334.7L578.4 3334.8L579.9 3335.0L581.4 3335.0L582.9 3334.9L584.4 3334.8L585.9 3334.8L587.4 3334.8L588.9 3334.8L590.4 3334.8L591.9 3334.8L593.4 3334.8L595.0 3334.7L596.5 3334.7L598.0 3334.6L599.5 3334.7L601.0 3334.8L602.5 3334.9L604.0 3334.7L605.5 3334.4L607.0 3334.6L608.5 3334.7L610.0 3334.7L611.5 3334.7L613.0 3334.8L614.5 3334.8L616.0 3334.9L617.5 3334.8L619.0 3334.7L620.5 3334.7L622.0 3334.8L623.5 3334.9L625.0 3334.9L626.5 3335.0L628.0 3334.9L629.5 3334.7L631.0 3334.7L632.5 3334.8L634.0 3334.9L635.5 3334.9L637.0 3335.0L638.5 3334.8L640.0 3334.7L641.5 3334.6L643.0 3334.5L644.5 3334.5L646.0 3334.8L647.5 3335.0L649.0 3334.8L650.5 3334.5L652.0 3334.5L653.5 3334.6L655.0 3334.7L656.5 3334.9L658.0 3335.1L659.5 3334.9L661.0 3334.8L662.5 3334.7L664.0 3334.7L665.5 3334.7L667.0 3334.7L668.5 3334.8L670.0 3334.8L671.5 3334.8L673.0 3334.8L674.5 3334.8L676.0 3334.7L677.5 3334.7L679.0 3334.6L680.5 3334.7L682.0 3334.7L683.5 3334.8L685.0 3334.8L686.5 3334.9L688.0 3334.8L689.5 3334.8L691.0 3334.7L692.5 3334.6L694.0 3334.6L695.6 3334.6L697.1 3334.6L698.6 3334.6L700.1 3334.5L701.6 3334.5L703.1 3334.6L704.6 3334.6L706.1 3334.6L707.6 3334.6L709.1 3334.7L710.6 3334.7L712.1 3334.6L713.6 3334.6L715.1 3334.6L716.6 3334.7L718.1 3334.7L719.6 3334.7L721.1 3334.6L722.6 3334.7L724.1 3334.7L725.6 3334.7L727.1 3334.6L728.6 3334.6L730.1 3334.7L731.6 3334.8L733.1 3334.7L734.6 3334.5L736.1 3334.5L737.6 3334.5L739.1 3334.4L740.6 3334.4L742.1 3334.4L743.6 3334.4L745.1 3334.5L746.6 3334.4L748.1 3334.3L749.6 3334.3L751.1 3334.3L752.6 3334.3L754.1 3334.3L755.6 3334.4L757.1 3334.5L758.6 3334.6L760.1 3334.6L761.6 3334.4L763.1 3334.3L764.6 3334.4L766.1 3334.4L767.6 3334.4L769.1 3334.4L770.6 3334.4L772.1 3334.5L773.6 3334.5L775.1 3334.4L776.6 3334.3L778.1 3334.3L779.6 3334.3L781.1 3334.3L782.6 3334.2L784.1 3334.1L785.6 3334.2L787.1 3334.2L788.6 3334.3L790.1 3334.3L791.6 3334.3L793.1 3334.0L794.6 3333.8L796.2 3334.0L797.7 3334.2L799.2 3334.2L800.7 3334.1L802.2 3334.1L803.7 3334.0L805.2 3334.0L806.7 3334.1L808.2 3334.2L809.7 3334.2L811.2 3334.1L812.7 3334.0L814.2 3334.0L815.7 3334.1L817.2 3334.0L818.7 3334.0L820.2 3334.1L821.7 3334.1L823.2 3334.1L824.7 3334.1L826.2 3334.1L827.7 3334.0L829.2 3334.0L830.7 3334.0L832.2 3334.1L833.7 3334.1L835.2 3334.0L836.7 3334.0L838.2 3334.0L839.7 3334.1L841.2 3334.0L842.7 3333.9L844.2 3333.9L845.7 3334.0L847.2 3334.0L848.7 3333.8L850.2 3333.6L851.7 3333.6L853.2 3333.7L854.7 3333.8L856.2 3333.8L857.7 3333.8L859.2 3333.6L860.7 3333.5L862.2 3333.5L863.7 3333.5L865.2 3333.4L866.7 3333.4L868.2 3333.3L869.7 3333.3L871.2 3333.4L872.7 3333.2L874.2 3332.9L875.7 3332.7L877.2 3332.6L878.7 3332.5L880.2 3332.5L881.7 3332.5L883.2 3332.3L884.7 3332.1L886.2 3331.9L887.7 3331.7L889.2 3331.6L890.7 3331.6L892.2 3331.6L893.7 3331.5L895.2 3331.5L896.8 3331.6L898.3 3331.9L899.8 3332.3L901.3 3332.8L902.8 3333.2L904.3 3333.3L905.8 3333.3L907.3 3333.4L908.8 3333.8L910.3 3334.0L911.8 3334.1L913.3 3334.2L914.8 3334.4L916.3 3334.5L917.8 3334.5L919.3 3334.4L920.8 3334.3L922.3 3334.3L923.8 3334.3L925.3 3334.3L926.8 3334.2L928.3 3334.2L929.8 3334.1L931.3 3334.1L932.8 3334.1L934.3 3334.1L935.8 3334.2L937.3 3334.2L938.8 3334.2L940.3 3334.2L941.8 3334.3L943.3 3334.2L944.8 3334.1L946.3 3334.2L947.8 3334.3L949.3 3334.3L950.8 3334.3L952.3 3334.2L953.8 3334.3L955.3 3334.4L956.8 3334.3L958.3 3334.3L959.8 3334.3L961.3 3334.3L962.8 3334.3L964.3 3334.3L965.8 3334.2L967.3 3334.2L968.8 3334.3L970.3 3334.2L971.8 3334.1L973.3 3334.1L974.8 3334.2L976.3 3334.3L977.8 3334.3L979.3 3334.2L980.8 3334.2L982.3 3334.1L983.8 3334.1L985.3 3334.0L986.8 3334.0L988.3 3334.0L989.8 3334.1L991.3 3334.0L992.8 3333.8L994.3 3333.8L995.8 3333.9L997.4 3334.0L998.9 3333.9L1000.4 3333.7L1001.9 3333.7L1003.4 3333.7L1004.9 3333.7L1006.4 3333.6L1007.9 3333.6L1009.4 3333.5L1010.9 3333.5L1012.4 3333.4L1013.9 3333.4L1015.4 3333.3L1016.9 3332.8L1018.4 3332.2L1019.9 3331.5L1021.4 3330.9L1022.9 3330.2L1024.4 3329.6L1025.9 3329.1L1027.4 3328.7L1028.9 3328.3L1030.4 3327.9L1031.9 3327.6L1033.4 3327.2L1034.9 3326.9L1036.4 3326.6L1037.9 3326.4L1039.4 3326.1L1040.9 3325.8L1042.4 3325.5L1043.9 3325.3L1045.4 3325.3L1046.9 3325.4L1048.4 3325.8L1049.9 3326.2L1051.4 3326.3L1052.9 3326.5L1054.4 3326.8L1055.9 3327.1L1057.4 3327.4L1058.9 3327.6L1060.4 3327.9L1061.9 3328.1L1063.4 3328.3L1064.9 3328.6L1066.4 3328.8L1067.9 3329.1L1069.4 3329.3L1070.9 3329.6L1072.4 3329.5L1073.9 3329.4L1075.4 3329.4L1076.9 3329.6L1078.4 3329.7L1079.9 3329.6L1081.4 3329.5L1082.9 3329.5L1084.4 3329.4L1085.9 3329.4L1087.4 3329.4L1088.9 3329.4L1090.4 3329.3L1091.9 3329.3L1093.4 3329.3L1094.9 3329.3L1096.4 3329.3L1098.0 3329.4L1099.5 3329.5L1101.0 3329.6L1102.5 3329.7L1104.0 3329.9L1105.5 3330.1L1107.0 3330.3L1108.5 3330.6L1110.0 3330.8L1111.5 3330.9L1113.0 3331.0L1114.5 3331.3L1116.0 3331.5L1117.5 3331.6L1119.0 3331.6L1120.5 3331.7L1122.0 3331.8L1123.5 3331.9L1125.0 3332.0L1126.5 3332.1L1128.0 3332.3L1129.5 3332.5L1131.0 3332.7L1132.5 3332.6L1134.0 3332.5L1135.5 3332.5L1137.0 3332.5L1138.5 3332.6L1140.0 3332.7L1141.5 3332.9L1143.0 3333.0L1144.5 3333.2L1146.0 3333.3L1147.5 3333.4L1149.0 3333.5L1150.5 3333.5L1152.0 3333.6L1153.5 3333.7L1155.0 3333.8L1156.5 3333.9L1158.0 3333.9L1159.5 3333.9L1161.0 3333.9L1162.5 3333.9L1164.0 3334.1L1165.5 3334.2L1167.0 3334.3L1168.5 3334.4L1170.0 3334.3L1171.5 3334.2L1173.0 3334.1L1174.5 3334.0L1176.0 3333.9L1177.5 3334.0L1179.0 3334.1L1180.5 3334.1L1182.0 3334.2L1183.5 3334.2L1185.0 3334.1L1186.5 3334.0L1188.0 3334.0L1189.5 3334.0L1191.0 3334.0L1192.5 3334.0L1194.0 3334.0L1195.5 3334.1L1197.0 3334.1L1198.6 3334.2L1200.1 3334.4L1201.6 3334.3L1203.1 3334.2L1204.6 3334.1L1206.1 3334.2L1207.6 3334.3L1209.1 3334.3L1210.6 3334.4L1212.1 3334.3L1213.6 3334.2L1215.1 3334.1L1216.6 3334.0L1218.1 3333.9L1219.6 3334.0L1221.1 3334.0L1222.6 3334.1L1224.1 3334.1L1225.6 3334.1L1227.1 3334.0L1228.6 3333.9L1230.1 3334.0L1231.6 3334.1L1233.1 3334.2L1234.6 3334.2L1236.1 3334.2L1237.6 3334.1L1239.1 3334.0L1240.6 3333.9L1242.1 3333.9L1243.6 3333.9L1245.1 3334.0L1246.6 3334.1L1248.1 3334.1L1249.6 3334.2L1251.1 3334.2L1252.6 3334.1L1254.1 3334.1L1255.6 3334.1L1257.1 3334.1L1258.6 3334.1L1260.1 3334.1L1261.6 3334.1L1263.1 3334.2L1264.6 3334.1L1266.1 3334.1L1267.6 3334.1L1269.1 3334.3L1270.6 3334.4L1272.1 3334.2L1273.6 3334.0L1275.1 3334.0L1276.6 3334.1L1278.1 3334.1L1279.6 3334.0L1281.1 3334.0L1282.6 3334.0L1284.1 3334.0L1285.6 3333.9L1287.1 3333.8L1288.6 3333.8L1290.1 3334.0L1291.6 3334.2L1293.1 3334.2L1294.6 3334.2L1296.1 3334.3L1297.6 3334.3L1299.1 3334.4L1300.7 3334.4L1302.2 3334.4L1303.7 3334.3L1305.2 3334.2L1306.7 3334.1L1308.2 3334.0L1309.7 3334.0L1311.2 3334.1L1312.7 3334.2L1314.2 3334.2L1315.7 3334.3L1317.2 3334.3L1318.7 3334.3L1320.2 3334.2L1321.7 3334.1L1323.2 3334.0L1324.7 3334.2L1326.2 3334.3L1327.7 3334.2L1329.2 3334.1L1330.7 3334.1L1332.2 3334.2L1333.7 3334.3L1335.2 3334.3L1336.7 3334.3L1338.2 3334.3L1339.7 3334.3L1341.2 3334.3L1342.7 3334.2L1344.2 3334.2L1345.7 3334.1L1347.2 3334.0L1348.7 3333.9L1350.2 3333.9L1351.7 3333.9L1353.2 3334.1L1354.7 3334.2L1356.2 3334.2L1357.7 3334.2L1359.2 3334.2L1360.7 3334.2L1362.2 3334.2L1363.7 3334.1L1365.2 3334.0L1366.7 3334.1L1368.2 3334.2L1369.7 3334.2L1371.2 3334.2" stroke="#FF0000"/>
<path d="M140.0 3289.5L141.5 3289.4L143.0 3289.4L144.5 3289.3L146.0 3289.3L147.5 3289.3L149.0 3289.3L150.5 3289.2L152.0 3289.0L153.5 3288.9L155.0 3288.9L156.5 3289.1L158.0 3289.2L159.5 3289.3L161.0 3289.4L162.5 3289.3L164.0 3289.1L165.5 3289.1L167.0 3289.2L168.5 3289.3L170.0 3289.4L171.5 3289.5L173.0 3289.4L174.5 3289.3L176.0 3289.2L177.5 3289.1L179.0 3289.0L180.5 3288.8L182.0 3288.6L183.5 3288.8L185.0 3288.9L186.5 3289.0L188.0 3289.1L189.5 3289.1L191.1 3289.1L192.6 3289.1L194.1 3289.1L195.6 3289.1L197.1 3289.1L198.6 3289.1L200.1 3289.1L201.6 3289.3L203.1 3289.5L204.6 3289.3L206.1 3289.1L207.6 3289.1L209.1 3289.2L210.6 3289.2L212.1 3289.1L213.6 3289.0L215.1 3289.0L216.6 3288.9L218.1 3289.0L219.6 3289.1L221.1 3289.2L222.6 3289.1L224.1 3289.0L225.6 3288.9L227.1 3288.9L228.6 3288.9L230.1 3289.0L231.6 3289.0L233.1 3288.9L234.6 3288.9L236.1 3289.0L237.6 3289.1L239.1 3289.1L240.6 3289.2L242.1 3289.2L243.6 3289.2L245.1 3289.2L246.6 3289.2L248.1 3289.2L249.6 3289.1L251.1 3288.9L252.6 3288.9L254.1 3288.9L255.6 3289.0L257.1 3289.2L258.6 3289.4L260.1 3289.2L261.6 3288.9L263.1 3288.8L264.6 3289.0L266.1 3289.2L267.6 3289.2L269.1 3289.2L270.6 3289.1L272.1 3289.0L273.6 3288.9L275.1 3288.9L276.6 3288.9L278.1 3289.0L279.6 3289.1L281.1 3289.2L282.6 3289.1L284.1 3289.1L285.6 3289.0L287.1 3289.0L288.6 3288.9L290.1 3288.9L291.7 3289.1L293.2 3289.3L294.7 3289.4L296.2 3289.4L297.7 3289.3L299.2 3289.3L300.7 3289.3L302.2 3289.3L303.7 3289.2L305.2 3289.2L306.7 3289.1L308.2 3289.0L309.7 3289.0L311.2 3289.0L312.7 3289.2L314.2 3289.4L315.7 3289.5L317.2 3289.4L318.7 3289.3L320.2 3289.4L321.7 3289.5L323.2 3289.4L324.7 3289.2L326.2 3289.2L327.7 3289.4L329.2 3289.5L330.7 3289.4L332.2 3289.4L333.7 3289.4L335.2 3289.3L336.7 3289.2L338.2 3289.0L339.7 3288.9L341.2 3288.9L342.7 3289.0L344.2 3289.1L345.7 3289.1L347.2 3289.2L348.7 3289.2L350.2 3289.3L351.7 3289.2L353.2 3289.2L354.7 3289.1L356.2 3289.1L357.7 3289.1L359.2 3289.2L360.7 3289.3L362.2 3289.2L363.7 3289.0L365.2 3289.0L366.7 3289.1L368.2 3289.1L369.7 3289.1L371.2 3289.0L372.7 3288.9L374.2 3288.8L375.7 3288.9L377.2 3289.1L378.7 3289.1L380.2 3289.1L381.7 3289.0L383.2 3288.9L384.7 3288.9L386.2 3289.0L387.7 3289.1L389.2 3289.1L390.7 3289.1L392.3 3289.1L393.8 3289.1L395.3 3289.1L396.8 3289.2L398.3 3289.2L399.8 3289.2L401.3 3289.2L402.8 3289.1L404.3 3289.0L405.8 3288.8L407.3 3288.8L408.8 3288.8L410.3 3288.9L411.8 3289.0L413.3 3289.2L414.8 3289.3L416.3 3289.4L417.8 3289.3L419.3 3289.1L420.8 3289.1L422.3 3289.1L423.8 3289.1L425.3 3289.2L426.8 3289.2L428.3 3289.2L429.8 3289.1L431.3 3289.1L432.8 3289.1L434.3 3289.1L435.8 3289.0L437.3 3289.0L438.8 3288.9L440.3 3288.9L441.8 3288.9L443.3 3289.1L444.8 3289.2L446.3 3289.1L447.8 3289.1L449.3 3289.1L450.8 3289.1L452.3 3289.0L453.8 3289.0L455.3 3288.9L456.8 3289.0L458.3 3289.0L459.8 3289.2L461.3 3289.4L462.8 3289.4L464.3 3289.3L465.8 3289.1L467.3 3288.8L468.8 3288.4L470.3 3288.7L471.8 3289.0L473.3 3289.1L474.8 3289.2L476.3 3289.1L477.8 3289.1L479.3 3289.0L480.8 3289.0L482.3 3289.0L483.8 3289.0L485.3 3289.0L486.8 3289.0L488.3 3289.1L489.8 3289.1L491.3 3289.1L492.9 3289.0L494.4 3288.9L495.9 3288.8L497.4 3288.8L498.9 3289.0L500.4 3289.2L501.9 3289.1L503.4 3288.9L504.9 3288.9L506.4 3289.1L507.9 3289.2L509.4 3289.2L510.9 3289.2L512.4 3289.3L513.9 3289.3L515.4 3289.2L516.9 3289.1L518.4 3289.1L519.9 3289.1L521.4 3289.1L522.9 3289.2L524.4 3289.2L525.9 3289.2L527.4 3289.1L528.9 3289.1L530.4 3289.2L531.9 3289.2L533.4 3289.2L534.9 3289.2L536.4 3289.2L537.9 3289.3L539.4 3289.4L540.9 3289.2L542.4 3289.1L543.9 3289.1L545.4 3289.2L546.9 3289.2L548.4 3289.1L549.9 3289.0L551.4 3289.1L552.9 3289.1L554.4 3289.0L555.9 3288.9L557.4 3288.9L558.9 3288.9L560.4 3289.0L561.9 3289.1L563.4 3289.2L564.9 3289.1L566.4 3289.0L567.9 3289.0L569.4 3289.2L570.9 3289.3L572.4 3289.2L573.9 3289.1L575.4 3289.1L576.9 3289.1L578.4 3289.0L579.9 3289.0L581.4 3289.0L582.9 3288.9L584.4 3288.9L585.9 3289.0L587.4 3289.1L588.9 3289.1L590.4 3289.1L591.9 3289.0L593.4 3289.0L595.0 3288.9L596.5 3288.9L598.0 3288.8L599.5 3288.9L601.0 3289.0L602.5 3289.1L604.0 3289.0L605.5 3289.0L607.0 3288.9L608.5 3288.8L610.0 3288.8L611.5 3288.9L613.0 3289.0L614.5 3289.0L616.0 3289.1L617.5 3289.0L619.0 3288.9L620.5 3288.9L622.0 3288.9L623.5 3288.9L625.0 3288.7L626.5 3288.5L628.0 3288.6L629.5 3288.6L631.0 3288.6L632.5 3288.7L634.0 3288.7L635.5 3288.7L637.0 3288.7L638.5 3288.7L640.0 3288.8L641.5 3288.7L643.0 3288.5L644.5 3288.4L646.0 3288.4L647.5 3288.4L649.0 3288.5L650.5 3288.5L652.0 3288.5L653.5 3288.5L655.0 3288.5L656.5 3288.5L658.0 3288.5L659.5 3288.5L661.0 3288.5L662.5 3288.5L664.0 3288.6L665.5 3288.6L667.0 3288.5L668.5 3288.4L670.0 3288.4L671.5 3288.3L673.0 3288.3L674.5 3288.3L676.0 3288.2L677.5 3288.1L679.0 3288.0L680.5 3288.0L682.0 3288.0L683.5 3288.0L685.0 3288.0L686.5 3288.0L688.0 3288.0L689.5 3287.9L691.0 3287.9L692.5 3287.9L694.0 3287.8L695.6 3287.6L697.1 3287.5L698.6 3287.9L700.1 3288.2L701.6 3288.0L703.1 3287.8L704.6 3287.9L706.1 3288.0L707.6 3288.0L709.1 3287.8L710.6 3287.6L712.1 3287.4L713.6 3287.3L715.1 3287.3L716.6 3287.4L718.1 3287.4L719.6 3287.3L721.1 3287.1L722.6 3287.2L724.1 3287.3L725.6 3287.4L727.1 3287.5L728.6 3287.5L730.1 3287.4L731.6 3287.3L733.1 3287.1L734.6 3286.9L736.1 3287.0L737.6 3287.2L739.1 3287.3L740.6 3287.4L742.1 3287.4L743.6 3287.4L745.1 3287.4L746.6 3287.3L748.1 3287.2L749.6 3287.1L751.1 3287.0L752.6 3286.9L754.1 3287.0L755.6 3287.1L757.1 3287.1L758.6 3287.0L760.1 3286.9L761.6 3286.6L763.1 3286.4L764.6 3286.6L766.1 3286.7L767.6 3286.7L769.1 3286.7L770.6 3286.6L772.1 3286.5L773.6 3286.4L775.1 3286.5L776.6 3286.6L778.1 3286.5L779.6 3286.3L781.1 3286.2L782.6 3286.2L784.1 3286.3L785.6 3286.3L787.1 3286.4L788.6 3286.4L790.1 3286.4L791.6 3286.4L793.1 3286.4L794.6 3286.4L796.2 3286.3L797.7 3286.2L799.2 3286.4L800.7 3286.7L802.2 3287.0L803.7 3287.2L805.2 3287.4L806.7 3287.5L808.2 3287.6L809.7 3287.7L811.2 3287.9L812.7 3288.0L814.2 3288.0L815.7 3288.0L817.2 3288.0L818.7 3287.9L820.2 3287.9L821.7 3287.8L823.2 3287.8L824.7 3287.6L826.2 3287.5L827.7 3287.3L829.2 3287.1L830.7 3286.8L832.2 3286.6L833.7 3286.5L835.2 3286.6L836.7 3286.6L838.2 3286.3L839.7 3286.1L841.2 3286.1L842.7 3286.2L844.2 3286.1L845.7 3285.9L847.2 3285.7L848.7 3285.3L850.2 3284.8L851.7 3284.7L853.2 3284.5L854.7 3284.4L856.2 3284.3L857.7 3284.2L859.2 3284.0L860.7 3283.8L862.2 3283.7L863.7 3283.6L865.2 3283.4L866.7 3283.2L868.2 3282.9L869.7 3282.5L871.2 3282.2L872.7 3282.1L874.2 3282.1L875.7 3282.0L877.2 3281.7L878.7 3281.4L880.2 3281.0L881.7 3280.7L883.2 3280.5L884.7 3280.3L886.2 3280.2L887.7 3280.1L889.2 3280.0L890.7 3279.9L892.2 3279.8L893.7 3279.9L895.2 3280.0L896.8 3280.2L898.3 3280.4L899.8 3280.7L901.3 3281.4L902.8 3282.0L904.3 3282.6L905.8 3283.1L907.3 3283.7L908.8 3284.3L910.3 3284.9L911.8 3285.5L913.3 3286.1L914.8 3286.4L916.3 3286.6L917.8 3286.8L919.3 3287.0L920.8 3287.2L922.3 3287.5L923.8 3287.7L925.3 3287.8L926.8 3287.7L928.3 3287.9L929.8 3288.2L931.3 3288.4L932.8 3288.2L934.3 3288.0L935.8 3288.0L937.3 3287.9L938.8 3287.9L940.3 3287.8L941.8 3287.8L943.3 3287.9L944.8 3287.9L946.3 3287.7L947.8 3287.5L949.3 3287.3L950.8 3287.1L952.3 3287.0L953.8 3287.2L955.3 3287.5L956.8 3287.4L958.3 3287.4L959.8 3287.4L961.3 3287.4L962.8 3287.4L964.3 3287.4L965.8 3287.5L967.3 3287.5L968.8 3287.6L970.3 3287.8L971.8 3288.0L973.3 3288.2L974.8 3288.2L976.3 3288.3L977.8 3288.4L979.3 3288.5L980.8 3288.4L982.3 3288.2L983.8 3288.0L985.3 3288.0L986.8 3288.0L988.3 3288.0L989.8 3288.0L991.3 3287.9L992.8 3287.8L994.3 3287.7L995.8 3287.4L997.4 3287.1L998.9 3287.0L1000.4 3286.8L1001.9 3286.5L1003.4 3286.0L1004.9 3285.5L1006.4 3285.2L1007.9 3284.9L1009.4 3284.1L1010.9 3283.1L1012.4 3282.2L1013.9 3281.1L1015.4 3279.6L1016.9 3277.8L1018.4 3275.9L1019.9 3273.8L1021.4 3271.9L1022.9 3269.9L1024.4 3267.8L1025.9 3265.6L1027.4 3263.4L1028.9 3261.3L1030.4 3259.2L1031.9 3257.4L1033.4 3255.6L1034.9 3253.8L1036.4 3252.2L1037.9 3250.9L1039.4 3250.1L1040.9 3249.5L1042.4 3249.1L1043.9 3248.9L1045.4 3249.0L1046.9 3249.7L1048.4 3250.8L1049.9 3252.1L1051.4 3253.3L1052.9 3254.2L1054.4 3254.8L1055.9 3255.4L1057.4 3255.9L1058.9 3256.5L1060.4 3257.0L1061.9 3257.1L1063.4 3257.3L1064.9 3257.8L1066.4 3258.5L1067.9 3259.2L1069.4 3259.8L1070.9 3260.3L1072.4 3260.8L1073.9 3261.2L1075.4 3261.5L1076.9 3261.8L1078.4 3262.0L1079.9 3262.1L1081.4 3262.3L1082.9 3262.3L1084.4 3262.4L1085.9 3262.4L1087.4 3262.5L1088.9 3262.6L1090.4 3262.7L1091.9 3262.7L1093.4 3262.9L1094.9 3263.0L1096.4 3263.3L1098.0 3263.7L1099.5 3263.9L1101.0 3263.9L1102.5 3264.0L1104.0 3264.2L1105.5 3264.5L1107.0 3264.8L1108.5 3265.2L1110.0 3265.6L1111.5 3266.0L1113.0 3266.4L1114.5 3266.9L1116.0 3267.3L1117.5 3267.8L1119.0 3268.1L1120.5 3268.6L1122.0 3269.4L1123.5 3270.2L1125.0 3270.6L1126.5 3271.0L1128.0 3271.7L1129.5 3272.5L1131.0 3273.2L1132.5 3273.8L1134.0 3274.4L1135.5 3275.1L1137.0 3275.7L1138.5 3276.3L1140.0 3276.8L1141.5 3277.3L1143.0 3277.9L1144.5 3278.6L1146.0 3279.0L1147.5 3279.5L1149.0 3279.9L1150.5 3280.3L1152.0 3280.7L1153.5 3281.2L1155.0 3281.6L1156.5 3281.9L1158.0 3282.2L1159.5 3282.5L1161.0 3282.7L1162.5 3283.0L1164.0 3283.4L1165.5 3283.7L1167.0 3284.1L1168.5 3284.5L1170.0 3284.7L1171.5 3284.8L1173.0 3284.9L1174.5 3285.0L1176.0 3285.1L1177.5 3285.2L1179.0 3285.2L1180.5 3285.4L1182.0 3285.5L1183.5 3285.6L1185.0 3285.5L1186.5 3285.5L1188.0 3285.7L1189.5 3285.9L1191.0 3286.0L1192.5 3286.0L1194.0 3286.1L1195.5 3286.3L1197.0 3286.5L1198.6 3286.5L1200.1 3286.5L1201.6 3286.5L1203.1 3286.5L1204.6 3286.4L1206.1 3286.2L1207.6 3285.9L1209.1 3286.1L1210.6 3286.2L1212.1 3286.3L1213.6 3286.4L1215.1 3286.4L1216.6 3286.3L1218.1 3286.2L1219.6 3286.3L1221.1 3286.3L1222.6 3286.2L1224.1 3286.0L1225.6 3286.0L1227.1 3286.1L1228.6 3286.1L1230.1 3286.1L1231.6 3286.2L1233.1 3286.0L1234.6 3285.8L1236.1 3285.8L1237.6 3285.9L1239.1 3286.1L1240.6 3286.0L1242.1 3285.8L1243.6 3285.8L1245.1 3285.7L1246.6 3285.7L1248.1 3285.7L1249.6 3285.7L1251.1 3285.5L1252.6 3285.4L1254.1 3285.3L1255.6 3285.2L1257.1 3285.0L1258.6 3284.8L1260.1 3284.6L1261.6 3284.7L1263.1 3284.7L1264.6 3284.5L1266.1 3284.3L1267.6 3284.0L1269.1 3283.7L1270.6 3283.5L1272.1 3283.4L1273.6 3283.4L1275.1 3283.3L1276.6 3283.3L1278.1 3283.2L1279.6 3283.3L1281.1 3283.4L1282.6 3283.5L1284.1 3283.7L1285.6 3283.9L1287.1 3284.0L1288.6 3284.2L1290.1 3284.3L1291.6 3284.5L1293.1 3284.8L1294.6 3285.2L1296.1 3285.2L1297.6 3285.1L1299.1 3285.1L1300.7 3285.4L1302.2 3285.5L1303.7 3285.5L1305.2 3285.4L1306.7 3285.5L1308.2 3285.7L1309.7 3285.8L1311.2 3285.7L1312.7 3285.7L1314.2 3285.9L1315.7 3286.1L1317.2 3286.3L1318.7 3286.4L1320.2 3286.4L1321.7 3286.1L1323.2 3285.9L1324.7 3286.3L1326.2 3286.6L1327.7 3286.7L1329.2 3286.6L1330.7 3286.8L1332.2 3287.2L1333.7 3287.6L1335.2 3287.7L1336.7 3287.8L1338.2 3287.8L1339.7 3287.7L1341.2 3287.7L1342.7 3287.6L1344.2 3287.6L1345.7 3287.6L1347.2 3287.6L1348.7 3287.6L1350.2 3287.5L1351.7 3287.5L1353.2 3287.5L1354.7 3287.4L1356.2 3287.3L1357.7 3287.1L1359.2 3287.2L1360.7 3287.2L1362.2 3287.2L1363.7 3287.0L1365.2 3286.9L1366.7 3286.9L1368.2 3286.9L1369.7 3286.7L1371.2 3286.3" stroke="#0000FF"/>
<path d="M140.0 3232.2L141.5 3232.3L143.0 3232.4L144.5 3232.6L146.0 3232.8L147.5 3232.8L149.0 3232.4L150.5 3232.1L152.0 3232.1L153.5 3232.2L155.0 3232.2L156.5 3232.2L158.0 3232.2L159.5 3232.3L161.0 3232.4L162.5 3232.5L164.0 3232.5L165.5 3232.5L167.0 3232.4L168.5 3232.3L170.0 3232.1L171.5 3232.0L173.0 3232.1L174.5 3232.2L176.0 3232.2L177.5 3232.1L179.0 3232.2L180.5 3232.4L182.0 3232.5L183.5 3232.4L185.0 3232.2L186.5 3232.1L188.0 3232.2L189.5 3232.2L191.1 3232.2L192.6 3232.3L194.1 3232.4L195.6 3232.4L197.1 3232.4L198.6 3232.3L200.1 3232.3L201.6 3232.4L203.1 3232.5L204.6 3232.3L206.1 3232.2L207.6 3232.3L209.1 3232.5L210.6 3232.6L212.1 3232.4L213.6 3232.2L215.1 3232.3L216.6 3232.3L218.1 3232.3L219.6 3232.3L221.1 3232.3L222.6 3232.2L224.1 3232.2L225.6 3232.1L227.1 3232.0L228.6 3232.1L230.1 3232.2L231.6 3232.4L233.1 3232.5L234.6 3232.6L236.1 3232.5L237.6 3232.5L239.1 3232.4L240.6 3232.3L242.1 3232.2L243.6 3232.3L245.1 3232.3L246.6 3232.3L248.1 3232.3L249.6 3232.3L251.1 3232.2L252.6 3232.2L254.1 3232.3L255.6 3232.4L257.1 3232.4L258.6 3232.3L260.1 3232.3L261.6 3232.2L263.1 3232.3L264.6 3232.4L266.1 3232.5L267.6 3232.5L269.1 3232.6L270.6 3232.6L272.1 3232.5L273.6 3232.4L275.1 3232.3L276.6 3232.1L278.1 3232.2L279.6 3232.2L281.1 3232.3L282.6 3232.3L284.1 3232.3L285.6 3232.1L287.1 3231.9L288.6 3232.0L290.1 3232.1L291.7 3232.1L293.2 3232.1L294.7 3232.0L296.2 3232.0L297.7 3231.9L299.2 3232.1L300.7 3232.3L302.2 3232.4L303.7 3232.4L305.2 3232.3L306.7 3232.3L308.2 3232.3L309.7 3232.4L311.2 3232.5L312.7 3232.5L314.2 3232.4L315.7 3232.3L317.2 3232.1L318.7 3232.0L320.2 3232.1L321.7 3232.2L323.2 3232.2L324.7 3232.3L326.2 3232.3L327.7 3232.4L329.2 3232.5L330.7 3232.4L332.2 3232.2L333.7 3232.5L335.2 3232.8L336.7 3232.8L338.2 3232.4L339.7 3232.1L341.2 3232.5L342.7 3232.8L344.2 3232.8L345.7 3232.6L347.2 3232.5L348.7 3232.7L350.2 3232.8L351.7 3232.6L353.2 3232.3L354.7 3232.3L356.2 3232.3L357.7 3232.4L359.2 3232.4L360.7 3232.4L362.2 3232.4L363.7 3232.3L365.2 3232.3L366.7 3232.2L368.2 3232.2L369.7 3232.2L371.2 3232.2L372.7 3232.3L374.2 3232.4L375.7 3232.4L377.2 3232.5L378.7 3232.5L380.2 3232.5L381.7 3232.5L383.2 3232.5L384.7 3232.6L386.2 3232.5L387.7 3232.3L389.2 3232.3L390.7 3232.3L392.3 3232.3L393.8 3232.3L395.3 3232.3L396.8 3232.2L398.3 3232.2L399.8 3232.1L401.3 3232.0L402.8 3232.0L404.3 3232.1L405.8 3232.3L407.3 3232.3L408.8 3232.3L410.3 3232.3L411.8 3232.2L413.3 3232.1L414.8 3232.3L416.3 3232.5L417.8 3232.4L419.3 3232.2L420.8 3232.2L422.3 3232.3L423.8 3232.4L425.3 3232.5L426.8 3232.6L428.3 3232.5L429.8 3232.3L431.3 3232.2L432.8 3232.2L434.3 3232.1L435.8 3232.1L437.3 3232.2L438.8 3232.3L440.3 3232.4L441.8 3232.4L443.3 3232.4L444.8 3232.5L446.3 3232.6L447.8 3232.7L449.3 3232.4L450.8 3232.2L452.3 3232.2L453.8 3232.5L455.3 3232.7L456.8 3232.7L458.3 3232.7L459.8 3232.7L461.3 3232.8L462.8 3232.7L464.3 3232.5L465.8 3232.3L467.3 3232.3L468.8 3232.4L470.3 3232.4L471.8 3232.4L473.3 3232.4L474.8 3232.5L476.3 3232.6L477.8 3232.4L479.3 3232.3L480.8 3232.3L482.3 3232.3L483.8 3232.4L485.3 3232.6L486.8 3232.7L488.3 3232.5L489.8 3232.3L491.3 3232.3L492.9 3232.3L494.4 3232.3L495.9 3232.3L497.4 3232.3L498.9 3232.2L500.4 3232.1L501.9 3232.1L503.4 3232.0L504.9 3232.1L506.4 3232.3L507.9 3232.5L509.4 3232.5L510.9 3232.5L512.4 3232.5L513.9 3232.4L515.4 3232.3L516.9 3232.3L518.4 3232.2L519.9 3232.3L521.4 3232.3L522.9 3232.3L524.4 3232.3L525.9 3232.2L527.4 3232.2L528.9 3232.2L530.4 3232.3L531.9 3232.3L533.4 3232.4L534.9 3232.5L536.4 3232.5L537.9 3232.3L539.4 3232.2L540.9 3232.2L542.4 3232.3L543.9 3232.4L545.4 3232.6L546.9 3232.5L548.4 3232.3L549.9 3232.1L551.4 3232.2L552.9 3232.3L554.4 3232.3L555.9 3232.2L557.4 3232.2L558.9 3232.2L560.4 3232.3L561.9 3232.4L563.4 3232.6L564.9 3232.5L566.4 3232.3L567.9 3232.2L569.4 3232.2L570.9 3232.2L572.4 3232.3L573.9 3232.5L575.4 3232.6L576.9 3232.7L578.4 3232.7L579.9 3232.7L581.4 3232.6L582.9 3232.5L584.4 3232.5L585.9 3232.4L587.4 3232.3L588.9 3232.4L590.4 3232.5L591.9 3232.6L593.4 3232.5L595.0 3232.3L596.5 3232.5L598.0 3232.7L599.5 3232.7L601.0 3232.6L602.5 3232.5L604.0 3232.6L605.5 3232.6L607.0 3232.6L608.5 3232.6L610.0 3232.7L611.5 3232.7L613.0 3232.7L614.5 3232.8L616.0 3232.9L617.5 3232.8L619.0 3232.7L620.5 3232.7L622.0 3232.8L623.5 3232.8L625.0 3232.8L626.5 3232.8L628.0 3232.8L629.5 3232.8L631.0 3232.7L632.5 3232.4L634.0 3232.4L635.5 3232.6L637.0 3232.9L638.5 3232.7L640.0 3232.5L641.5 3232.5L643.0 3232.5L644.5 3232.6L646.0 3232.7L647.5 3232.8L649.0 3232.8L650.5 3232.8L652.0 3232.8L653.5 3232.6L655.0 3232.5L656.5 3232.4L658.0 3232.3L659.5 3232.4L661.0 3232.5L662.5 3232.4L664.0 3232.4L665.5 3232.3L667.0 3232.2L668.5 3232.1L670.0 3232.2L671.5 3232.3L673.0 3232.2L674.5 3232.0L676.0 3231.9L677.5 3232.0L679.0 3232.0L680.5 3232.0L682.0 3231.9L683.5 3232.0L685.0 3232.1L686.5 3232.0L688.0 3231.7L689.5 3231.4L691.0 3231.6L692.5 3231.8L694.0 3231.8L695.6 3231.7L697.1 3231.5L698.6 3231.5L700.1 3231.4L701.6 3231.4L703.1 3231.5L704.6 3231.3L706.1 3231.1L707.6 3230.9L709.1 3231.0L710.6 3231.0L712.1 3231.0L713.6 3231.0L715.1 3231.0L716.6 3230.9L718.1 3230.7L719.6 3230.2L721.1 3229.8L722.6 3229.7L724.1 3229.6L725.6 3229.3L727.1 3229.0L728.6 3228.7L730.1 3228.5L731.6 3228.3L733.1 3228.1L734.6 3227.9L736.1 3227.5L737.6 3227.0L739.1 3226.8L740.6 3226.8L742.1 3226.9L743.6 3226.7L745.1 3226.6L746.6 3226.4L748.1 3226.3L749.6 3226.1L751.1 3225.8L752.6 3225.6L754.1 3225.6L755.6 3225.6L757.1 3225.5L758.6 3225.5L760.1 3225.4L761.6 3225.2L763.1 3225.1L764.6 3224.9L766.1 3224.8L767.6 3224.7L769.1 3224.7L770.6 3224.7L772.1 3224.6L773.6 3224.6L775.1 3224.5L776.6 3224.4L778.1 3224.5L779.6 3224.6L781.1 3224.6L782.6 3224.4L784.1 3224.2L785.6 3224.3L787.1 3224.3L788.6 3224.5L790.1 3224.6L791.6 3224.8L793.1 3225.0L794.6 3225.2L796.2 3225.5L797.7 3225.8L799.2 3226.0L800.7 3226.3L802.2 3226.5L803.7 3226.6L805.2 3226.7L806.7 3227.1L808.2 3227.4L809.7 3227.5L811.2 3227.6L812.7 3227.7L814.2 3227.8L815.7 3227.9L817.2 3228.1L818.7 3228.3L820.2 3228.3L821.7 3228.2L823.2 3227.9L824.7 3227.5L826.2 3227.0L827.7 3226.7L829.2 3226.5L830.7 3226.3L832.2 3226.1L833.7 3225.9L835.2 3225.6L836.7 3225.3L838.2 3224.9L839.7 3224.5L841.2 3224.2L842.7 3223.9L844.2 3223.5L845.7 3223.2L847.2 3222.9L848.7 3222.6L850.2 3222.4L851.7 3222.2L853.2 3222.1L854.7 3222.0L856.2 3221.9L857.7 3221.7L859.2 3221.3L860.7 3220.9L862.2 3220.7L863.7 3220.5L865.2 3220.2L866.7 3219.6L868.2 3219.1L869.7 3218.5L871.2 3218.0L872.7 3217.7L874.2 3217.4L875.7 3217.2L877.2 3217.1L878.7 3216.9L880.2 3216.6L881.7 3216.2L883.2 3216.1L884.7 3215.9L886.2 3215.9L887.7 3215.9L889.2 3215.9L890.7 3215.8L892.2 3215.8L893.7 3216.2L895.2 3216.9L896.8 3217.8L898.3 3218.8L899.8 3219.8L901.3 3220.8L902.8 3221.9L904.3 3223.0L905.8 3224.0L907.3 3225.0L908.8 3225.8L910.3 3226.5L911.8 3227.0L913.3 3227.5L914.8 3227.9L916.3 3228.4L917.8 3228.8L919.3 3229.1L920.8 3229.3L922.3 3229.4L923.8 3229.3L925.3 3229.3L926.8 3229.3L928.3 3229.3L929.8 3229.1L931.3 3229.0L932.8 3229.1L934.3 3229.3L935.8 3229.3L937.3 3229.4L938.8 3229.4L940.3 3229.4L941.8 3229.3L943.3 3229.3L944.8 3229.2L946.3 3229.1L947.8 3228.9L949.3 3228.9L950.8 3228.9L952.3 3228.9L953.8 3228.6L955.3 3228.3L956.8 3228.3L958.3 3228.3L959.8 3228.2L961.3 3227.9L962.8 3227.8L964.3 3228.0L965.8 3228.2L967.3 3228.4L968.8 3228.6L970.3 3228.8L971.8 3229.0L973.3 3229.1L974.8 3229.1L976.3 3229.1L977.8 3229.2L979.3 3229.2L980.8 3229.1L982.3 3228.8L983.8 3228.6L985.3 3228.8L986.8 3228.9L988.3 3228.8L989.8 3228.6L991.3 3228.6L992.8 3228.8L994.3 3228.8L995.8 3228.6L997.4 3228.4L998.9 3227.8L1000.4 3227.2L1001.9 3226.4L1003.4 3225.5L1004.9 3224.6L1006.4 3223.9L1007.9 3223.0L1009.4 3221.2L1010.9 3219.0L1012.4 3216.8L1013.9 3214.5L1015.4 3211.8L1016.9 3208.7L1018.4 3204.2L1019.9 3198.8L1021.4 3192.9L1022.9 3187.0L1024.4 3181.5L1025.9 3175.9L1027.4 3170.0L1028.9 3164.4L1030.4 3159.6L1031.9 3156.0L1033.4 3152.5L1034.9 3149.2L1036.4 3146.3L1037.9 3144.0L1039.4 3142.5L1040.9 3141.9L1042.4 3141.5L1043.9 3141.4L1045.4 3141.6L1046.9 3142.8L1048.4 3144.3L1049.9 3145.9L1051.4 3147.6L1052.9 3149.2L1054.4 3150.8L1055.9 3152.3L1057.4 3153.8L1058.9 3155.2L1060.4 3156.6L1061.9 3158.0L1063.4 3159.4L1064.9 3160.8L1066.4 3162.1L1067.9 3163.4L1069.4 3164.6L1070.9 3165.7L1072.4 3166.8L1073.9 3167.9L1075.4 3169.0L1076.9 3169.9L1078.4 3170.8L1079.9 3171.6L1081.4 3172.2L1082.9 3172.4L1084.4 3172.5L1085.9 3172.7L1087.4 3172.9L1088.9 3173.1L1090.4 3173.3L1091.9 3173.5L1093.4 3173.7L1094.9 3173.9L1096.4 3174.4L1098.0 3175.1L1099.5 3175.9L1101.0 3176.8L1102.5 3177.7L1104.0 3178.7L1105.5 3179.6L1107.0 3180.4L1108.5 3181.2L1110.0 3182.1L1111.5 3182.9L1113.0 3183.9L1114.5 3185.1L1116.0 3186.4L1117.5 3187.3L1119.0 3188.2L1120.5 3189.2L1122.0 3190.6L1123.5 3192.1L1125.0 3193.5L1126.5 3194.9L1128.0 3196.1L1129.5 3197.2L1131.0 3198.2L1132.5 3199.2L1134.0 3200.2L1135.5 3201.0L1137.0 3201.9L1138.5 3202.9L1140.0 3203.9L1141.5 3205.1L1143.0 3206.5L1144.5 3208.1L1146.0 3209.5L1147.5 3210.9L1149.0 3212.2L1150.5 3213.3L1152.0 3214.2L1153.5 3214.7L1155.0 3215.2L1156.5 3215.9L1158.0 3216.5L1159.5 3217.1L1161.0 3217.7L1162.5 3218.2L1164.0 3218.6L1165.5 3219.0L1167.0 3219.5L1168.5 3220.0L1170.0 3220.5L1171.5 3221.0L1173.0 3221.4L1174.5 3221.7L1176.0 3221.9L1177.5 3222.6L1179.0 3223.3L1180.5 3223.7L1182.0 3223.8L1183.5 3223.9L1185.0 3223.9L1186.5 3223.9L1188.0 3224.2L1189.5 3224.5L1191.0 3224.7L1192.5 3224.8L1194.0 3225.0L1195.5 3225.1L1197.0 3225.2L1198.6 3225.3L1200.1 3225.4L1201.6 3225.6L1203.1 3225.8L1204.6 3225.9L1206.1 3226.0L1207.6 3226.1L1209.1 3226.1L1210.6 3226.1L1212.1 3226.3L1213.6 3226.5L1215.1 3226.6L1216.6 3226.7L1218.1 3226.8L1219.6 3227.1L1221.1 3227.4L1222.6 3227.3L1224.1 3227.2L1225.6 3227.2L1227.1 3227.2L1228.6 3227.3L1230.1 3227.1L1231.6 3227.0L1233.1 3226.9L1234.6 3227.0L1236.1 3226.9L1237.6 3226.5L1239.1 3226.2L1240.6 3225.9L1242.1 3225.6L1243.6 3225.3L1245.1 3225.0L1246.6 3224.8L1248.1 3224.6L1249.6 3224.5L1251.1 3224.4L1252.6 3224.3L1254.1 3224.1L1255.6 3223.8L1257.1 3223.6L1258.6 3223.6L1260.1 3223.5L1261.6 3223.4L1263.1 3223.2L1264.6 3223.2L1266.1 3223.3L1267.6 3223.2L1269.1 3223.2L1270.6 3223.1L1272.1 3222.6L1273.6 3222.3L1275.1 3222.1L1276.6 3221.9L1278.1 3222.0L1279.6 3222.3L1281.1 3222.6L1282.6 3222.7L1284.1 3222.8L1285.6 3223.0L1287.1 3223.1L1288.6 3223.3L1290.1 3223.6L1291.6 3223.8L1293.1 3223.8L1294.6 3223.8L1296.1 3224.0L1297.6 3224.3L1299.1 3224.4L1300.7 3224.4L1302.2 3224.4L1303.7 3224.4L1305.2 3224.4L1306.7 3224.5L1308.2 3224.6L1309.7 3224.8L1311.2 3224.9L1312.7 3225.0L1314.2 3225.0L1315.7 3225.1L1317.2 3225.3L1318.7 3225.5L1320.2 3225.7L1321.7 3225.9L1323.2 3226.0L1324.7 3226.2L1326.2 3226.4L1327.7 3226.6L1329.2 3226.6L1330.7 3226.7L1332.2 3226.8L1333.7 3226.9L1335.2 3227.1L1336.7 3227.3L1338.2 3227.2L1339.7 3227.2L1341.2 3227.1L1342.7 3227.0L1344.2 3226.9L1345.7 3227.0L1347.2 3227.1L1348.7 3227.0L1350.2 3226.9L1351.7 3226.9L1353.2 3227.0L1354.7 3227.1L1356.2 3227.0L1357.7 3226.8L1359.2 3227.0L1360.7 3227.3L1362.2 3227.3L1363.7 3227.1L1365.2 3226.9L1366.7 3226.7L1368.2 3226.5L1369.7 3226.4L1371.2 3226.4" stroke="#008000"/>
<path d="M140.0 3176.9L141.5 3176.8L143.0 3176.7L144.5 3176.6L146.0 3176.6L147.5 3176.6L149.0 3176.6L150.5 3176.6L152.0 3176.6L153.5 3176.6L155.0 3176.6L156.5 3176.6L158.0 3176.6L159.5 3176.6L161.0 3176.6L162.5 3176.5L164.0 3176.4L165.5 3176.5L167.0 3176.5L168.5 3176.6L170.0 3176.5L171.5 3176.5L173.0 3176.5L174.5 3176.5L176.0 3176.4L177.5 3176.4L179.0 3176.4L180.5 3176.6L182.0 3176.8L183.5 3176.7L185.0 3176.5L186.5 3176.5L188.0 3176.5L189.5 3176.5L191.1 3176.6L192.6 3176.6L194.1 3176.6L195.6 3176.6L197.1 3176.5L198.6 3176.4L200.1 3176.4L201.6 3176.4L203.1 3176.4L204.6 3176.4L206.1 3176.5L207.6 3176.5L209.1 3176.6L210.6 3176.6L212.1 3176.5L213.6 3176.4L215.1 3176.4L216.6 3176.4L218.1 3176.4L219.6 3176.4L221.1 3176.4L222.6 3176.4L224.1 3176.4L225.6 3176.3L227.1 3176.1L228.6 3176.2L230.1 3176.5L231.6 3176.6L233.1 3176.6L234.6 3176.6L236.1 3176.5L237.6 3176.4L239.1 3176.4L240.6 3176.4L242.1 3176.5L243.6 3176.5L245.1 3176.6L246.6 3176.8L248.1 3176.9L249.6 3176.9L251.1 3176.7L252.6 3176.6L254.1 3176.5L255.6 3176.4L257.1 3176.3L258.6 3176.1L260.1 3176.2L261.6 3176.3L263.1 3176.4L264.6 3176.7L266.1 3176.9L267.6 3176.8L269.1 3176.6L270.6 3176.6L272.1 3176.5L273.6 3176.4L275.1 3176.5L276.6 3176.5L278.1 3176.5L279.6 3176.5L281.1 3176.5L282.6 3176.6L284.1 3176.6L285.6 3176.5L287.1 3176.4L288.6 3176.5L290.1 3176.6L291.7 3176.8L293.2 3176.9L294.7 3176.8L296.2 3176.7L297.7 3176.5L299.2 3176.4L300.7 3176.3L302.2 3176.4L303.7 3176.5L305.2 3176.5L306.7 3176.5L308.2 3176.4L309.7 3176.3L311.2 3176.1L312.7 3176.3L314.2 3176.5L315.7 3176.6L317.2 3176.5L318.7 3176.4L320.2 3176.4L321.7 3176.5L323.2 3176.4L324.7 3176.3L326.2 3176.4L327.7 3176.6L329.2 3176.7L330.7 3176.5L332.2 3176.2L333.7 3176.3L335.2 3176.3L336.7 3176.4L338.2 3176.3L339.7 3176.3L341.2 3176.4L342.7 3176.5L344.2 3176.4L345.7 3176.3L347.2 3176.3L348.7 3176.4L350.2 3176.5L351.7 3176.6L353.2 3176.7L354.7 3176.6L356.2 3176.5L357.7 3176.4L359.2 3176.5L360.7 3176.6L362.2 3176.4L363.7 3176.3L365.2 3176.2L366.7 3176.2L368.2 3176.2L369.7 3176.2L371.2 3176.2L372.7 3176.4L374.2 3176.6L375.7 3176.5L377.2 3176.3L378.7 3176.2L380.2 3176.3L381.7 3176.4L383.2 3176.5L384.7 3176.6L386.2 3176.6L387.7 3176.5L389.2 3176.5L390.7 3176.6L392.3 3176.6L393.8 3176.5L395.3 3176.4L396.8 3176.4L398.3 3176.4L399.8 3176.4L401.3 3176.4L402.8 3176.5L404.3 3176.6L405.8 3176.8L407.3 3176.7L408.8 3176.6L410.3 3176.6L411.8 3176.7L413.3 3176.7L414.8 3176.6L416.3 3176.5L417.8 3176.6L419.3 3176.7L420.8 3176.8L422.3 3176.8L423.8 3176.7L425.3 3176.5L426.8 3176.3L428.3 3176.4L429.8 3176.6L431.3 3176.5L432.8 3176.3L434.3 3176.2L435.8 3176.4L437.3 3176.6L438.8 3176.6L440.3 3176.6L441.8 3176.5L443.3 3176.4L444.8 3176.2L446.3 3176.3L447.8 3176.5L449.3 3176.4L450.8 3176.3L452.3 3176.2L453.8 3176.2L455.3 3176.2L456.8 3176.5L458.3 3176.7L459.8 3176.7L461.3 3176.6L462.8 3176.6L464.3 3176.5L465.8 3176.4L467.3 3176.3L468.8 3176.2L470.3 3176.3L471.8 3176.3L473.3 3176.4L474.8 3176.6L476.3 3176.7L477.8 3176.4L479.3 3176.2L480.8 3176.3L482.3 3176.3L483.8 3176.3L485.3 3176.3L486.8 3176.2L488.3 3176.2L489.8 3176.2L491.3 3176.3L492.9 3176.5L494.4 3176.5L495.9 3176.3L497.4 3176.2L498.9 3176.4L500.4 3176.5L501.9 3176.6L503.4 3176.6L504.9 3176.6L506.4 3176.6L507.9 3176.6L509.4 3176.5L510.9 3176.5L512.4 3176.4L513.9 3176.3L515.4 3176.3L516.9 3176.4L518.4 3176.4L519.9 3176.4L521.4 3176.4L522.9 3176.6L524.4 3176.8L525.9 3176.7L527.4 3176.5L528.9 3176.4L530.4 3176.4L531.9 3176.4L533.4 3176.3L534.9 3176.2L536.4 3176.2L537.9 3176.5L539.4 3176.6L540.9 3176.6L542.4 3176.6L543.9 3176.6L545.4 3176.6L546.9 3176.5L548.4 3176.3L549.9 3176.2L551.4 3176.4L552.9 3176.6L554.4 3176.6L555.9 3176.6L557.4 3176.5L558.9 3176.3L560.4 3176.3L561.9 3176.4L563.4 3176.6L564.9 3176.8L566.4 3176.9L567.9 3176.9L569.4 3176.7L570.9 3176.6L572.4 3176.5L573.9 3176.5L575.4 3176.5L576.9 3176.6L578.4 3176.6L579.9 3176.5L581.4 3176.5L582.9 3176.5L584.4 3176.6L585.9 3176.6L587.4 3176.7L588.9 3176.5L590.4 3176.3L591.9 3176.2L593.4 3176.4L595.0 3176.6L596.5 3176.5L598.0 3176.3L599.5 3176.3L601.0 3176.4L602.5 3176.3L604.0 3176.0L605.5 3175.7L607.0 3175.7L608.5 3175.8L610.0 3175.9L611.5 3176.1L613.0 3176.1L614.5 3175.8L616.0 3175.5L617.5 3175.4L619.0 3175.3L620.5 3175.3L622.0 3175.4L623.5 3175.4L625.0 3175.3L626.5 3175.2L628.0 3175.2L629.5 3175.2L631.0 3175.1L632.5 3174.9L634.0 3174.7L635.5 3174.6L637.0 3174.4L638.5 3174.4L640.0 3174.4L641.5 3174.3L643.0 3174.2L644.5 3174.0L646.0 3174.0L647.5 3173.9L649.0 3173.9L650.5 3173.9L652.0 3173.8L653.5 3173.8L655.0 3173.8L656.5 3173.8L658.0 3173.8L659.5 3173.5L661.0 3173.3L662.5 3173.2L664.0 3173.1L665.5 3173.1L667.0 3173.1L668.5 3173.0L670.0 3173.1L671.5 3173.1L673.0 3173.2L674.5 3173.3L676.0 3173.2L677.5 3172.9L679.0 3172.7L680.5 3172.7L682.0 3172.7L683.5 3172.6L685.0 3172.5L686.5 3172.4L688.0 3172.5L689.5 3172.5L691.0 3172.5L692.5 3172.5L694.0 3172.4L695.6 3172.3L697.1 3172.1L698.6 3171.9L700.1 3171.7L701.6 3171.6L703.1 3171.4L704.6 3171.2L706.1 3171.0L707.6 3170.9L709.1 3171.0L710.6 3171.1L712.1 3170.8L713.6 3170.5L715.1 3170.3L716.6 3170.1L718.1 3169.9L719.6 3169.7L721.1 3169.4L722.6 3169.2L724.1 3169.0L725.6 3168.8L727.1 3168.6L728.6 3168.4L730.1 3168.3L731.6 3168.1L733.1 3167.8L734.6 3167.5L736.1 3167.2L737.6 3166.9L739.1 3166.6L740.6 3166.4L742.1 3166.2L743.6 3165.9L745.1 3165.6L746.6 3165.3L748.1 3165.0L749.6 3164.8L751.1 3164.6L752.6 3164.4L754.1 3164.2L755.6 3163.9L757.1 3163.6L758.6 3163.3L760.1 3163.1L761.6 3162.9L763.1 3162.8L764.6 3162.8L766.1 3162.7L767.6 3162.6L769.1 3162.5L770.6 3162.4L772.1 3162.6L773.6 3162.7L775.1 3162.7L776.6 3162.8L778.1 3162.7L779.6 3162.6L781.1 3162.5L782.6 3162.5L784.1 3162.4L785.6 3162.5L787.1 3162.6L788.6 3162.8L790.1 3163.1L791.6 3163.3L793.1 3163.4L794.6 3163.6L796.2 3164.0L797.7 3164.5L799.2 3164.7L800.7 3164.8L802.2 3165.1L803.7 3165.6L805.2 3166.0L806.7 3166.2L808.2 3166.4L809.7 3166.6L811.2 3166.8L812.7 3167.0L814.2 3167.2L815.7 3167.4L817.2 3167.1L818.7 3166.6L820.2 3166.3L821.7 3166.0L823.2 3165.6L824.7 3165.3L826.2 3164.8L827.7 3164.1L829.2 3163.3L830.7 3162.8L832.2 3162.4L833.7 3162.0L835.2 3161.6L836.7 3161.2L838.2 3160.9L839.7 3160.5L841.2 3160.0L842.7 3159.5L844.2 3159.1L845.7 3158.7L847.2 3158.3L848.7 3157.8L850.2 3157.2L851.7 3156.5L853.2 3155.8L854.7 3155.0L856.2 3154.2L857.7 3153.4L859.2 3152.7L860.7 3152.0L862.2 3151.7L863.7 3151.6L865.2 3151.4L866.7 3151.1L868.2 3150.8L869.7 3150.5L871.2 3150.3L872.7 3149.9L874.2 3149.4L875.7 3149.2L877.2 3149.2L878.7 3149.1L880.2 3148.5L881.7 3147.9L883.2 3147.4L884.7 3147.0L886.2 3146.6L887.7 3146.2L889.2 3146.0L890.7 3146.3L892.2 3146.8L893.7 3147.6L895.2 3148.4L896.8 3149.5L898.3 3150.7L899.8 3152.2L901.3 3154.0L902.8 3155.8L904.3 3157.4L905.8 3159.0L907.3 3160.5L908.8 3161.9L910.3 3163.3L911.8 3164.6L913.3 3165.8L914.8 3166.7L916.3 3167.4L917.8 3168.0L919.3 3168.6L920.8 3169.1L922.3 3169.5L923.8 3169.7L925.3 3170.1L926.8 3170.3L928.3 3170.4L929.8 3170.3L931.3 3170.2L932.8 3170.0L934.3 3169.9L935.8 3169.7L937.3 3169.6L938.8 3169.3L940.3 3169.0L941.8 3168.8L943.3 3168.6L944.8 3168.5L946.3 3168.4L947.8 3168.2L949.3 3168.2L950.8 3168.3L952.3 3168.2L953.8 3168.0L955.3 3167.7L956.8 3167.8L958.3 3168.0L959.8 3168.1L961.3 3167.9L962.8 3168.0L964.3 3168.3L965.8 3168.7L967.3 3168.9L968.8 3169.0L970.3 3169.0L971.8 3169.0L973.3 3169.1L974.8 3169.5L976.3 3169.9L977.8 3169.9L979.3 3169.8L980.8 3170.0L982.3 3170.4L983.8 3170.9L985.3 3171.0L986.8 3171.2L988.3 3171.6L989.8 3172.0L991.3 3172.1L992.8 3171.9L994.3 3171.6L995.8 3171.1L997.4 3170.5L998.9 3169.9L1000.4 3169.3L1001.9 3168.5L1003.4 3167.7L1004.9 3166.4L1006.4 3164.5L1007.9 3162.2L1009.4 3159.4L1010.9 3156.4L1012.4 3153.0L1013.9 3148.9L1015.4 3143.6L1016.9 3137.4L1018.4 3130.7L1019.9 3123.5L1021.4 3115.8L1022.9 3107.2L1024.4 3098.3L1025.9 3089.7L1027.4 3081.9L1028.9 3075.1L1030.4 3068.1L1031.9 3061.4L1033.4 3055.6L1034.9 3051.0L1036.4 3047.1L1037.9 3043.1L1039.4 3040.0L1040.9 3038.5L1042.4 3038.9L1043.9 3040.0L1045.4 3041.3L1046.9 3042.8L1048.4 3044.7L1049.9 3046.8L1051.4 3048.7L1052.9 3050.6L1054.4 3052.8L1055.9 3055.0L1057.4 3057.1L1058.9 3058.9L1060.4 3060.7L1061.9 3062.1L1063.4 3063.5L1064.9 3065.2L1066.4 3067.2L1067.9 3069.2L1069.4 3071.4L1070.9 3073.9L1072.4 3076.4L1073.9 3078.9L1075.4 3081.2L1076.9 3083.0L1078.4 3084.3L1079.9 3085.1L1081.4 3085.6L1082.9 3085.8L1084.4 3086.1L1085.9 3086.3L1087.4 3086.7L1088.9 3087.0L1090.4 3087.2L1091.9 3087.6L1093.4 3088.3L1094.9 3089.0L1096.4 3090.0L1098.0 3091.0L1099.5 3092.0L1101.0 3093.1L1102.5 3094.1L1104.0 3094.8L1105.5 3095.5L1107.0 3096.4L1108.5 3097.5L1110.0 3098.6L1111.5 3099.5L1113.0 3100.6L1114.5 3102.1L1116.0 3104.1L1117.5 3106.3L1119.0 3108.8L1120.5 3111.3L1122.0 3113.7L1123.5 3116.1L1125.0 3118.3L1126.5 3120.4L1128.0 3122.5L1129.5 3124.5L1131.0 3126.6L1132.5 3128.6L1134.0 3130.6L1135.5 3132.7L1137.0 3134.7L1138.5 3136.7L1140.0 3138.6L1141.5 3140.4L1143.0 3142.2L1144.5 3143.9L1146.0 3145.3L1147.5 3146.5L1149.0 3147.8L1150.5 3149.1L1152.0 3150.4L1153.5 3151.4L1155.0 3152.4L1156.5 3153.3L1158.0 3154.2L1159.5 3155.0L1161.0 3155.7L1162.5 3156.5L1164.0 3157.1L1165.5 3157.7L1167.0 3158.4L1168.5 3159.1L1170.0 3159.7L1171.5 3160.2L1173.0 3160.8L1174.5 3161.3L1176.0 3161.9L1177.5 3162.3L1179.0 3162.7L1180.5 3163.1L1182.0 3163.4L1183.5 3163.8L1185.0 3164.2L1186.5 3164.6L1188.0 3165.3L1189.5 3165.9L1191.0 3166.0L1192.5 3166.0L1194.0 3166.0L1195.5 3166.3L1197.0 3166.6L1198.6 3166.8L1200.1 3167.0L1201.6 3167.2L1203.1 3167.3L1204.6 3167.4L1206.1 3167.6L1207.6 3167.7L1209.1 3167.8L1210.6 3167.9L1212.1 3168.0L1213.6 3168.2L1215.1 3168.3L1216.6 3168.1L1218.1 3167.9L1219.6 3167.8L1221.1 3167.6L1222.6 3167.6L1224.1 3167.6L1225.6 3167.6L1227.1 3167.4L1228.6 3167.2L1230.1 3167.2L1231.6 3167.3L1233.1 3167.2L1234.6 3166.9L1236.1 3166.6L1237.6 3166.3L1239.1 3166.0L1240.6 3165.6L1242.1 3165.1L1243.6 3164.9L1245.1 3164.8L1246.6 3164.5L1248.1 3164.2L1249.6 3163.7L1251.1 3163.4L1252.6 3163.1L1254.1 3162.5L1255.6 3161.8L1257.1 3161.4L1258.6 3161.3L1260.1 3161.2L1261.6 3160.8L1263.1 3160.5L1264.6 3160.3L1266.1 3160.1L1267.6 3160.0L1269.1 3160.0L1270.6 3160.0L1272.1 3159.9L1273.6 3159.9L1275.1 3159.9L1276.6 3160.0L1278.1 3160.1L1279.6 3160.3L1281.1 3160.5L1282.6 3160.6L1284.1 3160.7L1285.6 3161.0L1287.1 3161.3L1288.6 3161.5L1290.1 3161.6L1291.6 3161.6L1293.1 3161.6L1294.6 3161.5L1296.1 3161.5L1297.6 3161.5L1299.1 3161.4L1300.7 3161.2L1302.2 3161.1L1303.7 3161.1L1305.2 3161.2L1306.7 3161.3L1308.2 3161.5L1309.7 3161.8L1311.2 3162.1L1312.7 3162.4L1314.2 3162.8L1315.7 3163.2L1317.2 3163.6L1318.7 3164.0L1320.2 3164.4L1321.7 3164.7L1323.2 3165.2L1324.7 3165.9L1326.2 3166.7L1327.7 3167.2L1329.2 3167.6L1330.7 3168.0L1332.2 3168.5L1333.7 3169.0L1335.2 3169.1L1336.7 3169.1L1338.2 3169.4L1339.7 3169.8L1341.2 3169.9L1342.7 3169.9L1344.2 3169.9L1345.7 3170.0L1347.2 3170.2L1348.7 3170.2L1350.2 3170.0L1351.7 3170.0L1353.2 3170.0L1354.7 3170.0L1356.2 3169.9L1357.7 3169.7L1359.2 3169.6L1360.7 3169.6L1362.2 3169.6L1363.7 3169.6L1365.2 3169.7L1366.7 3169.4L1368.2 3169.1L1369.7 3169.0L1371.2 3169.0" stroke="#FF00FF"/>
<path d="M140.0 3120.3L141.5 3120.3L143.0 3120.3L144.5 3120.2L146.0 3120.1L147.5 3120.0L149.0 3120.0L150.5 3120.1L152.0 3120.1L153.5 3120.0L155.0 3119.9L156.5 3119.7L158.0 3119.7L159.5 3119.8L161.0 3119.9L162.5 3119.9L164.0 3119.9L165.5 3120.0L167.0 3120.1L168.5 3120.2L170.0 3120.2L171.5 3120.1L173.0 3120.0L174.5 3119.8L176.0 3119.8L177.5 3119.9L179.0 3120.0L180.5 3119.9L182.0 3119.9L183.5 3120.0L185.0 3120.1L186.5 3120.0L188.0 3119.9L189.5 3119.8L191.1 3119.8L192.6 3119.9L194.1 3120.0L195.6 3120.1L197.1 3120.1L198.6 3120.1L200.1 3120.1L201.6 3120.1L203.1 3120.1L204.6 3120.1L206.1 3120.0L207.6 3120.0L209.1 3120.0L210.6 3120.1L212.1 3120.0L213.6 3120.0L215.1 3120.2L216.6 3120.3L218.1 3120.3L219.6 3120.1L221.1 3120.0L222.6 3120.1L224.1 3120.2L225.6 3120.2L227.1 3120.3L228.6 3120.2L230.1 3120.1L231.6 3120.0L233.1 3120.1L234.6 3120.1L236.1 3120.1L237.6 3120.1L239.1 3120.0L240.6 3119.8L242.1 3119.8L243.6 3120.1L245.1 3120.3L246.6 3120.1L248.1 3119.9L249.6 3119.9L251.1 3119.9L252.6 3119.9L254.1 3119.9L255.6 3119.9L257.1 3119.9L258.6 3119.9L260.1 3119.9L261.6 3120.0L263.1 3120.0L264.6 3119.9L266.1 3119.9L267.6 3120.1L269.1 3120.3L270.6 3120.2L272.1 3119.9L273.6 3119.7L275.1 3119.8L276.6 3119.9L278.1 3120.0L279.6 3120.2L281.1 3120.1L282.6 3120.0L284.1 3119.9L285.6 3119.8L287.1 3119.7L288.6 3119.9L290.1 3120.2L291.7 3120.1L293.2 3119.9L294.7 3119.9L296.2 3120.0L297.7 3120.2L299.2 3120.2L300.7 3120.3L302.2 3120.2L303.7 3120.0L305.2 3120.0L306.7 3120.1L308.2 3120.2L309.7 3120.2L311.2 3120.1L312.7 3120.0L314.2 3120.0L315.7 3120.0L317.2 3120.0L318.7 3120.1L320.2 3120.1L321.7 3120.0L323.2 3119.9L324.7 3119.8L326.2 3119.8L327.7 3119.9L329.2 3120.0L330.7 3120.1L332.2 3120.2L333.7 3120.3L335.2 3120.4L336.7 3120.4L338.2 3120.1L339.7 3119.9L341.2 3119.9L342.7 3119.9L344.2 3120.0L345.7 3120.0L347.2 3120.0L348.7 3120.0L350.2 3120.0L351.7 3119.9L353.2 3119.7L354.7 3119.9L356.2 3120.2L357.7 3120.3L359.2 3120.3L360.7 3120.3L362.2 3120.2L363.7 3120.1L365.2 3120.1L366.7 3120.2L368.2 3120.1L369.7 3119.9L371.2 3119.7L372.7 3120.0L374.2 3120.3L375.7 3120.1L377.2 3119.8L378.7 3119.6L380.2 3119.6L381.7 3119.6L383.2 3119.8L384.7 3120.0L386.2 3120.0L387.7 3119.9L389.2 3119.8L390.7 3119.6L392.3 3119.5L393.8 3119.8L395.3 3120.1L396.8 3120.1L398.3 3120.0L399.8 3119.8L401.3 3119.6L402.8 3119.5L404.3 3119.8L405.8 3120.0L407.3 3120.0L408.8 3119.9L410.3 3119.9L411.8 3119.9L413.3 3119.9L414.8 3120.0L416.3 3120.0L417.8 3119.9L419.3 3119.8L420.8 3119.9L422.3 3120.1L423.8 3120.2L425.3 3119.9L426.8 3119.7L428.3 3119.7L429.8 3119.8L431.3 3119.9L432.8 3120.0L434.3 3120.0L435.8 3119.9L437.3 3119.8L438.8 3119.9L440.3 3120.1L441.8 3120.2L443.3 3120.3L444.8 3120.3L446.3 3120.0L447.8 3119.7L449.3 3120.0L450.8 3120.3L452.3 3120.3L453.8 3120.0L455.3 3119.8L456.8 3119.9L458.3 3120.1L459.8 3120.1L461.3 3120.2L462.8 3120.1L464.3 3120.0L465.8 3119.9L467.3 3120.0L468.8 3120.1L470.3 3120.0L471.8 3119.9L473.3 3120.0L474.8 3120.1L476.3 3120.2L477.8 3119.9L479.3 3119.6L480.8 3119.6L482.3 3119.7L483.8 3119.9L485.3 3120.1L486.8 3120.2L488.3 3120.0L489.8 3119.7L491.3 3119.8L492.9 3119.8L494.4 3119.8L495.9 3119.7L497.4 3119.7L498.9 3119.6L500.4 3119.6L501.9 3119.6L503.4 3119.7L504.9 3119.7L506.4 3119.6L507.9 3119.6L509.4 3119.7L510.9 3119.8L512.4 3119.8L513.9 3119.8L515.4 3119.9L516.9 3120.2L518.4 3120.3L519.9 3120.2L521.4 3120.1L522.9 3120.0L524.4 3120.0L525.9 3120.0L527.4 3120.1L528.9 3120.1L530.4 3120.1L531.9 3120.1L533.4 3120.1L534.9 3120.1L536.4 3120.1L537.9 3120.0L539.4 3120.0L540.9 3120.0L542.4 3120.0L543.9 3119.9L545.4 3119.8L546.9 3119.9L548.4 3120.1L549.9 3120.1L551.4 3119.9L552.9 3119.7L554.4 3120.1L555.9 3120.5L557.4 3120.5L558.9 3120.3L560.4 3120.2L561.9 3120.2L563.4 3120.2L564.9 3120.5L566.4 3120.8L567.9 3120.9L569.4 3120.9L570.9 3120.8L572.4 3120.6L573.9 3120.4L575.4 3120.4L576.9 3120.4L578.4 3120.6L579.9 3120.9L581.4 3121.0L582.9 3120.9L584.4 3120.8L585.9 3120.5L587.4 3120.3L588.9 3120.3L590.4 3120.4L591.9 3120.5L593.4 3120.2L595.0 3120.0L596.5 3119.8L598.0 3119.6L599.5 3119.4L601.0 3119.2L602.5 3119.1L604.0 3118.9L605.5 3118.7L607.0 3118.3L608.5 3118.0L610.0 3117.9L611.5 3117.9L613.0 3117.8L614.5 3117.7L616.0 3117.5L617.5 3117.4L619.0 3117.4L620.5 3117.3L622.0 3117.2L623.5 3117.1L625.0 3116.8L626.5 3116.6L628.0 3116.4L629.5 3116.2L631.0 3116.2L632.5 3116.3L634.0 3116.2L635.5 3116.0L637.0 3115.7L638.5 3115.5L640.0 3115.3L641.5 3114.9L643.0 3114.5L644.5 3114.1L646.0 3114.0L647.5 3113.8L649.0 3113.0L650.5 3112.2L652.0 3111.7L653.5 3111.4L655.0 3111.0L656.5 3110.6L658.0 3110.2L659.5 3109.4L661.0 3108.6L662.5 3108.2L664.0 3108.0L665.5 3107.7L667.0 3107.1L668.5 3106.6L670.0 3106.5L671.5 3106.5L673.0 3106.3L674.5 3106.2L676.0 3106.2L677.5 3106.4L679.0 3106.6L680.5 3106.9L682.0 3107.2L683.5 3107.7L685.0 3108.3L686.5 3109.0L688.0 3109.6L689.5 3110.0L691.0 3110.1L692.5 3110.1L694.0 3110.0L695.6 3109.9L697.1 3109.8L698.6 3110.0L700.1 3110.1L701.6 3109.9L703.1 3109.6L704.6 3109.6L706.1 3109.6L707.6 3109.7L709.1 3109.7L710.6 3109.8L712.1 3109.7L713.6 3109.5L715.1 3109.1L716.6 3108.6L718.1 3108.1L719.6 3107.7L721.1 3107.3L722.6 3106.9L724.1 3106.5L725.6 3106.0L727.1 3105.3L728.6 3104.7L730.1 3104.2L731.6 3103.6L733.1 3103.1L734.6 3102.5L736.1 3102.0L737.6 3101.5L739.1 3100.9L740.6 3100.0L742.1 3099.2L743.6 3098.9L745.1 3098.6L746.6 3098.1L748.1 3097.7L749.6 3097.2L751.1 3096.8L752.6 3096.4L754.1 3095.9L755.6 3095.4L757.1 3095.1L758.6 3094.7L760.1 3094.5L761.6 3094.4L763.1 3094.2L764.6 3093.8L766.1 3093.4L767.6 3093.2L769.1 3093.1L770.6 3093.0L772.1 3092.9L773.6 3092.8L775.1 3092.7L776.6 3092.6L778.1 3092.6L779.6 3092.6L781.1 3092.5L782.6 3092.3L784.1 3092.1L785.6 3092.3L787.1 3092.5L788.6 3092.5L790.1 3092.4L791.6 3092.4L793.1 3092.5L794.6 3092.8L796.2 3093.3L797.7 3093.8L799.2 3094.4L800.7 3095.1L802.2 3095.6L803.7 3095.9L805.2 3096.2L806.7 3096.4L808.2 3096.5L809.7 3096.7L811.2 3096.9L812.7 3097.2L814.2 3097.5L815.7 3097.6L817.2 3097.4L818.7 3096.9L820.2 3096.2L821.7 3095.2L823.2 3094.2L824.7 3093.1L826.2 3092.1L827.7 3091.0L829.2 3090.1L830.7 3089.4L832.2 3088.7L833.7 3087.9L835.2 3086.9L836.7 3086.1L838.2 3085.4L839.7 3084.9L841.2 3084.1L842.7 3083.4L844.2 3082.9L845.7 3082.7L847.2 3082.4L848.7 3081.9L850.2 3081.4L851.7 3080.9L853.2 3080.2L854.7 3079.1L856.2 3077.6L857.7 3076.2L859.2 3075.4L860.7 3074.8L862.2 3074.1L863.7 3073.7L865.2 3073.2L866.7 3072.7L868.2 3072.3L869.7 3072.2L871.2 3072.0L872.7 3071.9L874.2 3071.7L875.7 3071.4L877.2 3070.9L878.7 3070.4L880.2 3069.8L881.7 3069.2L883.2 3068.4L884.7 3067.6L886.2 3067.0L887.7 3066.5L889.2 3065.9L890.7 3065.4L892.2 3065.2L893.7 3065.3L895.2 3066.4L896.8 3068.1L898.3 3070.1L899.8 3072.2L901.3 3074.2L902.8 3076.1L904.3 3078.0L905.8 3079.9L907.3 3081.7L908.8 3083.4L910.3 3085.1L911.8 3086.7L913.3 3088.4L914.8 3090.3L916.3 3092.0L917.8 3093.4L919.3 3094.3L920.8 3095.1L922.3 3095.8L923.8 3096.4L925.3 3097.0L926.8 3097.4L928.3 3097.4L929.8 3097.0L931.3 3096.3L932.8 3095.4L934.3 3094.4L935.8 3093.5L937.3 3092.9L938.8 3092.4L940.3 3092.2L941.8 3091.9L943.3 3091.6L944.8 3091.2L946.3 3091.2L947.8 3091.2L949.3 3091.1L950.8 3090.7L952.3 3090.3L953.8 3089.8L955.3 3089.3L956.8 3089.6L958.3 3090.4L959.8 3091.6L961.3 3092.8L962.8 3094.1L964.3 3095.3L965.8 3096.7L967.3 3098.3L968.8 3100.0L970.3 3101.4L971.8 3102.5L973.3 3103.4L974.8 3104.3L976.3 3105.1L977.8 3105.6L979.3 3106.0L980.8 3106.4L982.3 3106.8L983.8 3107.3L985.3 3107.8L986.8 3108.2L988.3 3108.7L989.8 3109.1L991.3 3109.3L992.8 3109.1L994.3 3108.7L995.8 3108.1L997.4 3107.3L998.9 3106.5L1000.4 3105.7L1001.9 3104.5L1003.4 3103.1L1004.9 3100.9L1006.4 3097.9L1007.9 3094.2L1009.4 3089.9L1010.9 3085.3L1012.4 3080.4L1013.9 3074.8L1015.4 3067.9L1016.9 3060.3L1018.4 3052.1L1019.9 3043.3L1021.4 3033.8L1022.9 3022.9L1024.4 3011.6L1025.9 3000.6L1027.4 2990.7L1028.9 2982.0L1030.4 2973.1L1031.9 2964.8L1033.4 2957.5L1034.9 2951.7L1036.4 2947.3L1037.9 2943.5L1039.4 2940.7L1040.9 2939.3L1042.4 2939.8L1043.9 2941.1L1045.4 2942.8L1046.9 2944.7L1048.4 2947.0L1049.9 2949.8L1051.4 2952.6L1052.9 2955.6L1054.4 2958.4L1055.9 2960.9L1057.4 2963.4L1058.9 2966.2L1060.4 2969.0L1061.9 2971.4L1063.4 2973.9L1064.9 2976.4L1066.4 2979.0L1067.9 2981.6L1069.4 2984.5L1070.9 2987.7L1072.4 2991.1L1073.9 2994.4L1075.4 2997.2L1076.9 2999.5L1078.4 3001.1L1079.9 3002.2L1081.4 3002.9L1082.9 3003.4L1084.4 3003.7L1085.9 3004.2L1087.4 3004.8L1088.9 3005.4L1090.4 3005.8L1091.9 3006.4L1093.4 3007.1L1094.9 3007.9L1096.4 3009.1L1098.0 3010.5L1099.5 3011.8L1101.0 3012.7L1102.5 3013.5L1104.0 3014.7L1105.5 3015.8L1107.0 3016.8L1108.5 3017.8L1110.0 3019.1L1111.5 3020.6L1113.0 3022.6L1114.5 3025.0L1116.0 3027.7L1117.5 3030.8L1119.0 3034.1L1120.5 3037.3L1122.0 3040.2L1123.5 3042.9L1125.0 3045.6L1126.5 3048.2L1128.0 3050.7L1129.5 3053.1L1131.0 3055.5L1132.5 3057.9L1134.0 3060.3L1135.5 3062.5L1137.0 3064.7L1138.5 3067.1L1140.0 3069.5L1141.5 3071.8L1143.0 3073.9L1144.5 3075.9L1146.0 3077.9L1147.5 3079.8L1149.0 3081.4L1150.5 3082.8L1152.0 3084.2L1153.5 3085.8L1155.0 3087.2L1156.5 3088.6L1158.0 3089.9L1159.5 3090.9L1161.0 3091.8L1162.5 3092.6L1164.0 3093.1L1165.5 3093.7L1167.0 3094.4L1168.5 3095.2L1170.0 3095.8L1171.5 3096.4L1173.0 3097.0L1174.5 3097.3L1176.0 3097.7L1177.5 3098.0L1179.0 3098.3L1180.5 3098.9L1182.0 3099.4L1183.5 3099.9L1185.0 3100.3L1186.5 3100.6L1188.0 3101.0L1189.5 3101.4L1191.0 3101.8L1192.5 3102.2L1194.0 3102.6L1195.5 3103.0L1197.0 3103.5L1198.6 3103.9L1200.1 3104.2L1201.6 3104.8L1203.1 3105.6L1204.6 3106.1L1206.1 3106.3L1207.6 3106.4L1209.1 3106.6L1210.6 3106.7L1212.1 3106.9L1213.6 3107.1L1215.1 3107.1L1216.6 3107.1L1218.1 3107.0L1219.6 3106.8L1221.1 3106.5L1222.6 3106.4L1224.1 3106.2L1225.6 3106.0L1227.1 3105.6L1228.6 3105.3L1230.1 3105.1L1231.6 3105.0L1233.1 3104.7L1234.6 3104.3L1236.1 3103.8L1237.6 3103.3L1239.1 3102.7L1240.6 3101.9L1242.1 3101.1L1243.6 3100.3L1245.1 3099.6L1246.6 3099.2L1248.1 3099.0L1249.6 3098.8L1251.1 3098.4L1252.6 3098.0L1254.1 3097.9L1255.6 3097.8L1257.1 3097.7L1258.6 3097.6L1260.1 3097.5L1261.6 3097.5L1263.1 3097.3L1264.6 3096.9L1266.1 3096.4L1267.6 3095.9L1269.1 3095.4L1270.6 3094.9L1272.1 3094.5L1273.6 3094.1L1275.1 3093.8L1276.6 3093.7L1278.1 3093.6L1279.6 3093.7L1281.1 3093.9L1282.6 3094.4L1284.1 3095.0L1285.6 3095.1L1287.1 3095.0L1288.6 3095.0L1290.1 3095.2L1291.6 3095.4L1293.1 3095.4L1294.6 3095.4L1296.1 3095.6L1297.6 3095.8L1299.1 3095.8L1300.7 3095.5L1302.2 3095.4L1303.7 3095.7L1305.2 3096.2L1306.7 3096.6L1308.2 3097.0L1309.7 3097.4L1311.2 3097.9L1312.7 3098.4L1314.2 3098.9L1315.7 3099.3L1317.2 3099.7L1318.7 3099.9L1320.2 3100.2L1321.7 3100.4L1323.2 3100.6L1324.7 3100.8L1326.2 3101.0L1327.7 3101.3L1329.2 3101.8L1330.7 3102.7L1332.2 3103.8L1333.7 3104.9L1335.2 3105.8L1336.7 3106.6L1338.2 3107.0L1339.7 3107.0L1341.2 3106.5L1342.7 3105.8L1344.2 3104.9L1345.7 3104.1L1347.2 3103.4L1348.7 3102.9L1350.2 3102.7L1351.7 3102.7L1353.2 3102.7L1354.7 3102.7L1356.2 3102.7L1357.7 3102.6L1359.2 3102.4L1360.7 3102.1L1362.2 3102.0L1363.7 3102.2L1365.2 3102.3L1366.7 3102.3L1368.2 3102.3L1369.7 3102.3L1371.2 3102.3" stroke="#808000"/>
<path d="M140.0 3042.8L141.5 3042.6L143.0 3042.4L144.5 3042.3L146.0 3042.2L147.5 3042.2L149.0 3042.4L150.5 3042.7L152.0 3042.7L153.5 3042.6L155.0 3042.6L156.5 3042.6L158.0 3042.6L159.5 3042.6L161.0 3042.6L162.5 3042.5L164.0 3042.4L165.5 3042.2L167.0 3042.1L168.5 3042.0L170.0 3042.0L171.5 3042.1L173.0 3042.2L174.5 3042.2L176.0 3042.3L177.5 3042.2L179.0 3042.2L180.5 3042.3L182.0 3042.4L183.5 3042.6L185.0 3042.8L186.5 3042.6L188.0 3042.4L189.5 3042.2L191.0 3042.2L192.5 3042.2L194.0 3042.4L195.5 3042.5L197.0 3042.5L198.5 3042.6L200.0 3042.5L201.5 3042.3L203.0 3042.1L204.5 3042.0L206.0 3041.9L207.5 3041.8L209.0 3041.6L210.5 3041.5L212.0 3041.4L213.5 3041.3L215.0 3041.4L216.5 3041.5L218.0 3041.8L219.5 3042.1L221.0 3042.3L222.5 3042.2L224.0 3042.1L225.5 3041.9L227.0 3041.8L228.5 3041.6L230.0 3041.4L231.5 3041.4L233.0 3041.8L234.5 3042.1L236.0 3041.9L237.5 3041.6L239.0 3041.7L240.5 3042.0L242.0 3042.3L243.5 3042.4L245.0 3042.5L246.5 3042.4L248.0 3042.3L249.5 3041.9L251.0 3041.5L252.5 3041.3L254.0 3041.6L255.5 3041.9L257.0 3042.0L258.5 3042.1L260.0 3042.1L261.6 3042.0L263.1 3041.9L264.6 3041.8L266.1 3041.7L267.6 3041.8L269.1 3042.0L270.6 3042.0L272.1 3041.9L273.6 3041.9L275.1 3041.9L276.6 3041.9L278.1 3041.7L279.6 3041.4L281.1 3041.6L282.6 3041.9L284.1 3042.1L285.6 3041.8L287.1 3041.6L288.6 3041.6L290.1 3041.6L291.6 3041.9L293.1 3042.2L294.6 3042.3L296.1 3042.0L297.6 3041.7L299.1 3041.7L300.6 3041.7L302.1 3041.8L303.6 3042.0L305.1 3042.1L306.6 3042.1L308.1 3042.0L309.6 3041.8L311.1 3041.6L312.6 3041.6L314.1 3041.5L315.6 3041.5L317.1 3041.5L318.6 3041.6L320.1 3041.4L321.6 3041.2L323.1 3041.3L324.6 3041.5L326.1 3041.6L327.6 3041.5L329.1 3041.4L330.6 3041.8L332.1 3042.2L333.6 3042.1L335.1 3041.8L336.6 3041.5L338.1 3041.3L339.6 3041.1L341.1 3041.4L342.6 3041.8L344.1 3041.8L345.6 3041.7L347.1 3041.6L348.6 3041.7L350.1 3041.7L351.6 3041.7L353.1 3041.7L354.6 3041.6L356.1 3041.5L357.6 3041.4L359.1 3041.4L360.6 3041.3L362.1 3041.2L363.6 3041.1L365.1 3041.2L366.6 3041.4L368.1 3041.5L369.6 3041.5L371.1 3041.4L372.6 3041.4L374.1 3041.3L375.6 3041.4L377.1 3041.4L378.6 3041.5L380.1 3041.5L381.6 3041.5L383.1 3041.6L384.6 3041.6L386.1 3041.7L387.6 3041.8L389.1 3041.8L390.6 3041.8L392.1 3041.7L393.6 3041.9L395.1 3042.1L396.6 3042.2L398.1 3042.4L399.6 3042.3L401.1 3041.8L402.6 3041.4L404.1 3041.5L405.6 3041.7L407.1 3041.6L408.6 3041.3L410.1 3041.2L411.6 3041.3L413.1 3041.5L414.6 3041.6L416.1 3041.6L417.6 3041.7L419.1 3041.7L420.6 3041.7L422.1 3041.6L423.6 3041.5L425.1 3041.5L426.6 3041.4L428.1 3041.4L429.6 3041.3L431.1 3041.3L432.6 3041.2L434.1 3041.2L435.6 3041.2L437.1 3041.3L438.6 3041.3L440.1 3041.3L441.6 3041.3L443.1 3041.2L444.6 3041.1L446.1 3041.1L447.6 3041.2L449.1 3041.3L450.6 3041.5L452.1 3041.6L453.6 3041.4L455.1 3041.3L456.6 3041.0L458.1 3040.8L459.6 3041.0L461.1 3041.4L462.6 3041.5L464.1 3041.4L465.6 3041.3L467.1 3041.3L468.6 3041.4L470.1 3041.5L471.6 3041.7L473.1 3041.8L474.6 3041.6L476.1 3041.5L477.6 3041.5L479.1 3041.5L480.6 3041.4L482.1 3041.2L483.6 3041.1L485.1 3041.3L486.6 3041.4L488.1 3041.7L489.6 3041.9L491.1 3041.7L492.6 3041.4L494.1 3041.2L495.6 3041.2L497.1 3041.3L498.6 3041.2L500.1 3041.2L501.6 3041.3L503.2 3041.4L504.7 3041.5L506.2 3041.6L507.7 3041.6L509.2 3041.8L510.7 3042.0L512.2 3041.7L513.7 3041.4L515.2 3041.2L516.7 3041.4L518.2 3041.5L519.7 3041.7L521.2 3041.8L522.7 3041.7L524.2 3041.4L525.7 3041.3L527.2 3041.3L528.7 3041.3L530.2 3041.4L531.7 3041.4L533.2 3041.3L534.7 3041.2L536.2 3041.2L537.7 3041.4L539.2 3041.5L540.7 3041.3L542.2 3041.1L543.7 3041.3L545.2 3041.7L546.7 3041.9L548.2 3041.8L549.7 3041.7L551.2 3042.1L552.7 3042.4L554.2 3042.6L555.7 3042.8L557.2 3043.0L558.7 3042.9L560.2 3042.9L561.7 3043.1L563.2 3043.4L564.7 3043.6L566.2 3043.8L567.7 3043.9L569.2 3043.9L570.7 3043.9L572.2 3044.0L573.7 3044.1L575.2 3044.1L576.7 3044.0L578.2 3044.1L579.7 3044.1L581.2 3044.2L582.7 3044.5L584.2 3044.8L585.7 3044.6L587.2 3044.2L588.7 3043.9L590.2 3043.7L591.7 3043.4L593.2 3043.0L594.7 3042.6L596.2 3042.2L597.7 3041.7L599.2 3041.2L600.7 3040.6L602.2 3040.1L603.7 3039.8L605.2 3039.5L606.7 3039.4L608.2 3039.3L609.7 3039.0L611.2 3038.4L612.7 3037.9L614.2 3037.5L615.7 3037.2L617.2 3036.5L618.7 3035.7L620.2 3035.0L621.7 3034.7L623.2 3034.3L624.7 3033.8L626.2 3033.4L627.7 3033.3L629.2 3033.4L630.7 3033.1L632.2 3032.4L633.7 3031.8L635.2 3031.9L636.7 3032.1L638.2 3031.5L639.7 3030.7L641.2 3030.2L642.7 3029.9L644.2 3029.4L645.7 3028.8L647.2 3028.1L648.7 3026.9L650.2 3025.5L651.7 3024.3L653.2 3023.3L654.7 3022.1L656.2 3020.5L657.7 3018.9L659.2 3017.2L660.7 3015.7L662.2 3014.3L663.7 3012.8L665.2 3011.3L666.7 3010.0L668.2 3008.9L669.7 3008.1L671.2 3007.5L672.7 3007.1L674.2 3007.0L675.7 3006.9L677.2 3007.3L678.7 3008.2L680.2 3009.5L681.7 3010.9L683.2 3013.1L684.7 3015.6L686.2 3017.8L687.7 3018.8L689.2 3019.7L690.7 3021.0L692.2 3022.3L693.7 3023.2L695.2 3023.7L696.7 3024.1L698.2 3024.3L699.7 3024.3L701.2 3024.1L702.7 3023.8L704.2 3023.6L705.7 3023.5L707.2 3023.3L708.7 3023.1L710.2 3022.9L711.7 3022.5L713.2 3022.0L714.7 3021.8L716.2 3021.9L717.7 3021.9L719.2 3021.3L720.7 3020.7L722.2 3020.2L723.7 3019.8L725.2 3019.5L726.7 3019.4L728.2 3019.2L729.7 3018.6L731.2 3018.0L732.7 3017.7L734.2 3017.6L735.7 3017.1L737.2 3016.3L738.7 3015.5L740.2 3015.1L741.7 3014.7L743.2 3014.3L744.8 3014.0L746.3 3013.5L747.8 3012.8L749.3 3012.2L750.8 3011.8L752.3 3011.5L753.8 3011.0L755.3 3010.5L756.8 3009.9L758.3 3009.1L759.8 3008.2L761.3 3007.4L762.8 3006.5L764.3 3005.9L765.8 3005.3L767.3 3004.5L768.8 3003.6L770.3 3002.9L771.8 3002.7L773.3 3002.5L774.8 3001.9L776.3 3001.3L777.8 3001.1L779.3 3001.2L780.8 3001.4L782.3 3001.1L783.8 3000.9L785.3 3001.2L786.8 3001.5L788.3 3001.7L789.8 3001.8L791.3 3001.9L792.8 3002.3L794.3 3002.7L795.8 3003.0L797.3 3003.2L798.8 3003.6L800.3 3004.0L801.8 3004.4L803.3 3004.8L804.8 3005.2L806.3 3005.4L807.8 3005.7L809.3 3005.9L810.8 3005.9L812.3 3006.0L813.8 3006.5L815.3 3006.8L816.8 3006.8L818.3 3006.3L819.8 3005.6L821.3 3004.7L822.8 3003.4L824.3 3001.6L825.8 2999.8L827.3 2998.2L828.8 2996.9L830.3 2995.5L831.8 2994.1L833.3 2992.7L834.8 2991.3L836.3 2990.0L837.8 2988.6L839.3 2987.3L840.8 2986.4L842.3 2985.8L843.8 2985.4L845.3 2984.8L846.8 2984.1L848.3 2983.5L849.8 2982.7L851.3 2981.6L852.8 2980.0L854.3 2977.8L855.8 2975.6L857.3 2973.6L858.8 2971.7L860.3 2970.5L861.8 2970.1L863.3 2969.7L864.8 2969.5L866.3 2969.2L867.8 2968.9L869.3 2968.6L870.8 2968.2L872.3 2967.7L873.8 2967.1L875.3 2966.5L876.8 2965.9L878.3 2965.2L879.8 2964.1L881.3 2963.0L882.8 2961.9L884.3 2960.8L885.8 2959.5L887.3 2958.5L888.8 2958.0L890.3 2958.1L891.8 2958.7L893.3 2959.7L894.8 2960.7L896.3 2962.0L897.8 2964.0L899.3 2966.4L900.8 2968.2L902.3 2970.0L903.8 2972.0L905.3 2974.5L906.8 2977.3L908.3 2980.7L909.8 2983.9L911.3 2986.6L912.8 2989.0L914.3 2991.5L915.8 2993.7L917.3 2995.4L918.8 2996.2L920.3 2996.8L921.8 2997.3L923.3 2997.5L924.8 2997.8L926.3 2998.0L927.8 2997.0L929.3 2995.1L930.8 2992.9L932.3 2990.8L933.8 2989.1L935.3 2987.3L936.8 2985.6L938.3 2983.8L939.8 2982.1L941.3 2980.8L942.8 2980.0L944.3 2979.5L945.8 2979.0L947.3 2978.5L948.8 2978.3L950.3 2978.5L951.8 2978.8L953.3 2978.7L954.8 2978.7L956.3 2979.2L957.8 2980.0L959.3 2981.4L960.8 2983.7L962.3 2986.7L963.8 2990.1L965.3 2993.2L966.8 2995.8L968.3 2998.4L969.8 3001.1L971.3 3003.9L972.8 3006.3L974.3 3008.1L975.8 3009.6L977.3 3011.1L978.8 3012.4L980.3 3013.6L981.8 3014.9L983.3 3016.2L984.8 3017.7L986.4 3019.1L987.9 3020.1L989.4 3020.7L990.9 3021.0L992.4 3021.2L993.9 3021.1L995.4 3020.4L996.9 3019.6L998.4 3018.7L999.9 3017.8L1001.4 3016.8L1002.9 3015.4L1004.4 3013.2L1005.9 3010.4L1007.4 3007.0L1008.9 3003.3L1010.4 2998.5L1011.9 2992.4L1013.4 2985.3L1014.9 2977.4L1016.4 2968.9L1017.9 2958.7L1019.4 2947.6L1020.9 2937.3L1022.4 2926.9L1023.9 2916.6L1025.4 2906.5L1026.9 2896.8L1028.4 2887.0L1029.9 2877.7L1031.4 2869.5L1032.9 2862.5L1034.4 2856.2L1035.9 2850.9L1037.4 2847.0L1038.9 2844.1L1040.4 2842.0L1041.9 2841.2L1043.4 2842.4L1044.9 2845.0L1046.4 2848.1L1047.9 2850.5L1049.4 2852.8L1050.9 2855.3L1052.4 2857.9L1053.9 2860.6L1055.4 2863.6L1056.9 2866.5L1058.4 2868.9L1059.9 2871.2L1061.4 2873.8L1062.9 2876.7L1064.4 2879.8L1065.9 2883.2L1067.4 2886.5L1068.9 2889.7L1070.4 2892.7L1071.9 2895.6L1073.4 2898.1L1074.9 2900.4L1076.4 2902.6L1077.9 2904.8L1079.4 2906.5L1080.9 2908.0L1082.4 2909.4L1083.9 2910.9L1085.4 2912.0L1086.9 2912.9L1088.4 2913.6L1089.9 2914.7L1091.4 2915.8L1092.9 2916.7L1094.4 2917.5L1095.9 2918.5L1097.4 2919.7L1098.9 2920.9L1100.4 2921.6L1101.9 2922.3L1103.4 2923.2L1104.9 2924.5L1106.4 2925.9L1107.9 2927.9L1109.4 2930.3L1110.9 2932.8L1112.4 2935.3L1113.9 2937.6L1115.4 2939.8L1116.9 2942.1L1118.4 2944.7L1119.9 2947.4L1121.4 2950.2L1122.9 2953.1L1124.4 2956.2L1125.9 2959.4L1127.4 2962.6L1128.9 2965.9L1130.4 2969.2L1131.9 2972.1L1133.4 2975.1L1134.9 2978.1L1136.4 2981.2L1137.9 2984.3L1139.4 2987.2L1140.9 2990.1L1142.4 2992.6L1143.9 2994.9L1145.4 2997.3L1146.9 2999.6L1148.4 3001.7L1149.9 3003.6L1151.4 3005.4L1152.9 3007.2L1154.4 3008.6L1155.9 3009.4L1157.4 3009.9L1158.9 3010.3L1160.4 3010.5L1161.9 3010.8L1163.4 3011.0L1164.9 3011.3L1166.4 3011.9L1167.9 3012.6L1169.4 3013.7L1170.9 3015.0L1172.4 3016.3L1173.9 3017.0L1175.4 3017.5L1176.9 3018.2L1178.4 3019.0L1179.9 3020.0L1181.4 3021.1L1182.9 3022.1L1184.4 3022.6L1185.9 3023.0L1187.4 3023.4L1188.9 3023.8L1190.4 3023.8L1191.9 3023.7L1193.4 3023.5L1194.9 3023.2L1196.4 3023.0L1197.9 3022.8L1199.4 3022.8L1200.9 3023.1L1202.4 3023.9L1203.9 3024.7L1205.4 3025.3L1206.9 3025.1L1208.4 3024.5L1209.9 3023.7L1211.4 3022.9L1212.9 3022.5L1214.4 3022.4L1215.9 3022.6L1217.4 3022.8L1218.9 3023.0L1220.4 3023.2L1221.9 3023.6L1223.4 3024.1L1224.9 3024.7L1226.4 3025.0L1228.0 3025.3L1229.5 3025.4L1231.0 3025.0L1232.5 3024.3L1234.0 3023.4L1235.5 3022.4L1237.0 3021.3L1238.5 3020.4L1240.0 3019.6L1241.5 3018.9L1243.0 3018.3L1244.5 3017.6L1246.0 3016.9L1247.5 3016.5L1249.0 3016.0L1250.5 3015.1L1252.0 3013.5L1253.5 3011.7L1255.0 3009.9L1256.5 3008.4L1258.0 3007.4L1259.5 3007.1L1261.0 3007.6L1262.5 3008.5L1264.0 3009.3L1265.5 3009.8L1267.0 3009.8L1268.5 3009.3L1270.0 3008.3L1271.5 3007.2L1273.0 3006.4L1274.5 3006.2L1276.0 3006.9L1277.5 3007.9L1279.0 3008.8L1280.5 3008.4L1282.0 3006.8L1283.5 3005.4L1285.0 3005.3L1286.5 3005.5L1288.0 3005.8L1289.5 3006.1L1291.0 3006.3L1292.5 3006.5L1294.0 3006.7L1295.5 3007.0L1297.0 3007.4L1298.5 3007.8L1300.0 3008.0L1301.5 3008.3L1303.0 3008.6L1304.5 3008.9L1306.0 3009.4L1307.5 3009.9L1309.0 3010.4L1310.5 3010.7L1312.0 3011.0L1313.5 3012.2L1315.0 3013.9L1316.5 3015.3L1318.0 3016.1L1319.5 3016.6L1321.0 3017.1L1322.5 3017.6L1324.0 3017.9L1325.5 3018.2L1327.0 3018.4L1328.5 3018.8L1330.0 3019.1L1331.5 3019.2L1333.0 3019.3L1334.5 3019.5L1336.0 3020.0L1337.5 3021.0L1339.0 3022.7L1340.5 3024.4L1342.0 3025.2L1343.5 3024.0L1345.0 3020.8L1346.5 3018.1L1348.0 3018.0L1349.5 3019.3L1351.0 3021.0L1352.5 3022.3L1354.0 3022.5L1355.5 3022.1L1357.0 3021.6L1358.5 3021.2L1360.0 3021.0L1361.5 3020.8L1363.0 3020.2L1364.5 3019.8L1366.0 3019.5L1367.5 3019.4L1369.0 3019.2L1370.5 3018.9L1372.0 3018.7" stroke="#008080"/>
<path d="M140.0 2964.7L141.5 2964.8L143.0 2964.9L144.5 2964.9L146.0 2964.9L147.5 2964.9L149.0 2964.9L150.5 2964.8L152.0 2964.8L153.5 2964.8L155.0 2964.8L156.5 2964.8L158.0 2964.7L159.5 2964.6L161.0 2964.5L162.5 2964.9L164.0 2965.2L165.5 2965.4L167.0 2965.4L168.5 2965.3L170.0 2965.3L171.5 2965.2L173.0 2965.2L174.5 2965.2L176.0 2965.1L177.5 2964.9L179.0 2964.8L180.5 2964.9L182.0 2965.0L183.5 2965.1L185.0 2965.2L186.5 2965.3L188.0 2965.3L189.5 2965.3L191.0 2965.2L192.5 2965.1L194.0 2965.1L195.5 2965.1L197.0 2965.0L198.5 2964.9L200.0 2965.0L201.5 2965.2L203.0 2965.4L204.5 2965.1L206.0 2964.8L207.5 2964.8L209.0 2964.9L210.5 2964.9L212.0 2965.0L213.5 2965.0L215.0 2964.9L216.5 2964.8L218.0 2964.8L219.5 2964.8L221.0 2964.9L222.5 2965.2L224.0 2965.4L225.5 2965.3L227.0 2965.2L228.5 2965.1L230.0 2965.0L231.5 2964.9L233.0 2964.8L234.5 2964.6L236.0 2964.7L237.5 2964.8L239.0 2965.1L240.5 2965.4L242.0 2965.5L243.5 2965.1L245.0 2964.7L246.5 2964.8L248.0 2964.9L249.5 2965.1L251.0 2965.4L252.5 2965.5L254.0 2965.1L255.5 2964.8L257.0 2965.0L258.5 2965.3L260.0 2965.2L261.6 2964.9L263.1 2964.8L264.6 2965.0L266.1 2965.2L267.6 2965.1L269.1 2964.9L270.6 2964.9L272.1 2964.8L273.6 2964.9L275.1 2964.9L276.6 2965.0L278.1 2965.2L279.6 2965.3L281.1 2965.3L282.6 2965.2L284.1 2965.2L285.6 2965.1L287.1 2965.0L288.6 2965.1L290.1 2965.1L291.6 2965.1L293.1 2965.1L294.6 2965.1L296.1 2965.2L297.6 2965.3L299.1 2965.2L300.6 2965.2L302.1 2965.2L303.6 2965.1L305.1 2965.1L306.6 2965.1L308.1 2965.1L309.6 2964.9L311.1 2964.7L312.6 2964.7L314.1 2964.7L315.6 2964.7L317.1 2964.5L318.6 2964.4L320.1 2964.5L321.6 2964.7L323.1 2964.7L324.6 2964.8L326.1 2964.9L327.6 2965.2L329.1 2965.4L330.6 2965.2L332.1 2965.0L333.6 2964.9L335.1 2964.7L336.6 2964.5L338.1 2964.4L339.6 2964.3L341.1 2964.8L342.6 2965.2L344.1 2965.2L345.6 2965.1L347.1 2965.0L348.6 2965.1L350.1 2965.1L351.6 2965.1L353.1 2965.0L354.6 2965.0L356.1 2965.1L357.6 2965.1L359.1 2965.2L360.6 2965.3L362.1 2965.3L363.6 2965.3L365.1 2965.1L366.6 2964.9L368.1 2964.8L369.6 2964.8L371.1 2964.9L372.6 2964.8L374.1 2964.7L375.6 2964.8L377.1 2965.0L378.6 2965.0L380.1 2965.0L381.6 2965.0L383.1 2965.0L384.6 2965.0L386.1 2965.0L387.6 2965.0L389.1 2965.0L390.6 2965.1L392.1 2965.1L393.6 2965.0L395.1 2965.0L396.6 2965.0L398.1 2965.0L399.6 2965.0L401.1 2964.9L402.6 2964.8L404.1 2964.6L405.6 2964.4L407.1 2964.6L408.6 2964.8L410.1 2965.0L411.6 2965.1L413.1 2965.1L414.6 2965.0L416.1 2964.9L417.6 2964.9L419.1 2965.0L420.6 2965.0L422.1 2965.2L423.6 2965.4L425.1 2965.0L426.6 2964.6L428.1 2964.7L429.6 2965.0L431.1 2965.1L432.6 2965.0L434.1 2964.9L435.6 2964.9L437.1 2964.8L438.6 2964.8L440.1 2964.7L441.6 2964.7L443.1 2964.8L444.6 2964.9L446.1 2964.9L447.6 2964.9L449.1 2965.1L450.6 2965.4L452.1 2965.4L453.6 2965.2L455.1 2965.0L456.6 2965.2L458.1 2965.4L459.6 2965.2L461.1 2965.0L462.6 2964.9L464.1 2964.9L465.6 2964.9L467.1 2965.0L468.6 2965.1L470.1 2965.1L471.6 2965.2L473.1 2965.0L474.6 2964.6L476.1 2964.3L477.6 2964.5L479.1 2964.7L480.6 2964.9L482.1 2965.0L483.6 2965.0L485.1 2965.1L486.6 2965.1L488.1 2964.9L489.6 2964.8L491.1 2964.7L492.6 2964.6L494.1 2964.6L495.6 2964.9L497.1 2965.0L498.6 2964.9L500.1 2964.7L501.6 2964.8L503.2 2964.9L504.7 2965.0L506.2 2965.1L507.7 2965.1L509.2 2965.3L510.7 2965.4L512.2 2965.3L513.7 2965.1L515.2 2965.0L516.7 2965.1L518.2 2965.1L519.7 2965.0L521.2 2965.0L522.7 2964.8L524.2 2964.7L525.7 2964.7L527.2 2964.9L528.7 2965.0L530.2 2964.7L531.7 2964.5L533.2 2964.5L534.7 2964.7L536.2 2964.8L537.7 2965.0L539.2 2965.2L540.7 2965.1L542.2 2965.0L543.7 2964.9L545.2 2964.9L546.7 2965.1L548.2 2965.5L549.7 2965.9L551.2 2966.0L552.7 2966.2L554.2 2966.1L555.7 2966.0L557.2 2966.1L558.7 2966.5L560.2 2966.9L561.7 2966.8L563.2 2966.8L564.7 2967.1L566.2 2967.4L567.7 2967.5L569.2 2967.3L570.7 2967.1L572.2 2967.3L573.7 2967.6L575.2 2967.5L576.7 2967.4L578.2 2967.4L579.7 2967.6L581.2 2967.6L582.7 2967.2L584.2 2966.8L585.7 2966.7L587.2 2966.6L588.7 2966.6L590.2 2966.7L591.7 2966.7L593.2 2966.7L594.7 2966.6L596.2 2966.4L597.7 2966.0L599.2 2965.4L600.7 2964.6L602.2 2963.8L603.7 2962.8L605.2 2961.8L606.7 2961.0L608.2 2960.2L609.7 2959.7L611.2 2959.2L612.7 2958.7L614.2 2957.9L615.7 2957.2L617.2 2956.5L618.7 2955.8L620.2 2955.2L621.7 2954.7L623.2 2954.3L624.7 2953.6L626.2 2952.9L627.7 2952.3L629.2 2951.8L630.7 2951.1L632.2 2950.3L633.7 2949.5L635.2 2949.0L636.7 2948.5L638.2 2947.5L639.7 2946.4L641.2 2945.3L642.7 2944.1L644.2 2943.0L645.7 2941.9L647.2 2940.8L648.7 2939.8L650.2 2938.7L651.7 2937.4L653.2 2935.6L654.7 2933.6L656.2 2931.2L657.7 2928.6L659.2 2926.5L660.7 2924.5L662.2 2922.7L663.7 2920.8L665.2 2918.9L666.7 2917.1L668.2 2915.5L669.7 2914.6L671.2 2913.9L672.7 2913.4L674.2 2913.0L675.7 2913.0L677.2 2913.6L678.7 2914.7L680.2 2916.1L681.7 2917.8L683.2 2920.6L684.7 2924.1L686.2 2927.4L687.7 2930.0L689.2 2932.3L690.7 2934.0L692.2 2935.4L693.7 2936.9L695.2 2938.4L696.7 2939.9L698.2 2941.2L699.7 2942.5L701.2 2943.7L702.7 2944.8L704.2 2945.7L705.7 2946.5L707.2 2947.2L708.7 2947.8L710.2 2948.3L711.7 2948.4L713.2 2948.3L714.7 2948.3L716.2 2948.4L717.7 2948.3L719.2 2948.0L720.7 2947.7L722.2 2947.2L723.7 2946.7L725.2 2946.3L726.7 2945.8L728.2 2945.4L729.7 2944.9L731.2 2944.4L732.7 2943.6L734.2 2942.7L735.7 2942.3L737.2 2942.3L738.7 2942.3L740.2 2941.4L741.7 2940.5L743.2 2939.9L744.8 2939.4L746.3 2938.7L747.8 2937.7L749.3 2936.8L750.8 2936.0L752.3 2935.2L753.8 2934.4L755.3 2933.6L756.8 2932.6L758.3 2931.3L759.8 2930.1L761.3 2929.4L762.8 2928.8L764.3 2928.0L765.8 2927.2L767.3 2926.4L768.8 2925.6L770.3 2924.9L771.8 2924.2L773.3 2923.6L774.8 2923.0L776.3 2922.5L777.8 2922.3L779.3 2922.6L780.8 2922.9L782.3 2923.1L783.8 2923.4L785.3 2923.8L786.8 2924.3L788.3 2924.6L789.8 2924.7L791.3 2924.9L792.8 2925.4L794.3 2925.7L795.8 2926.0L797.3 2926.2L798.8 2926.4L800.3 2926.7L801.8 2926.9L803.3 2926.8L804.8 2926.7L806.3 2926.7L807.8 2926.7L809.3 2926.8L810.8 2927.0L812.3 2927.1L813.8 2927.1L815.3 2927.1L816.8 2927.1L818.3 2927.1L819.8 2926.5L821.3 2924.7L822.8 2922.5L824.3 2920.3L825.8 2918.1L827.3 2916.1L828.8 2914.6L830.3 2913.1L831.8 2911.5L833.3 2910.1L834.8 2909.1L836.3 2908.1L837.8 2907.2L839.3 2906.3L840.8 2905.3L842.3 2904.2L843.8 2903.2L845.3 2902.5L846.8 2901.9L848.3 2901.2L849.8 2900.5L851.3 2899.8L852.8 2899.0L854.3 2898.2L855.8 2897.0L857.3 2895.3L858.8 2893.3L860.3 2891.0L861.8 2888.9L863.3 2887.0L864.8 2885.4L866.3 2884.4L867.8 2883.6L869.3 2882.6L870.8 2881.6L872.3 2880.8L873.8 2880.0L875.3 2879.4L876.8 2879.0L878.3 2878.7L879.8 2878.4L881.3 2878.1L882.8 2877.7L884.3 2877.2L885.8 2876.7L887.3 2876.0L888.8 2875.2L890.3 2874.4L891.8 2873.7L893.3 2873.7L894.8 2874.1L896.3 2874.7L897.8 2874.9L899.3 2875.3L900.8 2875.9L902.3 2876.6L903.8 2877.7L905.3 2879.8L906.8 2882.3L908.3 2885.0L909.8 2887.7L911.3 2890.5L912.8 2893.8L914.3 2897.1L915.8 2899.6L917.3 2901.1L918.8 2902.2L920.3 2903.0L921.8 2903.6L923.3 2903.4L924.8 2902.2L926.3 2900.2L927.8 2898.0L929.3 2896.2L930.8 2894.2L932.3 2891.3L933.8 2888.3L935.3 2885.4L936.8 2882.9L938.3 2881.0L939.8 2879.6L941.3 2878.3L942.8 2877.1L944.3 2876.2L945.8 2875.9L947.3 2875.9L948.8 2876.0L950.3 2876.2L951.8 2876.4L953.3 2878.0L954.8 2880.8L956.3 2884.3L957.8 2888.2L959.3 2891.6L960.8 2894.9L962.3 2898.3L963.8 2901.5L965.3 2904.6L966.8 2907.9L968.3 2911.3L969.8 2914.5L971.3 2917.5L972.8 2920.4L974.3 2923.4L975.8 2926.1L977.3 2928.5L978.8 2930.3L980.3 2932.0L981.8 2933.6L983.3 2935.2L984.8 2936.6L986.4 2937.8L987.9 2938.8L989.4 2939.5L990.9 2940.0L992.4 2940.2L993.9 2940.3L995.4 2940.0L996.9 2939.6L998.4 2939.5L999.9 2939.6L1001.4 2939.6L1002.9 2939.4L1004.4 2938.8L1005.9 2937.2L1007.4 2934.9L1008.9 2932.5L1010.4 2930.0L1011.9 2926.6L1013.4 2921.1L1014.9 2914.0L1016.4 2906.0L1017.9 2897.5L1019.4 2888.5L1020.9 2877.6L1022.4 2865.6L1023.9 2853.1L1025.4 2841.5L1026.9 2831.3L1028.4 2821.3L1029.9 2812.2L1031.4 2804.7L1032.9 2798.5L1034.4 2793.0L1035.9 2788.4L1037.4 2784.7L1038.9 2781.8L1040.4 2779.6L1041.9 2778.6L1043.4 2779.9L1044.9 2783.3L1046.4 2787.2L1047.9 2790.0L1049.4 2792.7L1050.9 2795.7L1052.4 2798.6L1053.9 2801.4L1055.4 2804.2L1056.9 2806.9L1058.4 2809.5L1059.9 2812.0L1061.4 2814.3L1062.9 2816.3L1064.4 2818.7L1065.9 2822.0L1067.4 2825.6L1068.9 2828.2L1070.4 2830.8L1071.9 2833.6L1073.4 2836.5L1074.9 2838.9L1076.4 2840.7L1077.9 2842.1L1079.4 2842.8L1080.9 2843.4L1082.4 2844.4L1083.9 2845.7L1085.4 2846.9L1086.9 2847.7L1088.4 2848.6L1089.9 2849.6L1091.4 2850.8L1092.9 2851.8L1094.4 2852.8L1095.9 2853.9L1097.4 2855.1L1098.9 2856.3L1100.4 2857.8L1101.9 2859.4L1103.4 2860.6L1104.9 2861.5L1106.4 2862.8L1107.9 2864.9L1109.4 2867.3L1110.9 2869.5L1112.4 2871.9L1113.9 2874.4L1115.4 2877.1L1116.9 2879.8L1118.4 2882.3L1119.9 2884.9L1121.4 2887.7L1122.9 2890.6L1124.4 2893.5L1125.9 2896.3L1127.4 2899.2L1128.9 2902.1L1130.4 2905.0L1131.9 2907.7L1133.4 2910.4L1134.9 2912.9L1136.4 2915.4L1137.9 2917.7L1139.4 2920.0L1140.9 2922.2L1142.4 2924.4L1143.9 2926.6L1145.4 2928.4L1146.9 2930.0L1148.4 2931.6L1149.9 2933.4L1151.4 2935.3L1152.9 2936.5L1154.4 2937.4L1155.9 2938.2L1157.4 2939.2L1158.9 2940.0L1160.4 2940.1L1161.9 2940.2L1163.4 2940.5L1164.9 2940.8L1166.4 2941.0L1167.9 2941.1L1169.4 2941.3L1170.9 2941.8L1172.4 2942.3L1173.9 2942.8L1175.4 2943.4L1176.9 2944.0L1178.4 2944.6L1179.9 2945.4L1181.4 2946.3L1182.9 2947.2L1184.4 2947.7L1185.9 2948.0L1187.4 2948.4L1188.9 2948.7L1190.4 2949.2L1191.9 2949.9L1193.4 2950.5L1194.9 2950.5L1196.4 2949.6L1197.9 2947.7L1199.4 2945.8L1200.9 2945.1L1202.4 2946.1L1203.9 2948.0L1205.4 2949.4L1206.9 2950.0L1208.4 2949.2L1209.9 2947.5L1211.4 2946.3L1212.9 2946.4L1214.4 2947.0L1215.9 2947.7L1217.4 2948.4L1218.9 2949.0L1220.4 2949.4L1221.9 2949.7L1223.4 2950.1L1224.9 2950.5L1226.4 2950.5L1228.0 2950.4L1229.5 2950.3L1231.0 2950.1L1232.5 2949.5L1234.0 2948.8L1235.5 2947.9L1237.0 2946.6L1238.5 2945.4L1240.0 2944.7L1241.5 2944.4L1243.0 2944.0L1244.5 2943.7L1246.0 2943.3L1247.5 2942.6L1249.0 2941.9L1250.5 2941.2L1252.0 2940.4L1253.5 2939.4L1255.0 2938.4L1256.5 2937.5L1258.0 2937.1L1259.5 2937.1L1261.0 2937.5L1262.5 2938.0L1264.0 2938.6L1265.5 2939.1L1267.0 2939.2L1268.5 2938.4L1270.0 2936.9L1271.5 2935.4L1273.0 2934.2L1274.5 2934.0L1276.0 2934.4L1277.5 2935.2L1279.0 2936.3L1280.5 2937.3L1282.0 2937.3L1283.5 2936.6L1285.0 2935.8L1286.5 2935.1L1288.0 2934.5L1289.5 2934.3L1291.0 2934.2L1292.5 2933.8L1294.0 2933.5L1295.5 2933.2L1297.0 2933.1L1298.5 2933.2L1300.0 2933.1L1301.5 2933.1L1303.0 2933.4L1304.5 2933.9L1306.0 2934.3L1307.5 2934.5L1309.0 2934.6L1310.5 2935.3L1312.0 2936.1L1313.5 2936.8L1315.0 2937.7L1316.5 2938.7L1318.0 2939.9L1319.5 2941.4L1321.0 2943.8L1322.5 2946.1L1324.0 2946.6L1325.5 2945.5L1327.0 2943.7L1328.5 2942.0L1330.0 2940.7L1331.5 2940.3L1333.0 2941.5L1334.5 2944.0L1336.0 2946.9L1337.5 2949.0L1339.0 2949.4L1340.5 2948.3L1342.0 2946.0L1343.5 2943.6L1345.0 2942.0L1346.5 2941.9L1348.0 2942.4L1349.5 2943.3L1351.0 2944.3L1352.5 2945.6L1354.0 2946.8L1355.5 2947.1L1357.0 2946.6L1358.5 2945.3L1360.0 2943.9L1361.5 2942.7L1363.0 2941.8L1364.5 2941.6L1366.0 2941.6L1367.5 2941.9L1369.0 2942.5L1370.5 2943.5L1372.0 2944.8" stroke="#800000"/>
<path d="M140.0 2875.4L141.5 2875.7L143.0 2875.9L144.5 2875.9L146.0 2875.7L147.5 2875.6L149.0 2875.6L150.5 2875.6L152.0 2875.5L153.5 2875.4L155.0 2875.3L156.5 2875.3L158.0 2875.2L159.5 2875.2L161.0 2875.2L162.5 2875.3L164.0 2875.3L165.5 2875.3L167.0 2875.3L168.5 2875.2L170.0 2875.2L171.5 2875.1L173.0 2875.0L174.5 2874.9L176.0 2875.1L177.5 2875.4L179.0 2875.6L180.5 2875.4L182.0 2875.2L183.5 2874.9L185.0 2874.6L186.5 2874.7L188.0 2875.0L189.5 2875.3L191.0 2875.5L192.5 2875.7L194.0 2875.7L195.5 2875.6L197.0 2875.6L198.5 2875.7L200.0 2875.6L201.5 2875.3L203.0 2875.1L204.5 2875.1L206.0 2875.1L207.5 2875.2L209.0 2875.3L210.5 2875.4L212.0 2875.2L213.5 2875.0L215.0 2875.0L216.5 2875.1L218.0 2875.1L219.5 2875.1L221.0 2875.1L222.5 2875.1L224.0 2875.0L225.5 2874.9L227.0 2874.7L228.5 2874.8L230.0 2875.0L231.5 2875.2L233.0 2875.3L234.5 2875.5L236.0 2875.5L237.5 2875.5L239.0 2875.4L240.5 2875.3L242.0 2875.2L243.5 2875.1L245.0 2875.0L246.5 2875.2L248.0 2875.5L249.5 2875.4L251.0 2875.3L252.5 2875.2L254.0 2875.2L255.5 2875.2L257.0 2875.3L258.5 2875.4L260.0 2875.4L261.6 2875.3L263.1 2875.3L264.6 2875.4L266.1 2875.4L267.6 2875.6L269.1 2875.8L270.6 2875.6L272.1 2875.4L273.6 2875.3L275.1 2875.4L276.6 2875.6L278.1 2875.4L279.6 2875.2L281.1 2875.2L282.6 2875.2L284.1 2875.2L285.6 2875.1L287.1 2875.0L288.6 2875.3L290.1 2875.6L291.6 2875.6L293.1 2875.4L294.6 2875.3L296.1 2875.1L297.6 2874.9L299.1 2875.0L300.6 2875.1L302.1 2875.3L303.6 2875.6L305.1 2875.6L306.6 2875.2L308.1 2874.9L309.6 2874.7L311.1 2874.4L312.6 2874.7L314.1 2875.1L315.6 2875.3L317.1 2875.1L318.6 2874.9L320.1 2874.9L321.6 2874.9L323.1 2875.1L324.6 2875.3L326.1 2875.4L327.6 2875.3L329.1 2875.2L330.6 2875.1L332.1 2875.0L333.6 2875.1L335.1 2875.3L336.6 2875.4L338.1 2875.3L339.6 2875.2L341.1 2875.3L342.6 2875.4L344.1 2875.2L345.6 2874.9L347.1 2874.8L348.6 2875.1L350.1 2875.4L351.6 2875.3L353.1 2875.3L354.6 2875.1L356.1 2874.9L357.6 2874.8L359.1 2874.8L360.6 2874.9L362.1 2874.9L363.6 2875.0L365.1 2875.1L366.6 2875.1L368.1 2875.2L369.6 2875.2L371.1 2875.2L372.6 2875.0L374.1 2874.8L375.6 2875.0L377.1 2875.4L378.6 2875.3L380.1 2874.8L381.6 2874.3L383.1 2874.7L384.6 2875.1L386.1 2875.2L387.6 2875.3L389.1 2875.3L390.6 2875.2L392.1 2875.1L393.6 2875.2L395.1 2875.3L396.6 2875.3L398.1 2875.2L399.6 2875.1L401.1 2875.0L402.6 2874.9L404.1 2875.0L405.6 2875.0L407.1 2874.9L408.6 2874.7L410.1 2874.7L411.6 2874.9L413.1 2875.2L414.6 2875.0L416.1 2874.8L417.6 2875.0L419.1 2875.5L420.6 2875.5L422.1 2875.1L423.6 2874.7L425.1 2874.8L426.6 2874.8L428.1 2874.9L429.6 2874.9L431.1 2874.9L432.6 2875.0L434.1 2875.0L435.6 2875.0L437.1 2875.0L438.6 2874.9L440.1 2874.8L441.6 2874.8L443.1 2874.9L444.6 2875.1L446.1 2875.2L447.6 2875.3L449.1 2875.1L450.6 2874.9L452.1 2874.8L453.6 2874.7L455.1 2874.7L456.6 2874.6L458.1 2874.6L459.6 2874.7L461.1 2874.9L462.6 2875.0L464.1 2874.8L465.6 2874.6L467.1 2874.7L468.6 2874.8L470.1 2874.9L471.6 2874.9L473.1 2874.9L474.6 2874.9L476.1 2874.9L477.6 2875.0L479.1 2875.1L480.6 2875.0L482.1 2874.8L483.6 2874.8L485.1 2874.8L486.6 2874.9L488.1 2875.1L489.6 2875.4L491.1 2875.4L492.6 2875.2L494.1 2875.1L495.6 2875.2L497.1 2875.2L498.6 2875.0L500.1 2874.9L501.6 2874.7L503.2 2874.7L504.7 2874.7L506.2 2874.8L507.7 2874.9L509.2 2874.8L510.7 2874.7L512.2 2874.7L513.7 2874.7L515.2 2874.7L516.7 2874.7L518.2 2874.7L519.7 2875.0L521.2 2875.4L522.7 2875.3L524.2 2875.1L525.7 2875.1L527.2 2875.2L528.7 2875.3L530.2 2875.2L531.7 2875.1L533.2 2875.1L534.7 2875.1L536.2 2875.1L537.7 2874.9L539.2 2874.8L540.7 2874.8L542.2 2874.9L543.7 2874.9L545.2 2874.9L546.7 2874.9L548.2 2874.9L549.7 2875.0L551.2 2875.2L552.7 2875.4L554.2 2875.9L555.7 2876.4L557.2 2876.7L558.7 2876.5L560.2 2876.3L561.7 2876.6L563.2 2876.8L564.7 2877.1L566.2 2877.3L567.7 2877.5L569.2 2877.7L570.7 2877.9L572.2 2877.9L573.7 2877.9L575.2 2878.1L576.7 2878.4L578.2 2878.5L579.7 2878.5L581.2 2878.4L582.7 2878.5L584.2 2878.6L585.7 2878.6L587.2 2878.7L588.7 2878.4L590.2 2877.8L591.7 2877.2L593.2 2876.8L594.7 2876.2L596.2 2875.9L597.7 2875.5L599.2 2874.9L600.7 2874.1L602.2 2873.3L603.7 2872.5L605.2 2871.4L606.7 2870.3L608.2 2869.0L609.7 2867.8L611.2 2866.5L612.7 2865.1L614.2 2863.9L615.7 2862.6L617.2 2860.8L618.7 2858.9L620.2 2857.3L621.7 2856.1L623.2 2854.8L624.7 2853.0L626.2 2851.4L627.7 2850.3L629.2 2849.4L630.7 2848.5L632.2 2847.5L633.7 2846.6L635.2 2845.7L636.7 2844.7L638.2 2843.6L639.7 2842.6L641.2 2841.3L642.7 2839.7L644.2 2838.0L645.7 2836.4L647.2 2834.6L648.7 2832.9L650.2 2830.9L651.7 2827.9L653.2 2824.2L654.7 2820.3L656.2 2816.6L657.7 2812.9L659.2 2809.2L660.7 2805.3L662.2 2801.2L663.7 2797.2L665.2 2793.5L666.7 2790.3L668.2 2787.3L669.7 2785.0L671.2 2783.5L672.7 2782.5L674.2 2781.6L675.7 2781.2L677.2 2782.6L678.7 2785.1L680.2 2787.7L681.7 2790.9L683.2 2795.2L684.7 2799.9L686.2 2804.6L687.7 2809.4L689.2 2814.6L690.7 2819.8L692.2 2824.3L693.7 2828.1L695.2 2831.5L696.7 2834.7L698.2 2837.5L699.7 2839.8L701.2 2841.5L702.7 2843.2L704.2 2844.9L705.7 2846.5L707.2 2847.7L708.7 2848.1L710.2 2848.0L711.7 2848.1L713.2 2848.2L714.7 2848.4L716.2 2848.5L717.7 2848.6L719.2 2848.5L720.7 2848.4L722.2 2848.4L723.7 2848.1L725.2 2847.5L726.7 2846.8L728.2 2845.9L729.7 2845.0L731.2 2844.2L732.7 2843.4L734.2 2842.7L735.7 2842.0L737.2 2841.5L738.7 2841.0L740.2 2840.2L741.7 2839.5L743.2 2838.8L744.8 2838.1L746.3 2837.5L747.8 2837.0L749.3 2836.4L750.8 2835.5L752.3 2834.6L753.8 2833.9L755.3 2833.1L756.8 2832.3L758.3 2831.3L759.8 2830.1L761.3 2829.0L762.8 2827.7L764.3 2826.5L765.8 2825.4L767.3 2824.4L768.8 2823.6L770.3 2822.9L771.8 2822.3L773.3 2821.6L774.8 2820.8L776.3 2820.0L777.8 2819.4L779.3 2819.0L780.8 2818.6L782.3 2818.1L783.8 2817.7L785.3 2817.7L786.8 2817.9L788.3 2817.9L789.8 2818.0L791.3 2818.5L792.8 2819.6L794.3 2820.7L795.8 2821.3L797.3 2821.5L798.8 2821.3L800.3 2821.1L801.8 2821.0L803.3 2821.1L804.8 2821.2L806.3 2821.1L807.8 2821.0L809.3 2821.1L810.8 2821.3L812.3 2821.3L813.8 2820.9L815.3 2820.5L816.8 2820.0L818.3 2819.4L819.8 2818.5L821.3 2816.6L822.8 2813.9L824.3 2810.6L825.8 2807.3L827.3 2805.0L828.8 2803.6L830.3 2802.5L831.8 2801.4L833.3 2800.5L834.8 2799.5L836.3 2798.6L837.8 2797.6L839.3 2796.6L840.8 2795.4L842.3 2794.2L843.8 2793.1L845.3 2792.0L846.8 2790.8L848.3 2789.6L849.8 2788.3L851.3 2786.7L852.8 2784.8L854.3 2782.8L855.8 2780.9L857.3 2779.0L858.8 2776.7L860.3 2774.4L861.8 2772.4L863.3 2770.8L864.8 2769.1L866.3 2767.3L867.8 2765.5L869.3 2764.0L870.8 2762.7L872.3 2761.5L873.8 2760.5L875.3 2759.7L876.8 2759.1L878.3 2758.6L879.8 2758.4L881.3 2758.1L882.8 2757.7L884.3 2757.0L885.8 2756.2L887.3 2754.5L888.8 2752.2L890.3 2749.8L891.8 2748.0L893.3 2747.2L894.8 2746.9L896.3 2746.6L897.8 2746.2L899.3 2745.9L900.8 2745.9L902.3 2746.5L903.8 2747.6L905.3 2749.0L906.8 2750.7L908.3 2753.7L909.8 2757.8L911.3 2762.3L912.8 2766.2L914.3 2768.8L915.8 2770.9L917.3 2772.8L918.8 2774.4L920.3 2775.5L921.8 2775.9L923.3 2775.2L924.8 2773.3L926.3 2770.5L927.8 2767.3L929.3 2764.1L930.8 2759.9L932.3 2754.6L933.8 2749.0L935.3 2744.4L936.8 2741.5L938.3 2738.9L939.8 2736.4L941.3 2734.7L942.8 2734.3L944.3 2734.2L945.8 2734.0L947.3 2733.8L948.8 2734.2L950.3 2736.2L951.8 2739.0L953.3 2742.2L954.8 2745.7L956.3 2749.8L957.8 2754.3L959.3 2759.0L960.8 2763.9L962.3 2768.9L963.8 2774.7L965.3 2780.9L966.8 2786.7L968.3 2792.1L969.8 2797.1L971.3 2801.6L972.8 2805.7L974.3 2809.7L975.8 2813.5L977.3 2816.8L978.8 2819.8L980.3 2822.6L981.8 2825.6L983.3 2828.6L984.8 2831.6L986.4 2834.3L987.9 2836.5L989.4 2837.8L990.9 2838.4L992.4 2838.7L993.9 2839.1L995.4 2839.4L996.9 2839.6L998.4 2839.7L999.9 2839.6L1001.4 2839.3L1002.9 2838.8L1004.4 2838.1L1005.9 2836.9L1007.4 2835.4L1008.9 2833.8L1010.4 2831.0L1011.9 2826.5L1013.4 2820.8L1014.9 2814.2L1016.4 2807.1L1017.9 2798.7L1019.4 2788.6L1020.9 2777.6L1022.4 2766.2L1023.9 2755.4L1025.4 2745.1L1026.9 2734.5L1028.4 2724.1L1029.9 2714.5L1031.4 2706.0L1032.9 2698.5L1034.4 2691.4L1035.9 2685.5L1037.4 2681.3L1038.9 2678.4L1040.4 2676.1L1041.9 2675.0L1043.4 2676.0L1044.9 2678.6L1046.4 2681.6L1047.9 2684.4L1049.4 2687.1L1050.9 2689.7L1052.4 2692.3L1053.9 2695.0L1055.4 2697.7L1056.9 2700.5L1058.4 2703.7L1059.9 2707.0L1061.4 2710.0L1062.9 2712.9L1064.4 2715.9L1065.9 2719.1L1067.4 2722.3L1068.9 2725.6L1070.4 2728.7L1071.9 2731.7L1073.4 2734.4L1074.9 2736.7L1076.4 2738.6L1077.9 2740.4L1079.4 2742.2L1080.9 2743.9L1082.4 2745.3L1083.9 2746.5L1085.4 2747.5L1086.9 2748.8L1088.4 2749.9L1089.9 2750.7L1091.4 2751.5L1092.9 2752.5L1094.4 2753.6L1095.9 2754.9L1097.4 2756.2L1098.9 2757.5L1100.4 2758.8L1101.9 2760.1L1103.4 2761.7L1104.9 2763.5L1106.4 2765.5L1107.9 2767.8L1109.4 2770.4L1110.9 2773.1L1112.4 2775.8L1113.9 2778.6L1115.4 2781.6L1116.9 2784.5L1118.4 2787.5L1119.9 2790.4L1121.4 2793.1L1122.9 2795.7L1124.4 2798.4L1125.9 2801.1L1127.4 2803.7L1128.9 2806.2L1130.4 2808.6L1131.9 2810.9L1133.4 2813.2L1134.9 2815.7L1136.4 2818.4L1137.9 2821.1L1139.4 2823.9L1140.9 2826.7L1142.4 2829.0L1143.9 2831.1L1145.4 2833.5L1146.9 2836.0L1148.4 2838.0L1149.9 2839.8L1151.4 2841.7L1152.9 2843.1L1154.4 2844.4L1155.9 2845.5L1157.4 2846.3L1158.9 2846.8L1160.4 2846.7L1161.9 2846.3L1163.4 2846.2L1164.9 2846.1L1166.4 2845.6L1167.9 2845.2L1169.4 2845.5L1170.9 2846.6L1172.4 2848.1L1173.9 2849.6L1175.4 2851.1L1176.9 2852.3L1178.4 2853.1L1179.9 2853.6L1181.4 2854.0L1182.9 2854.4L1184.4 2855.2L1185.9 2855.9L1187.4 2856.5L1188.9 2856.9L1190.4 2857.0L1191.9 2856.9L1193.4 2856.7L1194.9 2856.7L1196.4 2856.7L1197.9 2856.3L1199.4 2855.7L1200.9 2855.1L1202.4 2854.9L1203.9 2854.7L1205.4 2854.7L1206.9 2854.7L1208.4 2854.8L1209.9 2855.0L1211.4 2855.3L1212.9 2855.7L1214.4 2856.1L1215.9 2856.5L1217.4 2856.8L1218.9 2857.0L1220.4 2857.1L1221.9 2857.2L1223.4 2857.6L1224.9 2857.9L1226.4 2857.5L1228.0 2856.9L1229.5 2856.6L1231.0 2856.4L1232.5 2856.1L1234.0 2855.3L1235.5 2854.5L1237.0 2854.1L1238.5 2853.7L1240.0 2853.5L1241.5 2853.1L1243.0 2852.3L1244.5 2851.0L1246.0 2849.6L1247.5 2848.3L1249.0 2847.0L1250.5 2845.7L1252.0 2844.6L1253.5 2843.7L1255.0 2843.5L1256.5 2843.4L1258.0 2843.0L1259.5 2842.6L1261.0 2842.4L1262.5 2842.3L1264.0 2842.1L1265.5 2841.5L1267.0 2840.9L1268.5 2840.6L1270.0 2840.3L1271.5 2839.9L1273.0 2839.4L1274.5 2838.9L1276.0 2838.6L1277.5 2838.4L1279.0 2838.1L1280.5 2837.9L1282.0 2837.7L1283.5 2837.6L1285.0 2837.6L1286.5 2837.7L1288.0 2837.8L1289.5 2837.6L1291.0 2836.7L1292.5 2835.4L1294.0 2834.2L1295.5 2833.9L1297.0 2835.0L1298.5 2836.7L1300.0 2838.5L1301.5 2839.3L1303.0 2839.0L1304.5 2838.3L1306.0 2837.8L1307.5 2837.9L1309.0 2838.2L1310.5 2838.3L1312.0 2838.8L1313.5 2839.6L1315.0 2840.5L1316.5 2841.4L1318.0 2842.7L1319.5 2844.4L1321.0 2846.7L1322.5 2848.4L1324.0 2848.8L1325.5 2847.3L1327.0 2845.1L1328.5 2843.8L1330.0 2844.1L1331.5 2845.1L1333.0 2846.5L1334.5 2848.2L1336.0 2849.8L1337.5 2850.9L1339.0 2851.1L1340.5 2850.4L1342.0 2849.5L1343.5 2848.3L1345.0 2847.0L1346.5 2845.8L1348.0 2845.3L1349.5 2845.5L1351.0 2846.4L1352.5 2847.3L1354.0 2848.4L1355.5 2849.4L1357.0 2850.2L1358.5 2851.0L1360.0 2851.5L1361.5 2851.9L1363.0 2852.2L1364.5 2852.4L1366.0 2852.5L1367.5 2852.5L1369.0 2852.5L1370.5 2852.4L1372.0 2852.3" stroke="#FF8000"/>
<path d="M140.0 2791.5L141.5 2791.4L143.0 2791.3L144.5 2791.3L146.0 2791.2L147.5 2791.2L149.0 2791.3L150.5 2791.4L152.0 2791.5L153.5 2791.5L155.0 2791.6L156.5 2791.6L158.0 2791.6L159.5 2791.6L161.0 2791.5L162.5 2791.5L164.0 2791.5L165.5 2791.4L167.0 2791.4L168.5 2791.3L170.0 2791.3L171.5 2791.2L173.0 2791.2L174.5 2791.2L176.0 2791.1L177.5 2790.9L179.0 2790.8L180.5 2790.7L182.0 2790.7L183.5 2790.8L185.0 2790.9L186.5 2791.1L188.0 2791.3L189.5 2791.4L191.0 2791.2L192.5 2791.1L194.0 2790.9L195.5 2790.8L197.0 2790.8L198.5 2790.9L200.0 2790.9L201.5 2791.0L203.0 2791.1L204.5 2791.2L206.0 2791.3L207.5 2791.2L209.0 2791.0L210.5 2790.9L212.0 2790.9L213.5 2790.9L215.0 2791.0L216.5 2791.1L218.0 2791.1L219.5 2791.0L221.0 2790.9L222.5 2790.8L224.0 2790.7L225.5 2790.7L227.0 2790.8L228.5 2790.9L230.0 2791.0L231.5 2791.0L233.0 2790.7L234.5 2790.4L236.0 2790.5L237.5 2790.6L239.0 2790.7L240.5 2790.9L242.0 2791.0L243.5 2790.9L245.0 2790.8L246.5 2790.7L248.0 2790.6L249.5 2790.6L251.0 2790.7L252.5 2790.6L254.0 2790.4L255.5 2790.1L257.0 2790.1L258.5 2790.1L260.0 2790.1L261.6 2790.3L263.1 2790.2L264.6 2789.8L266.1 2789.4L267.6 2789.8L269.1 2790.1L270.6 2790.4L272.1 2790.7L273.6 2790.8L275.1 2790.4L276.6 2790.1L278.1 2790.3L279.6 2790.4L281.1 2790.5L282.6 2790.6L284.1 2790.6L285.6 2790.6L287.1 2790.5L288.6 2790.4L290.1 2790.3L291.6 2790.1L293.1 2790.0L294.6 2790.0L296.1 2790.5L297.6 2790.9L299.1 2790.4L300.6 2789.9L302.1 2789.9L303.6 2790.2L305.1 2790.4L306.6 2790.5L308.1 2790.6L309.6 2790.5L311.1 2790.4L312.6 2790.1L314.1 2789.8L315.6 2789.8L317.1 2790.1L318.6 2790.4L320.1 2790.3L321.6 2790.3L323.1 2790.3L324.6 2790.4L326.1 2790.4L327.6 2790.2L329.1 2790.0L330.6 2790.1L332.1 2790.1L333.6 2790.0L335.1 2789.9L336.6 2789.9L338.1 2790.1L339.6 2790.3L341.1 2790.4L342.6 2790.5L344.1 2790.5L345.6 2790.4L347.1 2790.4L348.6 2790.4L350.1 2790.3L351.6 2790.3L353.1 2790.2L354.6 2790.2L356.1 2790.2L357.6 2790.2L359.1 2790.2L360.6 2790.2L362.1 2790.3L363.6 2790.3L365.1 2790.3L366.6 2790.2L368.1 2790.2L369.6 2790.3L371.1 2790.4L372.6 2790.3L374.1 2790.1L375.6 2790.1L377.1 2790.2L378.6 2790.3L380.1 2790.3L381.6 2790.4L383.1 2790.4L384.6 2790.5L386.1 2790.5L387.6 2790.4L389.1 2790.4L390.6 2790.2L392.1 2790.1L393.6 2790.2L395.1 2790.3L396.6 2790.2L398.1 2790.1L399.6 2790.1L401.1 2790.2L402.6 2790.3L404.1 2790.3L405.6 2790.4L407.1 2790.2L408.6 2790.0L410.1 2789.8L411.6 2789.8L413.1 2789.7L414.6 2789.6L416.1 2789.5L417.6 2789.6L419.1 2789.8L420.6 2790.0L422.1 2790.0L423.6 2790.1L425.1 2790.0L426.6 2789.9L428.1 2790.0L429.6 2790.1L431.1 2790.2L432.6 2790.3L434.1 2790.4L435.6 2790.3L437.1 2790.2L438.6 2790.2L440.1 2790.3L441.6 2790.2L443.1 2789.8L444.6 2789.6L446.1 2789.8L447.6 2790.1L449.1 2790.2L450.6 2790.2L452.1 2790.2L453.6 2790.1L455.1 2790.0L456.6 2790.2L458.1 2790.4L459.6 2790.4L461.1 2790.4L462.6 2790.4L464.1 2790.4L465.6 2790.3L467.1 2790.1L468.6 2789.9L470.1 2789.9L471.6 2790.0L473.1 2790.0L474.6 2789.9L476.1 2789.9L477.6 2790.1L479.1 2790.3L480.6 2790.1L482.1 2789.7L483.6 2789.7L485.1 2790.1L486.6 2790.4L488.1 2790.3L489.6 2790.1L491.1 2790.1L492.6 2790.2L494.1 2790.2L495.6 2790.3L497.1 2790.3L498.6 2790.1L500.1 2790.0L501.6 2790.0L503.2 2790.0L504.7 2790.0L506.2 2790.0L507.7 2789.9L509.2 2789.9L510.7 2789.9L512.2 2789.8L513.7 2789.6L515.2 2789.6L516.7 2789.8L518.2 2790.0L519.7 2790.0L521.2 2790.0L522.7 2790.0L524.2 2789.9L525.7 2789.9L527.2 2789.8L528.7 2789.8L530.2 2789.8L531.7 2789.8L533.2 2789.9L534.7 2790.1L536.2 2790.2L537.7 2790.3L539.2 2790.3L540.7 2790.2L542.2 2790.2L543.7 2790.2L545.2 2790.3L546.7 2790.3L548.2 2790.2L549.7 2790.1L551.2 2790.6L552.7 2791.1L554.2 2791.4L555.7 2791.7L557.2 2791.9L558.7 2792.1L560.2 2792.3L561.7 2792.1L563.2 2791.9L564.7 2792.1L566.2 2792.4L567.7 2792.7L569.2 2792.9L570.7 2793.1L572.2 2793.0L573.7 2792.9L575.2 2793.1L576.7 2793.3L578.2 2793.5L579.7 2793.7L581.2 2793.8L582.7 2793.7L584.2 2793.5L585.7 2793.3L587.2 2793.1L588.7 2792.7L590.2 2792.3L591.7 2791.8L593.2 2791.8L594.7 2791.6L596.2 2791.0L597.7 2790.2L599.2 2789.3L600.7 2788.4L602.2 2787.5L603.7 2786.7L605.2 2785.6L606.7 2784.3L608.2 2782.7L609.7 2781.1L611.2 2779.3L612.7 2777.5L614.2 2775.8L615.7 2774.0L617.2 2772.4L618.7 2770.9L620.2 2769.2L621.7 2767.2L623.2 2765.3L624.7 2763.7L626.2 2762.0L627.7 2760.1L629.2 2758.2L630.7 2756.5L632.2 2755.1L633.7 2753.6L635.2 2751.5L636.7 2749.4L638.2 2747.8L639.7 2746.4L641.2 2744.8L642.7 2742.9L644.2 2741.0L645.7 2739.6L647.2 2738.0L648.7 2735.5L650.2 2732.5L651.7 2729.3L653.2 2726.1L654.7 2722.6L656.2 2718.5L657.7 2714.3L659.2 2710.0L660.7 2705.1L662.2 2700.3L663.7 2695.8L665.2 2691.7L666.7 2687.8L668.2 2684.1L669.7 2680.8L671.2 2678.5L672.7 2677.4L674.2 2676.9L675.7 2676.9L677.2 2678.1L678.7 2680.4L680.2 2682.9L681.7 2686.4L683.2 2691.1L684.7 2696.5L686.2 2702.1L687.7 2708.1L689.2 2714.7L690.7 2721.1L692.2 2727.0L693.7 2732.2L695.2 2737.4L696.7 2742.3L698.2 2746.6L699.7 2750.1L701.2 2752.6L702.7 2754.8L704.2 2756.7L705.7 2758.4L707.2 2759.8L708.7 2761.4L710.2 2762.6L711.7 2763.5L713.2 2764.3L714.7 2765.0L716.2 2765.7L717.7 2766.3L719.2 2766.9L720.7 2767.3L722.2 2767.3L723.7 2767.0L725.2 2766.8L726.7 2766.6L728.2 2766.4L729.7 2766.1L731.2 2765.8L732.7 2765.5L734.2 2765.1L735.7 2764.4L737.2 2763.3L738.7 2762.3L740.2 2761.5L741.7 2760.8L743.2 2759.9L744.8 2759.0L746.3 2758.3L747.8 2757.7L749.3 2757.2L750.8 2756.9L752.3 2756.6L753.8 2756.2L755.3 2755.7L756.8 2755.2L758.3 2754.5L759.8 2753.3L761.3 2751.6L762.8 2749.6L764.3 2747.9L765.8 2746.3L767.3 2744.9L768.8 2743.7L770.3 2742.8L771.8 2741.7L773.3 2740.8L774.8 2740.1L776.3 2739.5L777.8 2739.0L779.3 2738.5L780.8 2738.0L782.3 2737.4L783.8 2736.8L785.3 2736.5L786.8 2736.3L788.3 2736.3L789.8 2736.4L791.3 2736.6L792.8 2737.2L794.3 2737.7L795.8 2738.0L797.3 2738.0L798.8 2738.1L800.3 2738.2L801.8 2738.3L803.3 2738.3L804.8 2738.4L806.3 2738.5L807.8 2738.6L809.3 2738.7L810.8 2738.5L812.3 2738.1L813.8 2737.6L815.3 2736.9L816.8 2736.3L818.3 2735.6L819.8 2734.5L821.3 2732.3L822.8 2729.6L824.3 2726.6L825.8 2723.8L827.3 2721.3L828.8 2719.4L830.3 2717.9L831.8 2716.6L833.3 2715.4L834.8 2714.3L836.3 2713.2L837.8 2712.4L839.3 2711.5L840.8 2710.4L842.3 2709.3L843.8 2708.1L845.3 2706.7L846.8 2705.3L848.3 2704.0L849.8 2702.6L851.3 2701.0L852.8 2699.2L854.3 2697.2L855.8 2695.1L857.3 2693.0L858.8 2690.7L860.3 2688.4L861.8 2686.4L863.3 2684.8L864.8 2683.2L866.3 2681.6L867.8 2680.0L869.3 2678.8L870.8 2677.6L872.3 2676.2L873.8 2674.8L875.3 2673.4L876.8 2672.5L878.3 2671.6L879.8 2670.6L881.3 2669.6L882.8 2668.6L884.3 2667.5L885.8 2666.2L887.3 2664.6L888.8 2662.4L890.3 2659.7L891.8 2657.0L893.3 2654.9L894.8 2653.6L896.3 2652.9L897.8 2652.0L899.3 2651.2L900.8 2650.6L902.3 2650.3L903.8 2650.5L905.3 2651.5L906.8 2653.0L908.3 2655.0L909.8 2657.9L911.3 2661.8L912.8 2666.1L914.3 2670.0L915.8 2672.7L917.3 2674.4L918.8 2675.8L920.3 2676.7L921.8 2677.6L923.3 2677.4L924.8 2675.3L926.3 2671.6L927.8 2667.3L929.3 2662.9L930.8 2656.8L932.3 2648.9L933.8 2640.7L935.3 2634.2L936.8 2630.7L938.3 2628.2L939.8 2625.8L941.3 2624.3L942.8 2623.7L944.3 2623.3L945.8 2623.0L947.3 2623.0L948.8 2623.4L950.3 2624.9L951.8 2627.2L953.3 2629.6L954.8 2633.0L956.3 2638.1L957.8 2644.4L959.3 2651.0L960.8 2657.2L962.3 2663.3L963.8 2670.4L965.3 2677.9L966.8 2684.7L968.3 2691.0L969.8 2696.8L971.3 2702.6L972.8 2708.0L974.3 2713.3L975.8 2718.4L977.3 2723.1L978.8 2727.4L980.3 2731.6L981.8 2735.8L983.3 2740.1L984.8 2744.4L986.4 2748.2L987.9 2751.3L989.4 2753.5L990.9 2754.6L992.4 2755.3L993.9 2756.0L995.4 2756.7L996.9 2757.2L998.4 2757.5L999.9 2757.5L1001.4 2757.1L1002.9 2756.3L1004.4 2755.1L1005.9 2753.7L1007.4 2752.1L1008.9 2750.2L1010.4 2746.9L1011.9 2741.7L1013.4 2735.0L1014.9 2727.7L1016.4 2720.0L1017.9 2711.8L1019.4 2702.6L1020.9 2693.0L1022.4 2683.4L1023.9 2674.6L1025.4 2666.4L1026.9 2658.1L1028.4 2650.1L1029.9 2642.9L1031.4 2636.8L1032.9 2631.4L1034.4 2626.0L1035.9 2621.5L1037.4 2618.3L1038.9 2616.3L1040.4 2615.0L1041.9 2614.7L1043.4 2615.9L1044.9 2618.3L1046.4 2621.2L1047.9 2623.7L1049.4 2626.2L1050.9 2628.8L1052.4 2631.3L1053.9 2633.5L1055.4 2635.6L1056.9 2637.6L1058.4 2639.9L1059.9 2642.3L1061.4 2644.9L1062.9 2647.7L1064.4 2650.8L1065.9 2654.0L1067.4 2657.2L1068.9 2660.0L1070.4 2662.5L1071.9 2665.4L1073.4 2668.5L1074.9 2671.3L1076.4 2673.4L1077.9 2675.2L1079.4 2677.1L1080.9 2678.9L1082.4 2680.6L1083.9 2682.0L1085.4 2683.4L1086.9 2684.6L1088.4 2685.7L1089.9 2686.6L1091.4 2687.3L1092.9 2687.6L1094.4 2687.7L1095.9 2687.9L1097.4 2688.3L1098.9 2689.0L1100.4 2690.2L1101.9 2692.0L1103.4 2694.5L1104.9 2697.4L1106.4 2700.2L1107.9 2702.5L1109.4 2704.8L1110.9 2707.3L1112.4 2710.0L1113.9 2712.8L1115.4 2715.8L1116.9 2718.5L1118.4 2720.7L1119.9 2722.8L1121.4 2724.9L1122.9 2727.0L1124.4 2728.9L1125.9 2730.8L1127.4 2732.6L1128.9 2734.3L1130.4 2736.1L1131.9 2738.0L1133.4 2739.8L1134.9 2741.6L1136.4 2743.4L1137.9 2745.1L1139.4 2746.7L1140.9 2748.4L1142.4 2750.6L1143.9 2753.1L1145.4 2755.7L1146.9 2758.3L1148.4 2760.8L1149.9 2763.0L1151.4 2764.8L1152.9 2766.1L1154.4 2767.1L1155.9 2768.0L1157.4 2768.6L1158.9 2769.3L1160.4 2769.9L1161.9 2770.5L1163.4 2771.0L1164.9 2771.6L1166.4 2772.0L1167.9 2772.3L1169.4 2772.8L1170.9 2773.4L1172.4 2774.1L1173.9 2774.6L1175.4 2775.1L1176.9 2775.6L1178.4 2776.1L1179.9 2776.6L1181.4 2777.3L1182.9 2777.9L1184.4 2778.3L1185.9 2778.4L1187.4 2778.3L1188.9 2778.1L1190.4 2778.0L1191.9 2778.1L1193.4 2778.3L1194.9 2777.9L1196.4 2777.6L1197.9 2777.3L1199.4 2777.0L1200.9 2776.8L1202.4 2776.8L1203.9 2776.8L1205.4 2776.8L1206.9 2776.7L1208.4 2776.6L1209.9 2776.6L1211.4 2776.9L1212.9 2777.7L1214.4 2778.5L1215.9 2779.1L1217.4 2779.5L1218.9 2780.0L1220.4 2780.4L1221.9 2780.5L1223.4 2780.5L1224.9 2780.4L1226.4 2779.8L1228.0 2779.1L1229.5 2779.0L1231.0 2779.2L1232.5 2779.1L1234.0 2778.3L1235.5 2777.4L1237.0 2776.7L1238.5 2775.9L1240.0 2775.0L1241.5 2774.2L1243.0 2773.3L1244.5 2772.6L1246.0 2771.9L1247.5 2771.0L1249.0 2770.1L1250.5 2769.1L1252.0 2768.1L1253.5 2767.2L1255.0 2766.7L1256.5 2766.2L1258.0 2765.8L1259.5 2765.4L1261.0 2765.0L1262.5 2764.6L1264.0 2764.1L1265.5 2763.6L1267.0 2763.1L1268.5 2762.7L1270.0 2762.4L1271.5 2762.2L1273.0 2762.0L1274.5 2761.8L1276.0 2761.5L1277.5 2761.3L1279.0 2760.8L1280.5 2760.3L1282.0 2760.0L1283.5 2759.8L1285.0 2759.3L1286.5 2758.5L1288.0 2757.7L1289.5 2757.4L1291.0 2757.3L1292.5 2757.5L1294.0 2757.8L1295.5 2758.1L1297.0 2758.4L1298.5 2758.7L1300.0 2759.5L1301.5 2761.0L1303.0 2762.6L1304.5 2764.0L1306.0 2764.6L1307.5 2764.5L1309.0 2764.2L1310.5 2763.9L1312.0 2763.6L1313.5 2763.4L1315.0 2763.2L1316.5 2762.8L1318.0 2762.1L1319.5 2762.1L1321.0 2763.7L1322.5 2765.9L1324.0 2767.8L1325.5 2768.4L1327.0 2767.9L1328.5 2766.7L1330.0 2765.6L1331.5 2765.4L1333.0 2766.0L1334.5 2766.9L1336.0 2768.0L1337.5 2768.8L1339.0 2769.2L1340.5 2768.7L1342.0 2767.4L1343.5 2766.3L1345.0 2765.8L1346.5 2765.7L1348.0 2765.9L1349.5 2766.5L1351.0 2767.1L1352.5 2767.9L1354.0 2768.8L1355.5 2769.8L1357.0 2770.8L1358.5 2771.8L1360.0 2772.6L1361.5 2772.7L1363.0 2772.8L1364.5 2772.8L1366.0 2772.7L1367.5 2772.5L1369.0 2772.1L1370.5 2771.5L1372.0 2770.7" stroke="#80FFF8"/>
</g>
<line x1="630.9" y1="2722.2" x2="630.9" y2="3138.5" stroke="#000" shape-rendering="crispEdges" stroke-width="5.6" stroke-dasharray="24.1 19.8"/>
<line x1="675.7" y1="2652.0" x2="675.7" y2="3245.3" stroke="#000" shape-rendering="crispEdges" stroke-width="5.6" stroke-dasharray="24.1 19.8"/>
<line x1="781.1" y1="2700.5" x2="781.1" y2="3247.3" stroke="#000" shape-rendering="crispEdges" stroke-width="5.6" stroke-dasharray="24.1 19.8"/>
<line x1="896.8" y1="2624.1" x2="896.8" y2="3304.5" stroke="#000" shape-rendering="crispEdges" stroke-width="5.6" stroke-dasharray="24.1 19.8"/>
<line x1="945.7" y1="2582.7" x2="945.7" y2="3262.5" stroke="#000" shape-rendering="crispEdges" stroke-width="5.6" stroke-dasharray="24.1 19.8"/>
<line x1="1041.7" y1="2587.7" x2="1041.7" y2="3311.2" stroke="#000" shape-rendering="crispEdges" stroke-width="5.6" stroke-dasharray="24.1 19.8"/>
<line x1="1108.0" y1="2667.9" x2="1108.0" y2="3303.6" stroke="#000" shape-rendering="crispEdges" stroke-width="5.6" stroke-dasharray="24.1 19.8"/>
<line x1="1300.5" y1="2735.2" x2="1300.5" y2="3309.3" stroke="#000" shape-rendering="crispEdges" stroke-width="5.6" stroke-dasharray="24.1 19.8"/>
<text x="165.6" y="2597.0" font-size="77" textLength="61.2" lengthAdjust="spacingAndGlyphs">C</text>
<line x1="342.5" y1="2524.2" x2="342.5" y2="2614.3" stroke="#000" stroke-width="5.8"/>
<text x="360.0" y="2582.8" font-size="38.5" textLength="88.6" lengthAdjust="spacingAndGlyphs">0.001</text>
<text x="573.0" y="2708.0" font-size="40" textLength="80.2" lengthAdjust="spacingAndGlyphs">1599</text>
<text x="639.5" y="2632.0" font-size="40" textLength="79.0" lengthAdjust="spacingAndGlyphs">1568</text>
<text x="740.3" y="2688.2" font-size="40" textLength="78.6" lengthAdjust="spacingAndGlyphs">1475</text>
<text x="856.8" y="2611.8" font-size="40" textLength="75.6" lengthAdjust="spacingAndGlyphs">1383</text>
<text x="907.6" y="2560.2" font-size="40" textLength="78.4" lengthAdjust="spacingAndGlyphs">1348</text>
<text x="1000.6" y="2568.6" font-size="40" textLength="78.9" lengthAdjust="spacingAndGlyphs">1267</text>
<text x="1079.3" y="2652.9" font-size="40" textLength="77.9" lengthAdjust="spacingAndGlyphs">1225</text>
<text x="1261.7" y="2721.0" font-size="40" textLength="78.1" lengthAdjust="spacingAndGlyphs">1055</text>
<text x="167.0" y="2784.8" font-size="40" textLength="41.0" lengthAdjust="spacingAndGlyphs">60</text>
<text x="166.8" y="2866.6" font-size="40" textLength="40.0" lengthAdjust="spacingAndGlyphs">50</text>
<text x="165.0" y="2948.5" font-size="40" textLength="39.9" lengthAdjust="spacingAndGlyphs">40</text>
<text x="164.4" y="3029.3" font-size="40" textLength="40.2" lengthAdjust="spacingAndGlyphs">30</text>
<text x="163.1" y="3105.5" font-size="40" textLength="40.0" lengthAdjust="spacingAndGlyphs">20</text>
<text x="163.6" y="3167.7" font-size="40" textLength="39.3" lengthAdjust="spacingAndGlyphs">10</text>
<text x="173.0" y="3219.4" font-size="40" textLength="21.1" lengthAdjust="spacingAndGlyphs">5</text>
<text x="172.9" y="3275.6" font-size="40" textLength="21.4" lengthAdjust="spacingAndGlyphs">2</text>
<text x="175.5" y="3325.7" font-size="40" textLength="18.5" lengthAdjust="spacingAndGlyphs">1</text>
<text x="173.1" y="3372.1" font-size="40" textLength="20.9" lengthAdjust="spacingAndGlyphs">0</text>
<text x="546.7" y="3566.9" font-size="61.5" textLength="346.9" lengthAdjust="spacingAndGlyphs">Wavenumber</text>
<text x="907.8" y="3566.9" font-size="61.5" textLength="95.3" lengthAdjust="spacingAndGlyphs">(cm</text>
<text x="1004.6" y="3542.7" font-size="43" textLength="45.9" lengthAdjust="spacingAndGlyphs">−1</text>
<text x="1048.6" y="3566.9" font-size="61.5" textLength="22.9" lengthAdjust="spacingAndGlyphs">)</text>
<text transform="translate(82.8 3153.2) rotate(-90)" font-size="61.5" textLength="381.1" lengthAdjust="spacingAndGlyphs">Intensity (a.u.)</text>
</svg>
</body></html>
